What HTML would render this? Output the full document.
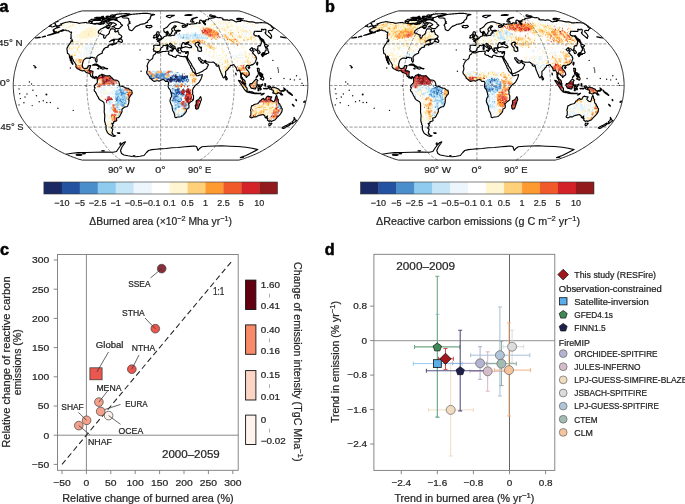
<!DOCTYPE html>
<html><head><meta charset="utf-8"><style>
html,body{margin:0;padding:0;background:#fff;}
svg{display:block;will-change:transform;}
text{font-family:'Liberation Sans',sans-serif;}
</style></head><body>
<svg width="685" height="504" viewBox="0 0 685 504">
<defs>
<clipPath id="landclip"><path d="M56.8,26.1L57.7,25.8L58.7,25.6L59.5,25.4L60.3,25.3L61.6,25.0L61.4,24.5L61.0,24.1L60.7,23.9L61.6,23.7L62.6,23.4L64.4,22.8L65.9,22.3L66.9,22.2L67.9,22.0L68.9,21.8L69.8,21.6L70.2,21.7L70.7,21.9L71.3,21.9L72.0,22.0L72.6,22.1L73.2,22.2L73.7,22.3L74.2,22.4L74.8,22.5L75.4,22.5L76.0,22.5L76.6,22.5L76.9,22.7L77.3,22.8L77.8,22.9L78.3,23.0L78.7,23.2L79.0,23.4L79.9,23.2L80.7,23.0L81.6,23.0L82.5,22.8L83.4,22.7L84.1,22.6L84.7,22.6L85.4,22.5L86.1,22.3L86.4,22.6L86.7,22.9L87.2,23.0L87.7,23.0L88.5,22.9L89.2,22.7L89.6,22.9L90.0,23.1L90.4,23.3L91.0,23.3L91.5,23.4L92.1,23.4L92.5,23.6L92.9,23.8L93.4,23.9L93.9,24.0L94.4,24.1L95.2,24.1L96.0,24.0L97.3,23.5L97.6,23.8L98.0,24.1L98.6,24.2L99.3,24.3L99.9,24.3L100.5,24.3L101.1,24.3L102.5,23.7L103.1,24.1L104.7,23.0L105.0,22.2L105.4,21.4L106.7,21.1L106.8,21.8L106.7,22.6L107.3,22.8L107.8,23.1L107.9,23.7L108.3,23.9L108.8,24.1L110.3,23.0L110.9,22.9L111.6,22.8L112.2,23.2L111.2,24.5L110.3,25.0L109.4,25.5L108.8,25.4L108.2,25.4L107.6,25.3L106.4,26.1L105.2,27.0L104.3,27.4L103.4,27.8L102.2,28.4L100.9,29.0L99.9,29.9L98.8,30.7L98.3,31.7L98.5,33.1L99.3,33.2L100.1,33.3L100.7,33.7L101.3,34.1L101.9,34.4L102.6,34.7L103.4,34.9L104.2,35.0L103.8,35.9L103.5,36.8L104.0,38.1L105.0,38.1L105.6,37.2L106.0,36.3L106.3,35.4L107.3,34.9L108.3,34.3L109.4,32.8L109.4,31.5L110.1,30.3L110.7,28.9L111.5,28.8L112.3,28.8L113.0,28.9L113.8,29.0L114.4,29.7L115.4,29.9L115.0,30.7L114.7,31.5L115.2,31.8L115.7,32.1L117.0,31.3L118.2,30.4L117.9,31.7L118.3,32.3L118.8,32.8L118.9,34.1L119.4,34.5L120.0,34.8L120.5,35.1L121.1,35.4L121.8,36.3L121.6,37.6L120.1,38.2L119.1,38.7L118.0,39.2L117.3,39.2L116.6,39.2L115.9,39.2L115.0,39.3L114.2,39.4L113.3,39.4L112.5,39.8L111.6,40.1L110.6,40.9L109.6,41.7L110.7,41.1L111.9,40.5L112.6,40.4L113.4,40.3L114.1,40.1L114.5,40.5L113.8,41.2L113.7,42.1L114.3,43.0L115.1,43.2L116.0,43.4L116.9,42.6L116.8,43.2L115.9,43.6L115.1,43.9L114.3,44.2L113.5,44.4L111.9,45.2L113.3,43.7L112.6,43.8L111.8,43.9L110.9,44.4L109.6,44.9L108.6,45.2L107.9,46.2L108.3,46.9L107.8,47.1L106.6,47.4L105.1,47.8L104.7,48.5L103.9,49.4L103.5,49.0L103.4,50.1L102.5,51.1L102.1,51.7L102.4,52.9L101.5,53.4L100.2,54.1L99.0,54.8L97.8,55.6L96.9,56.6L96.7,57.7L96.9,59.2L97.1,60.7L96.8,61.9L96.2,62.2L96.0,61.5L95.6,61.0L95.2,59.8L95.4,58.7L94.8,57.8L94.2,57.7L93.3,57.9L92.7,57.4L91.5,57.3L90.3,57.6L90.3,58.5L89.3,58.6L88.2,58.1L86.8,58.0L85.8,58.4L84.4,59.3L83.4,60.5L83.1,61.6L82.6,63.3L82.4,64.2L82.3,65.1L82.5,66.3L83.0,67.7L84.0,68.4L84.8,68.7L86.0,68.3L86.8,68.3L87.7,67.5L88.0,66.1L89.6,65.6L90.8,65.5L90.3,67.0L89.9,68.4L89.3,69.6L89.1,70.7L89.7,70.9L90.6,70.8L91.4,70.8L92.5,71.2L93.1,71.7L92.7,73.5L92.6,74.4L92.4,75.3L92.9,76.2L93.7,77.2L94.5,77.3L95.5,76.7L96.2,76.6L97.1,77.5L97.5,77.9L97.0,78.7L96.6,77.8L95.7,77.3L95.0,77.9L95.2,78.7L94.5,78.4L93.9,77.9L92.9,78.0L92.4,77.5L91.6,76.6L90.7,76.3L90.6,75.3L90.0,74.1L89.4,73.4L88.7,73.3L87.7,73.0L86.4,72.6L85.6,72.0L84.7,70.8L83.7,70.5L82.4,71.1L81.1,70.5L79.9,70.1L78.6,69.3L77.5,68.7L76.4,67.8L75.8,66.7L76.1,65.5L75.9,64.6L75.3,63.6L74.6,62.3L73.7,61.4L73.3,60.1L72.7,59.0L72.2,58.1L72.0,56.6L70.9,56.1L70.6,57.1L71.2,58.3L71.4,59.9L72.0,61.0L72.1,61.9L72.3,62.8L73.1,64.0L72.5,64.3L72.1,63.3L71.2,62.6L71.4,61.4L70.6,60.7L70.1,59.9L70.5,59.2L69.6,57.8L69.4,56.3L69.3,55.3L68.9,54.2L68.3,53.8L67.4,53.5L67.4,52.6L67.2,51.4L67.2,50.5L67.0,50.1L67.0,48.8L67.0,48.1L67.8,46.9L68.1,45.9L69.3,44.4L70.3,42.9L70.9,41.8L71.0,40.9L72.1,41.0L72.1,41.7L72.6,40.3L72.0,39.6L71.7,39.0L71.2,38.8L70.6,38.5L71.2,37.4L71.0,36.3L71.1,35.4L70.9,34.7L71.2,33.7L71.6,32.1L70.9,32.2L70.2,32.2L69.7,31.7L69.3,31.4L68.8,31.0L68.1,30.7L67.3,30.7L66.5,30.7L66.2,30.4L65.9,30.0L65.1,30.1L64.3,30.3L62.7,30.9L61.7,31.1L60.8,31.4L61.9,30.2L63.3,29.7L62.2,30.1L61.2,30.4L59.1,31.5L57.9,32.3L56.8,32.7L55.8,33.1L53.5,34.0L51.8,34.5L50.1,34.9L48.5,35.3L47.4,35.5L49.2,34.8L51.0,34.2L52.2,33.8L53.3,33.4L55.2,32.6L56.6,31.8L55.8,31.7L55.0,31.8L54.3,31.9L53.4,31.8L54.5,30.9L53.9,30.8L53.2,30.7L53.1,30.2L53.8,29.4L55.4,28.5L56.4,28.0L57.2,27.9L57.9,27.8L59.8,27.0L58.7,27.0L58.1,27.0L57.6,27.0L56.7,26.9L56.6,26.4ZM97.5,77.9L98.6,76.7L99.1,75.7L100.2,75.1L101.2,74.9L102.0,74.1L102.6,74.6L102.1,75.3L102.3,76.2L102.7,76.7L102.8,75.5L103.6,74.8L104.0,74.9L105.0,75.7L106.4,75.7L107.2,75.9L108.0,76.1L108.8,75.8L109.7,75.6L110.2,76.1L110.8,76.7L111.2,77.6L112.0,77.9L113.0,79.0L114.0,79.9L114.8,80.0L115.6,80.0L116.8,80.3L118.1,81.1L118.7,81.6L119.2,83.2L119.6,84.6L119.2,85.5L120.5,86.0L121.1,86.2L122.5,86.4L123.9,87.0L125.0,87.6L125.8,87.9L126.6,88.2L127.4,88.2L128.2,88.3L129.5,89.4L130.7,90.1L131.7,90.3L131.9,91.4L132.2,92.4L132.0,93.8L131.4,94.6L130.4,95.7L129.7,97.1L129.0,98.0L129.0,99.1L129.0,100.3L128.9,102.0L128.6,103.5L128.2,104.5L127.7,105.9L127.0,106.7L126.0,106.8L124.8,107.1L123.8,107.7L122.7,108.4L121.9,109.6L122.0,110.5L122.1,111.4L121.6,112.5L121.1,113.7L120.3,114.9L119.8,116.2L119.1,117.0L118.5,117.7L117.3,117.8L116.2,118.2L116.6,119.3L116.8,120.6L115.8,121.3L114.9,121.4L113.9,121.6L113.4,122.0L113.8,123.0L112.9,123.5L111.8,123.4L112.6,124.6L113.2,125.1L112.5,125.7L112.6,126.9L111.8,127.2L111.4,128.1L112.9,129.3L112.5,130.2L112.3,131.6L111.9,132.5L112.7,133.6L112.1,133.8L113.2,134.7L114.1,135.3L114.9,135.6L115.7,135.8L115.1,136.1L114.5,136.3L113.9,136.4L113.2,136.2L112.4,136.0L111.5,135.6L110.6,135.1L109.2,134.2L107.6,132.9L107.1,131.8L106.6,130.7L106.2,129.8L105.9,128.9L106.2,128.0L105.9,126.6L106.2,125.7L105.3,124.3L105.4,123.4L104.8,122.0L104.6,121.1L104.5,120.2L104.6,118.8L104.7,117.4L104.8,116.0L104.7,114.6L104.5,113.7L104.3,112.8L104.2,111.9L104.2,110.9L104.3,110.0L104.3,109.1L104.3,108.2L104.2,107.2L104.3,106.3L104.3,105.4L104.2,104.5L104.1,103.5L103.8,102.4L102.8,101.5L101.5,100.8L100.7,100.3L99.8,99.7L98.7,98.5L98.4,97.3L97.5,96.1L96.8,94.8L96.4,93.8L95.9,92.9L95.3,91.8L94.4,91.1L94.1,89.7L94.7,88.7L95.1,87.8L94.4,87.2L94.4,86.2L94.8,85.3L95.1,84.7L95.9,84.3L96.3,83.6L97.1,82.9L97.4,82.0L97.3,80.9L97.3,79.5L97.0,78.7ZM146.9,66.1L147.6,64.7L147.8,63.5L148.6,62.4L149.0,61.4L150.1,60.3L151.1,59.6L152.3,58.7L152.8,57.9L153.0,56.8L153.3,55.4L154.3,54.5L155.3,53.9L155.8,52.7L156.1,52.4L156.5,52.3L157.5,52.9L158.2,53.0L159.0,53.0L159.8,52.7L160.6,52.4L161.7,51.7L162.5,51.6L163.2,51.5L164.0,51.5L164.8,51.5L165.5,51.4L166.3,51.3L167.0,51.1L167.8,51.0L168.4,51.2L169.0,51.3L168.6,51.7L168.9,52.7L168.3,53.8L168.7,54.2L169.3,54.8L170.3,55.2L171.3,55.4L172.2,55.6L172.7,56.4L173.5,56.6L174.3,56.8L175.5,57.5L176.2,56.8L176.2,55.9L177.3,55.2L178.5,55.3L179.7,55.9L180.2,56.3L181.2,56.4L182.1,56.5L183.3,56.8L184.4,56.4L185.6,56.6L186.8,56.7L187.3,56.5L187.7,58.2L187.4,59.6L187.0,59.7L187.7,61.0L188.4,62.4L188.9,63.3L189.3,64.2L189.8,65.1L190.5,66.1L190.6,67.0L190.7,67.9L191.7,68.8L192.0,69.8L192.3,70.7L192.8,71.3L193.8,72.3L194.9,73.5L195.7,73.9L195.8,74.8L196.8,75.8L198.0,75.6L198.8,75.4L199.6,75.1L200.4,75.0L201.2,74.9L202.3,74.6L202.1,75.9L201.7,77.2L201.3,78.1L201.0,79.0L200.2,80.4L199.4,81.8L198.2,83.2L197.4,83.8L196.5,84.4L195.7,85.2L194.9,86.0L194.1,87.2L193.4,88.0L193.0,89.0L192.7,89.9L192.4,91.1L192.8,92.0L192.6,93.4L192.9,94.8L193.5,95.7L193.5,97.1L193.5,98.0L193.5,98.9L193.3,99.8L192.1,101.0L191.2,101.5L190.4,102.0L189.5,103.1L188.5,103.8L188.9,104.9L189.0,106.0L188.9,107.7L188.0,108.4L186.8,109.1L186.6,110.0L186.3,111.4L185.8,112.3L184.9,113.3L184.0,114.4L182.7,115.6L181.5,116.5L180.5,116.8L179.1,117.0L178.0,117.0L177.0,117.3L176.0,117.7L175.1,117.2L174.8,117.0L174.8,115.8L174.6,114.6L174.1,113.3L173.6,112.0L172.7,110.5L172.5,109.6L172.3,108.6L172.2,107.7L172.1,106.8L172.0,105.9L171.2,104.5L170.8,103.5L170.4,102.6L170.0,101.2L170.1,100.3L170.4,98.9L170.9,97.5L171.6,96.6L171.7,95.7L171.3,94.3L171.2,93.4L170.9,92.4L170.6,91.5L170.5,90.9L170.2,89.9L169.5,89.0L168.7,88.1L168.2,86.9L168.1,85.5L168.3,84.6L168.6,83.2L168.6,82.3L168.1,81.8L167.5,81.3L166.7,81.3L165.5,81.5L164.6,80.4L164.2,79.7L163.0,79.6L162.2,79.7L161.4,79.9L160.6,80.4L159.7,80.9L158.9,81.1L158.1,80.8L156.9,80.7L155.6,81.0L154.4,81.4L153.6,81.1L152.8,80.5L152.0,79.8L151.2,79.1L150.3,78.6L149.8,77.9L149.7,76.9L148.7,75.9L148.3,75.3L147.9,74.6L146.9,73.9L146.9,73.0L146.5,71.9L146.9,71.2L147.2,70.5L147.5,69.3L147.7,68.4L147.3,67.5L147.5,67.0L147.1,66.1ZM200.6,96.6L201.1,98.0L201.3,98.9L201.4,99.8L200.7,101.2L200.3,102.6L199.8,104.0L199.4,105.2L199.0,106.3L198.7,107.2L198.4,108.2L198.0,108.6L197.2,108.9L196.3,109.1L195.6,108.4L195.5,107.2L195.4,106.3L195.3,105.4L195.9,104.5L196.3,103.1L196.2,102.2L196.1,101.2L196.5,100.5L197.8,100.1L198.6,99.4L199.5,98.3L200.2,97.1ZM156.2,52.2L155.7,51.5L154.9,51.1L153.7,51.3L153.9,50.1L153.3,49.6L153.8,48.3L154.0,47.1L153.6,45.8L154.6,45.1L155.4,45.2L156.1,45.2L156.9,45.3L157.6,45.4L158.5,45.4L159.4,45.4L159.7,44.4L159.7,43.0L159.0,41.9L158.0,41.5L157.3,41.2L157.2,40.7L158.4,40.5L159.5,40.6L159.3,39.7L159.8,40.0L160.7,39.9L161.6,39.2L162.3,38.4L163.0,38.2L163.4,37.7L163.9,36.8L164.7,36.4L165.4,36.3L166.5,35.9L166.4,35.0L166.0,33.7L166.3,33.2L166.9,32.9L167.6,32.7L167.5,33.7L167.7,34.1L167.4,35.0L168.0,35.7L168.8,35.7L169.5,35.5L170.2,35.9L170.9,35.7L171.5,35.6L172.5,35.2L173.2,35.2L173.9,35.5L174.6,35.1L174.9,34.7L174.7,33.4L175.0,33.0L175.6,32.7L176.5,33.2L176.8,32.6L176.1,32.0L176.0,31.4L176.7,31.2L177.3,31.0L178.1,31.1L178.9,31.1L179.6,30.9L180.4,30.7L179.1,30.3L178.1,30.3L177.5,30.4L176.9,30.5L176.2,30.7L175.6,30.8L175.2,30.4L174.4,30.0L174.4,29.2L174.0,28.4L174.8,27.8L175.5,27.0L176.3,26.5L176.2,26.1L175.3,25.9L174.4,25.9L173.9,26.3L173.8,27.0L173.2,27.6L172.5,28.0L171.9,28.5L171.7,29.4L171.7,30.0L172.6,30.5L172.9,31.0L172.4,31.5L171.7,32.0L171.6,32.8L171.3,33.7L170.6,34.1L170.2,34.7L169.3,34.7L169.0,33.9L168.8,33.4L168.3,32.6L168.0,32.0L167.6,31.3L167.3,31.5L166.8,31.6L166.1,32.2L165.2,32.4L164.3,32.0L164.0,31.3L163.8,30.3L163.8,29.4L163.9,28.6L165.0,28.3L165.9,27.8L166.8,27.2L167.7,26.5L168.2,25.7L168.9,24.9L169.5,24.1L170.1,23.7L170.9,23.1L171.7,22.7L172.3,22.5L172.9,22.4L173.4,22.3L174.0,22.1L174.5,22.0L175.1,21.8L175.7,21.8L176.2,21.8L177.1,21.9L178.1,22.1L178.7,22.3L179.7,22.7L180.4,23.0L181.2,23.2L182.0,23.4L182.8,23.6L183.6,23.9L184.3,24.1L185.0,24.4L185.7,25.1L185.1,25.6L184.2,25.7L183.6,25.6L182.9,25.5L182.1,25.7L182.2,26.5L182.5,27.2L183.5,27.4L184.2,27.5L184.3,27.0L185.2,26.9L185.9,27.0L186.3,25.5L187.4,25.6L187.4,24.9L186.8,23.9L187.8,23.7L188.5,24.1L189.2,24.2L189.8,24.4L190.6,24.1L191.3,24.0L192.0,23.8L193.0,24.0L193.5,23.9L194.1,23.7L194.6,23.6L195.1,23.5L196.2,23.7L196.5,23.4L196.4,22.7L197.4,22.8L198.1,23.0L198.8,23.1L199.5,23.2L200.1,23.4L200.1,22.9L199.6,22.1L199.6,21.6L199.7,20.8L199.9,20.3L200.6,20.1L201.7,20.5L202.4,21.2L202.4,21.8L203.2,22.3L203.7,23.4L204.7,24.0L205.0,24.9L205.5,24.5L205.4,23.7L204.8,23.2L203.8,22.2L202.9,21.6L203.2,20.9L203.9,21.1L204.9,21.7L205.6,21.4L204.6,20.9L205.1,20.8L205.7,20.8L205.8,19.9L206.5,19.8L207.1,19.7L207.6,19.7L208.2,19.7L208.7,19.7L208.7,19.2L208.4,18.7L209.1,18.5L209.7,18.4L210.1,18.3L210.6,18.2L211.0,18.1L211.5,18.1L212.1,18.1L212.6,18.0L213.0,18.0L213.5,17.9L213.9,17.8L214.3,17.7L214.6,17.5L214.9,17.3L215.2,17.1L215.5,16.9L216.2,17.1L216.9,17.2L218.3,17.7L218.9,17.7L219.5,17.6L220.1,17.6L221.0,17.8L221.8,18.0L222.9,18.6L223.0,19.2L222.6,19.6L223.3,19.7L224.0,19.9L224.7,19.8L225.4,19.8L226.0,19.8L226.6,19.9L227.2,19.9L228.0,20.1L228.7,20.2L229.5,20.4L229.9,20.1L230.2,19.9L230.8,19.9L231.4,19.9L232.0,19.9L232.9,20.2L233.8,20.5L234.3,21.1L235.6,21.7L236.8,22.0L236.9,21.3L237.9,21.4L238.7,21.4L239.4,21.4L240.1,21.4L240.8,21.4L240.3,20.8L240.7,20.5L241.4,20.5L242.2,20.5L243.1,20.7L244.0,20.8L244.8,20.9L245.6,21.0L246.3,21.1L247.9,21.5L249.3,21.9L249.9,21.8L250.6,21.8L251.2,21.8L251.8,21.9L252.5,21.9L253.4,22.1L254.3,22.3L255.6,22.9L256.1,22.8L256.7,22.8L257.5,22.8L258.3,22.9L258.9,22.8L259.5,22.7L260.1,22.6L260.7,22.5L261.5,22.6L262.4,22.7L263.0,22.7L263.7,22.7L264.3,22.7L265.3,22.9L266.3,23.0L267.8,23.4L269.3,24.4L270.8,25.4L272.2,26.4L272.0,26.9L271.2,26.8L274.1,28.2L273.8,28.6L273.4,28.8L273.0,29.0L272.6,29.2L272.4,29.5L272.2,29.9L272.1,30.3L272.0,30.7L270.9,30.5L269.8,30.3L269.4,30.5L269.0,30.7L268.3,30.9L268.4,31.5L268.7,32.4L270.0,33.3L270.5,34.0L271.2,35.0L271.5,35.9L271.7,36.8L271.1,37.2L271.0,38.5L269.6,37.2L268.0,35.9L266.4,34.6L265.4,33.4L265.1,32.6L265.9,32.2L265.8,31.3L265.9,30.5L266.1,29.9L265.2,29.2L264.5,29.3L263.8,29.4L263.8,29.9L262.0,29.2L261.4,29.4L261.8,30.7L261.7,31.1L261.1,31.5L260.0,31.4L259.1,31.3L258.2,31.3L257.6,31.3L257.0,31.4L255.8,31.2L255.3,31.3L254.7,31.4L254.2,31.9L254.3,32.6L253.9,33.3L253.7,33.8L254.2,35.0L255.9,36.1L256.5,35.7L258.1,36.3L259.2,37.4L260.0,39.0L260.7,39.9L261.4,40.8L261.2,41.9L261.4,43.0L261.0,43.9L260.6,45.0L260.1,45.9L258.8,45.6L258.1,46.1L257.8,46.4L257.9,47.6L258.0,48.1L257.6,48.7L257.0,49.2L258.0,49.9L259.0,50.8L259.8,51.7L260.2,52.8L259.7,53.1L259.1,53.5L258.4,53.7L257.9,52.8L257.6,51.7L257.3,50.8L256.6,50.5L255.8,50.3L255.4,49.6L254.5,48.7L253.8,48.7L253.1,49.2L252.6,49.6L252.4,48.9L252.5,48.1L251.8,47.7L251.3,48.2L250.8,48.7L250.3,49.3L249.8,49.6L250.6,50.4L251.5,51.1L252.4,50.6L253.3,50.8L254.1,50.9L253.3,51.6L252.9,52.3L252.5,53.1L253.6,53.8L254.5,55.0L255.7,56.2L256.1,57.0L255.9,57.6L256.5,57.8L256.5,59.0L256.2,59.6L255.9,60.4L255.6,61.4L255.3,62.2L254.8,62.8L254.0,63.6L253.2,64.4L252.0,64.9L251.4,64.7L250.7,65.3L249.6,65.7L249.1,66.4L248.6,65.6L247.5,65.4L246.7,65.6L246.3,66.4L245.8,67.2L245.7,67.9L246.2,68.7L246.6,69.4L247.5,70.4L248.2,71.2L248.8,72.1L249.3,73.3L249.4,74.7L248.9,75.3L247.8,75.9L247.4,76.4L246.3,77.5L246.0,76.8L246.1,76.1L245.6,75.9L244.8,75.7L244.3,74.9L243.7,74.2L242.6,73.8L242.5,73.1L241.7,73.1L241.7,74.1L241.3,75.9L241.5,77.0L242.4,77.8L242.6,78.8L243.2,79.1L244.0,79.8L244.7,80.5L245.1,81.5L245.2,82.9L245.8,84.1L245.2,84.3L244.4,83.6L243.4,82.8L243.0,81.9L242.5,80.9L242.4,79.6L241.9,79.2L240.9,77.9L240.7,77.2L240.8,75.8L240.6,74.4L240.7,73.3L240.2,72.1L239.7,70.9L239.4,70.1L238.5,70.1L237.8,70.9L237.3,70.7L236.8,70.3L236.7,69.0L236.2,67.9L235.7,67.1L235.1,66.5L234.5,65.8L234.0,64.9L233.5,64.6L233.0,64.7L232.5,65.2L231.9,65.4L231.2,65.4L230.3,65.6L230.2,66.4L229.9,67.1L229.0,67.6L228.3,68.6L227.4,69.8L227.0,70.2L226.3,70.9L225.6,71.4L225.6,73.0L225.8,73.9L225.5,75.1L225.5,76.0L225.0,76.0L224.8,76.7L224.3,77.4L223.8,78.0L223.3,77.6L222.7,76.7L222.2,75.3L221.8,74.4L221.3,73.5L220.8,72.1L220.3,70.9L219.8,69.8L219.4,68.4L219.1,67.5L219.0,66.5L218.8,65.6L218.4,65.0L217.9,66.1L217.1,66.3L216.3,65.6L215.8,64.9L216.5,64.5L216.8,64.2L215.4,63.9L215.1,63.5L214.3,62.8L213.9,62.5L213.5,62.0L212.7,62.1L211.9,62.2L210.9,62.2L209.9,62.2L209.5,62.3L208.7,62.1L207.9,62.0L207.1,61.9L206.3,61.7L205.7,60.6L205.1,60.3L204.6,60.9L203.8,61.0L203.0,60.7L202.1,60.1L201.3,59.7L200.6,58.8L200.0,57.7L199.4,57.7L198.9,57.7L198.3,57.8L198.6,58.9L199.2,60.0L199.8,60.5L200.4,61.3L200.7,62.0L201.0,62.6L201.3,61.4L201.6,61.5L201.7,62.8L202.4,63.1L203.6,63.1L204.3,62.4L205.1,61.6L205.3,61.3L205.5,62.5L206.2,63.4L207.3,63.7L208.4,64.7L208.1,65.7L207.5,66.5L207.0,67.5L207.0,68.0L206.1,68.9L205.1,69.5L204.2,69.9L202.8,71.1L201.9,71.5L201.1,71.9L200.3,72.3L199.1,72.9L198.3,73.2L197.5,73.5L196.7,73.8L195.9,73.8L195.7,73.0L195.2,71.8L195.1,70.9L194.9,70.0L194.3,69.0L193.7,68.1L193.1,67.2L192.3,66.3L191.8,65.3L191.6,64.4L191.0,63.3L190.4,62.6L189.9,61.6L189.3,60.7L188.6,59.8L188.0,59.3L188.0,58.2L187.7,58.7L187.6,59.6L187.1,59.1L186.2,57.9L185.9,57.3L185.8,56.6L186.8,56.7L187.3,56.5L187.6,55.8L187.8,55.1L188.1,54.1L188.3,53.5L188.2,52.7L188.3,52.2L188.1,51.5L187.8,51.6L187.1,51.5L186.6,51.9L185.9,52.1L185.1,51.7L184.3,51.5L183.9,51.9L183.2,52.0L182.4,51.6L181.6,51.4L181.4,50.8L181.2,50.1L180.7,49.9L180.8,49.2L180.4,49.0L180.4,48.3L180.9,48.1L181.6,48.1L182.3,47.9L182.7,47.8L182.3,47.5L183.0,47.5L183.8,47.4L184.8,46.9L185.9,46.7L187.1,47.0L187.9,47.3L189.1,47.7L190.2,47.6L191.3,47.6L191.7,47.0L191.4,46.2L190.6,45.7L189.3,44.9L188.5,44.4L188.1,43.9L187.7,44.1L187.4,43.8L187.9,43.1L188.5,42.4L188.9,42.0L188.0,41.9L187.3,42.4L186.2,42.8L186.0,43.3L186.5,43.7L187.3,43.6L186.7,43.9L185.9,44.4L185.2,44.4L184.6,43.8L185.0,43.1L184.2,42.9L183.5,42.6L182.9,42.6L182.6,43.2L182.2,43.7L182.3,44.1L181.7,44.4L181.7,45.1L181.3,45.6L181.3,46.2L181.5,46.8L182.2,47.3L181.6,47.6L180.8,47.7L180.3,48.0L179.7,47.7L178.9,47.7L178.4,48.1L178.9,48.4L178.1,48.6L177.8,48.1L177.6,48.5L178.1,49.3L177.7,49.5L178.4,50.1L178.9,50.4L178.1,50.8L178.2,51.7L177.8,51.8L177.3,51.5L177.0,50.8L176.6,50.5L176.7,50.0L176.3,49.6L175.8,48.9L175.5,48.3L175.1,47.8L175.1,46.9L174.5,46.3L173.5,45.9L172.8,45.4L172.2,45.0L171.7,44.5L171.1,43.9L170.6,43.4L169.9,43.3L169.6,43.8L169.7,44.4L170.0,44.9L170.6,45.4L171.2,46.2L172.0,46.8L172.6,46.8L173.5,47.6L174.5,48.4L174.3,48.7L173.3,48.1L173.1,48.9L173.5,49.4L173.2,50.0L172.7,50.4L172.5,50.2L172.6,49.2L172.3,48.4L171.8,48.2L171.2,47.8L170.7,47.4L170.0,47.1L169.4,46.6L168.8,46.1L168.3,45.8L168.1,44.9L167.3,44.6L166.8,44.7L166.1,45.0L165.4,45.7L164.5,45.5L163.9,45.3L163.1,45.5L162.9,46.3L162.9,46.8L162.1,47.3L161.3,47.6L160.9,48.2L160.4,49.0L160.7,49.6L160.2,50.1L160.0,50.7L159.4,51.1L158.9,51.6L157.9,51.6L157.1,51.6L156.6,51.9ZM122.3,16.6L122.9,16.5L123.4,16.5L124.0,16.4L124.6,16.4L125.2,16.2L125.9,16.1L126.5,15.9L127.8,15.4L128.7,15.1L129.6,14.8L130.2,14.7L130.8,14.5L131.4,14.4L132.0,14.2L132.6,14.2L133.1,14.2L133.6,14.1L134.1,14.1L134.6,14.1L135.1,14.0L135.7,14.0L136.2,13.9L136.7,13.9L137.2,13.8L137.7,13.8L138.3,13.7L138.8,13.7L139.3,13.6L139.8,13.6L140.3,13.6L140.8,13.5L141.3,13.5L141.8,13.5L142.3,13.4L142.8,13.4L143.3,13.4L143.8,13.4L144.3,13.4L144.7,13.4L145.2,13.4L145.7,13.4L146.2,13.4L146.6,13.4L147.1,13.4L147.6,13.4L148.1,13.5L148.5,13.5L149.0,13.6L149.4,13.7L149.9,13.7L150.4,13.8L150.7,14.2L151.2,14.2L151.7,14.3L152.2,14.3L152.7,14.3L153.1,14.3L153.6,14.4L154.1,14.5L154.6,14.6L154.0,14.8L153.4,15.0L152.8,15.1L152.2,15.3L151.5,15.6L150.8,15.9L150.7,17.1L150.0,17.8L150.4,18.8L149.4,19.4L148.4,20.3L147.3,21.4L147.7,22.2L147.1,22.4L146.4,22.6L145.6,23.1L144.7,23.7L144.0,23.8L143.3,23.9L142.5,24.1L141.9,24.1L141.3,24.2L140.6,24.3L139.9,24.7L139.2,25.1L138.3,25.5L137.4,25.9L136.7,26.1L136.0,26.4L135.2,27.1L134.2,28.2L133.2,29.4L132.3,30.3L131.5,30.7L130.6,30.3L130.1,30.1L129.5,29.9L128.8,29.0L128.8,27.8L128.7,27.0L128.4,26.1L127.8,25.3L128.1,24.3L129.1,23.7L130.3,23.2L129.5,22.9L129.0,22.2L130.0,21.8L129.6,21.6L129.1,21.4L128.9,20.7L128.8,19.9L128.6,19.2L128.6,18.5L128.0,18.3L127.4,18.1L126.9,18.1L126.4,18.0L125.9,18.0L125.4,18.0L124.8,18.0L124.2,18.0L123.8,18.0L123.3,17.9L122.9,17.8L122.4,17.4L122.1,17.1ZM53.3,23.4L54.2,23.3L55.0,23.1L55.2,23.4L55.4,23.7L55.3,24.1L55.3,24.5L55.6,24.7L55.9,24.9L56.1,25.3L56.3,25.7L54.8,26.1L53.1,26.7L52.0,27.0L51.5,26.7L51.2,26.5L50.9,26.3L50.2,26.1L48.9,26.4L50.3,25.4L51.8,24.4ZM122.6,25.3L121.1,26.5L120.1,27.6L119.1,28.6L118.5,28.6L117.8,28.6L117.2,28.6L116.6,28.5L116.0,28.4L115.4,28.4L114.9,27.9L114.5,27.4L114.0,27.0L113.3,27.0L112.5,27.0L111.8,27.0L112.7,26.5L113.6,26.1L114.6,25.7L115.6,25.3L116.4,24.5L115.9,24.1L115.4,23.7L114.9,23.5L114.5,23.2L114.1,23.0L113.4,22.9L112.7,22.8L112.2,22.7L111.7,22.7L111.1,22.6L110.6,22.6L110.1,22.4L109.6,22.3L109.1,22.2L108.8,21.8L108.6,21.4L109.7,20.5L110.7,20.1L111.7,19.8L112.3,19.8L112.9,19.7L113.5,19.7L114.0,19.7L114.6,19.7L115.1,19.8L115.7,19.8L116.0,20.0L116.4,20.3L116.8,20.5L117.2,20.7L117.6,20.9L118.0,21.2L118.4,21.4L118.8,21.7L119.2,21.9L119.6,22.2L120.1,22.6L120.6,23.0L120.6,24.0L121.1,24.2L121.6,24.5L122.0,24.7ZM92.0,21.8L92.6,21.1L94.3,20.3L94.8,20.3L95.3,20.4L95.8,20.4L96.4,20.5L97.0,20.4L97.6,20.4L98.2,20.4L98.7,20.4L99.3,20.3L99.9,20.3L100.5,20.3L101.0,20.7L101.3,21.1L101.7,21.4L101.3,22.4L100.2,22.8L99.1,23.2L98.4,23.2L97.6,23.2L96.9,23.3L96.2,23.4L95.5,23.5L94.9,23.6L94.2,23.6L93.6,23.7L92.9,23.7L92.6,23.4L92.2,23.0L91.9,22.7L91.6,22.4ZM88.6,21.2L90.5,19.9L91.5,19.3L92.3,19.3L93.1,19.2L93.6,19.2L94.1,19.3L94.7,19.3L95.2,19.3L95.4,19.6L95.6,19.9L94.6,20.2L93.7,20.4L92.7,20.7L91.7,21.1L90.7,21.4L89.8,21.5L89.0,21.7ZM112.1,17.8L112.6,17.8L113.1,17.8L113.6,17.9L114.1,17.9L114.7,17.9L115.2,17.8L115.8,17.8L116.4,17.8L117.0,17.6L117.7,17.5L118.3,17.4L119.2,17.1L120.1,16.7L121.5,16.1L122.3,15.9L123.1,15.7L123.8,15.5L124.4,15.4L125.0,15.3L125.7,15.2L126.3,15.1L126.9,15.0L127.5,14.8L128.2,14.7L128.8,14.5L129.4,14.4L130.1,14.2L129.8,14.0L129.4,13.8L129.0,13.8L128.5,13.8L128.1,13.7L127.6,13.7L127.2,13.7L126.8,13.6L126.3,13.6L125.8,13.6L125.3,13.6L124.8,13.7L124.3,13.7L123.8,13.7L123.3,13.7L122.8,13.7L122.3,13.7L121.8,13.8L121.2,13.8L120.7,13.8L120.2,13.9L119.6,13.9L119.1,13.9L118.5,14.1L117.8,14.2L117.2,14.3L116.6,14.4L115.9,14.5L114.9,14.8L113.9,15.1L114.3,15.3L114.8,15.4L115.2,15.6L115.7,15.7L114.7,16.4L113.8,16.6L112.8,16.9ZM109.6,19.1L110.2,19.1L110.7,19.1L111.2,19.2L111.7,19.2L112.3,19.2L112.8,19.2L113.4,19.2L113.9,19.2L114.6,19.2L115.3,19.2L115.9,19.1L117.1,18.5L116.7,18.2L116.3,17.9L115.7,17.9L115.2,17.9L114.7,17.9L114.2,17.8L113.6,17.8L113.1,17.8L112.6,17.8L112.1,17.8L111.1,18.0L110.2,18.3ZM109.7,17.1L110.3,17.0L110.9,16.9L111.6,16.8L112.2,16.7L113.6,15.7L113.7,15.1L113.3,15.0L112.9,14.9L112.6,14.8L111.6,15.1L110.7,15.4L110.7,16.1L109.7,16.4L108.8,16.7L109.2,16.9ZM96.6,18.5L97.0,18.5L97.5,18.6L97.9,18.7L98.4,18.8L98.8,18.8L99.4,18.8L100.0,18.8L100.6,18.8L101.2,18.8L101.7,18.7L102.3,18.7L102.9,18.7L104.1,18.1L104.0,17.8L103.9,17.4L103.5,17.3L103.1,17.2L102.7,17.2L102.3,17.1L101.6,17.1L101.0,17.2L100.4,17.3L99.7,17.3L99.1,17.4L98.4,17.5L97.7,17.6L97.0,17.8ZM102.4,19.6L102.9,19.6L103.4,19.7L103.9,19.7L104.4,19.8L104.9,19.9L105.4,19.9L106.0,19.9L106.7,19.8L107.3,19.7L108.5,18.8L108.4,18.3L108.3,17.8L107.7,17.9L107.0,17.9L106.4,18.0L105.7,18.1L104.9,18.4L104.1,18.6L103.3,18.8ZM102.0,21.1L102.5,21.3L103.0,21.5L103.5,21.7L104.3,21.4L105.2,21.1L106.0,19.9L105.5,19.7L104.9,19.6L104.1,19.8L103.3,20.1L102.5,20.3ZM105.7,21.1L106.5,21.1L107.2,21.1L108.1,20.9L108.9,20.7L109.8,19.7L109.3,19.6L108.7,19.4L107.8,19.7L106.8,19.9ZM106.2,27.4L106.9,27.5L107.6,27.7L108.3,27.6L109.0,27.5L109.7,27.4L110.1,26.1L109.6,25.9L109.0,25.6L108.0,25.9L107.1,26.1L106.2,27.0ZM117.8,41.6L118.7,40.3L119.9,39.0L121.2,38.0L121.1,39.4L122.1,39.9L122.5,40.8L122.2,42.1L121.6,42.5L120.7,42.1L120.1,41.7L119.4,41.6L118.7,41.6ZM92.5,65.2L93.3,64.6L94.2,64.4L95.0,64.1L95.8,64.1L96.6,64.1L97.4,64.5L98.1,64.9L98.8,65.4L99.6,65.9L100.9,66.8L100.3,67.1L99.5,67.1L98.6,67.1L98.2,66.4L97.6,65.6L96.8,65.4L96.1,65.1L94.9,64.9L93.7,65.1ZM100.6,68.5L101.9,67.1L102.7,67.1L103.5,67.1L104.2,67.4L105.0,67.7L105.4,68.4L104.1,68.7L102.9,69.1L101.7,68.8ZM97.4,68.5L98.2,68.6L99.0,68.7L98.6,69.0L97.6,68.8ZM106.4,68.4L107.7,68.5L107.5,68.8L106.4,68.8ZM145.7,26.1L146.4,25.8L147.1,25.4L147.8,25.5L148.5,25.5L149.2,25.6L150.0,25.5L150.8,25.3L151.6,25.7L152.1,26.5L151.3,27.1L150.6,27.4L149.9,27.6L149.2,27.9L148.6,27.7L147.9,27.6L147.3,27.5L146.3,27.5L146.8,27.0L146.3,26.5ZM156.5,39.4L157.3,39.3L158.1,39.2L159.0,39.0L159.8,38.8L160.7,38.6L161.5,38.4L161.7,37.0L160.8,36.4L160.4,35.8L159.7,35.2L159.2,34.2L158.8,34.0L159.3,32.8L158.6,31.9L157.9,31.9L157.2,31.9L156.7,32.8L156.8,33.9L156.4,33.5L157.2,34.5L157.1,35.2L158.2,35.1L158.5,36.0L158.4,36.5L157.4,36.5L157.6,37.4L156.8,37.8L157.6,38.0L158.3,38.2L157.6,38.4ZM156.4,37.6L156.3,36.0L156.7,35.4L156.3,34.8L155.4,34.7L154.7,35.4L153.7,35.7L153.8,36.5L154.1,37.1L153.3,37.7L153.9,38.1L154.9,37.8L155.6,37.7ZM166.3,16.4L167.0,15.7L167.6,15.6L168.2,15.5L168.7,15.4L169.2,15.4L169.7,15.3L170.3,15.2L170.9,15.2L171.5,15.2L172.1,15.2L172.7,15.2L173.2,15.3L173.7,15.3L174.3,15.4L173.8,15.6L173.4,15.9L172.9,16.0L172.3,16.2L171.7,16.3L171.3,16.7L170.9,17.0L170.4,17.3L170.0,17.7L169.4,17.6L168.8,17.4L168.3,17.2L167.7,17.0L167.0,16.7ZM190.6,21.4L191.7,22.0L192.3,22.1L192.9,22.1L193.5,22.1L194.1,22.1L192.4,20.7L192.7,19.6L193.1,19.2L193.5,18.8L193.9,18.5L194.4,18.3L194.8,18.2L195.2,18.0L195.7,17.9L196.1,17.8L196.5,17.6L197.0,17.5L197.4,17.4L196.6,17.4L196.1,17.5L195.6,17.6L195.1,17.8L194.6,17.9L194.1,18.0L193.6,18.1L193.2,18.2L192.7,18.4L192.3,18.5L192.0,18.8L191.6,19.2L191.3,19.6L190.9,20.3ZM209.9,16.1L209.8,15.6L209.7,15.1L210.1,15.0L210.5,14.8L211.4,15.0L212.2,15.3L213.0,15.5L213.9,15.7L215.6,16.4L215.0,16.5L214.5,16.5L214.0,16.6L213.5,16.6L212.9,16.6L212.4,16.6L211.9,16.6L210.9,16.3ZM184.9,15.3L185.3,15.2L185.7,15.0L186.1,14.9L186.5,14.8L187.0,14.7L187.5,14.7L187.9,14.6L188.4,14.6L188.8,14.5L189.3,14.5L189.8,14.5L190.4,14.6L190.9,14.7L191.5,14.7L192.0,14.8L191.7,15.0L191.3,15.1L191.0,15.3L190.5,15.3L190.0,15.3L189.5,15.4L189.0,15.4L188.5,15.4L188.0,15.4L187.5,15.4L187.0,15.4L186.4,15.4L185.9,15.3L185.4,15.3ZM236.6,19.2L236.8,19.0L236.9,18.7L237.1,18.5L237.6,18.4L238.1,18.3L238.7,18.3L239.4,18.4L240.2,18.4L241.0,18.5L241.7,18.6L242.6,18.7L243.5,18.8L242.9,18.9L242.4,19.0L241.9,19.1L241.5,19.2L241.2,19.3L240.8,19.4L240.5,19.6L240.1,19.7L239.5,19.7L238.9,19.6L238.2,19.6L237.4,19.4ZM56.0,21.8L57.0,21.6L58.1,21.4L56.8,21.8ZM264.1,43.0L264.8,42.6L264.1,41.7L263.3,40.8L262.5,39.9L263.9,40.3L262.5,39.2L261.0,38.1L260.1,37.0L259.2,35.9L258.5,35.6L259.4,36.8L260.3,38.1L261.0,39.0L261.7,39.9L262.3,40.8L263.2,41.9ZM265.3,47.1L265.9,46.9L266.6,46.8L267.4,46.7L267.9,46.1L268.3,45.5L267.2,44.9L265.7,44.2L264.3,43.6L264.9,44.9L264.6,45.6ZM261.9,54.0L262.1,53.4L262.9,52.7L263.9,52.6L264.8,52.6L265.1,51.0L266.1,50.4L266.1,49.5L266.1,48.5L265.4,47.3L266.4,47.2L267.9,49.0L267.8,50.2L268.4,51.4L268.9,52.5L268.4,53.1L267.8,53.5L266.4,53.5L266.1,54.5L265.2,54.2L265.1,53.6L264.2,53.7L263.4,53.8L262.7,54.0L262.1,54.1ZM261.3,54.5L262.1,54.1L263.2,55.3L263.1,56.5L262.4,56.6L261.9,55.4L261.4,55.0ZM263.5,54.7L264.2,54.4L264.9,54.0L264.8,54.8L264.0,55.2ZM256.6,64.2L256.7,63.3L256.9,62.3L257.7,62.4L257.7,63.3L257.6,64.2L257.3,65.2ZM248.0,67.7L249.4,66.9L249.8,67.4L248.9,68.7ZM225.6,76.4L226.0,76.4L226.6,77.5L227.3,78.6L226.9,79.8L226.0,79.9L225.8,79.0L225.7,78.1ZM257.2,68.4L258.0,68.3L259.0,68.4L259.4,69.8L259.2,70.5L259.0,71.2L259.2,72.3L259.9,72.5L260.6,72.7L261.4,73.5L261.3,73.9L260.7,73.5L260.0,73.0L259.4,72.6L258.6,72.7L258.3,72.1L257.8,71.7L257.4,70.4L257.8,70.0ZM260.1,79.0L261.3,78.3L261.7,77.6L262.8,76.5L263.3,77.5L263.8,78.6L263.5,79.9L262.7,80.1L261.8,79.5L261.0,79.3ZM256.1,77.7L257.0,76.8L257.8,75.8L257.9,75.0L257.4,75.7L256.3,77.0ZM258.2,73.0L259.2,73.3L259.1,74.1L258.4,73.9ZM259.7,74.5L260.7,74.9L260.4,75.8L259.8,75.7ZM260.3,75.5L261.1,75.5L261.0,77.0L260.3,76.5ZM260.9,75.1L261.5,75.2L261.2,76.6ZM261.6,73.9L262.7,74.1L262.7,75.2L261.9,75.0ZM261.7,74.9L262.4,75.1L262.5,76.2L262.1,76.2L261.7,75.5ZM261.4,76.2L262.0,76.2L261.8,76.6L261.4,76.5ZM249.7,84.1L250.2,83.6L251.4,83.8L252.2,83.2L253.0,82.5L254.1,81.2L255.3,79.9L256.1,79.0L257.0,79.8L257.9,80.6L257.0,81.3L257.0,82.4L257.0,83.5L256.9,84.6L257.9,84.7L256.7,86.0L256.3,86.9L255.8,87.8L255.4,89.0L254.2,88.9L253.0,88.5L252.1,88.4L251.3,88.3L250.6,87.1L249.7,85.5ZM238.4,80.3L239.3,80.5L240.2,80.7L241.3,81.9L242.3,83.2L243.2,83.8L244.0,84.4L244.8,85.0L245.6,86.4L246.4,87.4L247.2,88.3L247.1,89.6L247.0,90.9L245.9,91.0L245.0,90.1L244.2,89.2L243.5,88.0L242.8,86.9L242.2,86.0L241.6,85.0L240.9,84.1L240.3,83.2L239.7,82.2L239.0,81.3ZM246.4,91.8L247.5,91.1L249.0,91.3L249.9,91.6L250.8,91.9L251.6,91.9L252.5,91.9L254.0,92.7L253.8,93.5L252.9,93.4L251.9,93.2L251.1,93.0L250.3,92.8L249.5,92.6L248.5,92.5L247.5,92.3ZM254.4,93.1L255.2,93.1L256.0,93.1L256.8,93.1L257.6,93.2L257.6,93.7L256.8,93.7L255.9,93.7L255.1,93.7L254.3,93.6ZM258.2,93.4L259.1,93.3L260.0,93.2L260.9,93.1L260.8,93.5L260.0,93.6L259.2,93.7L258.4,93.7ZM261.1,95.0L262.5,93.8L263.4,93.5L264.3,93.3L263.7,93.8L262.8,94.4L261.9,94.9ZM258.0,90.6L258.9,90.7L259.0,89.4L259.0,88.2L259.7,88.2L260.7,89.9L261.3,89.2L260.6,88.2L259.9,87.2L261.4,86.4L260.5,86.6L259.5,86.7L258.9,85.0L260.1,85.0L261.2,85.0L262.7,84.1L262.4,85.1L261.6,85.1L260.8,85.1L260.0,85.0L258.7,84.9L258.5,86.0L258.1,87.0L257.8,88.1L258.3,88.7L258.1,89.7ZM264.8,83.6L265.7,84.1L265.3,85.0L265.9,86.2L264.9,86.0L264.9,84.6ZM265.2,88.3L266.4,88.4L267.5,88.6L267.2,89.0L266.2,88.9L265.2,88.8ZM267.7,86.7L269.0,85.9L270.4,86.3L270.9,87.4L271.4,88.6L272.2,87.7L273.0,86.9L274.0,87.2L274.9,87.6L275.9,87.9L276.8,88.3L277.8,88.7L278.7,89.1L279.8,90.6L281.3,91.1L281.1,92.0L280.9,92.9L281.8,94.0L282.7,95.0L281.9,95.0L281.1,94.9L280.4,94.0L279.6,93.1L278.8,92.9L278.0,92.6L277.1,93.8L276.3,93.9L275.5,93.9L274.7,93.5L273.9,93.0L273.1,93.3L272.8,92.4L273.6,91.5L273.1,90.3L272.2,89.9L271.3,89.6L270.5,89.3L269.7,89.1L268.5,88.1L269.8,87.5L268.5,87.4ZM281.9,90.6L282.7,90.4L283.5,90.1L284.8,89.4L285.0,90.1L283.9,91.1L283.1,91.1L282.2,91.2ZM251.5,105.9L252.1,105.7L253.1,105.2L254.1,104.6L255.1,104.3L256.2,104.0L257.0,103.8L257.9,103.5L259.2,102.2L259.5,101.0L260.4,100.8L261.3,99.8L262.3,98.9L263.4,98.3L264.2,99.4L265.5,99.3L266.1,98.0L266.6,97.0L267.9,96.1L268.7,96.4L269.5,96.6L270.3,96.8L271.8,96.8L271.4,97.7L270.4,99.2L271.4,100.3L272.1,100.9L272.8,101.5L274.2,101.6L275.1,99.8L275.3,98.7L275.6,97.5L276.1,96.1L276.6,95.4L277.2,97.1L277.2,98.6L278.3,99.4L278.2,100.8L278.3,101.8L278.4,102.9L279.1,103.5L279.9,104.2L280.1,105.1L280.3,106.0L281.2,106.4L281.1,107.5L281.7,108.2L282.3,108.9L282.1,110.2L281.9,111.6L281.1,112.9L280.4,114.2L278.8,115.8L277.4,117.2L276.3,118.5L275.3,119.7L274.3,120.1L273.4,120.5L271.4,121.6L270.5,120.8L269.0,121.4L268.5,121.0L267.9,120.6L267.3,119.9L267.8,118.6L266.9,118.3L267.3,117.2L266.5,118.1L266.0,118.2L266.8,117.1L267.6,116.0L265.4,117.7L265.1,117.4L264.8,115.8L264.0,115.2L263.1,114.6L262.2,114.8L261.3,114.9L260.4,115.1L259.6,115.3L258.7,115.6L257.8,115.8L256.2,116.9L255.3,116.9L254.4,116.9L253.5,116.9L252.5,117.4L251.5,118.0L250.7,117.6L250.0,117.2L249.8,116.5L250.8,115.1L250.9,114.2L250.9,113.3L251.0,111.9L250.8,110.9L250.5,110.0L251.2,108.6L251.0,107.7L251.5,106.8ZM269.2,123.1L270.1,123.2L271.0,123.3L271.9,123.3L271.1,124.3L270.4,125.2L269.1,125.8L268.8,124.5ZM294.0,117.4L294.9,118.3L294.8,119.7L295.4,119.9L296.0,120.2L296.7,120.4L295.3,121.8L294.2,122.1L292.4,123.7L291.5,123.7L292.5,122.7L292.1,121.8L293.5,120.6L294.1,119.3L294.1,118.3ZM290.5,122.9L291.2,123.6L289.3,125.2L288.2,126.0L286.5,126.6L285.0,127.9L283.3,128.5L282.6,128.2L281.9,128.0L283.2,126.9L285.0,126.0L286.1,125.5L287.3,125.0L288.9,123.9ZM170.0,50.3L170.8,50.2L171.6,50.1L172.4,50.1L172.1,51.6L171.1,51.1L170.0,50.6ZM166.7,47.5L167.9,47.6L167.8,49.3L166.9,49.5L166.8,48.5ZM166.9,45.9L167.6,45.8L167.7,47.2L167.1,47.1ZM178.6,52.7L179.7,52.8L180.8,52.8L180.6,53.1L179.7,53.0L178.7,52.9ZM185.5,53.1L186.0,52.8L187.2,52.5L186.7,53.2L185.7,53.5ZM117.4,132.7L118.2,132.7L119.0,132.7L119.7,132.7L119.7,133.5L119.0,133.5L118.3,133.5ZM263.6,88.4L264.6,88.6L264.1,89.0ZM45.5,36.5L44.5,36.7L43.4,36.8L42.1,37.1L42.9,36.7L44.1,36.4L45.3,36.1ZM40.3,37.5L39.3,37.6L38.3,37.7L37.3,37.9L36.3,38.0L35.3,37.9L36.4,37.7L37.5,37.6L38.3,37.4L39.1,37.3L39.9,37.2ZM280.5,36.9L282.0,37.3L282.9,37.4L283.9,37.6L284.9,37.7L286.2,38.0L285.3,37.8L284.4,37.6L283.5,37.4L282.2,37.1L281.0,36.8ZM57.1,32.9L58.0,32.8L58.8,32.7L59.1,32.1L57.9,32.3ZM35.2,66.8L36.0,67.5L35.1,68.0L35.0,67.3ZM33.7,65.5L34.2,65.8L35.0,66.2L34.5,65.9ZM303.7,101.7L304.8,101.4L304.4,102.3L303.6,102.2ZM292.3,104.2L293.3,104.9L294.2,106.1L293.7,106.1L292.5,104.9ZM295.8,99.4L296.4,99.8L296.6,100.8L296.0,100.5ZM288.3,92.0L289.3,92.4L290.3,92.9L291.0,93.6L291.7,94.3L290.9,94.5L290.1,94.1L289.4,93.6L288.0,92.4ZM290.8,94.0L291.6,94.5L292.5,95.0L292.3,95.5L291.3,94.8ZM283.6,87.9L284.8,88.7L285.8,89.9L285.3,89.8L284.4,88.8ZM286.9,90.2L287.8,91.2L287.6,91.8L287.0,91.1ZM95.6,19.2L96.2,19.2L96.7,19.2L97.2,19.2L97.8,19.3L98.3,19.3L99.0,19.2L99.6,19.1L100.2,19.1L100.9,19.0L101.5,18.9L102.2,18.8L103.1,18.3L102.7,18.1L102.3,17.9L101.9,17.7L101.4,17.7L100.8,17.8L100.2,17.8L99.6,17.9L99.0,17.9L98.1,18.0L97.3,18.2L96.5,18.3ZM105.3,18.5L105.8,18.5L106.4,18.5L106.9,18.5L107.9,18.1L107.7,17.6L107.0,17.7L106.3,17.8ZM107.4,19.1L107.9,19.1L108.5,19.1L109.0,19.1L109.5,18.5L108.9,18.5L108.2,18.5ZM94.6,17.9L95.1,18.0L95.5,18.0L96.0,18.1L96.6,18.0L97.3,17.9L98.0,17.9L98.6,17.8L98.6,17.2L97.9,17.3L97.2,17.3L96.5,17.3L95.6,17.6ZM100.9,23.5L101.4,23.6L102.0,23.7L102.5,23.7L103.7,23.2L103.1,22.7L102.5,22.8L101.8,22.9ZM114.8,20.2L115.3,20.3L115.7,20.4L116.2,20.5L116.9,20.4L117.6,20.2L117.2,20.0L116.8,19.8L116.0,19.8L115.3,19.9ZM106.1,16.6L106.5,16.7L106.9,16.7L107.4,16.8L108.6,16.3L108.3,16.2L107.9,16.0L106.7,16.2ZM108.9,16.9L109.6,16.8L110.3,16.8L111.0,16.4L110.6,16.3L110.2,16.2ZM107.1,28.4L107.8,28.5L108.6,28.6L109.2,28.1L108.6,28.0L108.0,27.9ZM101.5,16.9L102.0,16.9L102.5,16.9L103.1,16.9L103.4,16.3L102.6,16.4L101.8,16.5ZM235.7,73.0L236.1,73.9L236.0,74.9L235.7,73.9ZM66.7,154.6L67.2,154.6L67.7,154.6L68.2,154.6L68.7,154.6L69.2,154.5L69.7,154.5L70.2,154.5L70.6,154.5L71.1,154.5L71.6,154.5L72.2,154.5L72.7,154.5L73.3,154.5L73.8,154.5L74.4,154.5L74.9,154.6L75.5,154.6L76.0,154.6L76.6,154.6L77.1,154.6L77.5,154.5L77.9,154.5L78.3,154.4L78.7,154.3L79.1,154.3L79.3,154.1L79.6,154.0L79.9,153.9L80.1,153.7L80.4,153.6L80.7,153.4L81.0,153.3L81.3,153.2L81.6,153.0L81.9,152.9L82.2,152.8L82.6,152.7L82.9,152.5L83.3,152.4L83.7,152.3L84.0,152.2L84.4,152.1L84.8,152.0L85.2,151.9L85.6,151.8L86.1,151.7L86.5,151.7L87.0,151.6L87.4,151.5L87.9,151.4L88.4,151.4L88.9,151.3L89.4,151.3L89.9,151.3L90.4,151.2L91.0,151.2L91.6,151.2L92.1,151.3L92.7,151.3L93.3,151.3L93.9,151.3L94.6,151.4L95.2,151.5L95.8,151.5L96.5,151.6L97.1,151.6L97.7,151.7L98.3,151.7L98.9,151.8L99.5,151.8L100.0,151.7L100.5,151.7L100.9,151.6L101.4,151.5L101.9,151.4L102.3,151.3L102.7,151.2L103.2,151.1L103.6,151.0L104.1,150.8L104.6,150.8L105.1,150.7L105.6,150.7L106.1,150.6L106.6,150.5L107.2,150.5L107.7,150.5L108.3,150.5L108.9,150.5L109.4,150.5L110.1,150.6L110.7,150.7L111.3,150.8L112.0,150.8L112.6,150.9L113.2,150.9L113.8,151.0L114.4,151.0L114.9,151.0L115.5,151.1L116.0,151.0L116.5,150.9L117.0,150.8L117.5,150.7L117.8,150.3L118.1,149.9L118.4,149.6L118.7,149.2L119.0,148.8L119.4,148.4L119.6,147.8L119.9,147.3L120.1,146.1L120.4,145.5L120.7,144.9L121.2,144.5L121.8,144.0L122.4,143.7L123.0,143.4L123.5,143.1L124.7,143.5L124.2,143.9L123.8,144.3L123.4,144.8L123.0,145.3L122.7,145.9L122.4,146.5L122.6,147.3L122.7,148.0L123.6,148.8L124.5,149.6L125.2,150.3L125.9,151.1L126.4,152.2L127.2,152.5L128.0,152.9L128.7,153.1L129.4,153.3L130.1,153.5L130.7,153.7L131.4,153.9L132.0,154.0L132.6,154.1L133.1,154.1L133.7,154.2L134.3,154.3L134.8,154.3L135.4,154.3L135.9,154.4L136.4,154.4L137.0,154.4L137.5,154.4L138.0,154.4L138.5,154.3L139.0,154.3L139.5,154.3L140.0,154.2L140.5,154.1L141.0,154.1L141.5,154.0L142.0,153.9L142.4,153.7L142.9,153.5L143.3,153.3L143.8,153.1L144.3,152.9L144.7,152.7L145.2,152.5L145.7,152.3L146.2,152.1L146.7,152.0L147.2,151.8L147.7,151.6L148.3,151.4L148.8,151.3L149.3,151.1L149.8,150.9L150.4,150.7L150.9,150.5L151.4,150.4L152.0,150.2L152.5,150.0L153.1,149.8L153.6,149.6L154.2,149.4L154.8,149.3L155.3,149.2L155.9,149.0L156.5,149.0L157.1,148.9L157.6,148.9L158.2,148.9L158.8,148.8L159.4,148.7L160.0,148.6L160.6,148.4L161.1,148.4L161.7,148.4L162.3,148.4L162.9,148.4L163.5,148.4L164.1,148.4L164.7,148.4L165.3,148.4L165.8,148.4L166.4,148.4L167.0,148.5L167.6,148.5L168.2,148.5L168.8,148.5L169.3,148.6L169.9,148.5L170.5,148.5L171.1,148.5L171.7,148.5L172.3,148.4L172.9,148.5L173.5,148.5L174.1,148.5L174.6,148.5L175.2,148.6L175.8,148.5L176.4,148.4L177.0,148.3L177.7,148.2L178.3,148.1L178.9,148.1L179.5,148.1L180.1,148.0L180.7,148.0L181.3,148.0L181.9,147.9L182.5,147.8L183.1,147.8L183.7,147.7L184.3,147.6L185.0,147.5L185.7,147.3L186.3,147.1L187.0,146.9L187.7,146.7L188.4,146.5L189.0,146.4L189.7,146.2L190.4,146.1L191.0,145.9L191.7,145.9L192.3,145.8L192.9,145.8L193.6,145.7L194.2,145.7L194.8,145.8L195.3,145.9L195.9,146.0L196.4,146.1L197.0,146.2L197.6,146.3L198.1,146.4L198.7,146.4L199.3,146.5L199.8,146.5L200.3,146.8L200.8,147.0L201.2,147.3L201.6,147.6L202.0,148.0L202.4,148.2L202.9,148.4L203.6,148.2L204.3,148.0L204.9,148.0L205.6,147.9L206.2,147.9L207.0,147.5L207.9,147.2L208.7,146.9L209.4,146.7L210.2,146.5L210.9,146.3L211.6,146.1L212.4,145.9L213.0,145.9L213.7,145.8L214.3,145.8L215.0,145.7L215.6,145.7L216.2,145.7L216.9,145.6L217.5,145.6L218.1,145.6L218.7,145.6L219.4,145.6L220.0,145.6L220.6,145.5L221.2,145.5L221.9,145.5L222.5,145.5L223.1,145.5L223.7,145.5L224.4,145.4L225.0,145.4L225.6,145.4L226.2,145.4L226.8,145.4L227.5,145.4L228.1,145.4L228.6,145.5L229.1,145.6L229.6,145.7L230.2,145.8L230.7,145.9L231.3,145.9L231.9,145.9L232.5,145.9L233.1,145.9L233.7,145.9L234.4,145.9L235.0,145.8L235.7,145.8L236.4,145.7L237.0,145.7L237.7,145.6L238.4,145.6L239.0,145.5L239.7,145.5L240.3,145.4L241.0,145.4L241.6,145.4L242.2,145.4L242.8,145.4L243.4,145.4L243.9,145.5L244.4,145.6L244.9,145.7L245.4,145.8L245.9,145.9L246.4,146.0L246.9,146.1L247.4,146.2L247.8,146.4L248.3,146.5L248.7,146.6L249.1,146.8L249.5,146.9L249.9,147.1L250.3,147.3L250.8,147.3L251.3,147.4L251.8,147.5L252.3,147.6L252.8,147.6L253.2,147.8L253.6,147.9L254.0,148.0L254.4,148.1L254.9,148.3L255.2,148.4L255.6,148.6L255.9,148.7L256.3,148.9L256.7,149.0L257.0,149.2L257.3,149.3L257.7,149.5L258.0,149.6L258.3,149.8L257.4,150.7L256.2,151.1L255.0,151.4L253.8,151.8L252.6,152.2L251.3,152.5L250.1,152.9L248.5,153.9L248.9,154.0L249.2,154.1L249.6,154.2L249.9,154.3L250.3,154.3L250.8,154.4L251.2,154.4L251.7,154.4L252.1,154.5L252.5,154.5L253.0,154.5L253.5,154.6L253.9,154.6L254.4,154.6L252.8,155.3L251.2,155.9L249.6,156.6L248.1,157.2L246.6,157.7L245.1,158.2L243.8,158.7L242.4,159.1L241.2,159.5L240.0,159.8L238.9,160.1L238.5,160.1L238.1,160.1L237.6,160.1L237.2,160.1L236.8,160.1L236.3,160.1L235.9,160.1L235.5,160.1L235.0,160.1L234.6,160.1L234.2,160.1L233.7,160.1L233.3,160.1L232.8,160.1L232.4,160.1L232.0,160.1L231.5,160.1L231.1,160.1L230.7,160.1L230.2,160.1L229.8,160.1L229.4,160.1L228.9,160.1L228.5,160.1L228.1,160.1L227.6,160.1L227.2,160.1L226.7,160.1L226.3,160.1L225.9,160.1L225.4,160.1L225.0,160.1L224.6,160.1L224.1,160.1L223.7,160.1L223.3,160.1L222.8,160.1L222.4,160.1L222.0,160.1L221.5,160.1L221.1,160.1L220.7,160.1L220.2,160.1L219.8,160.1L219.3,160.1L218.9,160.1L218.5,160.1L218.0,160.1L217.6,160.1L217.2,160.1L216.7,160.1L216.3,160.1L215.9,160.1L215.4,160.1L215.0,160.1L214.6,160.1L214.1,160.1L213.7,160.1L213.2,160.1L212.8,160.1L212.4,160.1L211.9,160.1L211.5,160.1L211.1,160.1L210.6,160.1L210.2,160.1L209.8,160.1L209.3,160.1L208.9,160.1L208.5,160.1L208.0,160.1L207.6,160.1L207.2,160.1L206.7,160.1L206.3,160.1L205.8,160.1L205.4,160.1L205.0,160.1L204.5,160.1L204.1,160.1L203.7,160.1L203.2,160.1L202.8,160.1L202.4,160.1L201.9,160.1L201.5,160.1L201.1,160.1L200.6,160.1L200.2,160.1L199.7,160.1L199.3,160.1L198.9,160.1L198.4,160.1L198.0,160.1L197.6,160.1L197.1,160.1L196.7,160.1L196.3,160.1L195.8,160.1L195.4,160.1L195.0,160.1L194.5,160.1L194.1,160.1L193.6,160.1L193.2,160.1L192.8,160.1L192.3,160.1L191.9,160.1L191.5,160.1L191.0,160.1L190.6,160.1L190.2,160.1L189.7,160.1L189.3,160.1L188.9,160.1L188.4,160.1L188.0,160.1L187.6,160.1L187.1,160.1L186.7,160.1L186.2,160.1L185.8,160.1L185.4,160.1L184.9,160.1L184.5,160.1L184.1,160.1L183.6,160.1L183.2,160.1L182.8,160.1L182.3,160.1L181.9,160.1L181.5,160.1L181.0,160.1L180.6,160.1L180.1,160.1L179.7,160.1L179.3,160.1L178.8,160.1L178.4,160.1L178.0,160.1L177.5,160.1L177.1,160.1L176.7,160.1L176.2,160.1L175.8,160.1L175.4,160.1L174.9,160.1L174.5,160.1L174.1,160.1L173.6,160.1L173.2,160.1L172.7,160.1L172.3,160.1L171.9,160.1L171.4,160.1L171.0,160.1L170.6,160.1L170.1,160.1L169.7,160.1L169.3,160.1L168.8,160.1L168.4,160.1L168.0,160.1L167.5,160.1L167.1,160.1L166.6,160.1L166.2,160.1L165.8,160.1L165.3,160.1L164.9,160.1L164.5,160.1L164.0,160.1L163.6,160.1L163.2,160.1L162.7,160.1L162.3,160.1L161.9,160.1L161.4,160.1L161.0,160.1L160.6,160.1L160.1,160.1L159.7,160.1L159.2,160.1L158.8,160.1L158.4,160.1L157.9,160.1L157.5,160.1L157.1,160.1L156.6,160.1L156.2,160.1L155.8,160.1L155.3,160.1L154.9,160.1L154.5,160.1L154.0,160.1L153.6,160.1L153.1,160.1L152.7,160.1L152.3,160.1L151.8,160.1L151.4,160.1L151.0,160.1L150.5,160.1L150.1,160.1L149.7,160.1L149.2,160.1L148.8,160.1L148.4,160.1L147.9,160.1L147.5,160.1L147.0,160.1L146.6,160.1L146.2,160.1L145.7,160.1L145.3,160.1L144.9,160.1L144.4,160.1L144.0,160.1L143.6,160.1L143.1,160.1L142.7,160.1L142.3,160.1L141.8,160.1L141.4,160.1L141.0,160.1L140.5,160.1L140.1,160.1L139.6,160.1L139.2,160.1L138.8,160.1L138.3,160.1L137.9,160.1L137.5,160.1L137.0,160.1L136.6,160.1L136.2,160.1L135.7,160.1L135.3,160.1L134.9,160.1L134.4,160.1L134.0,160.1L133.5,160.1L133.1,160.1L132.7,160.1L132.2,160.1L131.8,160.1L131.4,160.1L130.9,160.1L130.5,160.1L130.1,160.1L129.6,160.1L129.2,160.1L128.8,160.1L128.3,160.1L127.9,160.1L127.5,160.1L127.0,160.1L126.6,160.1L126.1,160.1L125.7,160.1L125.3,160.1L124.8,160.1L124.4,160.1L124.0,160.1L123.5,160.1L123.1,160.1L122.7,160.1L122.2,160.1L121.8,160.1L121.4,160.1L120.9,160.1L120.5,160.1L120.0,160.1L119.6,160.1L119.2,160.1L118.7,160.1L118.3,160.1L117.9,160.1L117.4,160.1L117.0,160.1L116.6,160.1L116.1,160.1L115.7,160.1L115.3,160.1L114.8,160.1L114.4,160.1L113.9,160.1L113.5,160.1L113.1,160.1L112.6,160.1L112.2,160.1L111.8,160.1L111.3,160.1L110.9,160.1L110.5,160.1L110.0,160.1L109.6,160.1L109.2,160.1L108.7,160.1L108.3,160.1L107.9,160.1L107.4,160.1L107.0,160.1L106.5,160.1L106.1,160.1L105.7,160.1L105.2,160.1L104.8,160.1L104.4,160.1L103.9,160.1L103.5,160.1L103.1,160.1L102.6,160.1L102.2,160.1L101.8,160.1L101.3,160.1L100.9,160.1L100.4,160.1L100.0,160.1L99.6,160.1L99.1,160.1L98.7,160.1L98.3,160.1L97.8,160.1L97.4,160.1L97.0,160.1L96.5,160.1L96.1,160.1L95.7,160.1L95.2,160.1L94.8,160.1L94.4,160.1L93.9,160.1L93.5,160.1L93.0,160.1L92.6,160.1L92.2,160.1L91.7,160.1L91.3,160.1L90.9,160.1L90.4,160.1L90.0,160.1L89.6,160.1L89.1,160.1L88.7,160.1L88.3,160.1L87.8,160.1L87.4,160.1L86.9,160.1L86.5,160.1L86.1,160.1L85.6,160.1L85.2,160.1L84.8,160.1L84.3,160.1L83.9,160.1L83.5,160.1L83.0,160.1L82.6,160.1L82.2,160.1L81.1,159.8L79.9,159.5L78.7,159.1L77.3,158.7L76.0,158.2L74.5,157.7L73.0,157.2L71.5,156.6L69.9,155.9L68.3,155.3Z"/></clipPath>
<path id="landfill" d="M56.8,26.1L57.7,25.8L58.7,25.6L59.5,25.4L60.3,25.3L61.6,25.0L61.4,24.5L61.0,24.1L60.7,23.9L61.6,23.7L62.6,23.4L64.4,22.8L65.9,22.3L66.9,22.2L67.9,22.0L68.9,21.8L69.8,21.6L70.2,21.7L70.7,21.9L71.3,21.9L72.0,22.0L72.6,22.1L73.2,22.2L73.7,22.3L74.2,22.4L74.8,22.5L75.4,22.5L76.0,22.5L76.6,22.5L76.9,22.7L77.3,22.8L77.8,22.9L78.3,23.0L78.7,23.2L79.0,23.4L79.9,23.2L80.7,23.0L81.6,23.0L82.5,22.8L83.4,22.7L84.1,22.6L84.7,22.6L85.4,22.5L86.1,22.3L86.4,22.6L86.7,22.9L87.2,23.0L87.7,23.0L88.5,22.9L89.2,22.7L89.6,22.9L90.0,23.1L90.4,23.3L91.0,23.3L91.5,23.4L92.1,23.4L92.5,23.6L92.9,23.8L93.4,23.9L93.9,24.0L94.4,24.1L95.2,24.1L96.0,24.0L97.3,23.5L97.6,23.8L98.0,24.1L98.6,24.2L99.3,24.3L99.9,24.3L100.5,24.3L101.1,24.3L102.5,23.7L103.1,24.1L104.7,23.0L105.0,22.2L105.4,21.4L106.7,21.1L106.8,21.8L106.7,22.6L107.3,22.8L107.8,23.1L107.9,23.7L108.3,23.9L108.8,24.1L110.3,23.0L110.9,22.9L111.6,22.8L112.2,23.2L111.2,24.5L110.3,25.0L109.4,25.5L108.8,25.4L108.2,25.4L107.6,25.3L106.4,26.1L105.2,27.0L104.3,27.4L103.4,27.8L102.2,28.4L100.9,29.0L99.9,29.9L98.8,30.7L98.3,31.7L98.5,33.1L99.3,33.2L100.1,33.3L100.7,33.7L101.3,34.1L101.9,34.4L102.6,34.7L103.4,34.9L104.2,35.0L103.8,35.9L103.5,36.8L104.0,38.1L105.0,38.1L105.6,37.2L106.0,36.3L106.3,35.4L107.3,34.9L108.3,34.3L109.4,32.8L109.4,31.5L110.1,30.3L110.7,28.9L111.5,28.8L112.3,28.8L113.0,28.9L113.8,29.0L114.4,29.7L115.4,29.9L115.0,30.7L114.7,31.5L115.2,31.8L115.7,32.1L117.0,31.3L118.2,30.4L117.9,31.7L118.3,32.3L118.8,32.8L118.9,34.1L119.4,34.5L120.0,34.8L120.5,35.1L121.1,35.4L121.8,36.3L121.6,37.6L120.1,38.2L119.1,38.7L118.0,39.2L117.3,39.2L116.6,39.2L115.9,39.2L115.0,39.3L114.2,39.4L113.3,39.4L112.5,39.8L111.6,40.1L110.6,40.9L109.6,41.7L110.7,41.1L111.9,40.5L112.6,40.4L113.4,40.3L114.1,40.1L114.5,40.5L113.8,41.2L113.7,42.1L114.3,43.0L115.1,43.2L116.0,43.4L116.9,42.6L116.8,43.2L115.9,43.6L115.1,43.9L114.3,44.2L113.5,44.4L111.9,45.2L113.3,43.7L112.6,43.8L111.8,43.9L110.9,44.4L109.6,44.9L108.6,45.2L107.9,46.2L108.3,46.9L107.8,47.1L106.6,47.4L105.1,47.8L104.7,48.5L103.9,49.4L103.5,49.0L103.4,50.1L102.5,51.1L102.1,51.7L102.4,52.9L101.5,53.4L100.2,54.1L99.0,54.8L97.8,55.6L96.9,56.6L96.7,57.7L96.9,59.2L97.1,60.7L96.8,61.9L96.2,62.2L96.0,61.5L95.6,61.0L95.2,59.8L95.4,58.7L94.8,57.8L94.2,57.7L93.3,57.9L92.7,57.4L91.5,57.3L90.3,57.6L90.3,58.5L89.3,58.6L88.2,58.1L86.8,58.0L85.8,58.4L84.4,59.3L83.4,60.5L83.1,61.6L82.6,63.3L82.4,64.2L82.3,65.1L82.5,66.3L83.0,67.7L84.0,68.4L84.8,68.7L86.0,68.3L86.8,68.3L87.7,67.5L88.0,66.1L89.6,65.6L90.8,65.5L90.3,67.0L89.9,68.4L89.3,69.6L89.1,70.7L89.7,70.9L90.6,70.8L91.4,70.8L92.5,71.2L93.1,71.7L92.7,73.5L92.6,74.4L92.4,75.3L92.9,76.2L93.7,77.2L94.5,77.3L95.5,76.7L96.2,76.6L97.1,77.5L97.5,77.9L97.0,78.7L96.6,77.8L95.7,77.3L95.0,77.9L95.2,78.7L94.5,78.4L93.9,77.9L92.9,78.0L92.4,77.5L91.6,76.6L90.7,76.3L90.6,75.3L90.0,74.1L89.4,73.4L88.7,73.3L87.7,73.0L86.4,72.6L85.6,72.0L84.7,70.8L83.7,70.5L82.4,71.1L81.1,70.5L79.9,70.1L78.6,69.3L77.5,68.7L76.4,67.8L75.8,66.7L76.1,65.5L75.9,64.6L75.3,63.6L74.6,62.3L73.7,61.4L73.3,60.1L72.7,59.0L72.2,58.1L72.0,56.6L70.9,56.1L70.6,57.1L71.2,58.3L71.4,59.9L72.0,61.0L72.1,61.9L72.3,62.8L73.1,64.0L72.5,64.3L72.1,63.3L71.2,62.6L71.4,61.4L70.6,60.7L70.1,59.9L70.5,59.2L69.6,57.8L69.4,56.3L69.3,55.3L68.9,54.2L68.3,53.8L67.4,53.5L67.4,52.6L67.2,51.4L67.2,50.5L67.0,50.1L67.0,48.8L67.0,48.1L67.8,46.9L68.1,45.9L69.3,44.4L70.3,42.9L70.9,41.8L71.0,40.9L72.1,41.0L72.1,41.7L72.6,40.3L72.0,39.6L71.7,39.0L71.2,38.8L70.6,38.5L71.2,37.4L71.0,36.3L71.1,35.4L70.9,34.7L71.2,33.7L71.6,32.1L70.9,32.2L70.2,32.2L69.7,31.7L69.3,31.4L68.8,31.0L68.1,30.7L67.3,30.7L66.5,30.7L66.2,30.4L65.9,30.0L65.1,30.1L64.3,30.3L62.7,30.9L61.7,31.1L60.8,31.4L61.9,30.2L63.3,29.7L62.2,30.1L61.2,30.4L59.1,31.5L57.9,32.3L56.8,32.7L55.8,33.1L53.5,34.0L51.8,34.5L50.1,34.9L48.5,35.3L47.4,35.5L49.2,34.8L51.0,34.2L52.2,33.8L53.3,33.4L55.2,32.6L56.6,31.8L55.8,31.7L55.0,31.8L54.3,31.9L53.4,31.8L54.5,30.9L53.9,30.8L53.2,30.7L53.1,30.2L53.8,29.4L55.4,28.5L56.4,28.0L57.2,27.9L57.9,27.8L59.8,27.0L58.7,27.0L58.1,27.0L57.6,27.0L56.7,26.9L56.6,26.4ZM97.5,77.9L98.6,76.7L99.1,75.7L100.2,75.1L101.2,74.9L102.0,74.1L102.6,74.6L102.1,75.3L102.3,76.2L102.7,76.7L102.8,75.5L103.6,74.8L104.0,74.9L105.0,75.7L106.4,75.7L107.2,75.9L108.0,76.1L108.8,75.8L109.7,75.6L110.2,76.1L110.8,76.7L111.2,77.6L112.0,77.9L113.0,79.0L114.0,79.9L114.8,80.0L115.6,80.0L116.8,80.3L118.1,81.1L118.7,81.6L119.2,83.2L119.6,84.6L119.2,85.5L120.5,86.0L121.1,86.2L122.5,86.4L123.9,87.0L125.0,87.6L125.8,87.9L126.6,88.2L127.4,88.2L128.2,88.3L129.5,89.4L130.7,90.1L131.7,90.3L131.9,91.4L132.2,92.4L132.0,93.8L131.4,94.6L130.4,95.7L129.7,97.1L129.0,98.0L129.0,99.1L129.0,100.3L128.9,102.0L128.6,103.5L128.2,104.5L127.7,105.9L127.0,106.7L126.0,106.8L124.8,107.1L123.8,107.7L122.7,108.4L121.9,109.6L122.0,110.5L122.1,111.4L121.6,112.5L121.1,113.7L120.3,114.9L119.8,116.2L119.1,117.0L118.5,117.7L117.3,117.8L116.2,118.2L116.6,119.3L116.8,120.6L115.8,121.3L114.9,121.4L113.9,121.6L113.4,122.0L113.8,123.0L112.9,123.5L111.8,123.4L112.6,124.6L113.2,125.1L112.5,125.7L112.6,126.9L111.8,127.2L111.4,128.1L112.9,129.3L112.5,130.2L112.3,131.6L111.9,132.5L112.7,133.6L112.1,133.8L113.2,134.7L114.1,135.3L114.9,135.6L115.7,135.8L115.1,136.1L114.5,136.3L113.9,136.4L113.2,136.2L112.4,136.0L111.5,135.6L110.6,135.1L109.2,134.2L107.6,132.9L107.1,131.8L106.6,130.7L106.2,129.8L105.9,128.9L106.2,128.0L105.9,126.6L106.2,125.7L105.3,124.3L105.4,123.4L104.8,122.0L104.6,121.1L104.5,120.2L104.6,118.8L104.7,117.4L104.8,116.0L104.7,114.6L104.5,113.7L104.3,112.8L104.2,111.9L104.2,110.9L104.3,110.0L104.3,109.1L104.3,108.2L104.2,107.2L104.3,106.3L104.3,105.4L104.2,104.5L104.1,103.5L103.8,102.4L102.8,101.5L101.5,100.8L100.7,100.3L99.8,99.7L98.7,98.5L98.4,97.3L97.5,96.1L96.8,94.8L96.4,93.8L95.9,92.9L95.3,91.8L94.4,91.1L94.1,89.7L94.7,88.7L95.1,87.8L94.4,87.2L94.4,86.2L94.8,85.3L95.1,84.7L95.9,84.3L96.3,83.6L97.1,82.9L97.4,82.0L97.3,80.9L97.3,79.5L97.0,78.7ZM146.9,66.1L147.6,64.7L147.8,63.5L148.6,62.4L149.0,61.4L150.1,60.3L151.1,59.6L152.3,58.7L152.8,57.9L153.0,56.8L153.3,55.4L154.3,54.5L155.3,53.9L155.8,52.7L156.1,52.4L156.5,52.3L157.5,52.9L158.2,53.0L159.0,53.0L159.8,52.7L160.6,52.4L161.7,51.7L162.5,51.6L163.2,51.5L164.0,51.5L164.8,51.5L165.5,51.4L166.3,51.3L167.0,51.1L167.8,51.0L168.4,51.2L169.0,51.3L168.6,51.7L168.9,52.7L168.3,53.8L168.7,54.2L169.3,54.8L170.3,55.2L171.3,55.4L172.2,55.6L172.7,56.4L173.5,56.6L174.3,56.8L175.5,57.5L176.2,56.8L176.2,55.9L177.3,55.2L178.5,55.3L179.7,55.9L180.2,56.3L181.2,56.4L182.1,56.5L183.3,56.8L184.4,56.4L185.6,56.6L186.8,56.7L187.3,56.5L187.7,58.2L187.4,59.6L187.0,59.7L187.7,61.0L188.4,62.4L188.9,63.3L189.3,64.2L189.8,65.1L190.5,66.1L190.6,67.0L190.7,67.9L191.7,68.8L192.0,69.8L192.3,70.7L192.8,71.3L193.8,72.3L194.9,73.5L195.7,73.9L195.8,74.8L196.8,75.8L198.0,75.6L198.8,75.4L199.6,75.1L200.4,75.0L201.2,74.9L202.3,74.6L202.1,75.9L201.7,77.2L201.3,78.1L201.0,79.0L200.2,80.4L199.4,81.8L198.2,83.2L197.4,83.8L196.5,84.4L195.7,85.2L194.9,86.0L194.1,87.2L193.4,88.0L193.0,89.0L192.7,89.9L192.4,91.1L192.8,92.0L192.6,93.4L192.9,94.8L193.5,95.7L193.5,97.1L193.5,98.0L193.5,98.9L193.3,99.8L192.1,101.0L191.2,101.5L190.4,102.0L189.5,103.1L188.5,103.8L188.9,104.9L189.0,106.0L188.9,107.7L188.0,108.4L186.8,109.1L186.6,110.0L186.3,111.4L185.8,112.3L184.9,113.3L184.0,114.4L182.7,115.6L181.5,116.5L180.5,116.8L179.1,117.0L178.0,117.0L177.0,117.3L176.0,117.7L175.1,117.2L174.8,117.0L174.8,115.8L174.6,114.6L174.1,113.3L173.6,112.0L172.7,110.5L172.5,109.6L172.3,108.6L172.2,107.7L172.1,106.8L172.0,105.9L171.2,104.5L170.8,103.5L170.4,102.6L170.0,101.2L170.1,100.3L170.4,98.9L170.9,97.5L171.6,96.6L171.7,95.7L171.3,94.3L171.2,93.4L170.9,92.4L170.6,91.5L170.5,90.9L170.2,89.9L169.5,89.0L168.7,88.1L168.2,86.9L168.1,85.5L168.3,84.6L168.6,83.2L168.6,82.3L168.1,81.8L167.5,81.3L166.7,81.3L165.5,81.5L164.6,80.4L164.2,79.7L163.0,79.6L162.2,79.7L161.4,79.9L160.6,80.4L159.7,80.9L158.9,81.1L158.1,80.8L156.9,80.7L155.6,81.0L154.4,81.4L153.6,81.1L152.8,80.5L152.0,79.8L151.2,79.1L150.3,78.6L149.8,77.9L149.7,76.9L148.7,75.9L148.3,75.3L147.9,74.6L146.9,73.9L146.9,73.0L146.5,71.9L146.9,71.2L147.2,70.5L147.5,69.3L147.7,68.4L147.3,67.5L147.5,67.0L147.1,66.1ZM200.6,96.6L201.1,98.0L201.3,98.9L201.4,99.8L200.7,101.2L200.3,102.6L199.8,104.0L199.4,105.2L199.0,106.3L198.7,107.2L198.4,108.2L198.0,108.6L197.2,108.9L196.3,109.1L195.6,108.4L195.5,107.2L195.4,106.3L195.3,105.4L195.9,104.5L196.3,103.1L196.2,102.2L196.1,101.2L196.5,100.5L197.8,100.1L198.6,99.4L199.5,98.3L200.2,97.1ZM156.2,52.2L155.7,51.5L154.9,51.1L153.7,51.3L153.9,50.1L153.3,49.6L153.8,48.3L154.0,47.1L153.6,45.8L154.6,45.1L155.4,45.2L156.1,45.2L156.9,45.3L157.6,45.4L158.5,45.4L159.4,45.4L159.7,44.4L159.7,43.0L159.0,41.9L158.0,41.5L157.3,41.2L157.2,40.7L158.4,40.5L159.5,40.6L159.3,39.7L159.8,40.0L160.7,39.9L161.6,39.2L162.3,38.4L163.0,38.2L163.4,37.7L163.9,36.8L164.7,36.4L165.4,36.3L166.5,35.9L166.4,35.0L166.0,33.7L166.3,33.2L166.9,32.9L167.6,32.7L167.5,33.7L167.7,34.1L167.4,35.0L168.0,35.7L168.8,35.7L169.5,35.5L170.2,35.9L170.9,35.7L171.5,35.6L172.5,35.2L173.2,35.2L173.9,35.5L174.6,35.1L174.9,34.7L174.7,33.4L175.0,33.0L175.6,32.7L176.5,33.2L176.8,32.6L176.1,32.0L176.0,31.4L176.7,31.2L177.3,31.0L178.1,31.1L178.9,31.1L179.6,30.9L180.4,30.7L179.1,30.3L178.1,30.3L177.5,30.4L176.9,30.5L176.2,30.7L175.6,30.8L175.2,30.4L174.4,30.0L174.4,29.2L174.0,28.4L174.8,27.8L175.5,27.0L176.3,26.5L176.2,26.1L175.3,25.9L174.4,25.9L173.9,26.3L173.8,27.0L173.2,27.6L172.5,28.0L171.9,28.5L171.7,29.4L171.7,30.0L172.6,30.5L172.9,31.0L172.4,31.5L171.7,32.0L171.6,32.8L171.3,33.7L170.6,34.1L170.2,34.7L169.3,34.7L169.0,33.9L168.8,33.4L168.3,32.6L168.0,32.0L167.6,31.3L167.3,31.5L166.8,31.6L166.1,32.2L165.2,32.4L164.3,32.0L164.0,31.3L163.8,30.3L163.8,29.4L163.9,28.6L165.0,28.3L165.9,27.8L166.8,27.2L167.7,26.5L168.2,25.7L168.9,24.9L169.5,24.1L170.1,23.7L170.9,23.1L171.7,22.7L172.3,22.5L172.9,22.4L173.4,22.3L174.0,22.1L174.5,22.0L175.1,21.8L175.7,21.8L176.2,21.8L177.1,21.9L178.1,22.1L178.7,22.3L179.7,22.7L180.4,23.0L181.2,23.2L182.0,23.4L182.8,23.6L183.6,23.9L184.3,24.1L185.0,24.4L185.7,25.1L185.1,25.6L184.2,25.7L183.6,25.6L182.9,25.5L182.1,25.7L182.2,26.5L182.5,27.2L183.5,27.4L184.2,27.5L184.3,27.0L185.2,26.9L185.9,27.0L186.3,25.5L187.4,25.6L187.4,24.9L186.8,23.9L187.8,23.7L188.5,24.1L189.2,24.2L189.8,24.4L190.6,24.1L191.3,24.0L192.0,23.8L193.0,24.0L193.5,23.9L194.1,23.7L194.6,23.6L195.1,23.5L196.2,23.7L196.5,23.4L196.4,22.7L197.4,22.8L198.1,23.0L198.8,23.1L199.5,23.2L200.1,23.4L200.1,22.9L199.6,22.1L199.6,21.6L199.7,20.8L199.9,20.3L200.6,20.1L201.7,20.5L202.4,21.2L202.4,21.8L203.2,22.3L203.7,23.4L204.7,24.0L205.0,24.9L205.5,24.5L205.4,23.7L204.8,23.2L203.8,22.2L202.9,21.6L203.2,20.9L203.9,21.1L204.9,21.7L205.6,21.4L204.6,20.9L205.1,20.8L205.7,20.8L205.8,19.9L206.5,19.8L207.1,19.7L207.6,19.7L208.2,19.7L208.7,19.7L208.7,19.2L208.4,18.7L209.1,18.5L209.7,18.4L210.1,18.3L210.6,18.2L211.0,18.1L211.5,18.1L212.1,18.1L212.6,18.0L213.0,18.0L213.5,17.9L213.9,17.8L214.3,17.7L214.6,17.5L214.9,17.3L215.2,17.1L215.5,16.9L216.2,17.1L216.9,17.2L218.3,17.7L218.9,17.7L219.5,17.6L220.1,17.6L221.0,17.8L221.8,18.0L222.9,18.6L223.0,19.2L222.6,19.6L223.3,19.7L224.0,19.9L224.7,19.8L225.4,19.8L226.0,19.8L226.6,19.9L227.2,19.9L228.0,20.1L228.7,20.2L229.5,20.4L229.9,20.1L230.2,19.9L230.8,19.9L231.4,19.9L232.0,19.9L232.9,20.2L233.8,20.5L234.3,21.1L235.6,21.7L236.8,22.0L236.9,21.3L237.9,21.4L238.7,21.4L239.4,21.4L240.1,21.4L240.8,21.4L240.3,20.8L240.7,20.5L241.4,20.5L242.2,20.5L243.1,20.7L244.0,20.8L244.8,20.9L245.6,21.0L246.3,21.1L247.9,21.5L249.3,21.9L249.9,21.8L250.6,21.8L251.2,21.8L251.8,21.9L252.5,21.9L253.4,22.1L254.3,22.3L255.6,22.9L256.1,22.8L256.7,22.8L257.5,22.8L258.3,22.9L258.9,22.8L259.5,22.7L260.1,22.6L260.7,22.5L261.5,22.6L262.4,22.7L263.0,22.7L263.7,22.7L264.3,22.7L265.3,22.9L266.3,23.0L267.8,23.4L269.3,24.4L270.8,25.4L272.2,26.4L272.0,26.9L271.2,26.8L274.1,28.2L273.8,28.6L273.4,28.8L273.0,29.0L272.6,29.2L272.4,29.5L272.2,29.9L272.1,30.3L272.0,30.7L270.9,30.5L269.8,30.3L269.4,30.5L269.0,30.7L268.3,30.9L268.4,31.5L268.7,32.4L270.0,33.3L270.5,34.0L271.2,35.0L271.5,35.9L271.7,36.8L271.1,37.2L271.0,38.5L269.6,37.2L268.0,35.9L266.4,34.6L265.4,33.4L265.1,32.6L265.9,32.2L265.8,31.3L265.9,30.5L266.1,29.9L265.2,29.2L264.5,29.3L263.8,29.4L263.8,29.9L262.0,29.2L261.4,29.4L261.8,30.7L261.7,31.1L261.1,31.5L260.0,31.4L259.1,31.3L258.2,31.3L257.6,31.3L257.0,31.4L255.8,31.2L255.3,31.3L254.7,31.4L254.2,31.9L254.3,32.6L253.9,33.3L253.7,33.8L254.2,35.0L255.9,36.1L256.5,35.7L258.1,36.3L259.2,37.4L260.0,39.0L260.7,39.9L261.4,40.8L261.2,41.9L261.4,43.0L261.0,43.9L260.6,45.0L260.1,45.9L258.8,45.6L258.1,46.1L257.8,46.4L257.9,47.6L258.0,48.1L257.6,48.7L257.0,49.2L258.0,49.9L259.0,50.8L259.8,51.7L260.2,52.8L259.7,53.1L259.1,53.5L258.4,53.7L257.9,52.8L257.6,51.7L257.3,50.8L256.6,50.5L255.8,50.3L255.4,49.6L254.5,48.7L253.8,48.7L253.1,49.2L252.6,49.6L252.4,48.9L252.5,48.1L251.8,47.7L251.3,48.2L250.8,48.7L250.3,49.3L249.8,49.6L250.6,50.4L251.5,51.1L252.4,50.6L253.3,50.8L254.1,50.9L253.3,51.6L252.9,52.3L252.5,53.1L253.6,53.8L254.5,55.0L255.7,56.2L256.1,57.0L255.9,57.6L256.5,57.8L256.5,59.0L256.2,59.6L255.9,60.4L255.6,61.4L255.3,62.2L254.8,62.8L254.0,63.6L253.2,64.4L252.0,64.9L251.4,64.7L250.7,65.3L249.6,65.7L249.1,66.4L248.6,65.6L247.5,65.4L246.7,65.6L246.3,66.4L245.8,67.2L245.7,67.9L246.2,68.7L246.6,69.4L247.5,70.4L248.2,71.2L248.8,72.1L249.3,73.3L249.4,74.7L248.9,75.3L247.8,75.9L247.4,76.4L246.3,77.5L246.0,76.8L246.1,76.1L245.6,75.9L244.8,75.7L244.3,74.9L243.7,74.2L242.6,73.8L242.5,73.1L241.7,73.1L241.7,74.1L241.3,75.9L241.5,77.0L242.4,77.8L242.6,78.8L243.2,79.1L244.0,79.8L244.7,80.5L245.1,81.5L245.2,82.9L245.8,84.1L245.2,84.3L244.4,83.6L243.4,82.8L243.0,81.9L242.5,80.9L242.4,79.6L241.9,79.2L240.9,77.9L240.7,77.2L240.8,75.8L240.6,74.4L240.7,73.3L240.2,72.1L239.7,70.9L239.4,70.1L238.5,70.1L237.8,70.9L237.3,70.7L236.8,70.3L236.7,69.0L236.2,67.9L235.7,67.1L235.1,66.5L234.5,65.8L234.0,64.9L233.5,64.6L233.0,64.7L232.5,65.2L231.9,65.4L231.2,65.4L230.3,65.6L230.2,66.4L229.9,67.1L229.0,67.6L228.3,68.6L227.4,69.8L227.0,70.2L226.3,70.9L225.6,71.4L225.6,73.0L225.8,73.9L225.5,75.1L225.5,76.0L225.0,76.0L224.8,76.7L224.3,77.4L223.8,78.0L223.3,77.6L222.7,76.7L222.2,75.3L221.8,74.4L221.3,73.5L220.8,72.1L220.3,70.9L219.8,69.8L219.4,68.4L219.1,67.5L219.0,66.5L218.8,65.6L218.4,65.0L217.9,66.1L217.1,66.3L216.3,65.6L215.8,64.9L216.5,64.5L216.8,64.2L215.4,63.9L215.1,63.5L214.3,62.8L213.9,62.5L213.5,62.0L212.7,62.1L211.9,62.2L210.9,62.2L209.9,62.2L209.5,62.3L208.7,62.1L207.9,62.0L207.1,61.9L206.3,61.7L205.7,60.6L205.1,60.3L204.6,60.9L203.8,61.0L203.0,60.7L202.1,60.1L201.3,59.7L200.6,58.8L200.0,57.7L199.4,57.7L198.9,57.7L198.3,57.8L198.6,58.9L199.2,60.0L199.8,60.5L200.4,61.3L200.7,62.0L201.0,62.6L201.3,61.4L201.6,61.5L201.7,62.8L202.4,63.1L203.6,63.1L204.3,62.4L205.1,61.6L205.3,61.3L205.5,62.5L206.2,63.4L207.3,63.7L208.4,64.7L208.1,65.7L207.5,66.5L207.0,67.5L207.0,68.0L206.1,68.9L205.1,69.5L204.2,69.9L202.8,71.1L201.9,71.5L201.1,71.9L200.3,72.3L199.1,72.9L198.3,73.2L197.5,73.5L196.7,73.8L195.9,73.8L195.7,73.0L195.2,71.8L195.1,70.9L194.9,70.0L194.3,69.0L193.7,68.1L193.1,67.2L192.3,66.3L191.8,65.3L191.6,64.4L191.0,63.3L190.4,62.6L189.9,61.6L189.3,60.7L188.6,59.8L188.0,59.3L188.0,58.2L187.7,58.7L187.6,59.6L187.1,59.1L186.2,57.9L185.9,57.3L185.8,56.6L186.8,56.7L187.3,56.5L187.6,55.8L187.8,55.1L188.1,54.1L188.3,53.5L188.2,52.7L188.3,52.2L188.1,51.5L187.8,51.6L187.1,51.5L186.6,51.9L185.9,52.1L185.1,51.7L184.3,51.5L183.9,51.9L183.2,52.0L182.4,51.6L181.6,51.4L181.4,50.8L181.2,50.1L180.7,49.9L180.8,49.2L180.4,49.0L180.4,48.3L180.9,48.1L181.6,48.1L182.3,47.9L182.7,47.8L182.3,47.5L183.0,47.5L183.8,47.4L184.8,46.9L185.9,46.7L187.1,47.0L187.9,47.3L189.1,47.7L190.2,47.6L191.3,47.6L191.7,47.0L191.4,46.2L190.6,45.7L189.3,44.9L188.5,44.4L188.1,43.9L187.7,44.1L187.4,43.8L187.9,43.1L188.5,42.4L188.9,42.0L188.0,41.9L187.3,42.4L186.2,42.8L186.0,43.3L186.5,43.7L187.3,43.6L186.7,43.9L185.9,44.4L185.2,44.4L184.6,43.8L185.0,43.1L184.2,42.9L183.5,42.6L182.9,42.6L182.6,43.2L182.2,43.7L182.3,44.1L181.7,44.4L181.7,45.1L181.3,45.6L181.3,46.2L181.5,46.8L182.2,47.3L181.6,47.6L180.8,47.7L180.3,48.0L179.7,47.7L178.9,47.7L178.4,48.1L178.9,48.4L178.1,48.6L177.8,48.1L177.6,48.5L178.1,49.3L177.7,49.5L178.4,50.1L178.9,50.4L178.1,50.8L178.2,51.7L177.8,51.8L177.3,51.5L177.0,50.8L176.6,50.5L176.7,50.0L176.3,49.6L175.8,48.9L175.5,48.3L175.1,47.8L175.1,46.9L174.5,46.3L173.5,45.9L172.8,45.4L172.2,45.0L171.7,44.5L171.1,43.9L170.6,43.4L169.9,43.3L169.6,43.8L169.7,44.4L170.0,44.9L170.6,45.4L171.2,46.2L172.0,46.8L172.6,46.8L173.5,47.6L174.5,48.4L174.3,48.7L173.3,48.1L173.1,48.9L173.5,49.4L173.2,50.0L172.7,50.4L172.5,50.2L172.6,49.2L172.3,48.4L171.8,48.2L171.2,47.8L170.7,47.4L170.0,47.1L169.4,46.6L168.8,46.1L168.3,45.8L168.1,44.9L167.3,44.6L166.8,44.7L166.1,45.0L165.4,45.7L164.5,45.5L163.9,45.3L163.1,45.5L162.9,46.3L162.9,46.8L162.1,47.3L161.3,47.6L160.9,48.2L160.4,49.0L160.7,49.6L160.2,50.1L160.0,50.7L159.4,51.1L158.9,51.6L157.9,51.6L157.1,51.6L156.6,51.9ZM122.3,16.6L122.9,16.5L123.4,16.5L124.0,16.4L124.6,16.4L125.2,16.2L125.9,16.1L126.5,15.9L127.8,15.4L128.7,15.1L129.6,14.8L130.2,14.7L130.8,14.5L131.4,14.4L132.0,14.2L132.6,14.2L133.1,14.2L133.6,14.1L134.1,14.1L134.6,14.1L135.1,14.0L135.7,14.0L136.2,13.9L136.7,13.9L137.2,13.8L137.7,13.8L138.3,13.7L138.8,13.7L139.3,13.6L139.8,13.6L140.3,13.6L140.8,13.5L141.3,13.5L141.8,13.5L142.3,13.4L142.8,13.4L143.3,13.4L143.8,13.4L144.3,13.4L144.7,13.4L145.2,13.4L145.7,13.4L146.2,13.4L146.6,13.4L147.1,13.4L147.6,13.4L148.1,13.5L148.5,13.5L149.0,13.6L149.4,13.7L149.9,13.7L150.4,13.8L150.7,14.2L151.2,14.2L151.7,14.3L152.2,14.3L152.7,14.3L153.1,14.3L153.6,14.4L154.1,14.5L154.6,14.6L154.0,14.8L153.4,15.0L152.8,15.1L152.2,15.3L151.5,15.6L150.8,15.9L150.7,17.1L150.0,17.8L150.4,18.8L149.4,19.4L148.4,20.3L147.3,21.4L147.7,22.2L147.1,22.4L146.4,22.6L145.6,23.1L144.7,23.7L144.0,23.8L143.3,23.9L142.5,24.1L141.9,24.1L141.3,24.2L140.6,24.3L139.9,24.7L139.2,25.1L138.3,25.5L137.4,25.9L136.7,26.1L136.0,26.4L135.2,27.1L134.2,28.2L133.2,29.4L132.3,30.3L131.5,30.7L130.6,30.3L130.1,30.1L129.5,29.9L128.8,29.0L128.8,27.8L128.7,27.0L128.4,26.1L127.8,25.3L128.1,24.3L129.1,23.7L130.3,23.2L129.5,22.9L129.0,22.2L130.0,21.8L129.6,21.6L129.1,21.4L128.9,20.7L128.8,19.9L128.6,19.2L128.6,18.5L128.0,18.3L127.4,18.1L126.9,18.1L126.4,18.0L125.9,18.0L125.4,18.0L124.8,18.0L124.2,18.0L123.8,18.0L123.3,17.9L122.9,17.8L122.4,17.4L122.1,17.1ZM53.3,23.4L54.2,23.3L55.0,23.1L55.2,23.4L55.4,23.7L55.3,24.1L55.3,24.5L55.6,24.7L55.9,24.9L56.1,25.3L56.3,25.7L54.8,26.1L53.1,26.7L52.0,27.0L51.5,26.7L51.2,26.5L50.9,26.3L50.2,26.1L48.9,26.4L50.3,25.4L51.8,24.4ZM122.6,25.3L121.1,26.5L120.1,27.6L119.1,28.6L118.5,28.6L117.8,28.6L117.2,28.6L116.6,28.5L116.0,28.4L115.4,28.4L114.9,27.9L114.5,27.4L114.0,27.0L113.3,27.0L112.5,27.0L111.8,27.0L112.7,26.5L113.6,26.1L114.6,25.7L115.6,25.3L116.4,24.5L115.9,24.1L115.4,23.7L114.9,23.5L114.5,23.2L114.1,23.0L113.4,22.9L112.7,22.8L112.2,22.7L111.7,22.7L111.1,22.6L110.6,22.6L110.1,22.4L109.6,22.3L109.1,22.2L108.8,21.8L108.6,21.4L109.7,20.5L110.7,20.1L111.7,19.8L112.3,19.8L112.9,19.7L113.5,19.7L114.0,19.7L114.6,19.7L115.1,19.8L115.7,19.8L116.0,20.0L116.4,20.3L116.8,20.5L117.2,20.7L117.6,20.9L118.0,21.2L118.4,21.4L118.8,21.7L119.2,21.9L119.6,22.2L120.1,22.6L120.6,23.0L120.6,24.0L121.1,24.2L121.6,24.5L122.0,24.7ZM92.0,21.8L92.6,21.1L94.3,20.3L94.8,20.3L95.3,20.4L95.8,20.4L96.4,20.5L97.0,20.4L97.6,20.4L98.2,20.4L98.7,20.4L99.3,20.3L99.9,20.3L100.5,20.3L101.0,20.7L101.3,21.1L101.7,21.4L101.3,22.4L100.2,22.8L99.1,23.2L98.4,23.2L97.6,23.2L96.9,23.3L96.2,23.4L95.5,23.5L94.9,23.6L94.2,23.6L93.6,23.7L92.9,23.7L92.6,23.4L92.2,23.0L91.9,22.7L91.6,22.4ZM88.6,21.2L90.5,19.9L91.5,19.3L92.3,19.3L93.1,19.2L93.6,19.2L94.1,19.3L94.7,19.3L95.2,19.3L95.4,19.6L95.6,19.9L94.6,20.2L93.7,20.4L92.7,20.7L91.7,21.1L90.7,21.4L89.8,21.5L89.0,21.7ZM112.1,17.8L112.6,17.8L113.1,17.8L113.6,17.9L114.1,17.9L114.7,17.9L115.2,17.8L115.8,17.8L116.4,17.8L117.0,17.6L117.7,17.5L118.3,17.4L119.2,17.1L120.1,16.7L121.5,16.1L122.3,15.9L123.1,15.7L123.8,15.5L124.4,15.4L125.0,15.3L125.7,15.2L126.3,15.1L126.9,15.0L127.5,14.8L128.2,14.7L128.8,14.5L129.4,14.4L130.1,14.2L129.8,14.0L129.4,13.8L129.0,13.8L128.5,13.8L128.1,13.7L127.6,13.7L127.2,13.7L126.8,13.6L126.3,13.6L125.8,13.6L125.3,13.6L124.8,13.7L124.3,13.7L123.8,13.7L123.3,13.7L122.8,13.7L122.3,13.7L121.8,13.8L121.2,13.8L120.7,13.8L120.2,13.9L119.6,13.9L119.1,13.9L118.5,14.1L117.8,14.2L117.2,14.3L116.6,14.4L115.9,14.5L114.9,14.8L113.9,15.1L114.3,15.3L114.8,15.4L115.2,15.6L115.7,15.7L114.7,16.4L113.8,16.6L112.8,16.9ZM109.6,19.1L110.2,19.1L110.7,19.1L111.2,19.2L111.7,19.2L112.3,19.2L112.8,19.2L113.4,19.2L113.9,19.2L114.6,19.2L115.3,19.2L115.9,19.1L117.1,18.5L116.7,18.2L116.3,17.9L115.7,17.9L115.2,17.9L114.7,17.9L114.2,17.8L113.6,17.8L113.1,17.8L112.6,17.8L112.1,17.8L111.1,18.0L110.2,18.3ZM109.7,17.1L110.3,17.0L110.9,16.9L111.6,16.8L112.2,16.7L113.6,15.7L113.7,15.1L113.3,15.0L112.9,14.9L112.6,14.8L111.6,15.1L110.7,15.4L110.7,16.1L109.7,16.4L108.8,16.7L109.2,16.9ZM96.6,18.5L97.0,18.5L97.5,18.6L97.9,18.7L98.4,18.8L98.8,18.8L99.4,18.8L100.0,18.8L100.6,18.8L101.2,18.8L101.7,18.7L102.3,18.7L102.9,18.7L104.1,18.1L104.0,17.8L103.9,17.4L103.5,17.3L103.1,17.2L102.7,17.2L102.3,17.1L101.6,17.1L101.0,17.2L100.4,17.3L99.7,17.3L99.1,17.4L98.4,17.5L97.7,17.6L97.0,17.8ZM102.4,19.6L102.9,19.6L103.4,19.7L103.9,19.7L104.4,19.8L104.9,19.9L105.4,19.9L106.0,19.9L106.7,19.8L107.3,19.7L108.5,18.8L108.4,18.3L108.3,17.8L107.7,17.9L107.0,17.9L106.4,18.0L105.7,18.1L104.9,18.4L104.1,18.6L103.3,18.8ZM102.0,21.1L102.5,21.3L103.0,21.5L103.5,21.7L104.3,21.4L105.2,21.1L106.0,19.9L105.5,19.7L104.9,19.6L104.1,19.8L103.3,20.1L102.5,20.3ZM105.7,21.1L106.5,21.1L107.2,21.1L108.1,20.9L108.9,20.7L109.8,19.7L109.3,19.6L108.7,19.4L107.8,19.7L106.8,19.9ZM106.2,27.4L106.9,27.5L107.6,27.7L108.3,27.6L109.0,27.5L109.7,27.4L110.1,26.1L109.6,25.9L109.0,25.6L108.0,25.9L107.1,26.1L106.2,27.0ZM117.8,41.6L118.7,40.3L119.9,39.0L121.2,38.0L121.1,39.4L122.1,39.9L122.5,40.8L122.2,42.1L121.6,42.5L120.7,42.1L120.1,41.7L119.4,41.6L118.7,41.6ZM92.5,65.2L93.3,64.6L94.2,64.4L95.0,64.1L95.8,64.1L96.6,64.1L97.4,64.5L98.1,64.9L98.8,65.4L99.6,65.9L100.9,66.8L100.3,67.1L99.5,67.1L98.6,67.1L98.2,66.4L97.6,65.6L96.8,65.4L96.1,65.1L94.9,64.9L93.7,65.1ZM100.6,68.5L101.9,67.1L102.7,67.1L103.5,67.1L104.2,67.4L105.0,67.7L105.4,68.4L104.1,68.7L102.9,69.1L101.7,68.8ZM97.4,68.5L98.2,68.6L99.0,68.7L98.6,69.0L97.6,68.8ZM106.4,68.4L107.7,68.5L107.5,68.8L106.4,68.8ZM145.7,26.1L146.4,25.8L147.1,25.4L147.8,25.5L148.5,25.5L149.2,25.6L150.0,25.5L150.8,25.3L151.6,25.7L152.1,26.5L151.3,27.1L150.6,27.4L149.9,27.6L149.2,27.9L148.6,27.7L147.9,27.6L147.3,27.5L146.3,27.5L146.8,27.0L146.3,26.5ZM156.5,39.4L157.3,39.3L158.1,39.2L159.0,39.0L159.8,38.8L160.7,38.6L161.5,38.4L161.7,37.0L160.8,36.4L160.4,35.8L159.7,35.2L159.2,34.2L158.8,34.0L159.3,32.8L158.6,31.9L157.9,31.9L157.2,31.9L156.7,32.8L156.8,33.9L156.4,33.5L157.2,34.5L157.1,35.2L158.2,35.1L158.5,36.0L158.4,36.5L157.4,36.5L157.6,37.4L156.8,37.8L157.6,38.0L158.3,38.2L157.6,38.4ZM156.4,37.6L156.3,36.0L156.7,35.4L156.3,34.8L155.4,34.7L154.7,35.4L153.7,35.7L153.8,36.5L154.1,37.1L153.3,37.7L153.9,38.1L154.9,37.8L155.6,37.7ZM166.3,16.4L167.0,15.7L167.6,15.6L168.2,15.5L168.7,15.4L169.2,15.4L169.7,15.3L170.3,15.2L170.9,15.2L171.5,15.2L172.1,15.2L172.7,15.2L173.2,15.3L173.7,15.3L174.3,15.4L173.8,15.6L173.4,15.9L172.9,16.0L172.3,16.2L171.7,16.3L171.3,16.7L170.9,17.0L170.4,17.3L170.0,17.7L169.4,17.6L168.8,17.4L168.3,17.2L167.7,17.0L167.0,16.7ZM190.6,21.4L191.7,22.0L192.3,22.1L192.9,22.1L193.5,22.1L194.1,22.1L192.4,20.7L192.7,19.6L193.1,19.2L193.5,18.8L193.9,18.5L194.4,18.3L194.8,18.2L195.2,18.0L195.7,17.9L196.1,17.8L196.5,17.6L197.0,17.5L197.4,17.4L196.6,17.4L196.1,17.5L195.6,17.6L195.1,17.8L194.6,17.9L194.1,18.0L193.6,18.1L193.2,18.2L192.7,18.4L192.3,18.5L192.0,18.8L191.6,19.2L191.3,19.6L190.9,20.3ZM209.9,16.1L209.8,15.6L209.7,15.1L210.1,15.0L210.5,14.8L211.4,15.0L212.2,15.3L213.0,15.5L213.9,15.7L215.6,16.4L215.0,16.5L214.5,16.5L214.0,16.6L213.5,16.6L212.9,16.6L212.4,16.6L211.9,16.6L210.9,16.3ZM184.9,15.3L185.3,15.2L185.7,15.0L186.1,14.9L186.5,14.8L187.0,14.7L187.5,14.7L187.9,14.6L188.4,14.6L188.8,14.5L189.3,14.5L189.8,14.5L190.4,14.6L190.9,14.7L191.5,14.7L192.0,14.8L191.7,15.0L191.3,15.1L191.0,15.3L190.5,15.3L190.0,15.3L189.5,15.4L189.0,15.4L188.5,15.4L188.0,15.4L187.5,15.4L187.0,15.4L186.4,15.4L185.9,15.3L185.4,15.3ZM236.6,19.2L236.8,19.0L236.9,18.7L237.1,18.5L237.6,18.4L238.1,18.3L238.7,18.3L239.4,18.4L240.2,18.4L241.0,18.5L241.7,18.6L242.6,18.7L243.5,18.8L242.9,18.9L242.4,19.0L241.9,19.1L241.5,19.2L241.2,19.3L240.8,19.4L240.5,19.6L240.1,19.7L239.5,19.7L238.9,19.6L238.2,19.6L237.4,19.4ZM56.0,21.8L57.0,21.6L58.1,21.4L56.8,21.8ZM264.1,43.0L264.8,42.6L264.1,41.7L263.3,40.8L262.5,39.9L263.9,40.3L262.5,39.2L261.0,38.1L260.1,37.0L259.2,35.9L258.5,35.6L259.4,36.8L260.3,38.1L261.0,39.0L261.7,39.9L262.3,40.8L263.2,41.9ZM265.3,47.1L265.9,46.9L266.6,46.8L267.4,46.7L267.9,46.1L268.3,45.5L267.2,44.9L265.7,44.2L264.3,43.6L264.9,44.9L264.6,45.6ZM261.9,54.0L262.1,53.4L262.9,52.7L263.9,52.6L264.8,52.6L265.1,51.0L266.1,50.4L266.1,49.5L266.1,48.5L265.4,47.3L266.4,47.2L267.9,49.0L267.8,50.2L268.4,51.4L268.9,52.5L268.4,53.1L267.8,53.5L266.4,53.5L266.1,54.5L265.2,54.2L265.1,53.6L264.2,53.7L263.4,53.8L262.7,54.0L262.1,54.1ZM261.3,54.5L262.1,54.1L263.2,55.3L263.1,56.5L262.4,56.6L261.9,55.4L261.4,55.0ZM263.5,54.7L264.2,54.4L264.9,54.0L264.8,54.8L264.0,55.2ZM256.6,64.2L256.7,63.3L256.9,62.3L257.7,62.4L257.7,63.3L257.6,64.2L257.3,65.2ZM248.0,67.7L249.4,66.9L249.8,67.4L248.9,68.7ZM225.6,76.4L226.0,76.4L226.6,77.5L227.3,78.6L226.9,79.8L226.0,79.9L225.8,79.0L225.7,78.1ZM257.2,68.4L258.0,68.3L259.0,68.4L259.4,69.8L259.2,70.5L259.0,71.2L259.2,72.3L259.9,72.5L260.6,72.7L261.4,73.5L261.3,73.9L260.7,73.5L260.0,73.0L259.4,72.6L258.6,72.7L258.3,72.1L257.8,71.7L257.4,70.4L257.8,70.0ZM260.1,79.0L261.3,78.3L261.7,77.6L262.8,76.5L263.3,77.5L263.8,78.6L263.5,79.9L262.7,80.1L261.8,79.5L261.0,79.3ZM256.1,77.7L257.0,76.8L257.8,75.8L257.9,75.0L257.4,75.7L256.3,77.0ZM258.2,73.0L259.2,73.3L259.1,74.1L258.4,73.9ZM259.7,74.5L260.7,74.9L260.4,75.8L259.8,75.7ZM260.3,75.5L261.1,75.5L261.0,77.0L260.3,76.5ZM260.9,75.1L261.5,75.2L261.2,76.6ZM261.6,73.9L262.7,74.1L262.7,75.2L261.9,75.0ZM261.7,74.9L262.4,75.1L262.5,76.2L262.1,76.2L261.7,75.5ZM261.4,76.2L262.0,76.2L261.8,76.6L261.4,76.5ZM249.7,84.1L250.2,83.6L251.4,83.8L252.2,83.2L253.0,82.5L254.1,81.2L255.3,79.9L256.1,79.0L257.0,79.8L257.9,80.6L257.0,81.3L257.0,82.4L257.0,83.5L256.9,84.6L257.9,84.7L256.7,86.0L256.3,86.9L255.8,87.8L255.4,89.0L254.2,88.9L253.0,88.5L252.1,88.4L251.3,88.3L250.6,87.1L249.7,85.5ZM238.4,80.3L239.3,80.5L240.2,80.7L241.3,81.9L242.3,83.2L243.2,83.8L244.0,84.4L244.8,85.0L245.6,86.4L246.4,87.4L247.2,88.3L247.1,89.6L247.0,90.9L245.9,91.0L245.0,90.1L244.2,89.2L243.5,88.0L242.8,86.9L242.2,86.0L241.6,85.0L240.9,84.1L240.3,83.2L239.7,82.2L239.0,81.3ZM246.4,91.8L247.5,91.1L249.0,91.3L249.9,91.6L250.8,91.9L251.6,91.9L252.5,91.9L254.0,92.7L253.8,93.5L252.9,93.4L251.9,93.2L251.1,93.0L250.3,92.8L249.5,92.6L248.5,92.5L247.5,92.3ZM254.4,93.1L255.2,93.1L256.0,93.1L256.8,93.1L257.6,93.2L257.6,93.7L256.8,93.7L255.9,93.7L255.1,93.7L254.3,93.6ZM258.2,93.4L259.1,93.3L260.0,93.2L260.9,93.1L260.8,93.5L260.0,93.6L259.2,93.7L258.4,93.7ZM261.1,95.0L262.5,93.8L263.4,93.5L264.3,93.3L263.7,93.8L262.8,94.4L261.9,94.9ZM258.0,90.6L258.9,90.7L259.0,89.4L259.0,88.2L259.7,88.2L260.7,89.9L261.3,89.2L260.6,88.2L259.9,87.2L261.4,86.4L260.5,86.6L259.5,86.7L258.9,85.0L260.1,85.0L261.2,85.0L262.7,84.1L262.4,85.1L261.6,85.1L260.8,85.1L260.0,85.0L258.7,84.9L258.5,86.0L258.1,87.0L257.8,88.1L258.3,88.7L258.1,89.7ZM264.8,83.6L265.7,84.1L265.3,85.0L265.9,86.2L264.9,86.0L264.9,84.6ZM265.2,88.3L266.4,88.4L267.5,88.6L267.2,89.0L266.2,88.9L265.2,88.8ZM267.7,86.7L269.0,85.9L270.4,86.3L270.9,87.4L271.4,88.6L272.2,87.7L273.0,86.9L274.0,87.2L274.9,87.6L275.9,87.9L276.8,88.3L277.8,88.7L278.7,89.1L279.8,90.6L281.3,91.1L281.1,92.0L280.9,92.9L281.8,94.0L282.7,95.0L281.9,95.0L281.1,94.9L280.4,94.0L279.6,93.1L278.8,92.9L278.0,92.6L277.1,93.8L276.3,93.9L275.5,93.9L274.7,93.5L273.9,93.0L273.1,93.3L272.8,92.4L273.6,91.5L273.1,90.3L272.2,89.9L271.3,89.6L270.5,89.3L269.7,89.1L268.5,88.1L269.8,87.5L268.5,87.4ZM281.9,90.6L282.7,90.4L283.5,90.1L284.8,89.4L285.0,90.1L283.9,91.1L283.1,91.1L282.2,91.2ZM251.5,105.9L252.1,105.7L253.1,105.2L254.1,104.6L255.1,104.3L256.2,104.0L257.0,103.8L257.9,103.5L259.2,102.2L259.5,101.0L260.4,100.8L261.3,99.8L262.3,98.9L263.4,98.3L264.2,99.4L265.5,99.3L266.1,98.0L266.6,97.0L267.9,96.1L268.7,96.4L269.5,96.6L270.3,96.8L271.8,96.8L271.4,97.7L270.4,99.2L271.4,100.3L272.1,100.9L272.8,101.5L274.2,101.6L275.1,99.8L275.3,98.7L275.6,97.5L276.1,96.1L276.6,95.4L277.2,97.1L277.2,98.6L278.3,99.4L278.2,100.8L278.3,101.8L278.4,102.9L279.1,103.5L279.9,104.2L280.1,105.1L280.3,106.0L281.2,106.4L281.1,107.5L281.7,108.2L282.3,108.9L282.1,110.2L281.9,111.6L281.1,112.9L280.4,114.2L278.8,115.8L277.4,117.2L276.3,118.5L275.3,119.7L274.3,120.1L273.4,120.5L271.4,121.6L270.5,120.8L269.0,121.4L268.5,121.0L267.9,120.6L267.3,119.9L267.8,118.6L266.9,118.3L267.3,117.2L266.5,118.1L266.0,118.2L266.8,117.1L267.6,116.0L265.4,117.7L265.1,117.4L264.8,115.8L264.0,115.2L263.1,114.6L262.2,114.8L261.3,114.9L260.4,115.1L259.6,115.3L258.7,115.6L257.8,115.8L256.2,116.9L255.3,116.9L254.4,116.9L253.5,116.9L252.5,117.4L251.5,118.0L250.7,117.6L250.0,117.2L249.8,116.5L250.8,115.1L250.9,114.2L250.9,113.3L251.0,111.9L250.8,110.9L250.5,110.0L251.2,108.6L251.0,107.7L251.5,106.8ZM269.2,123.1L270.1,123.2L271.0,123.3L271.9,123.3L271.1,124.3L270.4,125.2L269.1,125.8L268.8,124.5ZM294.0,117.4L294.9,118.3L294.8,119.7L295.4,119.9L296.0,120.2L296.7,120.4L295.3,121.8L294.2,122.1L292.4,123.7L291.5,123.7L292.5,122.7L292.1,121.8L293.5,120.6L294.1,119.3L294.1,118.3ZM290.5,122.9L291.2,123.6L289.3,125.2L288.2,126.0L286.5,126.6L285.0,127.9L283.3,128.5L282.6,128.2L281.9,128.0L283.2,126.9L285.0,126.0L286.1,125.5L287.3,125.0L288.9,123.9ZM170.0,50.3L170.8,50.2L171.6,50.1L172.4,50.1L172.1,51.6L171.1,51.1L170.0,50.6ZM166.7,47.5L167.9,47.6L167.8,49.3L166.9,49.5L166.8,48.5ZM166.9,45.9L167.6,45.8L167.7,47.2L167.1,47.1ZM178.6,52.7L179.7,52.8L180.8,52.8L180.6,53.1L179.7,53.0L178.7,52.9ZM185.5,53.1L186.0,52.8L187.2,52.5L186.7,53.2L185.7,53.5ZM117.4,132.7L118.2,132.7L119.0,132.7L119.7,132.7L119.7,133.5L119.0,133.5L118.3,133.5ZM263.6,88.4L264.6,88.6L264.1,89.0ZM45.5,36.5L44.5,36.7L43.4,36.8L42.1,37.1L42.9,36.7L44.1,36.4L45.3,36.1ZM40.3,37.5L39.3,37.6L38.3,37.7L37.3,37.9L36.3,38.0L35.3,37.9L36.4,37.7L37.5,37.6L38.3,37.4L39.1,37.3L39.9,37.2ZM280.5,36.9L282.0,37.3L282.9,37.4L283.9,37.6L284.9,37.7L286.2,38.0L285.3,37.8L284.4,37.6L283.5,37.4L282.2,37.1L281.0,36.8ZM57.1,32.9L58.0,32.8L58.8,32.7L59.1,32.1L57.9,32.3ZM35.2,66.8L36.0,67.5L35.1,68.0L35.0,67.3ZM33.7,65.5L34.2,65.8L35.0,66.2L34.5,65.9ZM303.7,101.7L304.8,101.4L304.4,102.3L303.6,102.2ZM292.3,104.2L293.3,104.9L294.2,106.1L293.7,106.1L292.5,104.9ZM295.8,99.4L296.4,99.8L296.6,100.8L296.0,100.5ZM288.3,92.0L289.3,92.4L290.3,92.9L291.0,93.6L291.7,94.3L290.9,94.5L290.1,94.1L289.4,93.6L288.0,92.4ZM290.8,94.0L291.6,94.5L292.5,95.0L292.3,95.5L291.3,94.8ZM283.6,87.9L284.8,88.7L285.8,89.9L285.3,89.8L284.4,88.8ZM286.9,90.2L287.8,91.2L287.6,91.8L287.0,91.1ZM95.6,19.2L96.2,19.2L96.7,19.2L97.2,19.2L97.8,19.3L98.3,19.3L99.0,19.2L99.6,19.1L100.2,19.1L100.9,19.0L101.5,18.9L102.2,18.8L103.1,18.3L102.7,18.1L102.3,17.9L101.9,17.7L101.4,17.7L100.8,17.8L100.2,17.8L99.6,17.9L99.0,17.9L98.1,18.0L97.3,18.2L96.5,18.3ZM105.3,18.5L105.8,18.5L106.4,18.5L106.9,18.5L107.9,18.1L107.7,17.6L107.0,17.7L106.3,17.8ZM107.4,19.1L107.9,19.1L108.5,19.1L109.0,19.1L109.5,18.5L108.9,18.5L108.2,18.5ZM94.6,17.9L95.1,18.0L95.5,18.0L96.0,18.1L96.6,18.0L97.3,17.9L98.0,17.9L98.6,17.8L98.6,17.2L97.9,17.3L97.2,17.3L96.5,17.3L95.6,17.6ZM100.9,23.5L101.4,23.6L102.0,23.7L102.5,23.7L103.7,23.2L103.1,22.7L102.5,22.8L101.8,22.9ZM114.8,20.2L115.3,20.3L115.7,20.4L116.2,20.5L116.9,20.4L117.6,20.2L117.2,20.0L116.8,19.8L116.0,19.8L115.3,19.9ZM106.1,16.6L106.5,16.7L106.9,16.7L107.4,16.8L108.6,16.3L108.3,16.2L107.9,16.0L106.7,16.2ZM108.9,16.9L109.6,16.8L110.3,16.8L111.0,16.4L110.6,16.3L110.2,16.2ZM107.1,28.4L107.8,28.5L108.6,28.6L109.2,28.1L108.6,28.0L108.0,27.9ZM101.5,16.9L102.0,16.9L102.5,16.9L103.1,16.9L103.4,16.3L102.6,16.4L101.8,16.5ZM235.7,73.0L236.1,73.9L236.0,74.9L235.7,73.9ZM66.7,154.6L67.2,154.6L67.7,154.6L68.2,154.6L68.7,154.6L69.2,154.5L69.7,154.5L70.2,154.5L70.6,154.5L71.1,154.5L71.6,154.5L72.2,154.5L72.7,154.5L73.3,154.5L73.8,154.5L74.4,154.5L74.9,154.6L75.5,154.6L76.0,154.6L76.6,154.6L77.1,154.6L77.5,154.5L77.9,154.5L78.3,154.4L78.7,154.3L79.1,154.3L79.3,154.1L79.6,154.0L79.9,153.9L80.1,153.7L80.4,153.6L80.7,153.4L81.0,153.3L81.3,153.2L81.6,153.0L81.9,152.9L82.2,152.8L82.6,152.7L82.9,152.5L83.3,152.4L83.7,152.3L84.0,152.2L84.4,152.1L84.8,152.0L85.2,151.9L85.6,151.8L86.1,151.7L86.5,151.7L87.0,151.6L87.4,151.5L87.9,151.4L88.4,151.4L88.9,151.3L89.4,151.3L89.9,151.3L90.4,151.2L91.0,151.2L91.6,151.2L92.1,151.3L92.7,151.3L93.3,151.3L93.9,151.3L94.6,151.4L95.2,151.5L95.8,151.5L96.5,151.6L97.1,151.6L97.7,151.7L98.3,151.7L98.9,151.8L99.5,151.8L100.0,151.7L100.5,151.7L100.9,151.6L101.4,151.5L101.9,151.4L102.3,151.3L102.7,151.2L103.2,151.1L103.6,151.0L104.1,150.8L104.6,150.8L105.1,150.7L105.6,150.7L106.1,150.6L106.6,150.5L107.2,150.5L107.7,150.5L108.3,150.5L108.9,150.5L109.4,150.5L110.1,150.6L110.7,150.7L111.3,150.8L112.0,150.8L112.6,150.9L113.2,150.9L113.8,151.0L114.4,151.0L114.9,151.0L115.5,151.1L116.0,151.0L116.5,150.9L117.0,150.8L117.5,150.7L117.8,150.3L118.1,149.9L118.4,149.6L118.7,149.2L119.0,148.8L119.4,148.4L119.6,147.8L119.9,147.3L120.1,146.1L120.4,145.5L120.7,144.9L121.2,144.5L121.8,144.0L122.4,143.7L123.0,143.4L123.5,143.1L124.7,143.5L124.2,143.9L123.8,144.3L123.4,144.8L123.0,145.3L122.7,145.9L122.4,146.5L122.6,147.3L122.7,148.0L123.6,148.8L124.5,149.6L125.2,150.3L125.9,151.1L126.4,152.2L127.2,152.5L128.0,152.9L128.7,153.1L129.4,153.3L130.1,153.5L130.7,153.7L131.4,153.9L132.0,154.0L132.6,154.1L133.1,154.1L133.7,154.2L134.3,154.3L134.8,154.3L135.4,154.3L135.9,154.4L136.4,154.4L137.0,154.4L137.5,154.4L138.0,154.4L138.5,154.3L139.0,154.3L139.5,154.3L140.0,154.2L140.5,154.1L141.0,154.1L141.5,154.0L142.0,153.9L142.4,153.7L142.9,153.5L143.3,153.3L143.8,153.1L144.3,152.9L144.7,152.7L145.2,152.5L145.7,152.3L146.2,152.1L146.7,152.0L147.2,151.8L147.7,151.6L148.3,151.4L148.8,151.3L149.3,151.1L149.8,150.9L150.4,150.7L150.9,150.5L151.4,150.4L152.0,150.2L152.5,150.0L153.1,149.8L153.6,149.6L154.2,149.4L154.8,149.3L155.3,149.2L155.9,149.0L156.5,149.0L157.1,148.9L157.6,148.9L158.2,148.9L158.8,148.8L159.4,148.7L160.0,148.6L160.6,148.4L161.1,148.4L161.7,148.4L162.3,148.4L162.9,148.4L163.5,148.4L164.1,148.4L164.7,148.4L165.3,148.4L165.8,148.4L166.4,148.4L167.0,148.5L167.6,148.5L168.2,148.5L168.8,148.5L169.3,148.6L169.9,148.5L170.5,148.5L171.1,148.5L171.7,148.5L172.3,148.4L172.9,148.5L173.5,148.5L174.1,148.5L174.6,148.5L175.2,148.6L175.8,148.5L176.4,148.4L177.0,148.3L177.7,148.2L178.3,148.1L178.9,148.1L179.5,148.1L180.1,148.0L180.7,148.0L181.3,148.0L181.9,147.9L182.5,147.8L183.1,147.8L183.7,147.7L184.3,147.6L185.0,147.5L185.7,147.3L186.3,147.1L187.0,146.9L187.7,146.7L188.4,146.5L189.0,146.4L189.7,146.2L190.4,146.1L191.0,145.9L191.7,145.9L192.3,145.8L192.9,145.8L193.6,145.7L194.2,145.7L194.8,145.8L195.3,145.9L195.9,146.0L196.4,146.1L197.0,146.2L197.6,146.3L198.1,146.4L198.7,146.4L199.3,146.5L199.8,146.5L200.3,146.8L200.8,147.0L201.2,147.3L201.6,147.6L202.0,148.0L202.4,148.2L202.9,148.4L203.6,148.2L204.3,148.0L204.9,148.0L205.6,147.9L206.2,147.9L207.0,147.5L207.9,147.2L208.7,146.9L209.4,146.7L210.2,146.5L210.9,146.3L211.6,146.1L212.4,145.9L213.0,145.9L213.7,145.8L214.3,145.8L215.0,145.7L215.6,145.7L216.2,145.7L216.9,145.6L217.5,145.6L218.1,145.6L218.7,145.6L219.4,145.6L220.0,145.6L220.6,145.5L221.2,145.5L221.9,145.5L222.5,145.5L223.1,145.5L223.7,145.5L224.4,145.4L225.0,145.4L225.6,145.4L226.2,145.4L226.8,145.4L227.5,145.4L228.1,145.4L228.6,145.5L229.1,145.6L229.6,145.7L230.2,145.8L230.7,145.9L231.3,145.9L231.9,145.9L232.5,145.9L233.1,145.9L233.7,145.9L234.4,145.9L235.0,145.8L235.7,145.8L236.4,145.7L237.0,145.7L237.7,145.6L238.4,145.6L239.0,145.5L239.7,145.5L240.3,145.4L241.0,145.4L241.6,145.4L242.2,145.4L242.8,145.4L243.4,145.4L243.9,145.5L244.4,145.6L244.9,145.7L245.4,145.8L245.9,145.9L246.4,146.0L246.9,146.1L247.4,146.2L247.8,146.4L248.3,146.5L248.7,146.6L249.1,146.8L249.5,146.9L249.9,147.1L250.3,147.3L250.8,147.3L251.3,147.4L251.8,147.5L252.3,147.6L252.8,147.6L253.2,147.8L253.6,147.9L254.0,148.0L254.4,148.1L254.9,148.3L255.2,148.4L255.6,148.6L255.9,148.7L256.3,148.9L256.7,149.0L257.0,149.2L257.3,149.3L257.7,149.5L258.0,149.6L258.3,149.8L257.4,150.7L256.2,151.1L255.0,151.4L253.8,151.8L252.6,152.2L251.3,152.5L250.1,152.9L248.5,153.9L248.9,154.0L249.2,154.1L249.6,154.2L249.9,154.3L250.3,154.3L250.8,154.4L251.2,154.4L251.7,154.4L252.1,154.5L252.5,154.5L253.0,154.5L253.5,154.6L253.9,154.6L254.4,154.6L252.8,155.3L251.2,155.9L249.6,156.6L248.1,157.2L246.6,157.7L245.1,158.2L243.8,158.7L242.4,159.1L241.2,159.5L240.0,159.8L238.9,160.1L238.5,160.1L238.1,160.1L237.6,160.1L237.2,160.1L236.8,160.1L236.3,160.1L235.9,160.1L235.5,160.1L235.0,160.1L234.6,160.1L234.2,160.1L233.7,160.1L233.3,160.1L232.8,160.1L232.4,160.1L232.0,160.1L231.5,160.1L231.1,160.1L230.7,160.1L230.2,160.1L229.8,160.1L229.4,160.1L228.9,160.1L228.5,160.1L228.1,160.1L227.6,160.1L227.2,160.1L226.7,160.1L226.3,160.1L225.9,160.1L225.4,160.1L225.0,160.1L224.6,160.1L224.1,160.1L223.7,160.1L223.3,160.1L222.8,160.1L222.4,160.1L222.0,160.1L221.5,160.1L221.1,160.1L220.7,160.1L220.2,160.1L219.8,160.1L219.3,160.1L218.9,160.1L218.5,160.1L218.0,160.1L217.6,160.1L217.2,160.1L216.7,160.1L216.3,160.1L215.9,160.1L215.4,160.1L215.0,160.1L214.6,160.1L214.1,160.1L213.7,160.1L213.2,160.1L212.8,160.1L212.4,160.1L211.9,160.1L211.5,160.1L211.1,160.1L210.6,160.1L210.2,160.1L209.8,160.1L209.3,160.1L208.9,160.1L208.5,160.1L208.0,160.1L207.6,160.1L207.2,160.1L206.7,160.1L206.3,160.1L205.8,160.1L205.4,160.1L205.0,160.1L204.5,160.1L204.1,160.1L203.7,160.1L203.2,160.1L202.8,160.1L202.4,160.1L201.9,160.1L201.5,160.1L201.1,160.1L200.6,160.1L200.2,160.1L199.7,160.1L199.3,160.1L198.9,160.1L198.4,160.1L198.0,160.1L197.6,160.1L197.1,160.1L196.7,160.1L196.3,160.1L195.8,160.1L195.4,160.1L195.0,160.1L194.5,160.1L194.1,160.1L193.6,160.1L193.2,160.1L192.8,160.1L192.3,160.1L191.9,160.1L191.5,160.1L191.0,160.1L190.6,160.1L190.2,160.1L189.7,160.1L189.3,160.1L188.9,160.1L188.4,160.1L188.0,160.1L187.6,160.1L187.1,160.1L186.7,160.1L186.2,160.1L185.8,160.1L185.4,160.1L184.9,160.1L184.5,160.1L184.1,160.1L183.6,160.1L183.2,160.1L182.8,160.1L182.3,160.1L181.9,160.1L181.5,160.1L181.0,160.1L180.6,160.1L180.1,160.1L179.7,160.1L179.3,160.1L178.8,160.1L178.4,160.1L178.0,160.1L177.5,160.1L177.1,160.1L176.7,160.1L176.2,160.1L175.8,160.1L175.4,160.1L174.9,160.1L174.5,160.1L174.1,160.1L173.6,160.1L173.2,160.1L172.7,160.1L172.3,160.1L171.9,160.1L171.4,160.1L171.0,160.1L170.6,160.1L170.1,160.1L169.7,160.1L169.3,160.1L168.8,160.1L168.4,160.1L168.0,160.1L167.5,160.1L167.1,160.1L166.6,160.1L166.2,160.1L165.8,160.1L165.3,160.1L164.9,160.1L164.5,160.1L164.0,160.1L163.6,160.1L163.2,160.1L162.7,160.1L162.3,160.1L161.9,160.1L161.4,160.1L161.0,160.1L160.6,160.1L160.1,160.1L159.7,160.1L159.2,160.1L158.8,160.1L158.4,160.1L157.9,160.1L157.5,160.1L157.1,160.1L156.6,160.1L156.2,160.1L155.8,160.1L155.3,160.1L154.9,160.1L154.5,160.1L154.0,160.1L153.6,160.1L153.1,160.1L152.7,160.1L152.3,160.1L151.8,160.1L151.4,160.1L151.0,160.1L150.5,160.1L150.1,160.1L149.7,160.1L149.2,160.1L148.8,160.1L148.4,160.1L147.9,160.1L147.5,160.1L147.0,160.1L146.6,160.1L146.2,160.1L145.7,160.1L145.3,160.1L144.9,160.1L144.4,160.1L144.0,160.1L143.6,160.1L143.1,160.1L142.7,160.1L142.3,160.1L141.8,160.1L141.4,160.1L141.0,160.1L140.5,160.1L140.1,160.1L139.6,160.1L139.2,160.1L138.8,160.1L138.3,160.1L137.9,160.1L137.5,160.1L137.0,160.1L136.6,160.1L136.2,160.1L135.7,160.1L135.3,160.1L134.9,160.1L134.4,160.1L134.0,160.1L133.5,160.1L133.1,160.1L132.7,160.1L132.2,160.1L131.8,160.1L131.4,160.1L130.9,160.1L130.5,160.1L130.1,160.1L129.6,160.1L129.2,160.1L128.8,160.1L128.3,160.1L127.9,160.1L127.5,160.1L127.0,160.1L126.6,160.1L126.1,160.1L125.7,160.1L125.3,160.1L124.8,160.1L124.4,160.1L124.0,160.1L123.5,160.1L123.1,160.1L122.7,160.1L122.2,160.1L121.8,160.1L121.4,160.1L120.9,160.1L120.5,160.1L120.0,160.1L119.6,160.1L119.2,160.1L118.7,160.1L118.3,160.1L117.9,160.1L117.4,160.1L117.0,160.1L116.6,160.1L116.1,160.1L115.7,160.1L115.3,160.1L114.8,160.1L114.4,160.1L113.9,160.1L113.5,160.1L113.1,160.1L112.6,160.1L112.2,160.1L111.8,160.1L111.3,160.1L110.9,160.1L110.5,160.1L110.0,160.1L109.6,160.1L109.2,160.1L108.7,160.1L108.3,160.1L107.9,160.1L107.4,160.1L107.0,160.1L106.5,160.1L106.1,160.1L105.7,160.1L105.2,160.1L104.8,160.1L104.4,160.1L103.9,160.1L103.5,160.1L103.1,160.1L102.6,160.1L102.2,160.1L101.8,160.1L101.3,160.1L100.9,160.1L100.4,160.1L100.0,160.1L99.6,160.1L99.1,160.1L98.7,160.1L98.3,160.1L97.8,160.1L97.4,160.1L97.0,160.1L96.5,160.1L96.1,160.1L95.7,160.1L95.2,160.1L94.8,160.1L94.4,160.1L93.9,160.1L93.5,160.1L93.0,160.1L92.6,160.1L92.2,160.1L91.7,160.1L91.3,160.1L90.9,160.1L90.4,160.1L90.0,160.1L89.6,160.1L89.1,160.1L88.7,160.1L88.3,160.1L87.8,160.1L87.4,160.1L86.9,160.1L86.5,160.1L86.1,160.1L85.6,160.1L85.2,160.1L84.8,160.1L84.3,160.1L83.9,160.1L83.5,160.1L83.0,160.1L82.6,160.1L82.2,160.1L81.1,159.8L79.9,159.5L78.7,159.1L77.3,158.7L76.0,158.2L74.5,157.7L73.0,157.2L71.5,156.6L69.9,155.9L68.3,155.3Z" fill="#ffffff"/>
<path id="coast" d="M56.8,26.1L57.7,25.8L58.7,25.6L59.5,25.4L60.3,25.3L61.6,25.0L61.4,24.5L61.0,24.1L60.7,23.9L61.6,23.7L62.6,23.4L64.4,22.8L65.9,22.3L66.9,22.2L67.9,22.0L68.9,21.8L69.8,21.6L70.2,21.7L70.7,21.9L71.3,21.9L72.0,22.0L72.6,22.1L73.2,22.2L73.7,22.3L74.2,22.4L74.8,22.5L75.4,22.5L76.0,22.5L76.6,22.5L76.9,22.7L77.3,22.8L77.8,22.9L78.3,23.0L78.7,23.2L79.0,23.4L79.9,23.2L80.7,23.0L81.6,23.0L82.5,22.8L83.4,22.7L84.1,22.6L84.7,22.6L85.4,22.5L86.1,22.3L86.4,22.6L86.7,22.9L87.2,23.0L87.7,23.0L88.5,22.9L89.2,22.7L89.6,22.9L90.0,23.1L90.4,23.3L91.0,23.3L91.5,23.4L92.1,23.4L92.5,23.6L92.9,23.8L93.4,23.9L93.9,24.0L94.4,24.1L95.2,24.1L96.0,24.0L97.3,23.5L97.6,23.8L98.0,24.1L98.6,24.2L99.3,24.3L99.9,24.3L100.5,24.3L101.1,24.3L102.5,23.7L103.1,24.1L104.7,23.0L105.0,22.2L105.4,21.4L106.7,21.1L106.8,21.8L106.7,22.6L107.3,22.8L107.8,23.1L107.9,23.7L108.3,23.9L108.8,24.1L110.3,23.0L110.9,22.9L111.6,22.8L112.2,23.2L111.2,24.5L110.3,25.0L109.4,25.5L108.8,25.4L108.2,25.4L107.6,25.3L106.4,26.1L105.2,27.0L104.3,27.4L103.4,27.8L102.2,28.4L100.9,29.0L99.9,29.9L98.8,30.7L98.3,31.7L98.5,33.1L99.3,33.2L100.1,33.3L100.7,33.7L101.3,34.1L101.9,34.4L102.6,34.7L103.4,34.9L104.2,35.0L103.8,35.9L103.5,36.8L104.0,38.1L105.0,38.1L105.6,37.2L106.0,36.3L106.3,35.4L107.3,34.9L108.3,34.3L109.4,32.8L109.4,31.5L110.1,30.3L110.7,28.9L111.5,28.8L112.3,28.8L113.0,28.9L113.8,29.0L114.4,29.7L115.4,29.9L115.0,30.7L114.7,31.5L115.2,31.8L115.7,32.1L117.0,31.3L118.2,30.4L117.9,31.7L118.3,32.3L118.8,32.8L118.9,34.1L119.4,34.5L120.0,34.8L120.5,35.1L121.1,35.4L121.8,36.3L121.6,37.6L120.1,38.2L119.1,38.7L118.0,39.2L117.3,39.2L116.6,39.2L115.9,39.2L115.0,39.3L114.2,39.4L113.3,39.4L112.5,39.8L111.6,40.1L110.6,40.9L109.6,41.7L110.7,41.1L111.9,40.5L112.6,40.4L113.4,40.3L114.1,40.1L114.5,40.5L113.8,41.2L113.7,42.1L114.3,43.0L115.1,43.2L116.0,43.4L116.9,42.6L116.8,43.2L115.9,43.6L115.1,43.9L114.3,44.2L113.5,44.4L111.9,45.2L113.3,43.7L112.6,43.8L111.8,43.9L110.9,44.4L109.6,44.9L108.6,45.2L107.9,46.2L108.3,46.9L107.8,47.1L106.6,47.4L105.1,47.8L104.7,48.5L103.9,49.4L103.5,49.0L103.4,50.1L102.5,51.1L102.1,51.7L102.4,52.9L101.5,53.4L100.2,54.1L99.0,54.8L97.8,55.6L96.9,56.6L96.7,57.7L96.9,59.2L97.1,60.7L96.8,61.9L96.2,62.2L96.0,61.5L95.6,61.0L95.2,59.8L95.4,58.7L94.8,57.8L94.2,57.7L93.3,57.9L92.7,57.4L91.5,57.3L90.3,57.6L90.3,58.5L89.3,58.6L88.2,58.1L86.8,58.0L85.8,58.4L84.4,59.3L83.4,60.5L83.1,61.6L82.6,63.3L82.4,64.2L82.3,65.1L82.5,66.3L83.0,67.7L84.0,68.4L84.8,68.7L86.0,68.3L86.8,68.3L87.7,67.5L88.0,66.1L89.6,65.6L90.8,65.5L90.3,67.0L89.9,68.4L89.3,69.6L89.1,70.7L89.7,70.9L90.6,70.8L91.4,70.8L92.5,71.2L93.1,71.7L92.7,73.5L92.6,74.4L92.4,75.3L92.9,76.2L93.7,77.2L94.5,77.3L95.5,76.7L96.2,76.6L97.1,77.5L97.5,77.9L97.0,78.7L96.6,77.8L95.7,77.3L95.0,77.9L95.2,78.7L94.5,78.4L93.9,77.9L92.9,78.0L92.4,77.5L91.6,76.6L90.7,76.3L90.6,75.3L90.0,74.1L89.4,73.4L88.7,73.3L87.7,73.0L86.4,72.6L85.6,72.0L84.7,70.8L83.7,70.5L82.4,71.1L81.1,70.5L79.9,70.1L78.6,69.3L77.5,68.7L76.4,67.8L75.8,66.7L76.1,65.5L75.9,64.6L75.3,63.6L74.6,62.3L73.7,61.4L73.3,60.1L72.7,59.0L72.2,58.1L72.0,56.6L70.9,56.1L70.6,57.1L71.2,58.3L71.4,59.9L72.0,61.0L72.1,61.9L72.3,62.8L73.1,64.0L72.5,64.3L72.1,63.3L71.2,62.6L71.4,61.4L70.6,60.7L70.1,59.9L70.5,59.2L69.6,57.8L69.4,56.3L69.3,55.3L68.9,54.2L68.3,53.8L67.4,53.5L67.4,52.6L67.2,51.4L67.2,50.5L67.0,50.1L67.0,48.8L67.0,48.1L67.8,46.9L68.1,45.9L69.3,44.4L70.3,42.9L70.9,41.8L71.0,40.9L72.1,41.0L72.1,41.7L72.6,40.3L72.0,39.6L71.7,39.0L71.2,38.8L70.6,38.5L71.2,37.4L71.0,36.3L71.1,35.4L70.9,34.7L71.2,33.7L71.6,32.1L70.9,32.2L70.2,32.2L69.7,31.7L69.3,31.4L68.8,31.0L68.1,30.7L67.3,30.7L66.5,30.7L66.2,30.4L65.9,30.0L65.1,30.1L64.3,30.3L62.7,30.9L61.7,31.1L60.8,31.4L61.9,30.2L63.3,29.7L62.2,30.1L61.2,30.4L59.1,31.5L57.9,32.3L56.8,32.7L55.8,33.1L53.5,34.0L51.8,34.5L50.1,34.9L48.5,35.3L47.4,35.5L49.2,34.8L51.0,34.2L52.2,33.8L53.3,33.4L55.2,32.6L56.6,31.8L55.8,31.7L55.0,31.8L54.3,31.9L53.4,31.8L54.5,30.9L53.9,30.8L53.2,30.7L53.1,30.2L53.8,29.4L55.4,28.5L56.4,28.0L57.2,27.9L57.9,27.8L59.8,27.0L58.7,27.0L58.1,27.0L57.6,27.0L56.7,26.9L56.6,26.4ZM97.5,77.9L98.6,76.7L99.1,75.7L100.2,75.1L101.2,74.9L102.0,74.1L102.6,74.6L102.1,75.3L102.3,76.2L102.7,76.7L102.8,75.5L103.6,74.8L104.0,74.9L105.0,75.7L106.4,75.7L107.2,75.9L108.0,76.1L108.8,75.8L109.7,75.6L110.2,76.1L110.8,76.7L111.2,77.6L112.0,77.9L113.0,79.0L114.0,79.9L114.8,80.0L115.6,80.0L116.8,80.3L118.1,81.1L118.7,81.6L119.2,83.2L119.6,84.6L119.2,85.5L120.5,86.0L121.1,86.2L122.5,86.4L123.9,87.0L125.0,87.6L125.8,87.9L126.6,88.2L127.4,88.2L128.2,88.3L129.5,89.4L130.7,90.1L131.7,90.3L131.9,91.4L132.2,92.4L132.0,93.8L131.4,94.6L130.4,95.7L129.7,97.1L129.0,98.0L129.0,99.1L129.0,100.3L128.9,102.0L128.6,103.5L128.2,104.5L127.7,105.9L127.0,106.7L126.0,106.8L124.8,107.1L123.8,107.7L122.7,108.4L121.9,109.6L122.0,110.5L122.1,111.4L121.6,112.5L121.1,113.7L120.3,114.9L119.8,116.2L119.1,117.0L118.5,117.7L117.3,117.8L116.2,118.2L116.6,119.3L116.8,120.6L115.8,121.3L114.9,121.4L113.9,121.6L113.4,122.0L113.8,123.0L112.9,123.5L111.8,123.4L112.6,124.6L113.2,125.1L112.5,125.7L112.6,126.9L111.8,127.2L111.4,128.1L112.9,129.3L112.5,130.2L112.3,131.6L111.9,132.5L112.7,133.6L112.1,133.8L113.2,134.7L114.1,135.3L114.9,135.6L115.7,135.8L115.1,136.1L114.5,136.3L113.9,136.4L113.2,136.2L112.4,136.0L111.5,135.6L110.6,135.1L109.2,134.2L107.6,132.9L107.1,131.8L106.6,130.7L106.2,129.8L105.9,128.9L106.2,128.0L105.9,126.6L106.2,125.7L105.3,124.3L105.4,123.4L104.8,122.0L104.6,121.1L104.5,120.2L104.6,118.8L104.7,117.4L104.8,116.0L104.7,114.6L104.5,113.7L104.3,112.8L104.2,111.9L104.2,110.9L104.3,110.0L104.3,109.1L104.3,108.2L104.2,107.2L104.3,106.3L104.3,105.4L104.2,104.5L104.1,103.5L103.8,102.4L102.8,101.5L101.5,100.8L100.7,100.3L99.8,99.7L98.7,98.5L98.4,97.3L97.5,96.1L96.8,94.8L96.4,93.8L95.9,92.9L95.3,91.8L94.4,91.1L94.1,89.7L94.7,88.7L95.1,87.8L94.4,87.2L94.4,86.2L94.8,85.3L95.1,84.7L95.9,84.3L96.3,83.6L97.1,82.9L97.4,82.0L97.3,80.9L97.3,79.5L97.0,78.7ZM146.9,66.1L147.6,64.7L147.8,63.5L148.6,62.4L149.0,61.4L150.1,60.3L151.1,59.6L152.3,58.7L152.8,57.9L153.0,56.8L153.3,55.4L154.3,54.5L155.3,53.9L155.8,52.7L156.1,52.4L156.5,52.3L157.5,52.9L158.2,53.0L159.0,53.0L159.8,52.7L160.6,52.4L161.7,51.7L162.5,51.6L163.2,51.5L164.0,51.5L164.8,51.5L165.5,51.4L166.3,51.3L167.0,51.1L167.8,51.0L168.4,51.2L169.0,51.3L168.6,51.7L168.9,52.7L168.3,53.8L168.7,54.2L169.3,54.8L170.3,55.2L171.3,55.4L172.2,55.6L172.7,56.4L173.5,56.6L174.3,56.8L175.5,57.5L176.2,56.8L176.2,55.9L177.3,55.2L178.5,55.3L179.7,55.9L180.2,56.3L181.2,56.4L182.1,56.5L183.3,56.8L184.4,56.4L185.6,56.6L186.8,56.7L187.3,56.5L187.7,58.2L187.4,59.6L187.0,59.7L187.7,61.0L188.4,62.4L188.9,63.3L189.3,64.2L189.8,65.1L190.5,66.1L190.6,67.0L190.7,67.9L191.7,68.8L192.0,69.8L192.3,70.7L192.8,71.3L193.8,72.3L194.9,73.5L195.7,73.9L195.8,74.8L196.8,75.8L198.0,75.6L198.8,75.4L199.6,75.1L200.4,75.0L201.2,74.9L202.3,74.6L202.1,75.9L201.7,77.2L201.3,78.1L201.0,79.0L200.2,80.4L199.4,81.8L198.2,83.2L197.4,83.8L196.5,84.4L195.7,85.2L194.9,86.0L194.1,87.2L193.4,88.0L193.0,89.0L192.7,89.9L192.4,91.1L192.8,92.0L192.6,93.4L192.9,94.8L193.5,95.7L193.5,97.1L193.5,98.0L193.5,98.9L193.3,99.8L192.1,101.0L191.2,101.5L190.4,102.0L189.5,103.1L188.5,103.8L188.9,104.9L189.0,106.0L188.9,107.7L188.0,108.4L186.8,109.1L186.6,110.0L186.3,111.4L185.8,112.3L184.9,113.3L184.0,114.4L182.7,115.6L181.5,116.5L180.5,116.8L179.1,117.0L178.0,117.0L177.0,117.3L176.0,117.7L175.1,117.2L174.8,117.0L174.8,115.8L174.6,114.6L174.1,113.3L173.6,112.0L172.7,110.5L172.5,109.6L172.3,108.6L172.2,107.7L172.1,106.8L172.0,105.9L171.2,104.5L170.8,103.5L170.4,102.6L170.0,101.2L170.1,100.3L170.4,98.9L170.9,97.5L171.6,96.6L171.7,95.7L171.3,94.3L171.2,93.4L170.9,92.4L170.6,91.5L170.5,90.9L170.2,89.9L169.5,89.0L168.7,88.1L168.2,86.9L168.1,85.5L168.3,84.6L168.6,83.2L168.6,82.3L168.1,81.8L167.5,81.3L166.7,81.3L165.5,81.5L164.6,80.4L164.2,79.7L163.0,79.6L162.2,79.7L161.4,79.9L160.6,80.4L159.7,80.9L158.9,81.1L158.1,80.8L156.9,80.7L155.6,81.0L154.4,81.4L153.6,81.1L152.8,80.5L152.0,79.8L151.2,79.1L150.3,78.6L149.8,77.9L149.7,76.9L148.7,75.9L148.3,75.3L147.9,74.6L146.9,73.9L146.9,73.0L146.5,71.9L146.9,71.2L147.2,70.5L147.5,69.3L147.7,68.4L147.3,67.5L147.5,67.0L147.1,66.1ZM200.6,96.6L201.1,98.0L201.3,98.9L201.4,99.8L200.7,101.2L200.3,102.6L199.8,104.0L199.4,105.2L199.0,106.3L198.7,107.2L198.4,108.2L198.0,108.6L197.2,108.9L196.3,109.1L195.6,108.4L195.5,107.2L195.4,106.3L195.3,105.4L195.9,104.5L196.3,103.1L196.2,102.2L196.1,101.2L196.5,100.5L197.8,100.1L198.6,99.4L199.5,98.3L200.2,97.1ZM156.2,52.2L155.7,51.5L154.9,51.1L153.7,51.3L153.9,50.1L153.3,49.6L153.8,48.3L154.0,47.1L153.6,45.8L154.6,45.1L155.4,45.2L156.1,45.2L156.9,45.3L157.6,45.4L158.5,45.4L159.4,45.4L159.7,44.4L159.7,43.0L159.0,41.9L158.0,41.5L157.3,41.2L157.2,40.7L158.4,40.5L159.5,40.6L159.3,39.7L159.8,40.0L160.7,39.9L161.6,39.2L162.3,38.4L163.0,38.2L163.4,37.7L163.9,36.8L164.7,36.4L165.4,36.3L166.5,35.9L166.4,35.0L166.0,33.7L166.3,33.2L166.9,32.9L167.6,32.7L167.5,33.7L167.7,34.1L167.4,35.0L168.0,35.7L168.8,35.7L169.5,35.5L170.2,35.9L170.9,35.7L171.5,35.6L172.5,35.2L173.2,35.2L173.9,35.5L174.6,35.1L174.9,34.7L174.7,33.4L175.0,33.0L175.6,32.7L176.5,33.2L176.8,32.6L176.1,32.0L176.0,31.4L176.7,31.2L177.3,31.0L178.1,31.1L178.9,31.1L179.6,30.9L180.4,30.7L179.1,30.3L178.1,30.3L177.5,30.4L176.9,30.5L176.2,30.7L175.6,30.8L175.2,30.4L174.4,30.0L174.4,29.2L174.0,28.4L174.8,27.8L175.5,27.0L176.3,26.5L176.2,26.1L175.3,25.9L174.4,25.9L173.9,26.3L173.8,27.0L173.2,27.6L172.5,28.0L171.9,28.5L171.7,29.4L171.7,30.0L172.6,30.5L172.9,31.0L172.4,31.5L171.7,32.0L171.6,32.8L171.3,33.7L170.6,34.1L170.2,34.7L169.3,34.7L169.0,33.9L168.8,33.4L168.3,32.6L168.0,32.0L167.6,31.3L167.3,31.5L166.8,31.6L166.1,32.2L165.2,32.4L164.3,32.0L164.0,31.3L163.8,30.3L163.8,29.4L163.9,28.6L165.0,28.3L165.9,27.8L166.8,27.2L167.7,26.5L168.2,25.7L168.9,24.9L169.5,24.1L170.1,23.7L170.9,23.1L171.7,22.7L172.3,22.5L172.9,22.4L173.4,22.3L174.0,22.1L174.5,22.0L175.1,21.8L175.7,21.8L176.2,21.8L177.1,21.9L178.1,22.1L178.7,22.3L179.7,22.7L180.4,23.0L181.2,23.2L182.0,23.4L182.8,23.6L183.6,23.9L184.3,24.1L185.0,24.4L185.7,25.1L185.1,25.6L184.2,25.7L183.6,25.6L182.9,25.5L182.1,25.7L182.2,26.5L182.5,27.2L183.5,27.4L184.2,27.5L184.3,27.0L185.2,26.9L185.9,27.0L186.3,25.5L187.4,25.6L187.4,24.9L186.8,23.9L187.8,23.7L188.5,24.1L189.2,24.2L189.8,24.4L190.6,24.1L191.3,24.0L192.0,23.8L193.0,24.0L193.5,23.9L194.1,23.7L194.6,23.6L195.1,23.5L196.2,23.7L196.5,23.4L196.4,22.7L197.4,22.8L198.1,23.0L198.8,23.1L199.5,23.2L200.1,23.4L200.1,22.9L199.6,22.1L199.6,21.6L199.7,20.8L199.9,20.3L200.6,20.1L201.7,20.5L202.4,21.2L202.4,21.8L203.2,22.3L203.7,23.4L204.7,24.0L205.0,24.9L205.5,24.5L205.4,23.7L204.8,23.2L203.8,22.2L202.9,21.6L203.2,20.9L203.9,21.1L204.9,21.7L205.6,21.4L204.6,20.9L205.1,20.8L205.7,20.8L205.8,19.9L206.5,19.8L207.1,19.7L207.6,19.7L208.2,19.7L208.7,19.7L208.7,19.2L208.4,18.7L209.1,18.5L209.7,18.4L210.1,18.3L210.6,18.2L211.0,18.1L211.5,18.1L212.1,18.1L212.6,18.0L213.0,18.0L213.5,17.9L213.9,17.8L214.3,17.7L214.6,17.5L214.9,17.3L215.2,17.1L215.5,16.9L216.2,17.1L216.9,17.2L218.3,17.7L218.9,17.7L219.5,17.6L220.1,17.6L221.0,17.8L221.8,18.0L222.9,18.6L223.0,19.2L222.6,19.6L223.3,19.7L224.0,19.9L224.7,19.8L225.4,19.8L226.0,19.8L226.6,19.9L227.2,19.9L228.0,20.1L228.7,20.2L229.5,20.4L229.9,20.1L230.2,19.9L230.8,19.9L231.4,19.9L232.0,19.9L232.9,20.2L233.8,20.5L234.3,21.1L235.6,21.7L236.8,22.0L236.9,21.3L237.9,21.4L238.7,21.4L239.4,21.4L240.1,21.4L240.8,21.4L240.3,20.8L240.7,20.5L241.4,20.5L242.2,20.5L243.1,20.7L244.0,20.8L244.8,20.9L245.6,21.0L246.3,21.1L247.9,21.5L249.3,21.9L249.9,21.8L250.6,21.8L251.2,21.8L251.8,21.9L252.5,21.9L253.4,22.1L254.3,22.3L255.6,22.9L256.1,22.8L256.7,22.8L257.5,22.8L258.3,22.9L258.9,22.8L259.5,22.7L260.1,22.6L260.7,22.5L261.5,22.6L262.4,22.7L263.0,22.7L263.7,22.7L264.3,22.7L265.3,22.9L266.3,23.0L267.8,23.4L269.3,24.4L270.8,25.4L272.2,26.4L272.0,26.9L271.2,26.8L274.1,28.2L273.8,28.6L273.4,28.8L273.0,29.0L272.6,29.2L272.4,29.5L272.2,29.9L272.1,30.3L272.0,30.7L270.9,30.5L269.8,30.3L269.4,30.5L269.0,30.7L268.3,30.9L268.4,31.5L268.7,32.4L270.0,33.3L270.5,34.0L271.2,35.0L271.5,35.9L271.7,36.8L271.1,37.2L271.0,38.5L269.6,37.2L268.0,35.9L266.4,34.6L265.4,33.4L265.1,32.6L265.9,32.2L265.8,31.3L265.9,30.5L266.1,29.9L265.2,29.2L264.5,29.3L263.8,29.4L263.8,29.9L262.0,29.2L261.4,29.4L261.8,30.7L261.7,31.1L261.1,31.5L260.0,31.4L259.1,31.3L258.2,31.3L257.6,31.3L257.0,31.4L255.8,31.2L255.3,31.3L254.7,31.4L254.2,31.9L254.3,32.6L253.9,33.3L253.7,33.8L254.2,35.0L255.9,36.1L256.5,35.7L258.1,36.3L259.2,37.4L260.0,39.0L260.7,39.9L261.4,40.8L261.2,41.9L261.4,43.0L261.0,43.9L260.6,45.0L260.1,45.9L258.8,45.6L258.1,46.1L257.8,46.4L257.9,47.6L258.0,48.1L257.6,48.7L257.0,49.2L258.0,49.9L259.0,50.8L259.8,51.7L260.2,52.8L259.7,53.1L259.1,53.5L258.4,53.7L257.9,52.8L257.6,51.7L257.3,50.8L256.6,50.5L255.8,50.3L255.4,49.6L254.5,48.7L253.8,48.7L253.1,49.2L252.6,49.6L252.4,48.9L252.5,48.1L251.8,47.7L251.3,48.2L250.8,48.7L250.3,49.3L249.8,49.6L250.6,50.4L251.5,51.1L252.4,50.6L253.3,50.8L254.1,50.9L253.3,51.6L252.9,52.3L252.5,53.1L253.6,53.8L254.5,55.0L255.7,56.2L256.1,57.0L255.9,57.6L256.5,57.8L256.5,59.0L256.2,59.6L255.9,60.4L255.6,61.4L255.3,62.2L254.8,62.8L254.0,63.6L253.2,64.4L252.0,64.9L251.4,64.7L250.7,65.3L249.6,65.7L249.1,66.4L248.6,65.6L247.5,65.4L246.7,65.6L246.3,66.4L245.8,67.2L245.7,67.9L246.2,68.7L246.6,69.4L247.5,70.4L248.2,71.2L248.8,72.1L249.3,73.3L249.4,74.7L248.9,75.3L247.8,75.9L247.4,76.4L246.3,77.5L246.0,76.8L246.1,76.1L245.6,75.9L244.8,75.7L244.3,74.9L243.7,74.2L242.6,73.8L242.5,73.1L241.7,73.1L241.7,74.1L241.3,75.9L241.5,77.0L242.4,77.8L242.6,78.8L243.2,79.1L244.0,79.8L244.7,80.5L245.1,81.5L245.2,82.9L245.8,84.1L245.2,84.3L244.4,83.6L243.4,82.8L243.0,81.9L242.5,80.9L242.4,79.6L241.9,79.2L240.9,77.9L240.7,77.2L240.8,75.8L240.6,74.4L240.7,73.3L240.2,72.1L239.7,70.9L239.4,70.1L238.5,70.1L237.8,70.9L237.3,70.7L236.8,70.3L236.7,69.0L236.2,67.9L235.7,67.1L235.1,66.5L234.5,65.8L234.0,64.9L233.5,64.6L233.0,64.7L232.5,65.2L231.9,65.4L231.2,65.4L230.3,65.6L230.2,66.4L229.9,67.1L229.0,67.6L228.3,68.6L227.4,69.8L227.0,70.2L226.3,70.9L225.6,71.4L225.6,73.0L225.8,73.9L225.5,75.1L225.5,76.0L225.0,76.0L224.8,76.7L224.3,77.4L223.8,78.0L223.3,77.6L222.7,76.7L222.2,75.3L221.8,74.4L221.3,73.5L220.8,72.1L220.3,70.9L219.8,69.8L219.4,68.4L219.1,67.5L219.0,66.5L218.8,65.6L218.4,65.0L217.9,66.1L217.1,66.3L216.3,65.6L215.8,64.9L216.5,64.5L216.8,64.2L215.4,63.9L215.1,63.5L214.3,62.8L213.9,62.5L213.5,62.0L212.7,62.1L211.9,62.2L210.9,62.2L209.9,62.2L209.5,62.3L208.7,62.1L207.9,62.0L207.1,61.9L206.3,61.7L205.7,60.6L205.1,60.3L204.6,60.9L203.8,61.0L203.0,60.7L202.1,60.1L201.3,59.7L200.6,58.8L200.0,57.7L199.4,57.7L198.9,57.7L198.3,57.8L198.6,58.9L199.2,60.0L199.8,60.5L200.4,61.3L200.7,62.0L201.0,62.6L201.3,61.4L201.6,61.5L201.7,62.8L202.4,63.1L203.6,63.1L204.3,62.4L205.1,61.6L205.3,61.3L205.5,62.5L206.2,63.4L207.3,63.7L208.4,64.7L208.1,65.7L207.5,66.5L207.0,67.5L207.0,68.0L206.1,68.9L205.1,69.5L204.2,69.9L202.8,71.1L201.9,71.5L201.1,71.9L200.3,72.3L199.1,72.9L198.3,73.2L197.5,73.5L196.7,73.8L195.9,73.8L195.7,73.0L195.2,71.8L195.1,70.9L194.9,70.0L194.3,69.0L193.7,68.1L193.1,67.2L192.3,66.3L191.8,65.3L191.6,64.4L191.0,63.3L190.4,62.6L189.9,61.6L189.3,60.7L188.6,59.8L188.0,59.3L188.0,58.2L187.7,58.7L187.6,59.6L187.1,59.1L186.2,57.9L185.9,57.3L185.8,56.6L186.8,56.7L187.3,56.5L187.6,55.8L187.8,55.1L188.1,54.1L188.3,53.5L188.2,52.7L188.3,52.2L188.1,51.5L187.8,51.6L187.1,51.5L186.6,51.9L185.9,52.1L185.1,51.7L184.3,51.5L183.9,51.9L183.2,52.0L182.4,51.6L181.6,51.4L181.4,50.8L181.2,50.1L180.7,49.9L180.8,49.2L180.4,49.0L180.4,48.3L180.9,48.1L181.6,48.1L182.3,47.9L182.7,47.8L182.3,47.5L183.0,47.5L183.8,47.4L184.8,46.9L185.9,46.7L187.1,47.0L187.9,47.3L189.1,47.7L190.2,47.6L191.3,47.6L191.7,47.0L191.4,46.2L190.6,45.7L189.3,44.9L188.5,44.4L188.1,43.9L187.7,44.1L187.4,43.8L187.9,43.1L188.5,42.4L188.9,42.0L188.0,41.9L187.3,42.4L186.2,42.8L186.0,43.3L186.5,43.7L187.3,43.6L186.7,43.9L185.9,44.4L185.2,44.4L184.6,43.8L185.0,43.1L184.2,42.9L183.5,42.6L182.9,42.6L182.6,43.2L182.2,43.7L182.3,44.1L181.7,44.4L181.7,45.1L181.3,45.6L181.3,46.2L181.5,46.8L182.2,47.3L181.6,47.6L180.8,47.7L180.3,48.0L179.7,47.7L178.9,47.7L178.4,48.1L178.9,48.4L178.1,48.6L177.8,48.1L177.6,48.5L178.1,49.3L177.7,49.5L178.4,50.1L178.9,50.4L178.1,50.8L178.2,51.7L177.8,51.8L177.3,51.5L177.0,50.8L176.6,50.5L176.7,50.0L176.3,49.6L175.8,48.9L175.5,48.3L175.1,47.8L175.1,46.9L174.5,46.3L173.5,45.9L172.8,45.4L172.2,45.0L171.7,44.5L171.1,43.9L170.6,43.4L169.9,43.3L169.6,43.8L169.7,44.4L170.0,44.9L170.6,45.4L171.2,46.2L172.0,46.8L172.6,46.8L173.5,47.6L174.5,48.4L174.3,48.7L173.3,48.1L173.1,48.9L173.5,49.4L173.2,50.0L172.7,50.4L172.5,50.2L172.6,49.2L172.3,48.4L171.8,48.2L171.2,47.8L170.7,47.4L170.0,47.1L169.4,46.6L168.8,46.1L168.3,45.8L168.1,44.9L167.3,44.6L166.8,44.7L166.1,45.0L165.4,45.7L164.5,45.5L163.9,45.3L163.1,45.5L162.9,46.3L162.9,46.8L162.1,47.3L161.3,47.6L160.9,48.2L160.4,49.0L160.7,49.6L160.2,50.1L160.0,50.7L159.4,51.1L158.9,51.6L157.9,51.6L157.1,51.6L156.6,51.9ZM122.3,16.6L122.9,16.5L123.4,16.5L124.0,16.4L124.6,16.4L125.2,16.2L125.9,16.1L126.5,15.9L127.8,15.4L128.7,15.1L129.6,14.8L130.2,14.7L130.8,14.5L131.4,14.4L132.0,14.2L132.6,14.2L133.1,14.2L133.6,14.1L134.1,14.1L134.6,14.1L135.1,14.0L135.7,14.0L136.2,13.9L136.7,13.9L137.2,13.8L137.7,13.8L138.3,13.7L138.8,13.7L139.3,13.6L139.8,13.6L140.3,13.6L140.8,13.5L141.3,13.5L141.8,13.5L142.3,13.4L142.8,13.4L143.3,13.4L143.8,13.4L144.3,13.4L144.7,13.4L145.2,13.4L145.7,13.4L146.2,13.4L146.6,13.4L147.1,13.4L147.6,13.4L148.1,13.5L148.5,13.5L149.0,13.6L149.4,13.7L149.9,13.7L150.4,13.8L150.7,14.2L151.2,14.2L151.7,14.3L152.2,14.3L152.7,14.3L153.1,14.3L153.6,14.4L154.1,14.5L154.6,14.6L154.0,14.8L153.4,15.0L152.8,15.1L152.2,15.3L151.5,15.6L150.8,15.9L150.7,17.1L150.0,17.8L150.4,18.8L149.4,19.4L148.4,20.3L147.3,21.4L147.7,22.2L147.1,22.4L146.4,22.6L145.6,23.1L144.7,23.7L144.0,23.8L143.3,23.9L142.5,24.1L141.9,24.1L141.3,24.2L140.6,24.3L139.9,24.7L139.2,25.1L138.3,25.5L137.4,25.9L136.7,26.1L136.0,26.4L135.2,27.1L134.2,28.2L133.2,29.4L132.3,30.3L131.5,30.7L130.6,30.3L130.1,30.1L129.5,29.9L128.8,29.0L128.8,27.8L128.7,27.0L128.4,26.1L127.8,25.3L128.1,24.3L129.1,23.7L130.3,23.2L129.5,22.9L129.0,22.2L130.0,21.8L129.6,21.6L129.1,21.4L128.9,20.7L128.8,19.9L128.6,19.2L128.6,18.5L128.0,18.3L127.4,18.1L126.9,18.1L126.4,18.0L125.9,18.0L125.4,18.0L124.8,18.0L124.2,18.0L123.8,18.0L123.3,17.9L122.9,17.8L122.4,17.4L122.1,17.1ZM122.6,25.3L121.1,26.5L120.1,27.6L119.1,28.6L118.5,28.6L117.8,28.6L117.2,28.6L116.6,28.5L116.0,28.4L115.4,28.4L114.9,27.9L114.5,27.4L114.0,27.0L113.3,27.0L112.5,27.0L111.8,27.0L112.7,26.5L113.6,26.1L114.6,25.7L115.6,25.3L116.4,24.5L115.9,24.1L115.4,23.7L114.9,23.5L114.5,23.2L114.1,23.0L113.4,22.9L112.7,22.8L112.2,22.7L111.7,22.7L111.1,22.6L110.6,22.6L110.1,22.4L109.6,22.3L109.1,22.2L108.8,21.8L108.6,21.4L109.7,20.5L110.7,20.1L111.7,19.8L112.3,19.8L112.9,19.7L113.5,19.7L114.0,19.7L114.6,19.7L115.1,19.8L115.7,19.8L116.0,20.0L116.4,20.3L116.8,20.5L117.2,20.7L117.6,20.9L118.0,21.2L118.4,21.4L118.8,21.7L119.2,21.9L119.6,22.2L120.1,22.6L120.6,23.0L120.6,24.0L121.1,24.2L121.6,24.5L122.0,24.7ZM92.0,21.8L92.6,21.1L94.3,20.3L94.8,20.3L95.3,20.4L95.8,20.4L96.4,20.5L97.0,20.4L97.6,20.4L98.2,20.4L98.7,20.4L99.3,20.3L99.9,20.3L100.5,20.3L101.0,20.7L101.3,21.1L101.7,21.4L101.3,22.4L100.2,22.8L99.1,23.2L98.4,23.2L97.6,23.2L96.9,23.3L96.2,23.4L95.5,23.5L94.9,23.6L94.2,23.6L93.6,23.7L92.9,23.7L92.6,23.4L92.2,23.0L91.9,22.7L91.6,22.4ZM88.6,21.2L90.5,19.9L91.5,19.3L92.3,19.3L93.1,19.2L93.6,19.2L94.1,19.3L94.7,19.3L95.2,19.3L95.4,19.6L95.6,19.9L94.6,20.2L93.7,20.4L92.7,20.7L91.7,21.1L90.7,21.4L89.8,21.5L89.0,21.7ZM112.1,17.8L112.6,17.8L113.1,17.8L113.6,17.9L114.1,17.9L114.7,17.9L115.2,17.8L115.8,17.8L116.4,17.8L117.0,17.6L117.7,17.5L118.3,17.4L119.2,17.1L120.1,16.7L121.5,16.1L122.3,15.9L123.1,15.7L123.8,15.5L124.4,15.4L125.0,15.3L125.7,15.2L126.3,15.1L126.9,15.0L127.5,14.8L128.2,14.7L128.8,14.5L129.4,14.4L130.1,14.2L129.8,14.0L129.4,13.8L129.0,13.8L128.5,13.8L128.1,13.7L127.6,13.7L127.2,13.7L126.8,13.6L126.3,13.6L125.8,13.6L125.3,13.6L124.8,13.7L124.3,13.7L123.8,13.7L123.3,13.7L122.8,13.7L122.3,13.7L121.8,13.8L121.2,13.8L120.7,13.8L120.2,13.9L119.6,13.9L119.1,13.9L118.5,14.1L117.8,14.2L117.2,14.3L116.6,14.4L115.9,14.5L114.9,14.8L113.9,15.1L114.3,15.3L114.8,15.4L115.2,15.6L115.7,15.7L114.7,16.4L113.8,16.6L112.8,16.9ZM109.6,19.1L110.2,19.1L110.7,19.1L111.2,19.2L111.7,19.2L112.3,19.2L112.8,19.2L113.4,19.2L113.9,19.2L114.6,19.2L115.3,19.2L115.9,19.1L117.1,18.5L116.7,18.2L116.3,17.9L115.7,17.9L115.2,17.9L114.7,17.9L114.2,17.8L113.6,17.8L113.1,17.8L112.6,17.8L112.1,17.8L111.1,18.0L110.2,18.3ZM109.7,17.1L110.3,17.0L110.9,16.9L111.6,16.8L112.2,16.7L113.6,15.7L113.7,15.1L113.3,15.0L112.9,14.9L112.6,14.8L111.6,15.1L110.7,15.4L110.7,16.1L109.7,16.4L108.8,16.7L109.2,16.9ZM96.6,18.5L97.0,18.5L97.5,18.6L97.9,18.7L98.4,18.8L98.8,18.8L99.4,18.8L100.0,18.8L100.6,18.8L101.2,18.8L101.7,18.7L102.3,18.7L102.9,18.7L104.1,18.1L104.0,17.8L103.9,17.4L103.5,17.3L103.1,17.2L102.7,17.2L102.3,17.1L101.6,17.1L101.0,17.2L100.4,17.3L99.7,17.3L99.1,17.4L98.4,17.5L97.7,17.6L97.0,17.8ZM102.4,19.6L102.9,19.6L103.4,19.7L103.9,19.7L104.4,19.8L104.9,19.9L105.4,19.9L106.0,19.9L106.7,19.8L107.3,19.7L108.5,18.8L108.4,18.3L108.3,17.8L107.7,17.9L107.0,17.9L106.4,18.0L105.7,18.1L104.9,18.4L104.1,18.6L103.3,18.8ZM102.0,21.1L102.5,21.3L103.0,21.5L103.5,21.7L104.3,21.4L105.2,21.1L106.0,19.9L105.5,19.7L104.9,19.6L104.1,19.8L103.3,20.1L102.5,20.3ZM105.7,21.1L106.5,21.1L107.2,21.1L108.1,20.9L108.9,20.7L109.8,19.7L109.3,19.6L108.7,19.4L107.8,19.7L106.8,19.9ZM106.2,27.4L106.9,27.5L107.6,27.7L108.3,27.6L109.0,27.5L109.7,27.4L110.1,26.1L109.6,25.9L109.0,25.6L108.0,25.9L107.1,26.1L106.2,27.0ZM117.8,41.6L118.7,40.3L119.9,39.0L121.2,38.0L121.1,39.4L122.1,39.9L122.5,40.8L122.2,42.1L121.6,42.5L120.7,42.1L120.1,41.7L119.4,41.6L118.7,41.6ZM92.5,65.2L93.3,64.6L94.2,64.4L95.0,64.1L95.8,64.1L96.6,64.1L97.4,64.5L98.1,64.9L98.8,65.4L99.6,65.9L100.9,66.8L100.3,67.1L99.5,67.1L98.6,67.1L98.2,66.4L97.6,65.6L96.8,65.4L96.1,65.1L94.9,64.9L93.7,65.1ZM100.6,68.5L101.9,67.1L102.7,67.1L103.5,67.1L104.2,67.4L105.0,67.7L105.4,68.4L104.1,68.7L102.9,69.1L101.7,68.8ZM97.4,68.5L98.2,68.6L99.0,68.7L98.6,69.0L97.6,68.8ZM106.4,68.4L107.7,68.5L107.5,68.8L106.4,68.8ZM145.7,26.1L146.4,25.8L147.1,25.4L147.8,25.5L148.5,25.5L149.2,25.6L150.0,25.5L150.8,25.3L151.6,25.7L152.1,26.5L151.3,27.1L150.6,27.4L149.9,27.6L149.2,27.9L148.6,27.7L147.9,27.6L147.3,27.5L146.3,27.5L146.8,27.0L146.3,26.5ZM156.5,39.4L157.3,39.3L158.1,39.2L159.0,39.0L159.8,38.8L160.7,38.6L161.5,38.4L161.7,37.0L160.8,36.4L160.4,35.8L159.7,35.2L159.2,34.2L158.8,34.0L159.3,32.8L158.6,31.9L157.9,31.9L157.2,31.9L156.7,32.8L156.8,33.9L156.4,33.5L157.2,34.5L157.1,35.2L158.2,35.1L158.5,36.0L158.4,36.5L157.4,36.5L157.6,37.4L156.8,37.8L157.6,38.0L158.3,38.2L157.6,38.4ZM156.4,37.6L156.3,36.0L156.7,35.4L156.3,34.8L155.4,34.7L154.7,35.4L153.7,35.7L153.8,36.5L154.1,37.1L153.3,37.7L153.9,38.1L154.9,37.8L155.6,37.7ZM166.3,16.4L167.0,15.7L167.6,15.6L168.2,15.5L168.7,15.4L169.2,15.4L169.7,15.3L170.3,15.2L170.9,15.2L171.5,15.2L172.1,15.2L172.7,15.2L173.2,15.3L173.7,15.3L174.3,15.4L173.8,15.6L173.4,15.9L172.9,16.0L172.3,16.2L171.7,16.3L171.3,16.7L170.9,17.0L170.4,17.3L170.0,17.7L169.4,17.6L168.8,17.4L168.3,17.2L167.7,17.0L167.0,16.7ZM190.6,21.4L191.7,22.0L192.3,22.1L192.9,22.1L193.5,22.1L194.1,22.1L192.4,20.7L192.7,19.6L193.1,19.2L193.5,18.8L193.9,18.5L194.4,18.3L194.8,18.2L195.2,18.0L195.7,17.9L196.1,17.8L196.5,17.6L197.0,17.5L197.4,17.4L196.6,17.4L196.1,17.5L195.6,17.6L195.1,17.8L194.6,17.9L194.1,18.0L193.6,18.1L193.2,18.2L192.7,18.4L192.3,18.5L192.0,18.8L191.6,19.2L191.3,19.6L190.9,20.3ZM209.9,16.1L209.8,15.6L209.7,15.1L210.1,15.0L210.5,14.8L211.4,15.0L212.2,15.3L213.0,15.5L213.9,15.7L215.6,16.4L215.0,16.5L214.5,16.5L214.0,16.6L213.5,16.6L212.9,16.6L212.4,16.6L211.9,16.6L210.9,16.3ZM184.9,15.3L185.3,15.2L185.7,15.0L186.1,14.9L186.5,14.8L187.0,14.7L187.5,14.7L187.9,14.6L188.4,14.6L188.8,14.5L189.3,14.5L189.8,14.5L190.4,14.6L190.9,14.7L191.5,14.7L192.0,14.8L191.7,15.0L191.3,15.1L191.0,15.3L190.5,15.3L190.0,15.3L189.5,15.4L189.0,15.4L188.5,15.4L188.0,15.4L187.5,15.4L187.0,15.4L186.4,15.4L185.9,15.3L185.4,15.3ZM236.6,19.2L236.8,19.0L236.9,18.7L237.1,18.5L237.6,18.4L238.1,18.3L238.7,18.3L239.4,18.4L240.2,18.4L241.0,18.5L241.7,18.6L242.6,18.7L243.5,18.8L242.9,18.9L242.4,19.0L241.9,19.1L241.5,19.2L241.2,19.3L240.8,19.4L240.5,19.6L240.1,19.7L239.5,19.7L238.9,19.6L238.2,19.6L237.4,19.4ZM56.0,21.8L57.0,21.6L58.1,21.4L56.8,21.8ZM264.1,43.0L264.8,42.6L264.1,41.7L263.3,40.8L262.5,39.9L263.9,40.3L262.5,39.2L261.0,38.1L260.1,37.0L259.2,35.9L258.5,35.6L259.4,36.8L260.3,38.1L261.0,39.0L261.7,39.9L262.3,40.8L263.2,41.9ZM265.3,47.1L265.9,46.9L266.6,46.8L267.4,46.7L267.9,46.1L268.3,45.5L267.2,44.9L265.7,44.2L264.3,43.6L264.9,44.9L264.6,45.6ZM261.9,54.0L262.1,53.4L262.9,52.7L263.9,52.6L264.8,52.6L265.1,51.0L266.1,50.4L266.1,49.5L266.1,48.5L265.4,47.3L266.4,47.2L267.9,49.0L267.8,50.2L268.4,51.4L268.9,52.5L268.4,53.1L267.8,53.5L266.4,53.5L266.1,54.5L265.2,54.2L265.1,53.6L264.2,53.7L263.4,53.8L262.7,54.0L262.1,54.1ZM261.3,54.5L262.1,54.1L263.2,55.3L263.1,56.5L262.4,56.6L261.9,55.4L261.4,55.0ZM263.5,54.7L264.2,54.4L264.9,54.0L264.8,54.8L264.0,55.2ZM256.6,64.2L256.7,63.3L256.9,62.3L257.7,62.4L257.7,63.3L257.6,64.2L257.3,65.2ZM248.0,67.7L249.4,66.9L249.8,67.4L248.9,68.7ZM225.6,76.4L226.0,76.4L226.6,77.5L227.3,78.6L226.9,79.8L226.0,79.9L225.8,79.0L225.7,78.1ZM257.2,68.4L258.0,68.3L259.0,68.4L259.4,69.8L259.2,70.5L259.0,71.2L259.2,72.3L259.9,72.5L260.6,72.7L261.4,73.5L261.3,73.9L260.7,73.5L260.0,73.0L259.4,72.6L258.6,72.7L258.3,72.1L257.8,71.7L257.4,70.4L257.8,70.0ZM260.1,79.0L261.3,78.3L261.7,77.6L262.8,76.5L263.3,77.5L263.8,78.6L263.5,79.9L262.7,80.1L261.8,79.5L261.0,79.3ZM256.1,77.7L257.0,76.8L257.8,75.8L257.9,75.0L257.4,75.7L256.3,77.0ZM258.2,73.0L259.2,73.3L259.1,74.1L258.4,73.9ZM259.7,74.5L260.7,74.9L260.4,75.8L259.8,75.7ZM260.3,75.5L261.1,75.5L261.0,77.0L260.3,76.5ZM260.9,75.1L261.5,75.2L261.2,76.6ZM261.6,73.9L262.7,74.1L262.7,75.2L261.9,75.0ZM261.7,74.9L262.4,75.1L262.5,76.2L262.1,76.2L261.7,75.5ZM261.4,76.2L262.0,76.2L261.8,76.6L261.4,76.5ZM249.7,84.1L250.2,83.6L251.4,83.8L252.2,83.2L253.0,82.5L254.1,81.2L255.3,79.9L256.1,79.0L257.0,79.8L257.9,80.6L257.0,81.3L257.0,82.4L257.0,83.5L256.9,84.6L257.9,84.7L256.7,86.0L256.3,86.9L255.8,87.8L255.4,89.0L254.2,88.9L253.0,88.5L252.1,88.4L251.3,88.3L250.6,87.1L249.7,85.5ZM238.4,80.3L239.3,80.5L240.2,80.7L241.3,81.9L242.3,83.2L243.2,83.8L244.0,84.4L244.8,85.0L245.6,86.4L246.4,87.4L247.2,88.3L247.1,89.6L247.0,90.9L245.9,91.0L245.0,90.1L244.2,89.2L243.5,88.0L242.8,86.9L242.2,86.0L241.6,85.0L240.9,84.1L240.3,83.2L239.7,82.2L239.0,81.3ZM246.4,91.8L247.5,91.1L249.0,91.3L249.9,91.6L250.8,91.9L251.6,91.9L252.5,91.9L254.0,92.7L253.8,93.5L252.9,93.4L251.9,93.2L251.1,93.0L250.3,92.8L249.5,92.6L248.5,92.5L247.5,92.3ZM254.4,93.1L255.2,93.1L256.0,93.1L256.8,93.1L257.6,93.2L257.6,93.7L256.8,93.7L255.9,93.7L255.1,93.7L254.3,93.6ZM258.2,93.4L259.1,93.3L260.0,93.2L260.9,93.1L260.8,93.5L260.0,93.6L259.2,93.7L258.4,93.7ZM261.1,95.0L262.5,93.8L263.4,93.5L264.3,93.3L263.7,93.8L262.8,94.4L261.9,94.9ZM258.0,90.6L258.9,90.7L259.0,89.4L259.0,88.2L259.7,88.2L260.7,89.9L261.3,89.2L260.6,88.2L259.9,87.2L261.4,86.4L260.5,86.6L259.5,86.7L258.9,85.0L260.1,85.0L261.2,85.0L262.7,84.1L262.4,85.1L261.6,85.1L260.8,85.1L260.0,85.0L258.7,84.9L258.5,86.0L258.1,87.0L257.8,88.1L258.3,88.7L258.1,89.7ZM264.8,83.6L265.7,84.1L265.3,85.0L265.9,86.2L264.9,86.0L264.9,84.6ZM265.2,88.3L266.4,88.4L267.5,88.6L267.2,89.0L266.2,88.9L265.2,88.8ZM267.7,86.7L269.0,85.9L270.4,86.3L270.9,87.4L271.4,88.6L272.2,87.7L273.0,86.9L274.0,87.2L274.9,87.6L275.9,87.9L276.8,88.3L277.8,88.7L278.7,89.1L279.8,90.6L281.3,91.1L281.1,92.0L280.9,92.9L281.8,94.0L282.7,95.0L281.9,95.0L281.1,94.9L280.4,94.0L279.6,93.1L278.8,92.9L278.0,92.6L277.1,93.8L276.3,93.9L275.5,93.9L274.7,93.5L273.9,93.0L273.1,93.3L272.8,92.4L273.6,91.5L273.1,90.3L272.2,89.9L271.3,89.6L270.5,89.3L269.7,89.1L268.5,88.1L269.8,87.5L268.5,87.4ZM281.9,90.6L282.7,90.4L283.5,90.1L284.8,89.4L285.0,90.1L283.9,91.1L283.1,91.1L282.2,91.2ZM251.5,105.9L252.1,105.7L253.1,105.2L254.1,104.6L255.1,104.3L256.2,104.0L257.0,103.8L257.9,103.5L259.2,102.2L259.5,101.0L260.4,100.8L261.3,99.8L262.3,98.9L263.4,98.3L264.2,99.4L265.5,99.3L266.1,98.0L266.6,97.0L267.9,96.1L268.7,96.4L269.5,96.6L270.3,96.8L271.8,96.8L271.4,97.7L270.4,99.2L271.4,100.3L272.1,100.9L272.8,101.5L274.2,101.6L275.1,99.8L275.3,98.7L275.6,97.5L276.1,96.1L276.6,95.4L277.2,97.1L277.2,98.6L278.3,99.4L278.2,100.8L278.3,101.8L278.4,102.9L279.1,103.5L279.9,104.2L280.1,105.1L280.3,106.0L281.2,106.4L281.1,107.5L281.7,108.2L282.3,108.9L282.1,110.2L281.9,111.6L281.1,112.9L280.4,114.2L278.8,115.8L277.4,117.2L276.3,118.5L275.3,119.7L274.3,120.1L273.4,120.5L271.4,121.6L270.5,120.8L269.0,121.4L268.5,121.0L267.9,120.6L267.3,119.9L267.8,118.6L266.9,118.3L267.3,117.2L266.5,118.1L266.0,118.2L266.8,117.1L267.6,116.0L265.4,117.7L265.1,117.4L264.8,115.8L264.0,115.2L263.1,114.6L262.2,114.8L261.3,114.9L260.4,115.1L259.6,115.3L258.7,115.6L257.8,115.8L256.2,116.9L255.3,116.9L254.4,116.9L253.5,116.9L252.5,117.4L251.5,118.0L250.7,117.6L250.0,117.2L249.8,116.5L250.8,115.1L250.9,114.2L250.9,113.3L251.0,111.9L250.8,110.9L250.5,110.0L251.2,108.6L251.0,107.7L251.5,106.8ZM269.2,123.1L270.1,123.2L271.0,123.3L271.9,123.3L271.1,124.3L270.4,125.2L269.1,125.8L268.8,124.5ZM294.0,117.4L294.9,118.3L294.8,119.7L295.4,119.9L296.0,120.2L296.7,120.4L295.3,121.8L294.2,122.1L292.4,123.7L291.5,123.7L292.5,122.7L292.1,121.8L293.5,120.6L294.1,119.3L294.1,118.3ZM290.5,122.9L291.2,123.6L289.3,125.2L288.2,126.0L286.5,126.6L285.0,127.9L283.3,128.5L282.6,128.2L281.9,128.0L283.2,126.9L285.0,126.0L286.1,125.5L287.3,125.0L288.9,123.9ZM170.0,50.3L170.8,50.2L171.6,50.1L172.4,50.1L172.1,51.6L171.1,51.1L170.0,50.6ZM166.7,47.5L167.9,47.6L167.8,49.3L166.9,49.5L166.8,48.5ZM166.9,45.9L167.6,45.8L167.7,47.2L167.1,47.1ZM178.6,52.7L179.7,52.8L180.8,52.8L180.6,53.1L179.7,53.0L178.7,52.9ZM185.5,53.1L186.0,52.8L187.2,52.5L186.7,53.2L185.7,53.5ZM117.4,132.7L118.2,132.7L119.0,132.7L119.7,132.7L119.7,133.5L119.0,133.5L118.3,133.5ZM263.6,88.4L264.6,88.6L264.1,89.0ZM45.5,36.5L44.5,36.7L43.4,36.8L42.1,37.1L42.9,36.7L44.1,36.4L45.3,36.1ZM40.3,37.5L39.3,37.6L38.3,37.7L37.3,37.9L36.3,38.0L35.3,37.9L36.4,37.7L37.5,37.6L38.3,37.4L39.1,37.3L39.9,37.2ZM280.5,36.9L282.0,37.3L282.9,37.4L283.9,37.6L284.9,37.7L286.2,38.0L285.3,37.8L284.4,37.6L283.5,37.4L282.2,37.1L281.0,36.8ZM57.1,32.9L58.0,32.8L58.8,32.7L59.1,32.1L57.9,32.3ZM35.2,66.8L36.0,67.5L35.1,68.0L35.0,67.3ZM33.7,65.5L34.2,65.8L35.0,66.2L34.5,65.9ZM303.7,101.7L304.8,101.4L304.4,102.3L303.6,102.2ZM292.3,104.2L293.3,104.9L294.2,106.1L293.7,106.1L292.5,104.9ZM295.8,99.4L296.4,99.8L296.6,100.8L296.0,100.5ZM288.3,92.0L289.3,92.4L290.3,92.9L291.0,93.6L291.7,94.3L290.9,94.5L290.1,94.1L289.4,93.6L288.0,92.4ZM290.8,94.0L291.6,94.5L292.5,95.0L292.3,95.5L291.3,94.8ZM283.6,87.9L284.8,88.7L285.8,89.9L285.3,89.8L284.4,88.8ZM286.9,90.2L287.8,91.2L287.6,91.8L287.0,91.1ZM95.6,19.2L96.2,19.2L96.7,19.2L97.2,19.2L97.8,19.3L98.3,19.3L99.0,19.2L99.6,19.1L100.2,19.1L100.9,19.0L101.5,18.9L102.2,18.8L103.1,18.3L102.7,18.1L102.3,17.9L101.9,17.7L101.4,17.7L100.8,17.8L100.2,17.8L99.6,17.9L99.0,17.9L98.1,18.0L97.3,18.2L96.5,18.3ZM105.3,18.5L105.8,18.5L106.4,18.5L106.9,18.5L107.9,18.1L107.7,17.6L107.0,17.7L106.3,17.8ZM107.4,19.1L107.9,19.1L108.5,19.1L109.0,19.1L109.5,18.5L108.9,18.5L108.2,18.5ZM94.6,17.9L95.1,18.0L95.5,18.0L96.0,18.1L96.6,18.0L97.3,17.9L98.0,17.9L98.6,17.8L98.6,17.2L97.9,17.3L97.2,17.3L96.5,17.3L95.6,17.6ZM100.9,23.5L101.4,23.6L102.0,23.7L102.5,23.7L103.7,23.2L103.1,22.7L102.5,22.8L101.8,22.9ZM114.8,20.2L115.3,20.3L115.7,20.4L116.2,20.5L116.9,20.4L117.6,20.2L117.2,20.0L116.8,19.8L116.0,19.8L115.3,19.9ZM106.1,16.6L106.5,16.7L106.9,16.7L107.4,16.8L108.6,16.3L108.3,16.2L107.9,16.0L106.7,16.2ZM108.9,16.9L109.6,16.8L110.3,16.8L111.0,16.4L110.6,16.3L110.2,16.2ZM107.1,28.4L107.8,28.5L108.6,28.6L109.2,28.1L108.6,28.0L108.0,27.9ZM101.5,16.9L102.0,16.9L102.5,16.9L103.1,16.9L103.4,16.3L102.6,16.4L101.8,16.5ZM235.7,73.0L236.1,73.9L236.0,74.9L235.7,73.9ZM53.3,23.4L54.2,23.3L55.0,23.1L55.2,23.4L55.4,23.7L55.3,24.1L55.3,24.5L55.6,24.7L55.9,24.9L56.1,25.3L56.3,25.7L54.8,26.1L53.1,26.7L52.0,27.0L51.5,26.7L51.2,26.5L50.9,26.3L50.2,26.1L48.9,26.4L50.3,25.4L51.8,24.4M195.1,44.4L195.3,43.5L196.2,42.6L197.0,42.4L197.9,42.1L199.0,42.4L199.6,43.7L198.9,44.0L198.2,44.4L198.6,45.6L199.9,46.7L200.3,48.0L201.1,47.8L201.3,47.1L201.3,48.3L201.3,49.4L201.7,51.0L200.9,51.2L200.0,51.5L199.0,51.1L197.9,50.7L197.8,49.6L197.7,48.5L197.8,48.0L196.8,46.9L195.8,45.8Z" fill="none" stroke="#000" stroke-width="1.15" stroke-linejoin="round"/>
</defs>
<rect width="685" height="504" fill="#fff"/>

<text x="-0.5" y="11.5" font-size="16.2" font-weight="bold" fill="#000" stroke="#000" stroke-width="0.5">a</text>
<text x="324.9" y="11.5" font-size="16.2" font-weight="bold" fill="#000" stroke="#000" stroke-width="0.5">b</text>
<text x="0.0" y="254.6" font-size="16.2" font-weight="bold" fill="#000" stroke="#000" stroke-width="0.5">c</text>
<text x="324.8" y="254.5" font-size="16.2" font-weight="bold" fill="#000" stroke="#000" stroke-width="0.5">d</text>
<g transform="translate(0,0)"><use href="#landfill"/><g clip-path="url(#landclip)"><path d="M171.7 100.4H172.7M175.8 95.8H176.8M170.7 93.5H171.8M178.9 93.5H179.9M176.9 91.2H177.9M171.8 88.9H172.8M169.7 81.9H171.8M175.9 81.9H176.9M177.9 81.9H178.9M166.7 80.8H167.7M168.7 80.8H172.8M173.8 80.8H174.8M175.9 80.8H180.0M166.7 79.6H175.9M176.9 79.6H179.9M159.5 78.4H160.6M167.7 78.4H168.7M169.7 78.4H172.8M173.8 78.4H174.8M175.9 78.4H176.9M177.9 78.4H178.9M181.0 78.4H185.0M169.7 77.3H171.8M174.8 77.3H177.9M182.0 77.3H183.0M184.0 77.3H185.0M186.0 77.3H188.1M155.5 76.1H156.5M173.8 76.1H177.9M181.9 76.1H188.0M156.5 75.0H157.5M172.8 75.0H173.8M174.8 75.0H175.8M181.9 75.0H182.9M164.6 73.8H165.6" stroke="#1b2a63" stroke-width="1.29"/><path d="M268.4 120.1H269.4M184.4 108.5H186.4M280.0 108.5H281.0M123.5 106.2H124.5M121.4 105.0H122.4M177.7 101.6H180.7M116.1 100.4H117.1M172.7 100.4H173.7M174.7 100.4H175.7M176.7 100.4H177.7M172.7 99.3H173.7M174.7 99.3H175.7M180.8 99.3H181.8M172.7 98.1H174.8M179.8 98.1H180.8M173.8 96.9H177.8M174.8 95.8H175.8M176.8 95.8H177.8M181.9 95.8H182.9M173.8 94.6H174.8M175.8 94.6H176.8M177.9 94.6H178.9M180.9 94.6H181.9M171.8 93.5H174.8M175.8 93.5H177.9M180.9 93.5H182.0M120.8 92.3H121.8M126.9 92.3H127.9M170.8 92.3H172.8M175.9 92.3H181.0M174.8 91.2H175.9M177.9 91.2H179.9M120.7 90.0H121.7M174.9 90.0H178.9M176.9 88.9H180.0M174.9 81.9H175.9M178.9 81.9H181.0M182.0 81.9H183.0M187.1 81.9H188.1M165.7 80.8H166.7M172.8 80.8H173.8M180.0 80.8H183.0M186.1 80.8H187.1M165.7 79.6H166.7M175.9 79.6H176.9M179.9 79.6H182.0M183.0 79.6H184.0M186.1 79.6H187.1M150.3 78.4H154.4M161.6 78.4H162.6M168.7 78.4H169.7M174.8 78.4H175.9M176.9 78.4H177.9M178.9 78.4H179.9M185.0 78.4H186.1M153.4 77.3H154.4M155.5 77.3H159.5M162.6 77.3H163.6M171.8 77.3H172.8M179.9 77.3H182.0M183.0 77.3H184.0M185.0 77.3H186.0M150.4 76.1H152.4M156.5 76.1H157.5M171.7 76.1H173.8M177.9 76.1H181.9M151.4 75.0H152.4M154.4 75.0H155.5M157.5 75.0H158.5M159.5 75.0H160.6M166.7 75.0H167.7M175.8 75.0H176.8M152.4 73.8H153.4M157.5 73.8H158.5M167.7 73.8H168.7" stroke="#2353a0" stroke-width="1.29"/><path d="M181.0 115.4H182.0M174.3 113.1H175.3M184.2 112.0H185.2M276.9 112.0H277.9M174.4 110.8H175.4M118.9 109.7H119.8M175.4 109.7H176.4M172.5 108.5H173.5M174.5 108.5H176.5M116.6 107.4H117.6M177.5 107.4H179.5M184.5 107.4H185.5M278.3 107.4H279.3M121.5 106.2H123.5M177.6 106.2H180.6M181.6 106.2H182.6M185.6 106.2H186.6M278.6 106.2H279.6M116.4 105.0H117.4M122.4 105.0H124.5M174.6 105.0H176.6M180.6 105.0H182.6M184.6 105.0H187.6M121.4 103.9H122.4M123.4 103.9H126.4M176.6 103.9H178.6M179.6 103.9H180.6M184.7 103.9H186.7M118.3 102.7H119.3M121.3 102.7H123.3M124.3 102.7H125.3M173.6 102.7H174.6M178.7 102.7H179.7M184.7 102.7H185.7M276.4 102.7H277.4M120.2 101.6H122.2M125.2 101.6H126.2M174.7 101.6H175.7M176.7 101.6H177.7M117.1 100.4H118.1M119.1 100.4H121.1M125.2 100.4H126.2M173.7 100.4H174.7M175.7 100.4H176.7M177.7 100.4H178.7M180.8 100.4H181.8M116.0 99.3H118.0M120.0 99.3H121.0M122.1 99.3H124.1M173.7 99.3H174.7M175.7 99.3H176.8M177.8 99.3H178.8M114.9 98.1H117.9M174.8 98.1H175.8M180.8 98.1H181.9M116.9 96.9H118.9M124.0 96.9H125.0M172.7 96.9H173.8M177.8 96.9H178.8M117.8 95.8H118.8M120.9 95.8H121.9M173.8 95.8H174.8M115.7 94.6H116.8M120.8 94.6H122.9M174.8 94.6H175.8M179.9 94.6H180.9M181.9 94.6H183.0M184.0 94.6H185.0M116.7 93.5H117.7M120.8 93.5H125.9M174.8 93.5H175.8M177.9 93.5H178.9M179.9 93.5H180.9M119.7 92.3H120.8M121.8 92.3H123.8M125.9 92.3H126.9M174.8 92.3H175.9M115.6 91.2H116.7M119.7 91.2H121.8M122.8 91.2H123.8M175.9 91.2H176.9M179.9 91.2H181.0M118.7 90.0H120.7M173.8 90.0H174.9M184.0 90.0H185.1M119.7 88.9H120.7M172.8 88.9H173.8M183.0 88.9H184.1M116.6 87.7H117.6M119.7 87.7H120.7M118.6 86.5H119.6M170.8 85.4H171.8M185.1 84.2H186.1M183.0 81.9H184.1M174.8 80.8H175.9M183.0 80.8H186.1M188.1 80.8H189.1M182.0 79.6H183.0M184.0 79.6H185.0M187.1 79.6H189.1M154.4 78.4H155.4M157.5 78.4H159.5M160.6 78.4H161.6M162.6 78.4H167.7M172.8 78.4H173.8M179.9 78.4H181.0M187.1 78.4H188.1M149.3 77.3H152.4M154.4 77.3H155.5M159.5 77.3H161.6M163.6 77.3H165.6M177.9 77.3H179.9M149.4 76.1H150.4M154.4 76.1H155.5M158.5 76.1H164.6M170.7 76.1H171.7M150.4 75.0H151.4M155.5 75.0H156.5M158.5 75.0H159.5M160.6 75.0H165.6M178.9 75.0H179.9M147.3 73.8H148.4M155.5 73.8H157.5M160.6 73.8H164.6M181.9 73.8H182.9M183.9 73.8H184.9M155.5 72.7H156.5M161.6 72.7H162.6M171.7 72.7H172.7M176.8 72.7H177.8M170.7 71.5H171.7M183.4 38.2H184.3M197.5 38.2H198.3M182.3 37.1H184.1M195.0 36.0H195.9M196.4 34.9H197.2M179.1 33.8H180.0" stroke="#4a8fcc" stroke-width="1.29"/><path d="M117.7 115.4H118.7M178.1 115.4H179.1M174.2 114.3H175.2M177.2 114.3H178.2M183.1 114.3H184.0M272.1 114.3H273.1M178.2 113.1H179.2M183.1 113.1H185.1M276.5 113.1H277.5M173.4 112.0H174.4M185.2 112.0H186.2M117.0 110.8H118.0M117.9 109.7H118.9M119.8 109.7H120.8M174.4 109.7H175.4M110.8 108.5H111.8M116.7 108.5H117.7M173.5 108.5H174.5M279.0 108.5H280.0M110.6 107.4H111.6M115.6 107.4H116.6M117.6 107.4H118.6M174.5 107.4H177.5M179.5 107.4H180.5M186.5 107.4H187.5M275.3 107.4H276.3M116.5 106.2H118.5M174.6 106.2H175.6M176.6 106.2H177.6M182.6 106.2H183.6M277.6 106.2H278.6M279.6 106.2H280.6M114.4 105.0H116.4M119.4 105.0H121.4M176.6 105.0H179.6M277.9 105.0H279.9M109.3 103.9H110.3M115.3 103.9H121.4M122.4 103.9H123.4M178.6 103.9H179.6M109.2 102.7H110.2M117.2 102.7H118.3M120.3 102.7H121.3M123.3 102.7H124.3M125.3 102.7H126.3M174.6 102.7H178.7M185.7 102.7H186.7M109.1 101.6H110.1M115.1 101.6H120.2M122.2 101.6H124.2M126.2 101.6H127.2M171.7 101.6H174.7M175.7 101.6H176.7M118.1 100.4H119.1M121.1 100.4H125.2M178.7 100.4H180.8M115.0 99.3H116.0M118.0 99.3H120.0M121.0 99.3H122.1M124.1 99.3H127.1M176.8 99.3H177.8M178.8 99.3H180.8M117.9 98.1H127.1M175.8 98.1H179.8M106.7 96.9H107.7M114.8 96.9H115.8M118.9 96.9H119.9M121.9 96.9H124.0M125.0 96.9H127.0M178.8 96.9H179.9M115.8 95.8H117.8M119.9 95.8H120.9M121.9 95.8H124.9M171.7 95.8H173.8M177.8 95.8H178.9M180.9 95.8H181.9M182.9 95.8H185.0M114.7 94.6H115.7M116.8 94.6H120.8M122.9 94.6H126.9M171.8 94.6H173.8M176.8 94.6H177.9M178.9 94.6H179.9M114.7 93.5H116.7M117.7 93.5H120.8M184.0 93.5H185.0M115.7 92.3H117.7M118.7 92.3H119.7M124.8 92.3H125.9M172.8 92.3H173.8M116.7 91.2H118.7M121.8 91.2H122.8M123.8 91.2H124.8M125.8 91.2H127.9M171.8 91.2H172.8M173.8 91.2H174.8M117.6 90.0H118.7M121.7 90.0H124.8M171.8 90.0H173.8M121.7 88.9H122.7M123.8 88.9H124.8M173.8 88.9H174.9M176.9 87.7H179.0M171.8 86.5H172.8M179.0 86.5H180.0M167.7 85.4H168.7M177.9 85.4H179.0M186.1 85.4H187.1M173.8 84.2H175.9M177.9 84.2H179.0M175.9 83.1H176.9M185.0 79.6H186.1M186.1 78.4H187.1M161.6 77.3H162.6M168.7 77.3H169.7M172.8 77.3H174.8M157.5 76.1H158.5M164.6 76.1H165.6M149.4 75.0H150.4M165.6 75.0H166.7M158.5 73.8H160.6M173.8 73.8H174.8M147.4 72.7H148.4M151.4 72.7H152.4M163.6 72.7H164.6M168.7 72.7H170.7M175.8 72.7H176.8M177.8 72.7H178.8M146.4 71.5H148.4M152.4 71.5H153.5M155.5 71.5H156.5M164.6 71.5H165.6M171.7 71.5H172.7M181.6 38.2H183.4M186.0 38.2H186.9M187.8 38.2H189.6M195.7 38.2H196.6M198.3 38.2H199.2M201.9 38.2H202.7M206.3 38.2H208.0M181.4 37.1H182.3M185.8 37.1H188.4M192.8 37.1H193.6M196.2 37.1H198.0M198.9 37.1H199.7M205.0 37.1H205.8M206.7 37.1H207.6M183.0 36.0H183.8M189.9 36.0H190.7M194.2 36.0H195.0M201.1 36.0H201.9M203.7 36.0H204.5M176.8 34.9H177.6M178.5 34.9H179.3M182.7 34.9H183.6M185.3 34.9H187.0M193.8 34.9H196.4M197.2 34.9H198.1M198.9 34.9H199.8M187.6 33.8H188.4M193.5 33.8H194.3M195.2 33.8H196.0M194.8 32.7H195.6" stroke="#8ecbee" stroke-width="1.29"/><path d="M273.2 120.1H274.1M176.1 116.6H177.0M178.0 116.6H179.0M118.7 115.4H119.6M179.1 115.4H181.0M117.5 114.3H119.5M178.2 114.3H180.1M181.1 114.3H183.1M117.3 113.1H119.3M182.2 113.1H183.1M174.4 112.0H175.3M279.9 112.0H280.9M120.0 110.8H122.0M104.0 109.7H105.0M116.9 109.7H117.9M182.4 109.7H183.4M111.8 108.5H112.8M115.7 108.5H116.7M117.7 108.5H118.7M178.5 108.5H179.5M181.5 108.5H182.5M114.6 107.4H115.6M118.6 107.4H119.6M180.5 107.4H181.5M279.3 107.4H281.3M114.5 106.2H116.5M118.5 106.2H119.5M175.6 106.2H176.6M275.6 106.2H276.6M109.4 105.0H110.4M118.4 105.0H119.4M173.6 105.0H174.6M276.9 105.0H277.9M107.3 103.9H108.3M110.3 103.9H111.3M173.6 103.9H175.6M108.2 102.7H109.2M110.2 102.7H113.2M119.3 102.7H120.3M108.1 101.6H109.1M110.1 101.6H111.1M124.2 101.6H125.2M109.0 100.4H112.0M112.8 96.9H113.8M119.9 96.9H121.9M179.9 96.9H180.9M118.8 95.8H119.9M124.9 95.8H127.0M178.9 95.8H180.9M108.6 94.6H109.6M111.6 93.5H112.6M101.4 92.3H102.4M111.6 92.3H112.6M117.7 92.3H118.7M173.8 92.3H174.8M185.0 92.3H186.1M113.6 91.2H114.6M118.7 91.2H119.7M172.8 91.2H173.8M103.3 90.0H104.4M113.6 90.0H114.6M101.3 88.9H102.3M122.7 88.9H123.8M111.5 87.7H112.5M169.8 87.7H170.8M173.8 87.7H175.9M169.8 86.5H170.8M172.8 86.5H174.9M171.8 85.4H172.8M173.8 85.4H174.9M184.1 85.4H185.1M168.7 84.2H169.8M172.8 84.2H173.8M175.9 84.2H177.9M179.0 84.2H180.0M184.1 84.2H185.1M176.9 83.1H177.9M184.1 83.1H185.1M178.8 73.8H179.8M153.5 72.7H154.5M162.6 72.7H163.6M164.6 72.7H165.6M170.7 72.7H171.7M174.7 72.7H175.8M150.4 71.5H151.4M153.5 71.5H155.5M156.5 71.5H157.5M162.6 71.5H164.6M219.3 62.3H220.3M244.1 62.3H245.1M85.9 57.6H86.9M87.9 57.6H88.9M239.4 55.3H240.4M88.6 51.9H89.6M86.2 50.7H87.1M89.0 50.7H90.0M86.1 48.4H87.1M88.9 48.4H89.9M84.7 47.3H85.7M91.3 47.3H92.2M88.6 45.0H89.5M185.4 39.3H188.9M189.8 39.3H190.7M191.6 39.3H192.5M205.8 39.3H206.7M223.5 39.3H224.4M178.1 38.2H179.0M179.9 38.2H180.8M184.3 38.2H186.0M186.9 38.2H187.8M189.6 38.2H190.4M191.3 38.2H195.7M196.6 38.2H197.5M199.2 38.2H201.9M202.7 38.2H206.3M178.8 37.1H181.4M184.1 37.1H185.8M189.3 37.1H191.0M191.9 37.1H192.8M193.6 37.1H194.5M195.4 37.1H196.2M198.0 37.1H198.9M199.7 37.1H204.1M244.1 37.1H245.0M177.8 36.0H178.7M179.5 36.0H182.1M183.8 36.0H184.7M185.6 36.0H189.9M190.7 36.0H194.2M195.9 36.0H200.2M202.8 36.0H203.7M204.5 36.0H206.2M180.2 34.9H181.0M183.6 34.9H185.3M187.0 34.9H187.9M188.7 34.9H193.8M199.8 34.9H200.7M201.5 34.9H202.4M185.9 33.8H186.7M200.2 33.8H201.1M233.2 33.8H234.0M245.8 33.8H246.7M191.4 32.7H192.3" stroke="#c6e6f7" stroke-width="1.29"/><path d="M111.8 129.2H112.7M109.6 128.1H110.5M287.2 125.8H288.1M288.1 124.7H289.0M269.3 123.5H270.2M104.9 122.4H105.8M106.8 122.4H107.7M109.3 121.2H110.2M105.2 120.1H108.0M294.2 120.1H295.1M104.9 118.9H105.8M294.0 118.9H294.9M106.5 117.8H107.5M293.7 117.8H294.7M106.3 116.6H107.2M108.2 116.6H109.2M175.1 116.6H176.1M179.0 116.6H179.9M175.2 115.4H176.1M105.8 114.3H106.7M119.5 114.3H120.4M180.1 114.3H181.1M273.1 114.3H274.0M112.4 113.1H113.4M176.3 113.1H178.2M179.2 113.1H180.2M271.6 113.1H272.5M109.3 112.0H113.2M121.1 112.0H122.1M176.3 112.0H177.3M182.2 112.0H183.2M104.1 110.8H105.1M109.1 110.8H113.1M118.0 110.8H119.0M172.4 110.8H174.4M175.4 110.8H176.4M177.4 110.8H178.4M105.0 109.7H106.0M108.9 109.7H111.9M172.5 109.7H173.5M177.4 109.7H180.4M181.4 109.7H182.4M103.8 108.5H105.8M108.8 108.5H109.8M177.5 108.5H178.5M273.0 108.5H274.0M278.0 108.5H279.0M173.5 107.4H174.5M187.5 107.4H188.5M172.6 106.2H173.6M180.6 106.2H181.6M274.6 106.2H275.6M108.4 105.0H109.4M127.5 105.0H128.5M172.6 105.0H173.6M179.6 105.0H180.6M108.3 103.9H109.3M172.6 103.9H173.6M175.6 103.9H176.6M186.7 103.9H187.7M107.2 102.7H108.2M172.6 102.7H173.6M179.7 102.7H180.7M262.3 102.7H263.3M277.4 102.7H278.4M103.0 101.6H104.0M107.1 101.6H108.1M111.1 101.6H112.1M184.8 101.6H185.8M112.0 100.4H113.0M126.2 100.4H127.2M101.7 98.1H102.7M97.5 95.8H98.5M108.7 95.8H109.7M111.7 95.8H112.7M101.5 94.6H102.5M103.5 94.6H108.6M109.6 94.6H110.7M111.7 94.6H113.7M281.7 94.6H282.7M100.4 93.5H101.4M106.5 93.5H108.6M109.6 93.5H111.6M125.9 93.5H126.9M185.0 93.5H186.0M263.5 93.5H264.5M98.3 92.3H101.4M107.5 92.3H111.6M112.6 92.3H114.6M247.3 92.3H248.3M98.3 91.2H99.3M100.3 91.2H103.4M111.5 91.2H113.6M124.8 91.2H125.8M127.9 91.2H128.9M282.0 91.2H283.1M96.2 90.0H97.2M98.2 90.0H99.3M101.3 90.0H103.3M104.4 90.0H105.4M112.5 90.0H113.6M114.6 90.0H115.6M185.1 90.0H186.1M273.9 90.0H275.0M97.2 88.9H99.2M102.3 88.9H105.4M114.6 88.9H116.6M184.1 88.9H185.1M275.0 88.9H276.0M100.2 87.7H105.3M109.4 87.7H111.5M112.5 87.7H116.6M168.7 87.7H169.8M170.8 87.7H171.8M187.1 87.7H188.2M268.9 87.7H271.0M103.3 86.5H105.3M106.3 86.5H107.4M108.4 86.5H109.4M111.5 86.5H112.5M167.7 86.5H169.8M170.8 86.5H171.8M269.0 86.5H270.0M105.3 85.4H106.3M107.4 85.4H108.4M109.4 85.4H112.5M116.6 85.4H118.6M172.8 85.4H173.8M185.1 85.4H186.1M117.6 84.2H118.6M170.8 84.2H171.8M183.0 84.2H184.1M174.9 83.1H175.9M177.9 83.1H179.0M191.2 81.9H192.2M191.2 80.8H192.2M159.5 79.6H161.6M92.3 77.3H93.3M193.2 77.3H194.2M194.1 76.1H195.2M198.2 76.1H199.2M176.8 75.0H178.9M223.6 75.0H224.6M166.6 73.8H167.7M171.7 73.8H172.7M177.8 73.8H178.8M180.9 73.8H181.9M152.4 72.7H153.5M172.7 72.7H174.7M185.9 72.7H186.9M240.7 72.7H241.7M161.6 71.5H162.6M165.6 71.5H166.6M224.1 69.2H225.1M258.4 69.2H259.4M223.0 68.0H224.0M93.5 64.6H95.5M222.6 64.6H223.6M226.6 64.6H227.6M229.6 64.6H230.6M244.6 64.6H245.6M79.7 63.4H80.7M221.4 63.4H223.4M235.4 63.4H236.4M240.4 63.4H241.4M242.4 63.4H244.4M220.3 62.3H221.2M222.2 62.3H223.2M230.2 62.3H232.2M235.2 62.3H236.2M243.1 62.3H244.1M245.1 62.3H246.1M252.1 62.3H255.1M215.1 61.1H216.1M218.1 61.1H219.1M235.0 61.1H235.9M251.8 61.1H252.8M253.8 61.1H254.8M220.9 59.9H221.9M228.8 59.9H229.8M235.7 59.9H236.7M243.6 59.9H244.6M250.5 59.9H251.5M254.5 59.9H255.5M217.7 58.8H218.7M220.7 58.8H221.6M222.6 58.8H223.6M235.4 58.8H236.4M239.4 58.8H241.4M242.3 58.8H243.3M246.3 58.8H247.3M251.2 58.8H252.2M254.2 58.8H255.1M84.0 57.6H85.0M86.9 57.6H87.9M208.6 57.6H209.6M217.5 57.6H218.5M225.3 57.6H226.3M228.3 57.6H232.2M235.2 57.6H238.1M239.1 57.6H243.0M251.8 57.6H252.8M77.5 56.5H78.4M82.3 56.5H84.3M85.3 56.5H86.3M87.2 56.5H90.2M92.1 56.5H93.1M208.4 56.5H210.4M216.3 56.5H217.2M230.9 56.5H233.9M234.8 56.5H237.8M71.0 55.3H72.0M80.7 55.3H81.7M83.7 55.3H85.6M86.6 55.3H87.6M91.5 55.3H92.4M192.7 55.3H193.6M197.5 55.3H198.5M207.3 55.3H210.2M216.0 55.3H217.0M219.9 55.3H220.9M231.6 55.3H233.5M234.5 55.3H237.4M248.1 55.3H249.1M80.2 54.2H81.1M83.1 54.2H84.0M86.0 54.2H88.9M164.4 54.2H166.4M187.7 54.2H188.6M197.4 54.2H199.3M215.8 54.2H216.7M238.0 54.2H239.0M241.9 54.2H243.9M68.0 53.0H69.0M72.8 53.0H73.8M75.7 53.0H76.7M79.6 53.0H81.5M83.4 53.0H84.4M85.4 53.0H93.1M95.0 53.0H96.0M96.9 53.0H97.9M100.8 53.0H101.8M158.6 53.0H160.6M197.2 53.0H199.1M239.6 53.0H241.5M248.3 53.0H249.2M251.1 53.0H252.1M70.4 51.9H72.3M81.0 51.9H81.9M85.8 51.9H86.7M89.6 51.9H90.6M185.5 51.9H186.4M188.4 51.9H189.3M197.0 51.9H198.9M203.7 51.9H204.7M67.1 50.7H69.0M70.9 50.7H71.9M72.8 50.7H73.8M84.3 50.7H86.2M90.0 50.7H91.9M92.9 50.7H93.8M99.5 50.7H100.5M196.8 50.7H197.7M198.7 50.7H199.6M69.5 49.5H70.5M75.2 49.5H76.2M83.8 49.5H84.7M85.7 49.5H87.6M90.4 49.5H92.3M95.1 49.5H96.1M188.0 49.5H189.0M229.8 49.5H230.7M75.8 48.4H76.7M83.3 48.4H86.1M87.1 48.4H88.0M89.9 48.4H91.8M167.1 48.4H168.1M171.9 48.4H172.8M206.7 48.4H207.7M215.2 48.4H216.1M235.0 48.4H235.9M86.6 47.3H91.3M92.2 47.3H94.1M96.9 47.3H98.8M160.6 47.3H161.5M170.8 47.3H171.8M175.5 47.3H176.5M200.8 47.3H201.7M205.5 47.3H206.4M233.6 47.3H235.4M77.8 46.1H78.8M86.2 46.1H89.0M89.9 46.1H91.8M93.6 46.1H95.5M102.9 46.1H103.8M196.8 46.1H197.7M206.1 46.1H207.0M219.1 46.1H220.0M234.0 46.1H234.9M242.3 46.1H243.3M265.6 46.1H267.4M78.4 45.0H79.3M85.8 45.0H86.7M89.5 45.0H94.1M95.0 45.0H95.9M100.6 45.0H101.5M106.1 45.0H107.0M172.5 45.0H173.5M197.5 45.0H198.4M201.2 45.0H202.1M209.5 45.0H210.4M212.2 45.0H213.2M218.7 45.0H220.5M227.0 45.0H227.9M235.3 45.0H237.1M241.8 45.0H243.6M244.5 45.0H245.5M92.8 43.8H93.7M106.5 43.8H112.0M185.3 43.8H186.2M204.5 43.8H206.4M210.9 43.8H211.8M214.6 43.8H215.5M218.3 43.8H219.2M224.7 43.8H226.5M242.1 43.8H243.0M257.7 43.8H258.6M87.8 42.7H88.7M92.4 42.7H93.3M104.2 42.7H105.1M209.6 42.7H210.6M213.3 42.7H214.2M217.8 42.7H218.7M224.2 42.7H226.0M256.9 42.7H257.8M108.2 41.6H109.1M211.1 41.6H212.9M216.5 41.6H218.3M221.0 41.6H221.9M239.0 41.6H239.9M240.8 41.6H241.7M243.5 41.6H244.4M245.3 41.6H247.1M77.3 40.4H79.1M94.3 40.4H95.2M106.0 40.4H106.9M113.1 40.4H114.0M169.5 40.4H171.3M174.9 40.4H175.8M210.7 40.4H212.4M216.9 40.4H218.7M237.5 40.4H238.4M244.6 40.4H247.3M253.6 40.4H254.5M86.9 39.3H87.8M96.7 39.3H97.6M103.8 39.3H104.7M165.9 39.3H166.8M169.4 39.3H171.2M177.4 39.3H180.1M190.7 39.3H191.6M201.4 39.3H202.2M210.2 39.3H211.1M217.3 39.3H218.2M236.8 39.3H237.7M71.8 38.2H72.6M113.1 38.2H114.0M159.7 38.2H160.6M163.2 38.2H164.9M171.1 38.2H172.0M175.5 38.2H176.4M190.4 38.2H191.3M221.2 38.2H222.1M231.7 38.2H232.6M236.1 38.2H237.0M237.9 38.2H240.5M248.5 38.2H249.3M70.9 37.1H75.2M94.4 37.1H95.2M108.3 37.1H109.2M117.0 37.1H117.9M167.5 37.1H168.4M173.6 37.1H174.5M177.1 37.1H178.0M188.4 37.1H189.3M191.0 37.1H191.9M194.5 37.1H195.4M204.1 37.1H205.0M216.3 37.1H217.1M220.6 37.1H221.5M227.6 37.1H228.5M247.6 37.1H248.5M71.8 36.0H73.5M170.9 36.0H171.8M182.1 36.0H183.0M184.7 36.0H185.6M200.2 36.0H201.1M201.9 36.0H202.8M206.2 36.0H207.1M216.6 36.0H217.4M234.7 36.0H235.6M236.4 36.0H238.1M248.5 36.0H249.3M251.9 36.0H252.8M76.9 34.9H78.6M181.0 34.9H181.9M187.9 34.9H188.7M198.1 34.9H198.9M203.2 34.9H204.1M228.0 34.9H229.7M235.6 34.9H239.0M242.5 34.9H243.3M245.0 34.9H245.9M247.6 34.9H248.4M249.3 34.9H250.1M252.7 34.9H254.4M112.4 33.8H113.3M190.9 33.8H193.5M196.0 33.8H196.9M224.7 33.8H225.6M227.2 33.8H228.1M244.1 33.8H245.0M247.5 33.8H248.3M249.2 33.8H250.0M190.6 32.7H191.4M192.3 32.7H193.1M195.6 32.7H197.3M198.1 32.7H199.0M243.2 32.7H244.0M245.7 32.7H246.5M248.2 32.7H249.9M250.7 32.7H251.6M252.4 32.7H253.2M74.7 31.7H75.5M164.7 31.7H165.5M197.7 31.7H198.5M238.1 31.7H239.8M250.5 31.7H251.4M74.9 30.6H75.7M114.0 30.6H114.9M187.5 30.6H188.3M256.8 30.6H257.6M260.1 30.6H260.9M84.0 29.5H84.8M98.5 29.5H99.3M179.9 29.5H180.7M225.9 29.5H226.7M230.7 29.5H232.3M233.1 29.5H233.9M243.6 29.5H244.4M56.2 28.5H57.0M57.8 28.5H58.6M59.4 28.5H60.2M85.7 28.5H86.5M179.7 28.5H180.5M185.2 28.5H186.0M190.8 28.5H191.6M229.0 28.5H229.8M246.5 28.5H247.3M63.8 27.5H64.6M74.8 27.5H75.6M81.1 27.5H81.9M204.6 27.5H205.4M212.4 27.5H214.0M214.8 27.5H215.6M219.5 27.5H220.3M221.1 27.5H221.9M243.1 27.5H243.9M244.7 27.5H245.5M246.3 27.5H247.0M264.3 27.5H265.1M67.4 26.4H68.2M104.7 26.4H105.4M186.2 26.4H186.9M209.4 26.4H210.2M214.1 26.4H214.9M216.4 26.4H217.2M218.0 26.4H218.8M219.5 26.4H220.3M223.4 26.4H224.2M235.8 26.4H236.6M241.3 26.4H242.0M243.6 26.4H245.1M246.7 26.4H247.5M263.0 26.4H263.8M59.5 25.4H60.2M64.1 25.4H64.8M66.4 25.4H67.1M105.4 25.4H106.2M205.0 25.4H205.7M206.5 25.4H207.3M225.6 25.4H226.4M236.4 25.4H237.1M242.5 25.4H244.0M76.7 24.4H77.5M103.9 24.4H104.7M105.4 24.4H106.9M196.8 24.4H199.1M203.6 24.4H204.4M207.4 24.4H208.1M218.7 24.4H219.5M224.8 24.4H225.5M62.2 23.4H63.0M83.1 23.4H83.8M174.0 23.4H174.7M197.0 23.4H197.8M205.2 23.4H206.0M216.4 23.4H217.2M217.9 23.4H218.6M85.0 22.5H85.7M200.2 22.5H200.9M209.0 22.5H209.7M211.9 22.5H212.7M217.8 22.5H218.5M229.5 22.5H231.0M236.9 22.5H237.6M94.0 21.5H95.5M98.4 21.5H99.8M117.9 21.5H118.6M199.6 21.5H201.0M214.0 21.5H214.8M227.8 21.5H228.5M229.2 21.5H230.0" stroke="#eef6fd" stroke-width="1.29"/><path d="M110.4 134.8H111.3M109.1 133.7H111.7M108.6 132.6H111.2M107.2 131.5H110.8M107.7 130.3H109.5M106.3 129.2H107.2M107.7 128.1H108.7M107.3 126.9H109.2M111.0 126.9H112.8M109.7 125.8H111.6M108.4 124.7H110.3M111.2 124.7H112.1M105.3 123.5H106.2M107.1 123.5H108.1M109.0 123.5H109.9M107.7 122.4H108.7M109.6 122.4H110.6M111.5 122.4H113.4M107.4 121.2H108.3M113.1 121.2H114.0M108.7 118.9H109.7M115.4 118.9H116.4M268.0 118.9H269.0M107.5 117.8H109.4M107.2 116.6H108.2M116.0 116.6H117.9M267.2 116.6H268.2M105.0 115.4H106.0M107.0 115.4H107.9M177.1 115.4H178.1M251.1 115.4H252.1M263.8 115.4H264.8M265.8 115.4H269.6M104.8 114.3H105.8M175.2 114.3H176.2M250.6 114.3H252.5M257.4 114.3H258.4M259.4 114.3H260.3M263.3 114.3H264.3M265.2 114.3H266.2M267.2 114.3H268.2M269.1 114.3H271.1M104.6 113.1H105.5M180.2 113.1H182.2M250.9 113.1H251.9M252.9 113.1H254.9M256.8 113.1H257.8M260.8 113.1H261.7M263.7 113.1H265.7M266.6 113.1H267.6M268.6 113.1H269.6M278.4 113.1H280.4M118.1 112.0H119.1M177.3 112.0H178.3M251.3 112.0H254.2M255.2 112.0H256.2M258.2 112.0H259.2M262.1 112.0H263.1M265.1 112.0H267.1M268.0 112.0H270.0M271.0 112.0H273.0M180.3 110.8H183.3M184.3 110.8H185.3M253.6 110.8H254.6M256.5 110.8H258.5M264.5 110.8H267.4M268.4 110.8H269.4M270.4 110.8H271.4M272.4 110.8H273.4M120.8 109.7H121.8M180.4 109.7H181.4M253.9 109.7H255.9M256.8 109.7H258.8M259.8 109.7H260.8M267.8 109.7H272.7M120.7 108.5H122.7M180.5 108.5H181.5M252.1 108.5H254.1M258.1 108.5H263.1M264.1 108.5H265.1M266.1 108.5H267.1M268.1 108.5H269.1M121.6 107.4H123.6M172.5 107.4H173.5M182.5 107.4H183.5M252.4 107.4H254.4M262.4 107.4H263.4M266.4 107.4H267.4M268.4 107.4H269.3M270.3 107.4H271.3M273.3 107.4H274.3M257.6 106.2H258.6M259.6 106.2H260.6M264.6 106.2H267.6M268.6 106.2H274.6M124.5 105.0H126.5M255.8 105.0H256.8M257.8 105.0H258.8M260.8 105.0H261.8M263.8 105.0H264.8M265.8 105.0H266.8M268.8 105.0H272.9M126.4 103.9H127.4M257.0 103.9H258.0M260.0 103.9H261.0M262.0 103.9H263.1M273.1 103.9H274.1M264.3 102.7H265.3M269.3 102.7H270.3M271.3 102.7H272.3M113.1 101.6H115.1M100.9 100.4H101.9M200.0 100.4H201.0M99.8 99.3H101.8M183.8 99.3H184.9M200.1 99.3H201.1M100.7 98.1H101.7M100.6 96.9H103.7M100.5 95.8H102.6M96.4 94.6H97.4M102.4 93.5H105.5M191.1 93.5H192.1M274.7 93.5H275.7M103.4 92.3H105.5M106.5 92.3H107.5M249.3 92.3H251.3M104.4 91.2H105.4M106.4 91.2H107.5M278.0 91.2H279.0M280.0 91.2H281.0M105.4 90.0H106.4M110.5 90.0H111.5M191.2 90.0H192.2M272.9 90.0H273.9M275.0 90.0H277.0M109.4 88.9H110.5M180.0 88.9H181.0M190.2 88.9H191.2M245.4 88.9H246.4M263.8 88.9H264.8M272.0 88.9H273.0M277.1 88.9H278.1M96.1 87.7H99.2M179.0 87.7H181.0M257.7 87.7H258.7M259.7 87.7H260.7M109.4 86.5H110.4M120.7 86.5H121.7M242.4 86.5H243.4M251.6 86.5H252.6M254.6 86.5H255.7M103.3 85.4H104.3M189.2 84.2H190.2M253.6 84.2H254.6M116.6 83.1H117.6M168.7 83.1H169.8M189.2 83.1H190.2M194.3 83.1H195.3M253.6 83.1H254.6M98.2 81.9H99.2M100.3 81.9H101.3M189.2 81.9H190.2M195.3 81.9H196.3M98.2 80.8H100.3M153.4 80.8H154.4M189.1 80.8H190.2M256.6 80.8H257.6M190.2 79.6H192.2M193.2 79.6H194.2M225.9 79.6H226.9M192.2 78.4H193.2M167.7 77.3H168.7M189.1 77.3H193.2M194.2 77.3H195.2M189.1 76.1H190.1M191.1 76.1H193.1M246.1 76.1H247.1M101.6 75.0H102.6M148.3 75.0H149.4M182.9 75.0H185.0M189.0 75.0H190.0M221.6 75.0H222.6M243.9 75.0H245.0M261.2 75.0H262.2M91.5 73.8H92.5M172.7 73.8H173.8M182.9 73.8H183.9M189.0 73.8H190.0M240.8 73.8H241.8M148.4 72.7H149.4M159.5 72.7H160.6M188.9 72.7H192.0M222.4 72.7H225.5M247.8 72.7H248.8M174.7 71.5H175.7M221.3 71.5H225.4M241.6 71.5H242.6M243.6 71.5H245.6M257.8 71.5H258.8M220.2 70.4H222.2M224.2 70.4H225.2M243.4 70.4H244.4M246.5 70.4H247.5M81.9 69.2H83.9M86.9 69.2H87.9M222.1 69.2H223.1M245.3 69.2H246.3M81.0 68.0H82.0M147.5 68.0H148.5M219.9 68.0H220.9M222.0 68.0H223.0M245.1 68.0H246.1M80.2 66.9H81.2M147.5 66.9H148.5M218.8 66.9H220.8M228.9 66.9H229.9M243.9 66.9H245.9M218.7 65.7H219.7M221.7 65.7H222.7M224.7 65.7H225.7M226.7 65.7H230.7M237.7 65.7H238.7M245.7 65.7H246.8M248.8 65.7H249.8M77.5 64.6H78.5M79.5 64.6H80.5M81.5 64.6H82.5M218.6 64.6H219.6M228.6 64.6H229.6M230.6 64.6H231.6M233.6 64.6H234.6M242.6 64.6H243.6M245.6 64.6H246.6M251.6 64.6H252.6M74.8 63.4H78.7M80.7 63.4H82.7M217.4 63.4H219.4M223.4 63.4H229.4M230.4 63.4H231.4M233.4 63.4H234.4M238.4 63.4H239.4M241.4 63.4H242.4M249.3 63.4H251.3M252.3 63.4H253.3M256.3 63.4H257.3M77.0 62.3H78.0M80.9 62.3H81.9M226.2 62.3H227.2M228.2 62.3H229.2M233.2 62.3H234.2M241.1 62.3H243.1M246.1 62.3H247.1M248.1 62.3H249.1M73.2 61.1H75.2M82.2 61.1H83.2M219.1 61.1H221.1M223.1 61.1H225.0M226.0 61.1H227.0M239.9 61.1H240.9M241.9 61.1H242.9M249.8 61.1H250.8M252.8 61.1H253.8M70.6 59.9H71.5M82.4 59.9H83.4M218.9 59.9H219.9M223.8 59.9H225.8M229.8 59.9H230.8M234.7 59.9H235.7M238.7 59.9H239.7M244.6 59.9H245.6M247.6 59.9H248.6M251.5 59.9H252.5M74.8 58.8H79.7M95.5 58.8H96.5M216.7 58.8H217.7M221.6 58.8H222.6M223.6 58.8H224.6M226.6 58.8H227.6M237.4 58.8H238.4M247.3 58.8H249.2M69.3 57.6H70.2M75.2 57.6H76.1M80.1 57.6H81.0M85.0 57.6H85.9M211.6 57.6H214.5M219.4 57.6H221.4M222.4 57.6H223.4M226.3 57.6H227.3M238.1 57.6H239.1M243.0 57.6H244.0M245.0 57.6H247.9M254.8 57.6H255.8M72.6 56.5H74.5M84.3 56.5H85.3M211.4 56.5H212.4M213.3 56.5H214.3M222.1 56.5H223.1M225.1 56.5H227.0M244.6 56.5H245.6M246.6 56.5H247.6M251.5 56.5H252.4M254.4 56.5H255.4M69.1 55.3H71.0M85.6 55.3H86.6M213.1 55.3H215.0M218.0 55.3H219.9M223.8 55.3H224.8M238.4 55.3H239.4M241.3 55.3H243.3M244.2 55.3H246.2M249.1 55.3H250.1M251.1 55.3H253.0M254.0 55.3H255.0M69.5 54.2H75.3M89.8 54.2H90.8M154.7 54.2H155.7M190.6 54.2H191.5M212.9 54.2H213.8M221.6 54.2H222.5M223.5 54.2H224.5M226.4 54.2H227.4M244.8 54.2H246.8M250.6 54.2H251.6M73.8 53.0H75.7M78.6 53.0H79.6M82.5 53.0H83.4M190.4 53.0H191.4M205.8 53.0H206.8M209.7 53.0H210.7M222.2 53.0H223.2M244.4 53.0H246.3M74.3 51.9H76.2M77.1 51.9H80.0M82.9 51.9H83.8M205.6 51.9H206.6M208.5 51.9H210.4M212.3 51.9H215.2M216.2 51.9H217.1M221.9 51.9H223.8M244.0 51.9H246.8M265.1 51.9H266.0M76.6 50.7H78.5M87.1 50.7H88.1M91.9 50.7H92.9M154.8 50.7H158.6M193.9 50.7H195.8M200.6 50.7H202.5M221.6 50.7H223.5M226.3 50.7H227.3M244.5 50.7H245.4M68.6 49.5H69.5M71.4 49.5H73.3M76.2 49.5H77.1M80.9 49.5H81.9M87.6 49.5H88.5M92.3 49.5H94.2M101.8 49.5H102.7M155.8 49.5H159.6M192.8 49.5H194.7M221.2 49.5H223.1M67.3 48.4H69.2M70.1 48.4H74.8M76.7 48.4H78.6M92.7 48.4H93.7M104.0 48.4H105.0M154.9 48.4H158.7M159.6 48.4H160.6M192.6 48.4H194.5M212.4 48.4H214.3M216.1 48.4H217.1M220.8 48.4H222.7M238.7 48.4H239.7M242.5 48.4H243.5M256.6 48.4H257.6M67.9 47.3H71.6M72.6 47.3H75.4M76.3 47.3H78.2M79.1 47.3H80.1M81.9 47.3H82.9M96.0 47.3H96.9M104.4 47.3H105.3M154.9 47.3H155.9M171.8 47.3H172.7M180.2 47.3H182.1M185.8 47.3H187.7M203.6 47.3H204.5M207.3 47.3H209.2M213.9 47.3H214.8M215.8 47.3H216.7M226.1 47.3H227.0M237.3 47.3H238.2M242.0 47.3H243.8M67.6 46.1H71.3M72.2 46.1H74.1M75.0 46.1H76.0M81.5 46.1H84.3M158.7 46.1H160.6M177.3 46.1H178.2M205.2 46.1H206.1M208.0 46.1H208.9M213.5 46.1H214.5M216.3 46.1H217.3M221.9 46.1H222.8M233.1 46.1H234.0M241.4 46.1H242.3M79.3 45.0H82.1M97.8 45.0H98.7M103.3 45.0H104.3M159.6 45.0H160.6M163.3 45.0H165.2M178.1 45.0H179.9M203.9 45.0H204.8M206.7 45.0H208.5M210.4 45.0H211.3M213.2 45.0H214.1M221.5 45.0H223.3M71.7 43.8H72.6M74.4 43.8H76.3M77.2 43.8H78.1M79.9 43.8H80.9M162.4 43.8H163.3M164.2 43.8H169.7M172.5 43.8H174.3M175.2 43.8H176.1M189.9 43.8H190.8M207.3 43.8H209.1M211.8 43.8H213.7M220.1 43.8H221.9M72.4 42.7H74.2M75.1 42.7H76.0M79.6 42.7H80.5M81.5 42.7H83.3M95.1 42.7H96.0M113.3 42.7H114.2M161.5 42.7H162.4M164.2 42.7H167.8M169.6 42.7H170.6M171.5 42.7H174.2M175.1 42.7H176.0M177.8 42.7H178.7M180.6 42.7H181.5M206.0 42.7H206.9M210.6 42.7H211.5M216.9 42.7H217.8M219.6 42.7H220.6M226.9 42.7H227.8M235.1 42.7H236.0M240.6 42.7H241.5M246.0 42.7H246.9M74.0 41.6H81.2M89.3 41.6H91.1M95.6 41.6H96.5M109.1 41.6H110.0M157.8 41.6H159.6M168.7 41.6H169.6M171.4 41.6H172.3M173.2 41.6H175.9M176.8 41.6H177.7M179.5 41.6H180.4M184.9 41.6H186.7M201.1 41.6H202.0M227.3 41.6H229.1M233.6 41.6H235.4M237.2 41.6H239.0M242.6 41.6H243.5M251.7 41.6H254.4M259.8 41.6H260.7M80.0 40.4H80.9M83.6 40.4H84.5M85.4 40.4H87.2M91.7 40.4H92.6M159.7 40.4H160.6M162.3 40.4H163.2M165.0 40.4H165.9M171.3 40.4H172.2M177.5 40.4H178.4M183.8 40.4H187.4M191.0 40.4H192.8M200.8 40.4H201.7M232.1 40.4H233.0M238.4 40.4H239.3M240.2 40.4H241.1M250.9 40.4H251.8M252.7 40.4H253.6M254.5 40.4H256.3M75.4 39.3H76.3M78.9 39.3H79.8M80.7 39.3H81.6M88.7 39.3H89.6M120.6 39.3H121.5M162.3 39.3H163.2M164.1 39.3H165.0M173.0 39.3H173.9M184.5 39.3H185.4M195.1 39.3H196.0M198.7 39.3H199.6M226.2 39.3H227.1M228.0 39.3H228.8M230.6 39.3H231.5M243.9 39.3H245.7M249.3 39.3H251.0M77.0 38.2H77.9M80.6 38.2H87.6M88.5 38.2H89.4M91.1 38.2H92.0M92.9 38.2H93.7M109.6 38.2H110.4M114.0 38.2H114.8M160.6 38.2H161.4M169.3 38.2H171.1M179.0 38.2H179.9M208.0 38.2H208.9M211.5 38.2H212.4M224.7 38.2H225.6M230.0 38.2H231.7M233.5 38.2H234.4M240.5 38.2H244.9M246.7 38.2H247.6M249.3 38.2H250.2M252.8 38.2H254.6M270.4 38.2H271.3M75.2 37.1H76.1M77.0 37.1H89.2M90.0 37.1H92.6M95.2 37.1H96.1M109.2 37.1H110.9M157.9 37.1H159.7M168.4 37.1H169.3M205.8 37.1H206.7M207.6 37.1H208.4M221.5 37.1H222.4M228.5 37.1H229.3M230.2 37.1H231.1M234.6 37.1H235.4M238.0 37.1H238.9M245.0 37.1H245.9M249.4 37.1H250.2M252.0 37.1H252.8M254.6 37.1H256.3M269.4 37.1H271.1M76.1 36.0H76.9M78.7 36.0H94.2M95.0 36.0H96.8M166.6 36.0H167.4M168.3 36.0H169.2M207.1 36.0H208.0M226.1 36.0H226.9M227.8 36.0H230.4M233.8 36.0H234.7M235.6 36.0H236.4M238.1 36.0H239.0M243.3 36.0H245.0M251.1 36.0H251.9M253.7 36.0H255.4M268.3 36.0H271.8M71.8 34.9H72.7M78.6 34.9H88.0M88.9 34.9H95.7M96.6 34.9H98.3M110.2 34.9H111.1M116.2 34.9H117.0M204.1 34.9H204.9M218.6 34.9H219.4M224.5 34.9H225.4M226.2 34.9H228.0M229.7 34.9H230.5M233.9 34.9H235.6M239.0 34.9H239.9M240.8 34.9H241.6M248.4 34.9H249.3M250.1 34.9H252.7M76.1 33.8H77.0M80.4 33.8H87.9M88.8 33.8H99.8M114.1 33.8H115.0M169.0 33.8H170.7M202.8 33.8H203.6M223.0 33.8H224.7M225.6 33.8H226.4M228.1 33.8H229.8M234.8 33.8H235.7M237.4 33.8H239.1M250.0 33.8H252.6M72.9 32.7H73.7M80.4 32.7H96.3M97.1 32.7H98.8M109.6 32.7H110.5M114.6 32.7H116.3M169.7 32.7H171.4M187.3 32.7H188.9M218.2 32.7H219.0M224.8 32.7H225.7M237.4 32.7H238.2M241.5 32.7H242.4M244.9 32.7H245.7M246.5 32.7H247.4M249.9 32.7H250.7M251.6 32.7H252.4M80.5 31.7H81.3M82.1 31.7H90.4M91.2 31.7H93.7M94.5 31.7H96.2M97.0 31.7H97.8M165.5 31.7H166.3M170.5 31.7H172.1M224.1 31.7H224.9M225.8 31.7H226.6M230.7 31.7H231.5M233.2 31.7H234.0M235.7 31.7H236.5M237.3 31.7H238.1M241.5 31.7H242.3M243.9 31.7H246.4M247.2 31.7H248.1M249.7 31.7H250.5M251.4 31.7H252.2M267.9 31.7H268.7M56.1 30.6H58.6M62.6 30.6H63.5M66.7 30.6H67.5M83.9 30.6H96.9M110.8 30.6H111.6M175.2 30.6H176.1M184.2 30.6H185.0M198.9 30.6H199.7M216.0 30.6H216.8M220.1 30.6H220.9M222.6 30.6H225.0M228.3 30.6H229.9M230.7 30.6H232.4M234.8 30.6H235.6M236.4 30.6H237.2M240.5 30.6H241.3M242.1 30.6H245.4M246.2 30.6H247.0M266.6 30.6H267.4M58.2 29.5H59.8M64.6 29.5H65.4M75.9 29.5H76.7M81.5 29.5H82.4M85.6 29.5H95.2M96.1 29.5H98.5M111.4 29.5H112.2M175.1 29.5H177.5M215.4 29.5H216.2M217.8 29.5H219.4M221.8 29.5H224.2M226.7 29.5H228.3M233.9 29.5H234.7M236.3 29.5H239.6M240.4 29.5H241.2M242.0 29.5H242.8M262.9 29.5H263.7M265.4 29.5H266.2M65.8 28.5H67.4M87.3 28.5H92.9M93.7 28.5H95.3M96.8 28.5H97.6M174.9 28.5H177.3M188.4 28.5H189.2M200.4 28.5H201.2M210.7 28.5H211.5M217.1 28.5H219.5M221.1 28.5H221.9M224.3 28.5H225.0M225.8 28.5H227.4M237.0 28.5H238.6M240.2 28.5H241.0M241.8 28.5H243.4M251.3 28.5H252.1M261.7 28.5H263.3M66.2 27.5H70.1M70.9 27.5H71.7M89.8 27.5H91.4M92.1 27.5H92.9M95.3 27.5H96.1M101.6 27.5H102.4M174.7 27.5H175.5M197.5 27.5H199.9M203.8 27.5H204.6M205.4 27.5H206.2M206.9 27.5H210.1M214.0 27.5H214.8M217.9 27.5H218.7M222.7 27.5H223.4M225.0 27.5H226.6M228.2 27.5H229.7M232.1 27.5H232.9M236.0 27.5H238.4M240.0 27.5H240.7M245.5 27.5H246.3M250.2 27.5H251.0M62.0 26.4H62.8M64.3 26.4H65.1M68.2 26.4H72.1M72.9 26.4H73.6M74.4 26.4H75.2M79.1 26.4H79.8M82.9 26.4H83.7M84.5 26.4H85.3M92.3 26.4H93.0M93.8 26.4H94.6M114.8 26.4H115.5M148.9 26.4H150.5M190.8 26.4H192.4M194.7 26.4H195.5M197.8 26.4H199.4M200.1 26.4H200.9M210.2 26.4H212.5M222.6 26.4H223.4M224.2 26.4H225.0M226.5 26.4H227.3M228.1 26.4H233.5M234.3 26.4H235.1M237.4 26.4H238.2M238.9 26.4H241.3M254.5 26.4H256.0M271.5 26.4H272.3M62.5 25.4H64.1M69.4 25.4H72.5M73.2 25.4H74.0M79.4 25.4H80.1M80.9 25.4H81.7M84.7 25.4H86.3M149.8 25.4H150.6M179.7 25.4H180.5M194.2 25.4H195.0M201.9 25.4H202.7M208.8 25.4H209.6M211.1 25.4H216.5M218.8 25.4H219.5M222.6 25.4H223.3M227.2 25.4H227.9M230.2 25.4H232.5M234.8 25.4H235.6M252.4 25.4H253.2M269.3 25.4H270.8M61.6 24.4H62.4M63.1 24.4H64.6M66.9 24.4H67.6M72.2 24.4H73.7M74.4 24.4H75.9M87.3 24.4H88.0M99.4 24.4H100.1M180.9 24.4H182.5M187.0 24.4H187.7M192.3 24.4H194.5M201.3 24.4H202.1M204.4 24.4H205.1M206.6 24.4H207.4M210.4 24.4H211.9M212.7 24.4H213.4M215.7 24.4H216.4M220.2 24.4H221.7M225.5 24.4H227.8M228.5 24.4H229.3M230.8 24.4H232.3M244.4 24.4H245.2M251.2 24.4H252.0M267.8 24.4H269.3M63.7 23.4H64.5M65.2 23.4H66.0M68.2 23.4H69.7M72.7 23.4H73.4M115.1 23.4H115.9M180.7 23.4H182.1M211.2 23.4H211.9M213.4 23.4H215.7M218.6 23.4H221.6M223.1 23.4H223.9M225.3 23.4H228.3M231.3 23.4H232.0M236.5 23.4H237.3M239.5 23.4H240.2M65.9 22.5H66.6M73.9 22.5H74.7M202.4 22.5H203.1M204.6 22.5H205.3M220.7 22.5H221.5M222.9 22.5H223.7M224.4 22.5H225.1M225.9 22.5H226.6M234.7 22.5H236.1M244.2 22.5H245.0M248.6 22.5H249.4M253.8 22.5H254.5M191.6 21.5H192.4M207.5 21.5H208.3M209.0 21.5H209.7M215.5 21.5H216.9M219.1 21.5H219.8M220.6 21.5H222.0M223.4 21.5H224.2M225.6 21.5H226.3M228.5 21.5H229.2M230.7 21.5H231.4M233.6 21.5H235.0M247.3 21.5H248.0" stroke="#fdf5d1" stroke-width="1.29"/><path d="M109.5 130.3H110.4M111.6 125.8H112.5M107.5 124.7H108.4M110.3 124.7H111.2M110.6 122.4H111.5M110.9 120.1H111.9M112.8 120.1H113.8M270.3 120.1H271.3M111.6 118.9H112.6M110.4 117.8H111.3M112.3 117.8H113.3M115.2 117.8H117.1M112.1 116.6H113.0M115.0 116.6H116.0M251.7 116.6H252.7M254.6 116.6H255.6M270.1 116.6H271.1M115.7 115.4H117.7M252.1 115.4H253.1M254.1 115.4H255.0M272.6 115.4H273.5M176.2 114.3H177.2M260.3 114.3H261.3M262.3 114.3H263.3M264.3 114.3H265.2M251.9 113.1H252.9M254.9 113.1H255.8M257.8 113.1H259.8M261.7 113.1H263.7M267.6 113.1H268.6M254.2 112.0H255.2M256.2 112.0H257.2M259.2 112.0H261.1M119.0 110.8H120.0M178.4 110.8H179.4M185.3 110.8H186.3M251.6 110.8H252.6M254.6 110.8H256.5M259.5 110.8H263.5M269.4 110.8H270.4M271.4 110.8H272.4M275.3 110.8H276.3M115.9 109.7H116.9M183.4 109.7H184.4M262.8 109.7H267.8M272.7 109.7H273.7M274.7 109.7H275.7M255.1 108.5H257.1M263.1 108.5H264.1M269.1 108.5H272.1M274.0 108.5H275.0M277.0 108.5H278.0M256.4 107.4H258.4M260.4 107.4H262.4M263.4 107.4H266.4M269.3 107.4H270.3M271.3 107.4H272.3M252.6 106.2H254.6M260.6 106.2H263.6M267.6 106.2H268.6M187.6 105.0H188.6M256.8 105.0H257.8M258.8 105.0H259.8M261.8 105.0H262.8M266.8 105.0H267.8M264.1 103.9H268.1M269.1 103.9H270.1M271.1 103.9H273.1M275.1 103.9H276.1M258.2 102.7H259.2M260.2 102.7H261.3M266.3 102.7H268.3M270.3 102.7H271.3M272.3 102.7H275.4M127.1 98.1H128.1M127.0 96.9H128.0M127.0 95.8H128.0M126.9 93.5H127.9M272.8 92.3H278.9M279.9 92.3H280.9M129.9 91.2H130.9M273.9 91.2H274.9M275.9 91.2H276.9M129.9 90.0H130.9M246.4 90.0H247.4M257.6 90.0H258.6M271.9 90.0H272.9M277.0 90.0H279.0M246.4 88.9H247.4M273.0 88.9H274.0M276.0 88.9H277.1M243.4 87.7H245.4M250.5 87.7H252.6M274.0 87.7H275.1M100.2 86.5H101.2M243.4 86.5H245.4M250.6 86.5H251.6M255.7 86.5H256.7M258.7 86.5H259.8M267.9 86.5H269.0M180.0 85.4H181.0M183.1 85.4H184.1M188.2 85.4H189.2M242.4 85.4H243.4M252.6 85.4H254.7M256.7 85.4H257.7M180.0 84.2H181.0M242.4 84.2H243.4M252.6 84.2H253.6M255.7 84.2H256.7M192.2 83.1H193.3M240.3 83.1H241.3M101.3 81.9H102.3M253.5 81.9H256.6M100.3 80.8H101.3M155.4 80.8H156.5M254.5 80.8H256.6M100.3 79.6H101.3M155.4 79.6H156.5M161.6 79.6H162.6M155.4 78.4H156.5M194.2 78.4H195.2M152.4 77.3H153.4M165.6 77.3H166.7M165.6 76.1H167.7M168.7 76.1H169.7M90.4 75.0H91.4M167.7 75.0H168.7M191.1 75.0H192.1M193.1 75.0H194.1M247.0 75.0H248.0M149.4 73.8H150.4M153.4 73.8H155.5M191.0 73.8H192.0M221.5 73.8H222.5M243.8 73.8H244.8M146.4 72.7H147.4M156.5 72.7H158.5M165.6 72.7H166.6M244.7 72.7H245.7M246.8 72.7H247.8M85.6 71.5H86.6M158.5 71.5H160.6M166.6 71.5H167.6M82.7 70.4H83.7M84.7 70.4H85.8M225.2 70.4H227.3M242.4 70.4H243.4M245.4 70.4H246.5M85.9 69.2H86.9M225.1 69.2H228.1M242.3 69.2H243.3M244.3 69.2H245.3M82.0 68.0H83.0M226.0 68.0H229.0M239.1 68.0H242.1M78.2 66.9H79.2M223.8 66.9H225.8M226.8 66.9H228.9M240.9 66.9H242.9M76.4 65.7H77.4M239.7 65.7H240.7M243.7 65.7H244.7M75.5 64.6H77.5M80.5 64.6H81.5M221.6 64.6H222.6M227.6 64.6H228.6M243.6 64.6H244.6M78.7 63.4H79.7M248.3 63.4H249.3M78.0 62.3H80.0M225.2 62.3H226.2M227.2 62.3H228.2M247.1 62.3H248.1M249.1 62.3H251.1M75.2 61.1H77.2M78.2 61.1H79.2M81.2 61.1H82.2M225.0 61.1H226.0M227.0 61.1H228.0M236.9 61.1H237.9M244.9 61.1H245.9M246.9 61.1H248.8M75.5 59.9H77.5M226.8 59.9H227.8M246.6 59.9H247.6M233.5 58.8H234.5M255.1 58.8H256.1M70.2 57.6H71.2M247.9 57.6H248.9M245.6 56.5H246.6M252.4 56.5H253.4M72.0 55.3H73.0M73.9 55.3H75.9M225.8 55.3H226.7M248.7 54.2H249.7M251.6 54.2H252.6M66.7 49.5H67.6M77.1 49.5H78.1M172.9 49.5H173.8M206.1 49.5H207.0M212.7 49.5H214.6M69.2 48.4H70.1M209.5 48.4H212.4M214.3 48.4H215.2M78.2 47.3H79.1M209.2 47.3H210.2M211.1 47.3H213.9M78.8 46.1H79.7M207.0 46.1H208.0M209.8 46.1H210.7M162.4 45.0H163.3M205.8 45.0H206.7M259.3 45.0H260.2M163.3 43.8H164.2M174.3 43.8H175.2M191.7 43.8H192.6M197.2 43.8H198.1M230.2 43.8H231.1M238.4 43.8H241.2M252.2 43.8H253.1M162.4 42.7H163.3M174.2 42.7H175.1M191.5 42.7H196.0M197.8 42.7H198.7M199.6 42.7H201.5M202.4 42.7H203.3M207.8 42.7H208.7M211.5 42.7H212.4M234.2 42.7H235.1M238.7 42.7H239.6M73.1 41.6H74.0M170.5 41.6H171.4M190.3 41.6H192.1M194.8 41.6H197.5M198.4 41.6H199.3M202.0 41.6H202.9M203.8 41.6H205.7M230.9 41.6H231.8M189.2 40.4H191.0M192.8 40.4H193.7M195.4 40.4H197.2M199.9 40.4H200.8M203.5 40.4H204.4M226.8 40.4H227.6M229.4 40.4H230.3M233.0 40.4H234.8M235.7 40.4H236.6M242.9 40.4H243.8M247.3 40.4H248.2M259.0 40.4H259.9M196.0 39.3H196.9M197.8 39.3H198.7M216.4 39.3H217.3M231.5 39.3H234.2M235.9 39.3H236.8M243.0 39.3H243.9M246.6 39.3H249.3M251.0 39.3H251.9M254.6 39.3H255.5M210.7 38.2H211.5M215.0 38.2H216.8M217.7 38.2H218.6M222.1 38.2H223.0M225.6 38.2H226.5M227.4 38.2H229.1M234.4 38.2H235.3M250.2 38.2H252.0M209.3 37.1H210.2M211.0 37.1H211.9M212.8 37.1H213.7M214.5 37.1H215.4M224.1 37.1H225.0M232.8 37.1H233.7M237.2 37.1H238.0M238.9 37.1H239.8M245.9 37.1H246.7M250.2 37.1H252.0M252.8 37.1H254.6M211.4 36.0H212.3M213.1 36.0H214.0M214.9 36.0H215.7M224.3 36.0H225.2M239.0 36.0H239.9M240.7 36.0H241.6M88.0 34.9H88.9M205.8 34.9H206.6M230.5 34.9H232.2M87.9 33.8H88.8M211.2 33.8H212.0M212.9 33.8H213.7M231.5 33.8H232.3M241.6 33.8H242.4M214.0 32.7H214.8M228.2 32.7H229.0M229.9 32.7H232.4M238.2 32.7H239.0M90.4 31.7H91.2M211.7 31.7H212.6M215.0 31.7H215.9M216.7 31.7H217.5M243.1 31.7H243.9M246.4 31.7H247.2M212.0 30.6H212.8M213.6 30.6H214.4M215.2 30.6H216.0M225.0 30.6H225.8M229.9 30.6H230.7M241.3 30.6H242.1M245.4 30.6H246.2M249.5 30.6H250.3M65.4 29.5H66.2M200.1 29.5H200.9M205.7 29.5H207.3M212.1 29.5H213.8M219.4 29.5H220.2M224.2 29.5H225.0M209.1 28.5H210.7M216.3 28.5H217.1M221.9 28.5H222.7M202.2 27.5H203.8M206.2 27.5H206.9M217.2 27.5H217.9M227.4 27.5H228.2M227.3 26.4H228.1M61.8 25.4H62.5M72.5 25.4H73.2M213.4 24.4H215.7M252.0 24.4H252.7M246.9 23.4H247.7M66.6 22.5H67.3M70.3 22.5H71.0M200.9 22.5H201.7M228.8 22.5H229.5" stroke="#fed27c" stroke-width="1.29"/><path d="M112.6 118.9H113.5M270.9 118.9H271.9M111.3 117.8H112.3M113.3 117.8H114.2M251.2 117.8H252.2M273.4 117.8H275.4M113.0 116.6H114.0M249.7 116.6H250.7M252.7 116.6H254.6M272.0 116.6H273.0M275.0 116.6H275.9M113.8 115.4H114.8M250.2 115.4H251.1M255.0 115.4H256.0M274.5 115.4H275.5M115.5 114.3H116.5M254.5 114.3H256.4M258.4 114.3H259.4M261.3 114.3H262.3M274.0 114.3H277.0M119.3 113.1H121.3M255.8 113.1H256.8M259.8 113.1H260.8M270.6 113.1H271.6M261.1 112.0H262.1M263.1 112.0H264.1M273.0 112.0H274.9M263.5 110.8H264.5M274.3 110.8H275.3M276.3 110.8H278.3M111.9 109.7H113.9M184.4 109.7H186.4M273.7 109.7H274.7M276.7 109.7H277.7M278.7 109.7H279.7M280.7 109.7H281.7M112.8 108.5H113.8M182.5 108.5H183.4M113.6 107.4H114.6M258.4 107.4H260.4M272.3 107.4H273.3M113.5 106.2H114.5M254.6 106.2H255.6M276.6 106.2H277.6M117.4 105.0H118.4M267.8 105.0H268.8M268.1 103.9H269.1M277.1 103.9H278.1M263.3 102.7H264.3M265.3 102.7H266.3M268.3 102.7H269.3M275.4 102.7H276.4M128.3 101.6H129.3M271.6 101.6H272.6M188.9 100.4H189.9M261.7 100.4H262.7M127.1 99.3H128.1M128.1 98.1H129.1M267.1 98.1H268.1M266.2 96.9H267.2M129.0 94.6H130.0M185.0 94.6H186.0M192.1 94.6H193.1M129.0 93.5H132.0M254.3 93.5H255.3M275.7 93.5H277.8M127.9 92.3H128.9M131.0 92.3H132.0M278.9 92.3H279.9M128.9 91.2H129.9M190.2 91.2H191.2M276.9 91.2H278.0M124.8 90.0H126.8M127.9 90.0H128.9M245.3 90.0H246.4M245.4 87.7H246.4M254.6 87.7H255.6M258.7 87.7H259.7M174.9 86.5H175.9M176.9 86.5H179.0M180.0 86.5H181.0M253.6 86.5H254.6M175.9 85.4H176.9M181.0 85.4H182.0M192.3 85.4H193.3M241.4 85.4H242.4M243.4 85.4H245.5M251.6 85.4H252.6M254.7 85.4H256.7M98.2 84.2H100.2M101.2 84.2H102.3M105.3 84.2H108.4M182.0 84.2H183.0M241.3 84.2H242.4M250.5 84.2H251.6M254.6 84.2H255.7M99.2 83.1H100.2M101.3 83.1H102.3M117.6 83.1H118.6M243.4 83.1H245.4M252.6 83.1H253.6M255.6 83.1H256.7M107.4 81.9H108.4M109.5 81.9H110.5M112.5 81.9H113.5M115.6 81.9H116.6M192.2 81.9H193.3M240.3 81.9H241.3M97.2 80.8H98.2M101.3 80.8H102.3M192.2 80.8H195.3M242.3 80.8H243.3M101.3 79.6H102.4M152.4 79.6H153.4M192.2 79.6H193.2M194.2 79.6H196.3M156.5 78.4H157.5M193.2 78.4H194.2M195.2 78.4H196.3M241.1 78.4H242.2M107.6 77.3H108.6M166.7 77.3H167.7M241.1 77.3H242.1M108.6 76.1H109.6M152.4 76.1H154.4M193.1 76.1H194.1M152.4 75.0H154.4M168.7 75.0H169.7M190.0 75.0H191.1M192.1 75.0H193.1M194.1 75.0H195.1M245.0 75.0H246.0M90.5 73.8H91.5M151.4 73.8H152.4M242.8 73.8H243.8M244.8 73.8H245.9M246.9 73.8H248.9M86.5 72.7H88.5M91.6 72.7H92.6M150.4 72.7H151.4M158.5 72.7H159.5M160.6 72.7H161.6M192.0 72.7H193.0M242.7 72.7H244.7M245.7 72.7H246.8M86.6 71.5H88.7M80.7 70.4H82.7M86.8 70.4H87.8M241.4 70.4H242.4M244.4 70.4H245.4M79.9 69.2H81.9M83.9 69.2H85.9M87.9 69.2H88.9M238.2 69.2H242.3M87.1 68.0H88.1M238.1 68.0H239.1M244.1 68.0H245.1M77.2 66.9H78.2M79.2 66.9H80.2M82.2 66.9H83.2M77.4 65.7H79.4M80.4 65.7H81.4M248.6 64.6H249.6M79.2 61.1H81.2M80.4 59.9H82.4M253.8 57.6H254.8M210.2 47.3H211.1M208.9 46.1H209.8M210.7 46.1H211.7M208.5 45.0H209.5M199.9 43.8H200.9M233.8 43.8H234.8M196.0 42.7H197.8M198.7 42.7H199.6M204.2 42.7H205.1M233.3 42.7H234.2M188.5 41.6H189.4M192.1 41.6H194.8M200.2 41.6H201.1M231.8 41.6H233.6M236.3 41.6H237.2M194.5 40.4H195.4M197.2 40.4H199.0M230.3 40.4H232.1M236.6 40.4H237.5M243.8 40.4H244.6M211.1 39.3H212.0M215.5 39.3H216.4M228.8 39.3H230.6M234.2 39.3H235.1M214.2 38.2H215.0M226.5 38.2H227.4M225.9 37.1H227.6M239.8 37.1H240.7M208.0 36.0H209.7M214.0 36.0H214.9M215.7 36.0H216.6M225.2 36.0H226.1M232.1 36.0H233.0M207.5 34.9H208.3M212.6 34.9H213.5M214.3 34.9H216.9M223.7 34.9H224.5M225.4 34.9H226.2M201.9 33.8H202.8M203.6 33.8H204.4M208.7 33.8H210.4M212.0 33.8H212.9M213.7 33.8H215.4M216.3 33.8H217.1M229.8 33.8H231.5M204.8 32.7H206.5M208.1 32.7H209.0M210.6 32.7H213.2M214.8 32.7H218.2M232.4 32.7H233.2M212.6 31.7H214.2M215.9 31.7H216.7M207.9 30.6H208.7M214.4 30.6H215.2M210.5 29.5H211.3M205.1 28.5H205.9M206.7 28.5H207.5M208.3 28.5H209.1" stroke="#fd9a30" stroke-width="1.29"/><path d="M114.0 121.2H115.9M111.9 120.1H112.8M113.8 120.1H116.6M269.4 120.1H270.3M113.5 118.9H115.4M269.6 117.8H270.5M272.5 117.8H273.4M275.4 117.8H276.3M111.1 116.6H112.1M250.7 116.6H251.7M274.0 116.6H275.0M276.9 116.6H277.9M110.9 115.4H113.8M276.5 115.4H277.4M114.6 114.3H115.5M274.5 113.1H276.5M114.2 112.0H118.1M119.1 112.0H121.1M274.9 112.0H276.9M277.9 112.0H278.9M114.0 110.8H117.0M252.6 110.8H253.6M279.3 110.8H280.3M113.9 109.7H115.9M251.9 109.7H252.9M277.7 109.7H278.7M113.8 108.5H114.8M183.4 108.5H184.4M275.0 108.5H276.0M112.6 107.4H113.6M183.5 107.4H184.5M276.3 107.4H277.3M112.5 106.2H113.5M112.4 105.0H113.4M183.6 105.0H184.6M180.6 103.9H181.7M183.7 103.9H184.7M263.1 103.9H264.1M276.1 103.9H277.1M180.7 102.7H182.7M183.7 102.7H184.7M181.7 101.6H182.8M183.8 101.6H184.8M189.8 101.6H190.8M263.5 101.6H265.5M268.5 101.6H271.6M272.6 101.6H273.6M128.2 100.4H129.2M184.8 100.4H185.8M260.6 100.4H261.7M262.7 100.4H263.7M267.7 100.4H268.7M190.9 99.3H191.9M261.8 99.3H263.9M266.9 99.3H267.9M106.8 98.1H107.8M183.9 98.1H184.9M266.1 98.1H267.1M128.0 96.9H130.1M189.0 96.9H191.0M276.4 96.9H277.4M129.0 95.8H130.0M187.0 95.8H188.0M189.0 95.8H190.0M191.1 95.8H192.1M126.9 94.6H128.0M130.0 94.6H131.0M188.0 94.6H189.1M190.1 94.6H192.1M127.9 93.5H129.0M186.0 93.5H188.1M128.9 92.3H131.0M126.8 90.0H127.9M128.9 90.0H129.9M189.2 90.0H191.2M125.8 88.9H127.8M253.6 88.9H255.6M252.6 87.7H253.6M273.0 87.7H274.0M97.1 86.5H99.2M175.9 86.5H176.9M184.1 86.5H185.1M252.6 86.5H253.6M99.2 85.4H100.2M101.2 85.4H102.2M176.9 85.4H177.9M182.0 85.4H183.1M249.5 85.4H251.6M97.1 84.2H98.2M100.2 84.2H101.2M108.4 84.2H110.4M181.0 84.2H182.0M249.5 84.2H250.5M251.6 84.2H252.6M105.3 83.1H110.5M254.6 83.1H255.6M108.4 81.9H109.5M113.5 81.9H114.6M194.3 81.9H195.3M243.3 81.9H245.4M112.5 80.8H114.6M243.3 80.8H244.3M97.3 79.6H99.3M104.4 79.6H105.4M110.5 79.6H111.6M112.6 79.6H113.6M156.5 79.6H157.5M243.2 79.6H244.3M255.5 79.6H256.5M100.4 78.4H101.4M104.4 78.4H108.5M111.6 78.4H112.6M105.5 77.3H107.6M109.6 77.3H110.6M106.6 76.1H108.6M167.7 76.1H168.7M246.0 75.0H247.0M248.0 75.0H249.0M148.4 73.8H149.4M150.4 73.8H151.4M245.9 73.8H246.9M149.4 72.7H150.4M166.6 72.7H167.6M91.7 71.5H92.7M148.4 71.5H150.4M157.5 71.5H158.5M160.6 71.5H161.6M167.6 71.5H170.7M239.5 71.5H240.5M85.8 70.4H86.8M239.4 70.4H241.4M243.3 69.2H244.3M77.0 68.0H81.0M242.1 68.0H244.1M76.2 66.9H77.2M81.2 66.9H82.2M236.9 66.9H237.9M242.9 66.9H243.9M79.4 65.7H80.4M81.4 65.7H82.4M240.7 65.7H241.7M80.0 62.3H80.9M81.9 62.3H82.9M78.5 59.9H80.4M237.1 45.0H238.1M201.5 42.7H202.4M197.5 41.6H198.4M199.3 41.6H200.2M193.7 40.4H194.5M199.0 40.4H199.9M201.7 40.4H202.6M227.1 39.3H228.0M235.1 39.3H235.9M212.4 38.2H213.3M213.7 37.1H214.5M217.1 37.1H218.0M218.9 37.1H220.6M210.6 36.0H211.4M212.3 36.0H213.1M218.3 36.0H219.2M206.6 34.9H207.5M208.3 34.9H210.0M210.9 34.9H212.6M213.5 34.9H214.3M216.9 34.9H218.6M204.4 33.8H205.3M206.1 33.8H207.8M210.4 33.8H211.2M215.4 33.8H216.3M217.1 33.8H218.0M204.0 32.7H204.8M209.0 32.7H210.6M213.2 32.7H214.0M203.5 31.7H207.6M208.4 31.7H211.7M214.2 31.7H215.0M201.3 30.6H202.2M206.2 30.6H207.9M208.7 30.6H212.0M212.8 30.6H213.6M203.3 29.5H205.7M207.3 29.5H209.7M211.3 29.5H212.1M202.8 28.5H203.5M205.9 28.5H206.7M207.5 28.5H208.3" stroke="#f05a2a" stroke-width="1.29"/><path d="M114.2 117.8H115.2M114.0 116.6H115.0M273.0 116.6H274.0M114.8 115.4H115.7M253.1 115.4H254.1M271.6 115.4H272.6M273.5 115.4H274.5M275.5 115.4H276.5M277.4 115.4H278.4M111.6 114.3H112.6M113.6 114.3H114.6M272.5 113.1H274.5M277.5 113.1H278.4M113.1 110.8H114.0M273.4 110.8H274.3M275.7 109.7H276.7M114.8 108.5H115.7M276.0 108.5H277.0M196.5 107.4H197.5M277.3 107.4H278.3M183.6 106.2H185.6M113.4 105.0H114.4M182.6 105.0H183.6M275.9 105.0H276.9M198.7 103.9H199.7M278.1 103.9H279.1M106.2 102.7H107.2M182.7 102.7H183.7M186.7 102.7H187.7M195.8 102.7H198.8M185.8 101.6H186.8M188.8 101.6H189.8M195.9 101.6H196.9M197.9 101.6H199.9M260.5 101.6H261.5M262.5 101.6H263.5M266.5 101.6H267.5M276.6 101.6H277.6M107.0 100.4H109.0M189.9 100.4H190.9M196.9 100.4H199.0M264.7 100.4H265.7M268.7 100.4H269.7M274.8 100.4H275.8M276.8 100.4H277.8M104.8 99.3H105.9M106.9 99.3H108.9M110.9 99.3H112.9M128.1 99.3H129.2M184.9 99.3H185.9M188.9 99.3H189.9M265.9 99.3H266.9M275.0 99.3H276.0M277.0 99.3H278.0M108.8 98.1H111.9M184.9 98.1H185.9M268.1 98.1H271.1M275.2 98.1H277.2M107.7 96.9H108.7M184.9 96.9H187.0M267.2 96.9H269.3M270.3 96.9H271.3M275.3 96.9H276.4M128.0 95.8H129.0M188.0 95.8H189.0M190.0 95.8H191.1M128.0 94.6H129.0M186.0 94.6H188.0M189.1 94.6H190.1M183.0 93.5H184.0M190.1 93.5H191.1M181.0 92.3H185.0M190.1 92.3H191.2M181.0 91.2H183.0M186.1 90.0H187.1M124.8 88.9H125.8M127.8 88.9H128.9M187.1 88.9H188.1M253.6 87.7H254.6M181.0 86.5H182.0M187.1 86.5H188.2M98.2 85.4H99.2M100.2 85.4H101.2M174.9 85.4H175.9M102.3 84.2H105.3M111.5 84.2H112.5M111.5 83.1H112.5M241.3 83.1H242.3M102.3 81.9H103.3M110.5 81.9H111.5M104.4 80.8H105.4M110.5 80.8H111.5M103.4 79.6H104.4M108.5 79.6H109.5M111.6 79.6H112.6M97.3 78.4H100.4M101.4 78.4H103.4M95.3 77.3H97.4M98.4 77.3H99.4M104.5 77.3H105.5M108.6 77.3H109.6M98.4 76.1H100.5M105.6 76.1H106.6M109.6 76.1H110.7M165.6 73.8H166.6M88.5 72.7H89.6M167.6 72.7H168.7M88.7 71.5H91.7M87.8 70.4H88.8M78.8 69.2H79.9M88.9 69.2H89.9M89.1 68.0H90.1M242.7 65.7H243.7M209.7 36.0H210.6M210.0 34.9H210.9M205.3 33.8H206.1M207.8 33.8H208.7M218.0 33.8H218.8M202.3 32.7H203.1M206.5 32.7H208.1M201.8 31.7H202.7M207.6 31.7H208.4M202.2 30.6H203.0M203.8 30.6H206.2M209.7 29.5H210.5" stroke="#d42229" stroke-width="1.29"/><path d="M271.1 116.6H272.0M275.9 116.6H276.9M278.3 110.8H279.3M195.4 108.5H197.4M195.5 107.4H196.5M197.5 107.4H198.5M195.6 106.2H198.6M195.6 105.0H198.7M181.7 103.9H183.7M195.7 103.9H198.7M187.7 102.7H189.8M106.1 101.6H107.1M182.8 101.6H183.8M186.8 101.6H188.8M196.9 101.6H197.9M259.4 101.6H260.5M261.5 101.6H262.5M265.5 101.6H266.5M267.5 101.6H268.5M275.6 101.6H276.6M106.0 100.4H107.0M185.8 100.4H188.9M199.0 100.4H200.0M263.7 100.4H264.7M265.7 100.4H267.7M269.7 100.4H271.8M275.8 100.4H276.8M108.9 99.3H110.9M185.9 99.3H188.9M189.9 99.3H190.9M191.9 99.3H193.0M267.9 99.3H269.9M276.0 99.3H277.0M107.8 98.1H108.8M185.9 98.1H192.0M108.7 96.9H109.8M187.0 96.9H189.0M191.0 96.9H192.0M269.3 96.9H270.3M185.0 95.8H187.0M183.0 94.6H184.0M182.0 93.5H183.0M188.1 93.5H190.1M186.1 92.3H190.1M183.0 91.2H190.2M182.0 90.0H184.0M187.1 90.0H189.2M188.1 88.9H189.2M99.2 86.5H100.2M112.5 84.2H114.5M102.3 83.1H105.3M110.5 83.1H111.5M112.5 83.1H114.5M115.6 83.1H116.6M103.3 81.9H107.4M111.5 81.9H112.5M102.3 80.8H104.4M105.4 80.8H110.5M111.5 80.8H112.5M114.6 80.8H116.6M102.4 79.6H103.4M105.4 79.6H108.5M109.5 79.6H110.5M103.4 78.4H104.4M108.5 78.4H111.6M99.4 77.3H104.5M101.5 76.1H105.6M89.5 73.8H90.5M89.6 72.7H91.6M203.1 32.7H204.0" stroke="#921a1c" stroke-width="1.29"/></g><path d="M28.5,43.9 L292.6,43.9M13.2,85.5 L307.9,85.5M28.5,127.1 L292.6,127.1M160.6,160.1 L160.6,159.5 L160.6,158.8 L160.6,157.8 L160.6,156.8 L160.6,155.6 L160.6,154.3 L160.6,152.9 L160.6,151.4 L160.6,149.9 L160.6,148.4 L160.6,146.9 L160.6,145.3 L160.6,143.6 L160.6,142.0 L160.6,140.3 L160.6,138.6 L160.6,136.9 L160.6,135.1 L160.6,133.4 L160.6,131.6 L160.6,129.8 L160.6,128.0 L160.6,126.1 L160.6,124.3 L160.6,122.5 L160.6,120.6 L160.6,118.8 L160.6,117.0 L160.6,115.1 L160.6,113.3 L160.6,111.4 L160.6,109.6 L160.6,107.7 L160.6,105.9 L160.6,104.0 L160.6,102.2 L160.6,100.3 L160.6,98.5 L160.6,96.6 L160.6,94.8 L160.6,92.9 L160.6,91.1 L160.6,89.2 L160.6,87.4 L160.6,85.5 L160.6,83.6 L160.6,81.8 L160.6,79.9 L160.6,78.1 L160.6,76.2 L160.6,74.4 L160.6,72.5 L160.6,70.7 L160.6,68.8 L160.6,67.0 L160.6,65.1 L160.6,63.3 L160.6,61.4 L160.6,59.6 L160.6,57.7 L160.6,55.9 L160.6,54.0 L160.6,52.2 L160.6,50.4 L160.6,48.5 L160.6,46.7 L160.6,44.9 L160.6,43.0 L160.6,41.2 L160.6,39.4 L160.6,37.6 L160.6,35.9 L160.6,34.1 L160.6,32.4 L160.6,30.7 L160.6,29.0 L160.6,27.4 L160.6,25.7 L160.6,24.1 L160.6,22.6 L160.6,21.1 L160.6,19.6 L160.6,18.1 L160.6,16.7 L160.6,15.4 L160.6,14.2 L160.6,13.2 L160.6,12.2 L160.6,11.5 L160.6,10.9" fill="none" stroke="#888" stroke-width="0.85" stroke-dasharray="3.2 1.5"/><path d="M121.4,160.1 L120.3,159.5 L119.1,158.8 L117.7,157.8 L116.3,156.8 L114.8,155.6 L113.2,154.3 L111.7,152.9 L110.3,151.4 L108.9,149.9 L107.6,148.4 L106.4,146.9 L105.2,145.3 L104.0,143.6 L102.9,142.0 L101.7,140.3 L100.6,138.6 L99.6,136.9 L98.5,135.1 L97.6,133.4 L96.6,131.6 L95.8,129.8 L94.9,128.0 L94.2,126.1 L93.4,124.3 L92.7,122.5 L92.0,120.6 L91.4,118.8 L90.8,117.0 L90.3,115.1 L89.8,113.3 L89.4,111.4 L89.1,109.6 L88.7,107.7 L88.5,105.9 L88.2,104.0 L88.0,102.2 L87.7,100.3 L87.5,98.5 L87.4,96.6 L87.2,94.8 L87.1,92.9 L87.0,91.1 L87.0,89.2 L86.9,87.4 L86.9,85.5 L86.9,83.6 L87.0,81.8 L87.0,79.9 L87.1,78.1 L87.2,76.2 L87.4,74.4 L87.5,72.5 L87.7,70.7 L88.0,68.8 L88.2,67.0 L88.5,65.1 L88.7,63.3 L89.1,61.4 L89.4,59.6 L89.8,57.7 L90.3,55.9 L90.8,54.0 L91.4,52.2 L92.0,50.4 L92.7,48.5 L93.4,46.7 L94.2,44.9 L94.9,43.0 L95.8,41.2 L96.6,39.4 L97.6,37.6 L98.5,35.9 L99.6,34.1 L100.6,32.4 L101.7,30.7 L102.9,29.0 L104.0,27.4 L105.2,25.7 L106.4,24.1 L107.6,22.6 L108.9,21.1 L110.3,19.6 L111.7,18.1 L113.2,16.7 L114.8,15.4 L116.3,14.2 L117.7,13.2 L119.1,12.2 L120.3,11.5 L121.4,10.9M199.7,160.1 L200.8,159.5 L202.0,158.8 L203.4,157.8 L204.8,156.8 L206.3,155.6 L207.9,154.3 L209.4,152.9 L210.8,151.4 L212.2,149.9 L213.5,148.4 L214.7,146.9 L215.9,145.3 L217.1,143.6 L218.2,142.0 L219.4,140.3 L220.5,138.6 L221.5,136.9 L222.6,135.1 L223.5,133.4 L224.5,131.6 L225.3,129.8 L226.2,128.0 L226.9,126.1 L227.7,124.3 L228.4,122.5 L229.1,120.6 L229.7,118.8 L230.3,117.0 L230.8,115.1 L231.3,113.3 L231.7,111.4 L232.0,109.6 L232.4,107.7 L232.6,105.9 L232.9,104.0 L233.1,102.2 L233.4,100.3 L233.6,98.5 L233.7,96.6 L233.9,94.8 L234.0,92.9 L234.1,91.1 L234.1,89.2 L234.2,87.4 L234.2,85.5 L234.2,83.6 L234.1,81.8 L234.1,79.9 L234.0,78.1 L233.9,76.2 L233.7,74.4 L233.6,72.5 L233.4,70.7 L233.1,68.8 L232.9,67.0 L232.6,65.1 L232.4,63.3 L232.0,61.4 L231.7,59.6 L231.3,57.7 L230.8,55.9 L230.3,54.0 L229.7,52.2 L229.1,50.4 L228.4,48.5 L227.7,46.7 L226.9,44.9 L226.2,43.0 L225.3,41.2 L224.5,39.4 L223.5,37.6 L222.6,35.9 L221.5,34.1 L220.5,32.4 L219.4,30.7 L218.2,29.0 L217.1,27.4 L215.9,25.7 L214.7,24.1 L213.5,22.6 L212.2,21.1 L210.8,19.6 L209.4,18.1 L207.9,16.7 L206.3,15.4 L204.8,14.2 L203.4,13.2 L202.0,12.2 L200.8,11.5 L199.7,10.9" fill="none" stroke="#7a7a7a" stroke-width="0.8" stroke-dasharray="3.2 1.5"/><use href="#coast"/><g fill="#111"><circle cx="29.4" cy="82" r="0.7"/><circle cx="31.5" cy="84" r="0.7"/><circle cx="19" cy="88.9" r="0.7"/><circle cx="19.7" cy="93.7" r="0.7"/><circle cx="20.4" cy="98.6" r="0.7"/><circle cx="19" cy="104.9" r="0.7"/><circle cx="23.9" cy="102.8" r="0.7"/><circle cx="32.9" cy="90.3" r="0.7"/><circle cx="36.4" cy="95.8" r="0.7"/><circle cx="46.4" cy="94.4" r="1.0"/><circle cx="39.2" cy="101.7" r="0.7"/><circle cx="43.3" cy="100.7" r="0.7"/><circle cx="46.8" cy="102.5" r="0.7"/><circle cx="50.3" cy="102.5" r="0.7"/><circle cx="32.2" cy="105.6" r="0.7"/><circle cx="57.9" cy="108.3" r="0.7"/><circle cx="73.2" cy="110.4" r="0.7"/><circle cx="70.4" cy="68" r="0.7"/><circle cx="272.9" cy="60.4" r="0.7"/><circle cx="277.8" cy="68" r="0.7"/><circle cx="278.3" cy="70" r="0.7"/><circle cx="278.5" cy="72" r="0.7"/><circle cx="270.8" cy="78.5" r="0.7"/><circle cx="284" cy="78.5" r="0.7"/><circle cx="290.3" cy="79.2" r="0.7"/><circle cx="294.4" cy="79.9" r="0.7"/><circle cx="296.5" cy="75.7" r="0.7"/><circle cx="300" cy="79.2" r="0.7"/><circle cx="302" cy="83.3" r="0.7"/><circle cx="303.5" cy="85.4" r="0.7"/><circle cx="304.9" cy="101.4" r="1.0"/><circle cx="86.1" cy="85.9" r="0.7"/><circle cx="147.2" cy="59.4" r="0.7"/><circle cx="148.6" cy="59.8" r="0.7"/><circle cx="141.1" cy="71.2" r="0.7"/><circle cx="140.0" cy="49.9" r="0.7"/><circle cx="27" cy="94" r="0.7"/><circle cx="25" cy="97" r="0.7"/></g><path d="M66,154.2 L72,153.2 L78,152.6 L86,152.5 L95,152.2 L105,152.0 L113,152.2 L116.5,151.5 L118.5,148.5 L121,145 L123.5,142.5 L125.5,141.8 L124.5,143.5 L122,147 L120.5,150.5 L121.5,153.5 L124,155 L128,155.8 L132,156.5 L136,156.8 L140,156.2 L144,155.5 L146.5,152.5 L148.5,150.5 L152,149.6 L156,149.2 L160,148.9 L166,148.5 L172,147.8 L178,147.5 L185,146.8 L190,146.4 L194,146 L196.5,146.5 L198,150.5 L199.5,148.5 L202,146.8 L208,146.3 L215,146 L222,145.8 L230,146.2 L238,146.5 L246,147.2 L252,148.2 L257.8,149.6 L252,152.5 L246,155.5 L240.3,157.6 L244,157.3" fill="none" stroke="#000" stroke-width="1.15" stroke-linejoin="round"/><g fill="#111"><ellipse cx="79" cy="154.8" rx="3.5" ry="1.3"/><ellipse cx="84" cy="153.6" rx="2" ry="0.9"/><ellipse cx="103" cy="150.8" rx="2" ry="0.9"/><ellipse cx="120.5" cy="143.8" rx="1.2" ry="1.6"/><ellipse cx="134" cy="155.8" rx="1.5" ry="0.8"/></g><path d="M82.2,160.1 L81.1,159.8 L80.0,159.5 L78.8,159.2 L77.6,158.8 L76.3,158.3 L74.9,157.8 L73.5,157.3 L72.0,156.8 L70.6,156.2 L69.0,155.6 L67.5,154.9 L65.9,154.3 L64.4,153.6 L62.9,152.9 L61.4,152.2 L60.0,151.4 L58.6,150.7 L57.3,149.9 L56.0,149.2 L54.7,148.4 L53.5,147.6 L52.2,146.9 L51.0,146.1 L49.8,145.3 L48.6,144.5 L47.5,143.6 L46.3,142.8 L45.2,142.0 L44.0,141.1 L42.9,140.3 L41.8,139.5 L40.7,138.6 L39.6,137.7 L38.6,136.9 L37.6,136.0 L36.5,135.1 L35.5,134.2 L34.6,133.4 L33.6,132.5 L32.7,131.6 L31.8,130.7 L31.0,129.8 L30.1,128.9 L29.3,128.0 L28.5,127.1 L27.8,126.1 L27.0,125.2 L26.2,124.3 L25.5,123.4 L24.8,122.5 L24.1,121.6 L23.5,120.6 L22.9,119.7 L22.3,118.8 L21.7,117.9 L21.1,117.0 L20.6,116.0 L20.1,115.1 L19.6,114.2 L19.1,113.3 L18.7,112.3 L18.3,111.4 L17.9,110.5 L17.6,109.6 L17.2,108.6 L16.9,107.7 L16.6,106.8 L16.4,105.9 L16.1,104.9 L15.9,104.0 L15.6,103.1 L15.4,102.2 L15.2,101.2 L14.9,100.3 L14.7,99.4 L14.5,98.5 L14.4,97.5 L14.2,96.6 L14.1,95.7 L13.9,94.8 L13.8,93.8 L13.7,92.9 L13.6,92.0 L13.5,91.1 L13.5,90.1 L13.4,89.2 L13.3,88.3 L13.3,87.4 L13.3,86.4 L13.2,85.5 L13.3,84.6 L13.3,83.6 L13.3,82.7 L13.4,81.8 L13.5,80.9 L13.5,79.9 L13.6,79.0 L13.7,78.1 L13.8,77.2 L13.9,76.2 L14.1,75.3 L14.2,74.4 L14.4,73.5 L14.5,72.5 L14.7,71.6 L14.9,70.7 L15.2,69.8 L15.4,68.8 L15.6,67.9 L15.9,67.0 L16.1,66.1 L16.4,65.1 L16.6,64.2 L16.9,63.3 L17.2,62.4 L17.6,61.4 L17.9,60.5 L18.3,59.6 L18.7,58.7 L19.1,57.7 L19.6,56.8 L20.1,55.9 L20.6,55.0 L21.1,54.0 L21.7,53.1 L22.3,52.2 L22.9,51.3 L23.5,50.4 L24.1,49.4 L24.8,48.5 L25.5,47.6 L26.2,46.7 L27.0,45.8 L27.8,44.9 L28.5,43.9 L29.3,43.0 L30.1,42.1 L31.0,41.2 L31.8,40.3 L32.7,39.4 L33.6,38.5 L34.6,37.6 L35.5,36.8 L36.5,35.9 L37.6,35.0 L38.6,34.1 L39.6,33.3 L40.7,32.4 L41.8,31.5 L42.9,30.7 L44.0,29.9 L45.2,29.0 L46.3,28.2 L47.5,27.4 L48.6,26.5 L49.8,25.7 L51.0,24.9 L52.2,24.1 L53.5,23.4 L54.7,22.6 L56.0,21.8 L57.3,21.1 L58.6,20.3 L60.0,19.6 L61.4,18.8 L62.9,18.1 L64.4,17.4 L65.9,16.7 L67.5,16.1 L69.0,15.4 L70.6,14.8 L72.0,14.2 L73.5,13.7 L74.9,13.2 L76.3,12.7 L77.6,12.2 L78.8,11.8 L80.0,11.5 L81.1,11.2 L82.2,10.9 L238.9,10.9 L240.0,11.2 L241.1,11.5 L242.3,11.8 L243.5,12.2 L244.8,12.7 L246.2,13.2 L247.6,13.7 L249.1,14.2 L250.5,14.8 L252.1,15.4 L253.6,16.1 L255.2,16.7 L256.7,17.4 L258.2,18.1 L259.7,18.8 L261.1,19.6 L262.5,20.3 L263.8,21.1 L265.1,21.8 L266.4,22.6 L267.6,23.4 L268.9,24.1 L270.1,24.9 L271.3,25.7 L272.5,26.5 L273.6,27.4 L274.8,28.2 L275.9,29.0 L277.1,29.9 L278.2,30.7 L279.3,31.5 L280.4,32.4 L281.5,33.3 L282.5,34.1 L283.5,35.0 L284.6,35.9 L285.6,36.8 L286.5,37.6 L287.5,38.5 L288.4,39.4 L289.3,40.3 L290.1,41.2 L291.0,42.1 L291.8,43.0 L292.6,43.9 L293.3,44.9 L294.1,45.8 L294.9,46.7 L295.6,47.6 L296.3,48.5 L297.0,49.4 L297.6,50.4 L298.2,51.3 L298.8,52.2 L299.4,53.1 L300.0,54.0 L300.5,55.0 L301.0,55.9 L301.5,56.8 L302.0,57.7 L302.4,58.7 L302.8,59.6 L303.2,60.5 L303.5,61.4 L303.9,62.4 L304.2,63.3 L304.5,64.2 L304.7,65.1 L305.0,66.1 L305.2,67.0 L305.5,67.9 L305.7,68.8 L305.9,69.8 L306.2,70.7 L306.4,71.6 L306.6,72.5 L306.7,73.5 L306.9,74.4 L307.0,75.3 L307.2,76.2 L307.3,77.2 L307.4,78.1 L307.5,79.0 L307.6,79.9 L307.6,80.9 L307.7,81.8 L307.8,82.7 L307.8,83.6 L307.8,84.6 L307.9,85.5 L307.8,86.4 L307.8,87.4 L307.8,88.3 L307.7,89.2 L307.6,90.1 L307.6,91.1 L307.5,92.0 L307.4,92.9 L307.3,93.8 L307.2,94.8 L307.0,95.7 L306.9,96.6 L306.7,97.5 L306.6,98.5 L306.4,99.4 L306.2,100.3 L305.9,101.2 L305.7,102.2 L305.5,103.1 L305.2,104.0 L305.0,104.9 L304.7,105.9 L304.5,106.8 L304.2,107.7 L303.9,108.6 L303.5,109.6 L303.2,110.5 L302.8,111.4 L302.4,112.3 L302.0,113.3 L301.5,114.2 L301.0,115.1 L300.5,116.0 L300.0,117.0 L299.4,117.9 L298.8,118.8 L298.2,119.7 L297.6,120.6 L297.0,121.6 L296.3,122.5 L295.6,123.4 L294.9,124.3 L294.1,125.2 L293.3,126.1 L292.6,127.1 L291.8,128.0 L291.0,128.9 L290.1,129.8 L289.3,130.7 L288.4,131.6 L287.5,132.5 L286.5,133.4 L285.6,134.2 L284.6,135.1 L283.5,136.0 L282.5,136.9 L281.5,137.7 L280.4,138.6 L279.3,139.5 L278.2,140.3 L277.1,141.1 L275.9,142.0 L274.8,142.8 L273.6,143.6 L272.5,144.5 L271.3,145.3 L270.1,146.1 L268.9,146.9 L267.6,147.6 L266.4,148.4 L265.1,149.2 L263.8,149.9 L262.5,150.7 L261.1,151.4 L259.7,152.2 L258.2,152.9 L256.7,153.6 L255.2,154.3 L253.6,154.9 L252.1,155.6 L250.5,156.2 L249.1,156.8 L247.6,157.3 L246.2,157.8 L244.8,158.3 L243.5,158.8 L242.3,159.2 L241.1,159.5 L240.0,159.8 L238.9,160.1Z" fill="none" stroke="#222" stroke-width="1"/></g>
<g transform="translate(316.3,0)"><use href="#landfill"/><g clip-path="url(#landclip)"><path d="M126.1 99.3H127.1M120.8 93.5H121.8M120.8 92.3H121.8M116.7 91.2H117.7M121.8 91.2H122.8M123.8 91.2H124.8M171.8 91.2H172.8M120.7 90.0H123.8M172.8 90.0H173.8M175.9 90.0H176.9M170.8 88.9H171.8M172.8 88.9H173.8M174.9 88.9H177.9M183.0 88.9H184.1M118.6 87.7H119.7M120.7 87.7H121.7M179.0 87.7H180.0M184.1 87.7H185.1M167.7 86.5H169.8M180.0 86.5H181.0M184.1 86.5H185.1M175.9 85.4H176.9M171.8 84.2H172.8M174.9 84.2H175.9M173.8 83.1H174.9M172.8 81.9H174.9M173.8 80.8H175.9M176.9 80.8H178.9M175.9 79.6H176.9M177.9 79.6H178.9M174.8 78.4H175.9" stroke="#2353a0" stroke-width="1.29"/><path d="M118.6 107.4H119.6M127.5 105.0H128.5M120.4 103.9H121.4M125.4 103.9H126.4M127.4 103.9H128.4M121.3 102.7H122.3M125.3 102.7H126.3M117.2 101.6H118.2M123.2 101.6H124.2M125.2 100.4H126.2M119.0 99.3H120.0M125.1 99.3H126.1M124.0 98.1H125.0M115.8 96.9H118.9M124.0 96.9H125.0M171.7 96.9H172.7M114.8 95.8H115.8M117.8 95.8H118.8M122.9 95.8H124.9M112.7 94.6H115.7M119.8 94.6H121.9M122.9 94.6H123.9M117.7 93.5H118.8M119.8 93.5H120.8M123.9 93.5H125.9M115.7 92.3H118.7M119.7 92.3H120.8M121.8 92.3H122.8M124.8 92.3H126.9M113.6 91.2H115.6M117.7 91.2H120.7M124.8 91.2H125.8M172.8 91.2H174.8M176.9 91.2H177.9M181.0 91.2H182.0M114.6 90.0H115.6M119.7 90.0H120.7M124.8 90.0H125.8M170.8 90.0H172.8M173.8 90.0H175.9M178.9 90.0H182.0M115.6 88.9H121.7M125.8 88.9H126.8M169.7 88.9H170.8M171.8 88.9H172.8M173.8 88.9H174.9M178.9 88.9H180.0M181.0 88.9H183.0M184.1 88.9H185.1M117.6 87.7H118.6M119.7 87.7H120.7M123.7 87.7H124.8M169.8 87.7H170.8M172.8 87.7H173.8M180.0 87.7H182.0M183.0 87.7H184.1M116.6 86.5H117.6M119.6 86.5H120.7M121.7 86.5H122.7M169.8 86.5H170.8M174.9 86.5H175.9M176.9 86.5H180.0M182.0 86.5H184.1M116.6 85.4H117.6M167.7 85.4H168.7M169.8 85.4H170.8M174.9 85.4H175.9M176.9 85.4H177.9M180.0 85.4H181.0M183.1 85.4H185.1M175.9 84.2H176.9M181.0 84.2H185.1M170.8 83.1H171.8M179.0 83.1H181.0M184.1 83.1H185.1M169.7 81.9H170.8M175.9 81.9H176.9M181.0 81.9H182.0M183.0 81.9H185.1M171.8 80.8H172.8M175.9 80.8H176.9M178.9 80.8H180.0M181.0 80.8H182.0M172.8 79.6H173.8M174.8 79.6H175.9M176.9 79.6H177.9M178.9 79.6H181.0M182.0 79.6H183.0M175.9 78.4H176.9M177.9 78.4H178.9M184.3 38.2H185.2M195.5 34.9H196.4M195.2 33.8H196.0M183.1 32.7H183.9M181.8 30.6H182.6" stroke="#4a8fcc" stroke-width="1.29"/><path d="M115.7 115.4H116.7M117.7 115.4H118.7M116.3 113.1H117.3M272.4 110.8H273.4M120.7 108.5H121.7M120.6 107.4H121.6M172.5 107.4H173.5M118.5 106.2H122.5M125.5 106.2H126.5M172.6 106.2H174.6M120.4 105.0H121.4M126.5 105.0H127.5M173.6 105.0H174.6M175.6 105.0H176.6M119.3 103.9H120.4M121.4 103.9H122.4M124.4 103.9H125.4M126.4 103.9H127.4M171.6 103.9H172.6M120.3 102.7H121.3M124.3 102.7H125.3M126.3 102.7H128.3M177.7 102.7H178.7M122.2 101.6H123.2M124.2 101.6H126.2M127.2 101.6H128.3M175.7 101.6H176.7M177.7 101.6H178.7M118.1 100.4H125.2M126.2 100.4H127.2M172.7 100.4H173.7M121.0 99.3H122.1M124.1 99.3H125.1M127.1 99.3H128.1M116.9 98.1H117.9M119.0 98.1H120.0M125.0 98.1H127.1M98.6 96.9H99.6M114.8 96.9H115.8M118.9 96.9H121.9M125.0 96.9H127.0M103.6 95.8H104.6M112.7 95.8H114.8M115.8 95.8H117.8M119.9 95.8H121.9M126.0 95.8H127.0M105.6 94.6H106.6M116.8 94.6H117.8M118.8 94.6H119.8M121.9 94.6H122.9M124.9 94.6H126.9M172.8 94.6H173.8M175.8 94.6H176.8M106.5 93.5H107.5M113.7 93.5H115.7M116.7 93.5H117.7M118.8 93.5H119.8M121.8 93.5H123.9M170.7 93.5H171.8M110.6 92.3H111.6M113.6 92.3H115.7M118.7 92.3H119.7M122.8 92.3H123.8M173.8 92.3H174.8M177.9 92.3H179.9M111.5 91.2H112.6M115.6 91.2H116.7M120.7 91.2H121.8M122.8 91.2H123.8M170.8 91.2H171.8M175.9 91.2H176.9M177.9 91.2H178.9M179.9 91.2H181.0M103.3 90.0H104.4M113.6 90.0H114.6M115.6 90.0H119.7M123.8 90.0H124.8M125.8 90.0H126.8M176.9 90.0H177.9M109.4 88.9H110.5M114.6 88.9H115.6M121.7 88.9H125.8M180.0 88.9H181.0M105.3 87.7H106.4M121.7 87.7H123.7M168.7 87.7H169.8M170.8 87.7H172.8M173.8 87.7H176.9M177.9 87.7H179.0M182.0 87.7H183.0M111.5 86.5H112.5M120.7 86.5H121.7M170.8 86.5H173.8M181.0 86.5H182.0M115.5 85.4H116.6M118.6 85.4H119.6M171.8 85.4H172.8M173.8 85.4H174.9M179.0 85.4H180.0M168.7 84.2H171.8M180.0 84.2H181.0M168.7 83.1H169.8M171.8 83.1H173.8M174.9 83.1H175.9M181.0 83.1H182.0M183.0 83.1H184.1M171.8 81.9H172.8M174.9 81.9H175.9M177.9 81.9H181.0M169.7 80.8H171.8M172.8 80.8H173.8M180.0 80.8H181.0M182.0 80.8H183.0M170.8 79.6H172.8M173.8 79.6H174.8M179.9 78.4H182.0M161.6 76.1H162.6M153.4 73.8H154.5M159.5 73.8H160.6M95.5 58.8H96.5M94.8 57.6H95.8M88.2 56.5H89.2M90.2 56.5H91.1M92.4 55.3H93.4M92.7 54.2H93.7M97.6 54.2H98.6M191.9 40.4H192.8M187.2 39.3H188.9M181.6 38.2H183.4M181.4 37.1H182.3M184.9 37.1H185.8M197.1 37.1H198.0M176.9 36.0H177.8M183.8 36.0H184.7M182.7 34.9H183.6M177.4 33.8H178.3M184.2 33.8H185.0M189.3 33.8H190.9M193.5 33.8H194.3M188.9 32.7H190.6M193.1 32.7H193.9M182.8 31.7H184.5M189.4 31.7H190.3M191.1 31.7H191.9M187.5 30.6H188.3" stroke="#8ecbee" stroke-width="1.29"/><path d="M115.2 117.8H116.2M251.2 117.8H252.2M252.7 116.6H253.6M252.1 115.4H254.1M116.5 114.3H118.5M251.5 114.3H252.5M253.5 114.3H254.5M256.4 114.3H257.4M258.4 114.3H259.4M115.4 113.1H116.3M117.3 113.1H118.3M257.8 113.1H258.8M270.6 113.1H271.6M119.1 112.0H120.1M174.4 112.0H175.3M255.2 112.0H257.2M274.9 112.0H275.9M273.4 110.8H274.3M275.3 110.8H276.3M117.9 109.7H118.9M119.8 109.7H120.8M264.8 109.7H265.8M266.8 109.7H267.8M275.7 109.7H276.7M114.8 108.5H115.7M121.7 108.5H122.7M172.5 108.5H173.5M254.1 108.5H255.1M257.1 108.5H258.1M268.1 108.5H269.1M117.6 107.4H118.6M119.6 107.4H120.6M121.6 107.4H122.6M123.6 107.4H124.6M173.5 107.4H178.5M251.4 107.4H252.4M258.4 107.4H259.4M262.4 107.4H263.4M265.4 107.4H267.4M275.3 107.4H276.3M116.5 106.2H117.5M174.6 106.2H178.6M179.6 106.2H180.6M260.6 106.2H261.6M264.6 106.2H265.6M267.6 106.2H268.6M119.4 105.0H120.4M121.4 105.0H122.4M124.5 105.0H126.5M171.6 105.0H173.6M259.8 105.0H260.8M263.8 105.0H265.8M269.9 105.0H270.9M170.6 103.9H171.6M174.6 103.9H175.6M176.6 103.9H178.6M258.0 103.9H259.0M260.0 103.9H261.0M262.0 103.9H263.1M119.3 102.7H120.3M170.6 102.7H171.6M172.6 102.7H173.6M175.7 102.7H176.7M116.1 101.6H117.2M118.2 101.6H122.2M126.2 101.6H127.2M169.6 101.6H173.7M176.7 101.6H177.7M178.7 101.6H179.7M117.1 100.4H118.1M169.6 100.4H171.7M118.0 99.3H119.0M120.0 99.3H121.0M172.7 99.3H173.7M177.8 99.3H178.8M117.9 98.1H119.0M121.0 98.1H124.0M170.7 98.1H173.7M174.8 98.1H176.8M268.1 98.1H269.1M121.9 96.9H124.0M172.7 96.9H174.8M177.8 96.9H179.9M98.5 95.8H99.5M107.7 95.8H108.7M118.8 95.8H119.9M121.9 95.8H122.9M124.9 95.8H126.0M171.7 95.8H173.8M177.8 95.8H178.9M98.4 94.6H99.5M106.6 94.6H107.6M111.7 94.6H112.7M115.7 94.6H116.8M117.8 94.6H118.8M123.9 94.6H124.9M171.8 94.6H172.8M174.8 94.6H175.8M176.8 94.6H177.9M107.5 93.5H109.6M112.6 93.5H113.7M115.7 93.5H116.7M125.9 93.5H126.9M171.8 93.5H172.8M174.8 93.5H178.9M99.3 92.3H100.4M108.5 92.3H109.5M112.6 92.3H113.6M123.8 92.3H124.8M170.8 92.3H171.8M175.9 92.3H177.9M179.9 92.3H181.0M98.3 91.2H99.3M100.3 91.2H102.4M110.5 91.2H111.5M112.6 91.2H113.6M125.8 91.2H126.9M174.8 91.2H175.9M178.9 91.2H179.9M182.0 91.2H183.0M101.3 90.0H103.3M104.4 90.0H105.4M109.5 90.0H110.5M111.5 90.0H113.6M177.9 90.0H178.9M182.0 90.0H184.0M100.2 88.9H101.3M102.3 88.9H104.3M108.4 88.9H109.4M110.5 88.9H114.6M126.8 88.9H127.8M177.9 88.9H178.9M101.2 87.7H102.3M103.3 87.7H104.3M106.4 87.7H107.4M108.4 87.7H110.5M111.5 87.7H113.5M176.9 87.7H177.9M102.3 86.5H104.3M106.3 86.5H107.4M108.4 86.5H109.4M110.4 86.5H111.5M173.8 86.5H174.9M185.1 86.5H186.1M107.4 85.4H108.4M170.8 85.4H171.8M172.8 85.4H173.8M181.0 85.4H183.1M172.8 84.2H174.9M179.0 84.2H180.0M169.8 83.1H170.8M177.9 83.1H179.0M182.0 83.1H183.0M170.8 81.9H171.8M176.9 81.9H177.9M182.0 81.9H183.0M168.7 80.8H169.7M173.8 77.3H175.8M178.9 77.3H179.9M152.4 75.0H154.4M158.5 75.0H160.6M162.6 73.8H163.6M223.5 73.8H224.5M146.4 72.7H147.4M150.4 72.7H151.4M156.5 72.7H157.5M222.4 72.7H223.4M156.5 71.5H157.5M221.2 70.4H222.2M220.9 68.0H223.0M224.0 68.0H225.0M226.0 68.0H227.0M224.7 65.7H225.7M227.7 65.7H228.7M219.6 64.6H221.6M226.6 64.6H227.6M233.6 64.6H234.6M247.6 64.6H248.6M217.1 61.1H218.1M222.9 59.9H223.8M217.7 58.8H218.7M223.6 58.8H224.6M92.8 57.6H93.8M222.4 57.6H223.4M92.1 56.5H94.1M223.1 56.5H224.1M91.8 54.2H92.7M96.0 53.0H96.9M216.8 50.7H217.8M81.0 47.3H81.9M191.2 41.6H192.1M182.9 40.4H183.8M190.1 40.4H191.0M183.6 39.3H184.5M185.4 39.3H187.2M188.9 39.3H189.8M183.4 38.2H184.3M185.2 38.2H188.7M180.6 37.1H181.4M183.2 37.1H184.9M185.8 37.1H188.4M237.2 37.1H238.0M184.7 36.0H187.3M190.7 36.0H191.6M192.4 36.0H194.2M175.9 34.9H176.8M177.6 34.9H178.5M183.6 34.9H185.3M190.4 34.9H191.3M192.1 34.9H193.0M193.8 34.9H195.5M183.3 33.8H184.2M185.0 33.8H185.9M187.6 33.8H189.3M192.6 33.8H193.5M194.3 33.8H195.2M177.2 32.7H178.1M182.3 32.7H183.1M183.9 32.7H185.6M187.3 32.7H188.1M190.6 32.7H192.3M176.2 31.7H177.1M177.9 31.7H178.7M188.6 31.7H189.4M190.3 31.7H191.1M188.3 30.6H189.1M189.9 30.6H190.7M181.5 29.5H182.3M187.2 29.5H188.0M174.9 28.5H175.7M182.0 28.5H182.8" stroke="#c6e6f7" stroke-width="1.29"/><path d="M111.8 129.2H112.7M108.3 126.9H110.1M111.9 126.9H112.8M269.3 123.5H272.1M108.7 122.4H109.6M108.0 120.1H110.0M268.4 120.1H269.4M104.9 118.9H105.8M271.9 118.9H272.8M108.5 117.8H109.4M267.6 117.8H268.6M117.9 116.6H119.8M175.1 116.6H176.1M178.0 116.6H180.9M253.6 116.6H254.6M255.6 116.6H256.5M276.9 116.6H277.9M116.7 115.4H117.7M251.1 115.4H252.1M255.0 115.4H256.0M263.8 115.4H265.8M269.6 115.4H272.6M273.5 115.4H274.5M109.7 114.3H110.7M114.6 114.3H115.5M252.5 114.3H253.5M257.4 114.3H258.4M259.4 114.3H260.3M263.3 114.3H266.2M267.2 114.3H270.1M278.0 114.3H278.9M175.3 113.1H178.2M252.9 113.1H257.8M258.8 113.1H259.8M260.8 113.1H261.7M274.5 113.1H275.5M278.4 113.1H279.4M115.2 112.0H116.2M121.1 112.0H122.1M173.4 112.0H174.4M175.3 112.0H176.3M177.3 112.0H179.3M252.3 112.0H253.2M254.2 112.0H255.2M264.1 112.0H265.1M268.0 112.0H269.0M270.0 112.0H272.0M277.9 112.0H278.9M117.0 110.8H119.0M120.0 110.8H121.0M173.4 110.8H174.4M177.4 110.8H179.4M180.3 110.8H182.3M258.5 110.8H259.5M264.5 110.8H266.4M269.4 110.8H270.4M274.3 110.8H275.3M276.3 110.8H277.3M115.9 109.7H116.9M118.9 109.7H119.8M172.5 109.7H174.4M175.4 109.7H176.4M177.4 109.7H178.4M180.4 109.7H182.4M257.8 109.7H258.8M262.8 109.7H264.8M265.8 109.7H266.8M267.8 109.7H268.8M272.7 109.7H274.7M115.7 108.5H116.7M173.5 108.5H178.5M179.5 108.5H180.5M181.5 108.5H182.5M256.1 108.5H257.1M258.1 108.5H261.1M264.1 108.5H267.1M273.0 108.5H275.0M122.6 107.4H123.6M178.5 107.4H181.5M256.4 107.4H257.4M260.4 107.4H261.4M263.4 107.4H265.4M267.4 107.4H268.4M269.3 107.4H271.3M273.3 107.4H274.3M117.5 106.2H118.5M122.5 106.2H125.5M251.6 106.2H253.6M257.6 106.2H260.6M263.6 106.2H264.6M265.6 106.2H266.6M269.6 106.2H271.6M272.6 106.2H275.6M276.6 106.2H277.6M106.4 105.0H108.4M116.4 105.0H118.4M123.4 105.0H124.5M174.6 105.0H175.6M176.6 105.0H179.6M261.8 105.0H263.8M265.8 105.0H266.8M272.9 105.0H274.9M276.9 105.0H277.9M107.3 103.9H108.3M117.3 103.9H119.3M122.4 103.9H124.4M172.6 103.9H173.6M175.6 103.9H176.6M178.6 103.9H179.6M269.1 103.9H270.1M272.1 103.9H275.1M116.2 102.7H119.3M122.3 102.7H123.3M171.6 102.7H172.6M174.6 102.7H175.7M176.7 102.7H177.7M178.7 102.7H179.7M268.3 102.7H269.3M271.3 102.7H272.3M276.4 102.7H277.4M173.7 101.6H174.7M261.5 101.6H262.5M267.5 101.6H268.5M270.5 101.6H271.6M101.9 100.4H102.9M171.7 100.4H172.7M173.7 100.4H174.7M175.7 100.4H178.7M265.7 100.4H267.7M268.7 100.4H269.7M101.8 99.3H102.8M111.9 99.3H112.9M116.0 99.3H118.0M122.1 99.3H124.1M170.7 99.3H172.7M173.7 99.3H177.8M178.8 99.3H179.8M101.7 98.1H102.7M115.9 98.1H116.9M120.0 98.1H121.0M127.1 98.1H128.1M173.7 98.1H174.8M176.8 98.1H179.8M269.1 98.1H271.1M275.2 98.1H276.2M176.8 96.9H177.8M269.3 96.9H270.3M276.4 96.9H277.4M97.5 95.8H98.5M173.8 95.8H177.8M107.6 94.6H108.6M109.6 94.6H110.7M173.8 94.6H174.8M178.9 94.6H179.9M172.8 93.5H174.8M254.3 93.5H255.3M105.5 92.3H106.5M107.5 92.3H108.5M109.5 92.3H110.6M111.6 92.3H112.6M174.8 92.3H175.9M96.2 91.2H97.3M109.5 91.2H110.5M126.9 91.2H127.9M100.3 90.0H101.3M110.5 90.0H111.5M126.8 90.0H127.9M184.0 90.0H185.1M245.3 90.0H246.4M104.3 88.9H106.4M102.3 87.7H103.3M110.5 87.7H111.5M185.1 87.7H186.1M109.4 86.5H110.4M106.3 85.4H107.4M111.5 85.4H112.5M177.9 85.4H179.0M185.1 85.4H186.1M177.9 84.2H179.0M191.2 84.2H192.3M114.5 83.1H115.6M190.2 83.1H191.2M114.6 81.9H115.6M168.7 81.9H169.7M195.3 81.9H196.3M183.0 80.8H184.0M195.3 80.8H196.3M183.0 79.6H184.0M187.1 79.6H188.1M194.2 79.6H196.3M255.5 79.6H256.5M170.8 78.4H171.8M170.7 77.3H173.8M222.7 77.3H224.8M98.4 76.1H99.5M150.4 76.1H151.4M152.4 76.1H153.4M156.5 76.1H157.5M159.5 76.1H160.6M175.8 76.1H176.8M178.9 76.1H179.9M151.4 75.0H152.4M160.6 75.0H162.6M180.9 75.0H182.9M224.6 75.0H225.6M247.0 75.0H248.0M149.4 73.8H151.4M152.4 73.8H153.4M154.5 73.8H156.5M160.6 73.8H161.6M179.8 73.8H183.9M222.5 73.8H223.5M245.9 73.8H247.9M148.4 72.7H149.4M152.4 72.7H155.5M160.6 72.7H161.6M167.6 72.7H168.7M169.7 72.7H170.7M179.8 72.7H182.9M190.0 72.7H191.0M152.4 71.5H153.5M154.5 71.5H156.5M160.6 71.5H161.6M163.6 71.5H164.6M168.7 71.5H169.7M172.7 71.5H174.7M177.8 71.5H178.8M221.3 71.5H223.3M220.2 70.4H221.2M222.2 70.4H223.2M221.1 69.2H223.1M224.1 69.2H226.1M101.2 68.0H102.2M219.9 68.0H220.9M223.0 68.0H224.0M225.0 68.0H226.0M227.0 68.0H228.0M219.8 66.9H221.8M224.8 66.9H227.9M228.9 66.9H229.9M218.7 65.7H219.7M220.7 65.7H221.7M225.7 65.7H227.7M228.7 65.7H229.7M216.6 64.6H219.6M225.6 64.6H226.6M227.6 64.6H228.6M229.6 64.6H230.6M234.6 64.6H236.6M74.8 63.4H75.7M220.4 63.4H222.4M225.4 63.4H226.4M242.4 63.4H243.4M79.0 62.3H80.0M218.3 62.3H219.3M222.2 62.3H223.2M232.2 62.3H233.2M236.2 62.3H238.2M242.1 62.3H243.1M71.3 61.1H72.3M73.2 61.1H74.2M218.1 61.1H219.1M222.1 61.1H223.1M225.0 61.1H226.0M228.0 61.1H231.0M232.0 61.1H233.0M236.9 61.1H237.9M240.9 61.1H241.9M246.9 61.1H247.9M74.5 59.9H75.5M213.0 59.9H214.9M216.9 59.9H217.9M221.9 59.9H222.9M225.8 59.9H226.8M229.8 59.9H230.8M245.6 59.9H246.6M250.5 59.9H251.5M254.5 59.9H255.5M212.8 58.8H214.7M220.7 58.8H223.6M224.6 58.8H225.6M240.4 58.8H242.3M245.3 58.8H246.3M250.2 58.8H252.2M79.1 57.6H80.1M93.8 57.6H94.8M213.6 57.6H214.5M223.4 57.6H226.3M245.0 57.6H245.9M85.3 56.5H88.2M89.2 56.5H90.2M91.1 56.5H92.1M96.0 56.5H97.0M213.3 56.5H214.3M215.3 56.5H216.3M222.1 56.5H223.1M225.1 56.5H226.0M229.0 56.5H230.0M238.8 56.5H239.7M243.6 56.5H244.6M87.6 55.3H88.5M89.5 55.3H92.4M95.3 55.3H96.3M187.8 55.3H188.8M191.7 55.3H193.6M217.0 55.3H218.0M240.4 55.3H241.3M253.0 55.3H254.0M89.8 54.2H90.8M93.7 54.2H95.7M98.6 54.2H100.5M197.4 54.2H198.3M226.4 54.2H227.4M236.1 54.2H239.0M244.8 54.2H245.8M68.0 53.0H69.0M79.6 53.0H80.6M81.5 53.0H82.5M91.2 53.0H92.1M179.8 53.0H180.8M198.1 53.0H200.1M224.2 53.0H225.1M234.8 53.0H237.7M238.6 53.0H239.6M70.4 51.9H71.4M73.3 51.9H74.3M77.1 51.9H78.1M90.6 51.9H91.5M97.3 51.9H98.2M167.3 51.9H168.2M198.9 51.9H200.8M213.3 51.9H214.2M216.2 51.9H218.1M234.4 51.9H235.3M237.3 51.9H240.1M242.0 51.9H243.0M250.7 51.9H253.6M67.1 50.7H68.1M86.2 50.7H87.1M98.6 50.7H99.5M170.1 50.7H171.0M214.9 50.7H216.8M217.8 50.7H218.7M221.6 50.7H222.5M228.2 50.7H229.2M234.0 50.7H235.9M66.7 49.5H67.6M79.0 49.5H80.0M82.8 49.5H83.8M155.8 49.5H156.8M158.7 49.5H160.6M184.2 49.5H185.2M187.1 49.5H189.0M201.3 49.5H202.3M221.2 49.5H222.2M223.1 49.5H224.1M227.9 49.5H228.8M236.4 49.5H237.3M238.3 49.5H239.2M247.8 49.5H248.7M75.8 48.4H76.7M83.3 48.4H84.2M88.0 48.4H88.9M158.7 48.4H160.6M201.1 48.4H202.9M222.7 48.4H224.6M247.2 48.4H248.2M72.6 47.3H73.5M89.4 47.3H90.4M100.6 47.3H102.5M159.6 47.3H160.6M161.5 47.3H162.4M200.8 47.3H201.7M227.0 47.3H229.8M256.0 47.3H257.0M79.7 46.1H80.6M105.7 46.1H107.6M154.0 46.1H155.0M226.5 46.1H228.4M241.4 46.1H242.3M250.7 46.1H251.6M264.7 46.1H267.4M70.1 45.0H72.0M80.3 45.0H81.2M86.7 45.0H87.6M106.1 45.0H107.0M159.6 45.0H160.6M189.2 45.0H190.1M226.1 45.0H227.9M240.8 45.0H241.8M245.5 45.0H246.4M250.1 45.0H251.0M264.8 45.0H266.7M69.9 43.8H70.8M78.1 43.8H79.0M84.5 43.8H86.3M87.3 43.8H88.2M92.8 43.8H93.7M95.5 43.8H96.4M100.1 43.8H101.9M170.6 43.8H171.5M178.9 43.8H180.7M231.1 43.8H232.9M233.8 43.8H234.8M239.3 43.8H241.2M76.0 42.7H76.9M78.7 42.7H79.6M80.5 42.7H82.4M84.2 42.7H86.0M93.3 42.7H94.2M165.1 42.7H166.0M178.7 42.7H180.6M203.3 42.7H204.2M207.8 42.7H208.7M229.6 42.7H231.5M233.3 42.7H234.2M238.7 42.7H239.6M256.9 42.7H257.8M74.0 41.6H74.9M86.6 41.6H87.5M88.4 41.6H89.3M176.8 41.6H177.7M183.1 41.6H184.9M187.6 41.6H188.5M204.7 41.6H205.7M229.1 41.6H230.9M248.0 41.6H248.9M86.3 40.4H87.2M168.6 40.4H169.5M170.4 40.4H172.2M192.8 40.4H193.7M165.0 39.3H165.9M184.5 39.3H185.4M191.6 39.3H193.4M195.1 39.3H196.0M167.6 38.2H168.5M171.1 38.2H172.0M176.4 38.2H177.3M188.7 38.2H189.6M154.5 37.1H155.3M169.3 37.1H170.1M171.0 37.1H171.9M175.4 37.1H176.2M179.7 37.1H180.6M198.0 37.1H198.9M201.5 37.1H202.3M207.6 37.1H208.4M269.4 37.1H270.3M153.7 36.0H155.4M168.3 36.0H169.2M173.5 36.0H175.2M183.0 36.0H183.8M191.6 36.0H192.4M202.8 36.0H204.5M207.1 36.0H208.8M224.3 36.0H225.2M226.9 36.0H227.8M231.2 36.0H232.1M181.9 34.9H182.7M191.3 34.9H192.1M193.0 34.9H193.8M196.4 34.9H197.2M203.2 34.9H204.9M222.0 34.9H224.5M226.2 34.9H227.1M157.2 33.8H158.0M182.5 33.8H183.3M191.8 33.8H192.6M214.6 33.8H216.3M57.9 32.7H58.7M176.4 32.7H177.2M188.1 32.7H188.9M192.3 32.7H193.1M211.5 32.7H212.3M213.2 32.7H214.8M246.5 32.7H247.4M253.2 32.7H254.1M54.9 31.7H56.5M170.5 31.7H171.3M177.1 31.7H177.9M178.7 31.7H180.4M207.6 31.7H210.1M210.9 31.7H211.7M212.6 31.7H213.4M56.9 30.6H58.6M170.3 30.6H171.2M182.6 30.6H183.4M190.7 30.6H191.6M207.1 30.6H207.9M163.8 29.5H165.4M180.7 29.5H181.5M239.6 29.5H240.4M182.8 28.5H183.6M238.6 28.5H239.4M241.8 28.5H242.6M270.4 28.5H272.0M229.0 27.5H229.7M240.0 27.5H242.3M269.1 27.5H271.4M169.1 26.4H169.9M238.9 26.4H240.5M249.0 26.4H250.6M263.8 26.4H264.5M268.4 26.4H269.2M246.3 25.4H248.6M263.2 25.4H263.9M106.9 24.4H107.7M225.5 24.4H226.3M232.3 24.4H233.8M245.2 24.4H246.7M261.8 24.4H262.5M77.1 23.4H77.9M106.9 23.4H107.7M109.9 23.4H110.6M202.3 23.4H203.0M206.7 23.4H207.5M211.9 23.4H212.7M230.6 23.4H232.0M262.6 23.4H263.3M267.1 23.4H267.8M113.6 22.5H115.0M200.9 22.5H202.4M210.5 22.5H211.9M225.9 22.5H227.3M228.8 22.5H232.5M115.0 21.5H117.2M200.3 21.5H201.0M224.2 21.5H225.6M229.2 21.5H230.7" stroke="#eef6fd" stroke-width="1.29"/><path d="M282.6 128.1H283.5M283.5 126.9H284.4M285.3 125.8H288.1M107.1 123.5H108.1M106.8 122.4H107.7M104.6 121.2H107.4M111.2 121.2H113.1M115.0 121.2H115.9M294.4 121.2H295.3M107.1 120.1H108.0M110.0 120.1H111.9M112.8 120.1H113.8M115.7 120.1H116.6M269.4 120.1H270.3M105.8 118.9H108.7M110.6 118.9H111.6M268.0 118.9H269.0M112.3 117.8H114.2M269.6 117.8H270.5M273.4 117.8H274.4M105.3 116.6H106.3M109.2 116.6H111.1M116.0 116.6H116.9M176.1 116.6H177.0M249.7 116.6H251.7M254.6 116.6H255.6M108.9 115.4H112.8M182.0 115.4H183.0M250.2 115.4H251.1M266.7 115.4H267.7M276.5 115.4H278.4M108.7 114.3H109.7M175.2 114.3H176.2M179.1 114.3H181.1M182.1 114.3H183.1M261.3 114.3H262.3M266.2 114.3H267.2M107.5 113.1H108.5M110.4 113.1H111.4M120.3 113.1H121.3M182.2 113.1H183.1M259.8 113.1H260.8M261.7 113.1H262.7M264.7 113.1H265.7M267.6 113.1H268.6M272.5 113.1H274.5M277.5 113.1H278.4M106.3 112.0H110.3M120.1 112.0H121.1M179.3 112.0H180.3M253.2 112.0H254.2M262.1 112.0H263.1M265.1 112.0H268.0M273.0 112.0H274.0M113.1 110.8H114.0M174.4 110.8H175.4M185.3 110.8H186.3M252.6 110.8H255.5M257.5 110.8H258.5M259.5 110.8H260.5M261.5 110.8H262.5M270.4 110.8H272.4M278.3 110.8H280.3M111.9 109.7H112.9M114.9 109.7H115.9M252.9 109.7H254.9M255.9 109.7H256.8M260.8 109.7H261.8M270.7 109.7H271.7M276.7 109.7H278.7M279.7 109.7H280.7M178.5 108.5H179.5M182.5 108.5H183.4M262.1 108.5H264.1M270.1 108.5H271.1M276.0 108.5H278.0M110.6 107.4H111.6M272.3 107.4H273.3M277.3 107.4H278.3M104.5 106.2H105.5M110.5 106.2H111.5M256.6 106.2H257.6M271.6 106.2H272.6M104.4 105.0H105.4M109.4 105.0H110.4M111.4 105.0H112.4M114.4 105.0H115.4M258.8 105.0H259.8M267.8 105.0H268.8M271.9 105.0H272.9M104.3 103.9H105.3M108.3 103.9H109.3M111.3 103.9H112.3M115.3 103.9H116.3M263.1 103.9H264.1M265.1 103.9H266.1M268.1 103.9H269.1M104.2 102.7H105.2M108.2 102.7H109.2M110.2 102.7H113.2M267.3 102.7H268.3M270.3 102.7H271.3M274.3 102.7H275.4M107.1 101.6H109.1M110.1 101.6H111.1M112.1 101.6H113.1M266.5 101.6H267.5M272.6 101.6H273.6M277.6 101.6H278.6M107.0 100.4H110.0M113.0 100.4H114.0M179.8 100.4H180.8M264.7 100.4H265.7M104.8 99.3H105.9M106.9 99.3H107.9M110.9 99.3H111.9M115.0 99.3H116.0M266.9 99.3H268.9M275.0 99.3H277.0M104.8 98.1H106.8M108.8 98.1H109.8M114.9 98.1H115.9M179.8 98.1H180.8M192.0 98.1H193.0M105.7 96.9H107.7M110.8 96.9H111.8M127.0 96.9H128.0M129.1 96.9H130.1M192.0 96.9H193.1M267.2 96.9H268.2M105.6 95.8H107.7M127.0 95.8H129.0M190.0 95.8H191.1M100.5 94.6H103.5M104.5 94.6H105.6M110.7 94.6H111.7M261.4 94.6H262.4M290.9 94.6H291.9M100.4 93.5H101.4M102.4 93.5H103.5M290.0 93.5H291.0M100.4 92.3H101.4M104.4 92.3H105.5M191.2 92.3H192.2M94.2 91.2H96.2M102.4 91.2H104.4M190.2 91.2H191.2M94.1 90.0H97.2M106.4 90.0H107.4M108.5 90.0H109.5M187.1 90.0H188.1M95.1 88.9H96.2M99.2 88.9H100.2M106.4 88.9H107.4M265.8 88.9H266.8M107.4 87.7H108.4M190.2 87.7H191.2M192.3 86.5H194.3M105.3 85.4H106.3M109.4 85.4H111.5M114.5 85.4H115.5M186.1 85.4H187.1M190.2 85.4H191.2M192.3 85.4H193.3M186.1 84.2H187.1M189.2 84.2H190.2M185.1 81.9H186.1M190.2 81.9H191.2M158.5 80.8H159.5M189.1 80.8H190.2M158.5 79.6H159.5M165.7 79.6H167.7M168.7 79.6H169.7M191.2 79.6H193.2M150.3 78.4H152.4M157.5 78.4H158.5M160.6 78.4H161.6M178.9 78.4H179.9M185.0 78.4H186.1M188.1 78.4H189.1M191.2 78.4H192.2M193.2 78.4H194.2M262.6 78.4H263.6M177.9 77.3H178.9M186.0 77.3H187.0M191.1 77.3H193.2M149.4 76.1H150.4M162.6 76.1H163.6M164.6 76.1H167.7M170.7 76.1H172.8M177.9 76.1H178.9M180.9 76.1H181.9M186.0 76.1H187.0M191.1 76.1H193.1M154.4 75.0H156.5M164.6 75.0H166.7M170.7 75.0H173.8M174.8 75.0H175.8M177.8 75.0H178.9M182.9 75.0H183.9M147.3 73.8H148.4M157.5 73.8H158.5M164.6 73.8H168.7M170.7 73.8H171.7M172.7 73.8H177.8M183.9 73.8H184.9M185.9 73.8H188.0M192.0 73.8H193.1M242.8 73.8H243.8M151.4 72.7H152.4M155.5 72.7H156.5M157.5 72.7H158.5M159.5 72.7H160.6M164.6 72.7H167.6M172.7 72.7H174.7M176.8 72.7H179.8M184.9 72.7H185.9M191.0 72.7H192.0M224.4 72.7H225.5M147.4 71.5H148.4M153.5 71.5H154.5M158.5 71.5H159.5M174.7 71.5H176.8M186.9 71.5H187.9M223.3 71.5H224.3M240.5 71.5H241.6M242.6 71.5H243.6M81.7 70.4H82.7M223.2 70.4H224.2M225.2 70.4H226.2M240.4 70.4H241.4M77.0 68.0H78.0M76.2 66.9H80.2M222.8 66.9H223.8M76.4 65.7H79.4M80.4 65.7H82.4M221.7 65.7H222.7M235.7 65.7H237.7M245.7 65.7H246.8M75.5 64.6H79.5M80.5 64.6H81.5M93.5 64.6H96.5M232.6 64.6H233.6M236.6 64.6H237.6M242.6 64.6H243.6M71.8 63.4H72.8M76.7 63.4H77.7M80.7 63.4H81.7M217.4 63.4H218.4M222.4 63.4H224.4M231.4 63.4H232.4M249.3 63.4H250.3M77.0 62.3H79.0M216.3 62.3H218.3M219.3 62.3H221.2M225.2 62.3H228.2M230.2 62.3H231.2M233.2 62.3H234.2M243.1 62.3H244.1M254.1 62.3H255.1M76.2 61.1H77.2M78.2 61.1H80.2M81.2 61.1H82.2M226.0 61.1H227.0M247.9 61.1H249.8M79.5 59.9H80.4M95.3 59.9H97.3M215.9 59.9H216.9M218.9 59.9H219.9M227.8 59.9H229.8M230.8 59.9H231.8M233.7 59.9H234.7M239.7 59.9H240.7M241.6 59.9H242.6M243.6 59.9H244.6M246.6 59.9H247.6M251.5 59.9H252.5M69.9 58.8H70.9M75.8 58.8H76.8M77.8 58.8H79.7M208.8 58.8H210.8M214.7 58.8H216.7M232.5 58.8H233.5M247.3 58.8H248.3M253.2 58.8H254.2M78.1 57.6H79.1M81.0 57.6H82.0M88.9 57.6H89.9M207.7 57.6H210.6M215.5 57.6H217.5M218.5 57.6H220.4M232.2 57.6H233.2M238.1 57.6H239.1M240.1 57.6H242.0M246.9 57.6H247.9M249.9 57.6H251.8M75.5 56.5H78.4M81.4 56.5H83.3M84.3 56.5H85.3M94.1 56.5H95.1M210.4 56.5H211.4M217.2 56.5H219.2M220.2 56.5H221.2M226.0 56.5H227.0M239.7 56.5H241.7M242.7 56.5H243.6M246.6 56.5H247.6M71.0 55.3H73.0M73.9 55.3H78.8M79.8 55.3H80.7M83.7 55.3H84.6M86.6 55.3H87.6M93.4 55.3H94.4M96.3 55.3H97.3M225.8 55.3H226.7M230.6 55.3H231.6M235.5 55.3H236.5M242.3 55.3H244.2M69.5 54.2H70.5M73.4 54.2H74.3M75.3 54.2H78.2M81.1 54.2H82.1M154.7 54.2H155.7M158.6 54.2H159.6M200.3 54.2H201.2M232.2 54.2H234.2M246.8 54.2H248.7M70.0 53.0H70.9M71.9 53.0H72.8M73.8 53.0H76.7M87.3 53.0H88.3M163.4 53.0H164.4M195.2 53.0H196.2M209.7 53.0H210.7M220.3 53.0H221.3M227.1 53.0H229.9M232.8 53.0H234.8M239.6 53.0H240.5M248.3 53.0H249.2M68.5 51.9H69.5M85.8 51.9H86.7M87.7 51.9H88.6M92.5 51.9H93.4M95.4 51.9H96.3M164.4 51.9H166.3M225.7 51.9H227.7M70.0 50.7H70.9M76.6 50.7H78.5M81.4 50.7H82.4M90.9 50.7H91.9M94.8 50.7H95.7M220.6 50.7H221.6M225.4 50.7H227.3M231.1 50.7H232.1M266.4 50.7H267.3M68.6 49.5H69.5M77.1 49.5H79.0M80.9 49.5H82.8M94.2 49.5H96.1M98.9 49.5H99.9M193.7 49.5H196.6M226.0 49.5H226.9M229.8 49.5H231.6M265.8 49.5H267.7M71.0 48.4H72.0M76.7 48.4H78.6M81.4 48.4H82.4M91.8 48.4H94.6M104.0 48.4H105.0M181.3 48.4H183.2M195.4 48.4H196.4M235.9 48.4H236.9M71.6 47.3H72.6M77.3 47.3H78.2M81.9 47.3H84.7M90.4 47.3H91.3M92.2 47.3H95.0M96.0 47.3H96.9M160.6 47.3H161.5M169.9 47.3H172.7M176.5 47.3H177.4M196.1 47.3H197.1M207.3 47.3H208.3M209.2 47.3H210.2M219.5 47.3H220.5M234.5 47.3H236.4M238.2 47.3H239.2M254.1 47.3H256.0M71.3 46.1H72.2M77.8 46.1H78.8M80.6 46.1H81.5M82.5 46.1H84.3M86.2 46.1H87.1M89.9 46.1H90.8M91.8 46.1H93.6M94.6 46.1H95.5M99.2 46.1H100.1M102.9 46.1H105.7M157.8 46.1H159.6M174.5 46.1H175.4M179.1 46.1H180.1M209.8 46.1H211.7M253.5 46.1H255.4M69.2 45.0H70.1M73.8 45.0H74.7M77.5 45.0H78.4M79.3 45.0H80.3M82.1 45.0H83.0M84.0 45.0H84.9M85.8 45.0H86.7M87.6 45.0H92.3M97.8 45.0H98.7M99.6 45.0H100.6M104.3 45.0H105.2M161.5 45.0H163.3M165.2 45.0H166.1M176.2 45.0H178.1M179.0 45.0H179.9M209.5 45.0H210.4M217.8 45.0H218.7M235.3 45.0H236.2M244.5 45.0H245.5M72.6 43.8H74.4M77.2 43.8H78.1M79.9 43.8H80.9M88.2 43.8H90.0M90.9 43.8H91.8M93.7 43.8H94.6M98.3 43.8H100.1M104.7 43.8H105.6M161.5 43.8H164.2M167.0 43.8H167.9M168.8 43.8H169.7M174.3 43.8H175.2M198.1 43.8H199.0M202.7 43.8H204.5M207.3 43.8H210.0M213.7 43.8H214.6M217.3 43.8H218.3M220.1 43.8H221.9M238.4 43.8H239.3M243.0 43.8H244.8M246.7 43.8H247.6M249.4 43.8H250.3M259.5 43.8H260.4M76.9 42.7H77.8M83.3 42.7H84.2M86.9 42.7H91.5M99.6 42.7H101.5M104.2 42.7H106.9M159.6 42.7H163.3M166.9 42.7H167.8M168.7 42.7H169.6M171.5 42.7H172.4M173.3 42.7H176.0M199.6 42.7H200.6M202.4 42.7H203.3M204.2 42.7H205.1M209.6 42.7H210.6M213.3 42.7H214.2M217.8 42.7H218.7M224.2 42.7H226.0M239.6 42.7H240.6M248.7 42.7H249.6M250.6 42.7H252.4M253.3 42.7H254.2M255.1 42.7H256.0M257.8 42.7H258.7M260.6 42.7H261.5M74.9 41.6H75.8M82.1 41.6H84.8M89.3 41.6H91.1M95.6 41.6H96.5M99.2 41.6H103.7M104.6 41.6H106.4M110.9 41.6H111.8M112.7 41.6H113.6M120.9 41.6H122.7M157.8 41.6H160.6M161.5 41.6H162.4M163.3 41.6H164.2M166.0 41.6H169.6M171.4 41.6H176.8M179.5 41.6H181.3M192.1 41.6H193.0M196.6 41.6H197.5M198.4 41.6H200.2M202.9 41.6H204.7M205.7 41.6H206.6M207.5 41.6H208.4M212.0 41.6H216.5M218.3 41.6H219.2M224.6 41.6H225.5M238.1 41.6H239.0M247.1 41.6H248.0M248.9 41.6H250.8M251.7 41.6H252.6M254.4 41.6H256.2M257.1 41.6H258.0M259.8 41.6H261.6M75.6 40.4H77.3M82.7 40.4H84.5M85.4 40.4H86.3M88.1 40.4H89.0M89.9 40.4H95.2M97.9 40.4H101.5M104.2 40.4H107.8M110.4 40.4H111.3M112.2 40.4H114.0M119.4 40.4H120.3M159.7 40.4H160.6M161.4 40.4H164.1M167.7 40.4H168.6M172.2 40.4H174.9M176.7 40.4H177.5M178.4 40.4H180.2M188.3 40.4H189.2M197.2 40.4H198.1M199.0 40.4H199.9M203.5 40.4H204.4M205.3 40.4H206.2M207.1 40.4H208.0M209.8 40.4H211.5M214.2 40.4H215.1M216.0 40.4H216.9M225.0 40.4H225.9M231.2 40.4H232.1M233.0 40.4H234.8M241.1 40.4H242.0M247.3 40.4H249.1M251.8 40.4H252.7M253.6 40.4H254.5M73.6 39.3H75.4M77.2 39.3H78.9M86.0 39.3H86.9M87.8 39.3H88.7M91.4 39.3H93.1M94.0 39.3H94.9M97.6 39.3H99.3M100.2 39.3H101.1M108.2 39.3H111.8M112.7 39.3H115.3M119.7 39.3H121.5M162.3 39.3H163.2M165.9 39.3H166.8M172.1 39.3H175.6M179.2 39.3H180.1M181.8 39.3H183.6M189.8 39.3H191.6M193.4 39.3H194.3M196.9 39.3H199.6M206.7 39.3H207.6M211.1 39.3H212.9M214.7 39.3H216.4M219.1 39.3H220.0M230.6 39.3H232.4M243.9 39.3H244.8M258.1 39.3H259.0M70.9 38.2H71.8M74.4 38.2H76.2M78.8 38.2H80.6M93.7 38.2H96.4M97.3 38.2H98.1M99.9 38.2H103.4M106.1 38.2H108.7M112.2 38.2H114.0M114.8 38.2H118.4M160.6 38.2H161.4M168.5 38.2H169.3M172.9 38.2H173.7M178.1 38.2H179.9M189.6 38.2H193.1M194.0 38.2H194.8M195.7 38.2H196.6M198.3 38.2H199.2M206.3 38.2H207.1M210.7 38.2H211.5M214.2 38.2H215.0M217.7 38.2H219.4M236.1 38.2H237.0M244.1 38.2H244.9M246.7 38.2H248.5M249.3 38.2H250.2M252.0 38.2H253.7M256.4 38.2H257.2M70.9 37.1H71.7M72.6 37.1H73.5M75.2 37.1H76.1M98.7 37.1H100.5M101.3 37.1H102.2M106.6 37.1H107.4M109.2 37.1H110.1M112.7 37.1H113.5M114.4 37.1H117.9M158.8 37.1H161.4M164.0 37.1H165.8M166.6 37.1H168.4M173.6 37.1H174.5M182.3 37.1H183.2M188.4 37.1H190.2M191.9 37.1H193.6M194.5 37.1H197.1M203.2 37.1H205.0M206.7 37.1H207.6M208.4 37.1H209.3M211.0 37.1H212.8M225.9 37.1H226.7M234.6 37.1H235.4M236.3 37.1H237.2M244.1 37.1H247.6M281.6 37.1H282.4M72.6 36.0H73.5M76.1 36.0H77.8M98.5 36.0H99.3M100.2 36.0H101.1M102.8 36.0H103.7M108.0 36.0H110.5M111.4 36.0H112.3M114.9 36.0H118.3M120.9 36.0H121.8M158.8 36.0H160.6M171.8 36.0H172.6M178.7 36.0H181.2M182.1 36.0H183.0M189.9 36.0H190.7M194.2 36.0H197.6M211.4 36.0H212.3M219.2 36.0H220.9M222.6 36.0H223.5M226.1 36.0H226.9M229.5 36.0H230.4M235.6 36.0H236.4M238.1 36.0H239.0M241.6 36.0H243.3M245.0 36.0H245.9M248.5 36.0H249.3M253.7 36.0H255.4M74.4 34.9H76.1M76.9 34.9H78.6M100.8 34.9H101.7M109.4 34.9H110.2M111.1 34.9H112.8M113.6 34.9H117.0M178.5 34.9H180.2M187.0 34.9H187.9M197.2 34.9H198.1M219.4 34.9H220.3M224.5 34.9H226.2M234.8 34.9H235.6M241.6 34.9H242.5M243.3 34.9H244.2M252.7 34.9H254.4M71.1 33.8H71.9M74.4 33.8H76.1M77.8 33.8H78.7M110.7 33.8H111.6M179.1 33.8H180.0M181.7 33.8H182.5M185.9 33.8H186.7M216.3 33.8H217.1M218.0 33.8H218.8M223.0 33.8H226.4M227.2 33.8H228.1M228.9 33.8H229.8M234.0 33.8H234.8M239.9 33.8H240.7M242.4 33.8H243.3M246.7 33.8H247.5M249.2 33.8H250.0M250.9 33.8H251.7M71.2 32.7H77.1M79.6 32.7H82.1M110.5 32.7H113.0M114.6 32.7H115.5M178.1 32.7H182.3M185.6 32.7H187.3M196.5 32.7H197.3M214.8 32.7H215.7M218.2 32.7H219.0M222.3 32.7H224.0M224.8 32.7H225.7M227.3 32.7H228.2M233.2 32.7H234.9M242.4 32.7H243.2M245.7 32.7H246.5M56.5 31.7H57.4M69.7 31.7H70.6M72.2 31.7H74.7M77.2 31.7H78.0M82.1 31.7H83.0M111.0 31.7H113.5M116.8 31.7H117.6M180.4 31.7H181.2M186.1 31.7H187.8M193.6 31.7H194.4M215.9 31.7H217.5M218.3 31.7H219.2M220.0 31.7H220.8M221.6 31.7H223.3M228.2 31.7H231.5M233.2 31.7H234.8M239.8 31.7H240.6M244.8 31.7H245.6M55.3 30.6H56.1M59.4 30.6H61.0M67.5 30.6H70.8M71.6 30.6H73.2M74.1 30.6H76.5M78.1 30.6H81.4M83.9 30.6H84.7M110.8 30.6H111.6M183.4 30.6H185.0M186.7 30.6H187.5M198.9 30.6H199.7M214.4 30.6H216.8M218.5 30.6H221.7M227.5 30.6H229.1M231.5 30.6H232.4M233.2 30.6H235.6M244.6 30.6H245.4M254.4 30.6H255.2M59.0 29.5H62.2M63.0 29.5H64.6M66.2 29.5H67.0M67.8 29.5H71.1M71.9 29.5H74.3M75.1 29.5H76.7M77.5 29.5H78.3M79.9 29.5H84.0M84.8 29.5H85.6M86.4 29.5H87.2M96.9 29.5H98.5M174.3 29.5H175.1M186.3 29.5H187.2M200.9 29.5H201.7M218.6 29.5H220.2M221.0 29.5H222.6M225.9 29.5H228.3M229.1 29.5H229.9M230.7 29.5H232.3M233.9 29.5H235.5M245.2 29.5H246.8M247.6 29.5H248.4M258.9 29.5H259.7M56.2 28.5H57.0M58.6 28.5H62.6M63.4 28.5H65.0M66.6 28.5H69.8M70.6 28.5H71.4M73.8 28.5H76.1M79.3 28.5H80.1M80.9 28.5H88.1M89.7 28.5H90.5M92.9 28.5H96.1M97.6 28.5H98.4M99.2 28.5H100.8M167.7 28.5H169.3M174.1 28.5H174.9M186.8 28.5H187.6M217.9 28.5H218.7M219.5 28.5H225.0M225.8 28.5H226.6M227.4 28.5H233.0M59.1 27.5H59.9M61.5 27.5H62.3M63.1 27.5H63.8M67.0 27.5H67.8M68.6 27.5H70.9M71.7 27.5H73.3M74.1 27.5H76.4M80.4 27.5H83.5M84.3 27.5H88.2M89.0 27.5H92.9M96.1 27.5H96.9M99.2 27.5H100.8M102.4 27.5H103.9M106.3 27.5H107.1M114.2 27.5H115.7M172.3 27.5H173.1M184.1 27.5H184.9M217.9 27.5H221.1M221.9 27.5H224.2M226.6 27.5H227.4M230.5 27.5H232.1M232.9 27.5H233.7M237.6 27.5H238.4M244.7 27.5H246.3M61.2 26.4H64.3M68.2 26.4H69.0M71.3 26.4H72.1M72.9 26.4H78.3M79.8 26.4H82.2M83.7 26.4H86.8M87.6 26.4H88.4M89.1 26.4H92.3M93.0 26.4H93.8M95.4 26.4H97.7M99.2 26.4H104.7M107.0 26.4H108.6M113.2 26.4H115.5M171.4 26.4H173.7M191.6 26.4H192.4M198.6 26.4H199.4M217.2 26.4H218.8M219.5 26.4H224.2M225.0 26.4H225.7M226.5 26.4H227.3M228.1 26.4H228.8M230.4 26.4H232.0M61.8 25.4H62.5M63.3 25.4H64.1M70.2 25.4H71.0M71.7 25.4H74.0M74.8 25.4H76.3M77.1 25.4H78.6M80.9 25.4H81.7M82.4 25.4H84.0M84.7 25.4H86.3M88.6 25.4H90.9M96.2 25.4H98.5M100.1 25.4H101.6M103.9 25.4H105.4M108.5 25.4H109.2M115.4 25.4H116.9M179.7 25.4H181.2M189.7 25.4H190.4M219.5 25.4H220.3M221.0 25.4H221.8M222.6 25.4H223.3M224.1 25.4H225.6M226.4 25.4H227.2M227.9 25.4H230.2M231.8 25.4H232.5M251.7 25.4H254.0M65.4 24.4H66.1M67.6 24.4H69.1M71.4 24.4H73.7M75.9 24.4H77.5M78.2 24.4H82.0M82.7 24.4H86.5M88.0 24.4H91.1M96.3 24.4H97.1M97.9 24.4H98.6M99.4 24.4H101.6M103.9 24.4H105.4M108.4 24.4H109.2M170.4 24.4H171.9M178.7 24.4H180.2M190.0 24.4H190.8M215.7 24.4H217.2M218.0 24.4H219.5M220.2 24.4H221.7M222.5 24.4H223.2M224.8 24.4H225.5M226.3 24.4H227.8M228.5 24.4H229.3M252.0 24.4H254.2M256.5 24.4H258.0M62.2 23.4H63.0M71.9 23.4H72.7M73.4 23.4H74.9M76.4 23.4H77.1M80.1 23.4H81.6M82.3 23.4H83.1M83.8 23.4H88.3M89.8 23.4H92.0M94.3 23.4H95.8M101.0 23.4H101.7M106.2 23.4H106.9M170.2 23.4H171.7M177.7 23.4H179.2M214.9 23.4H215.7M218.6 23.4H219.4M221.6 23.4H223.1M223.9 23.4H224.6M233.5 23.4H234.3M251.4 23.4H252.9M254.4 23.4H255.9M69.5 22.5H70.3M72.5 22.5H74.7M85.0 22.5H86.4M91.6 22.5H92.3M93.0 22.5H93.8M97.4 22.5H98.2M99.6 22.5H101.1M112.8 22.5H113.6M215.6 22.5H217.1M221.5 22.5H222.2M225.1 22.5H225.9M253.0 22.5H254.5M93.3 21.5H94.0M95.5 21.5H96.2M97.7 21.5H99.1M117.9 21.5H118.6M191.6 21.5H192.4M214.8 21.5H216.9M220.6 21.5H221.3M242.2 21.5H243.0M205.4 20.6H206.1" stroke="#fdf5d1" stroke-width="1.29"/><path d="M270.6 121.2H271.6M111.9 120.1H112.8M271.3 120.1H274.1M112.6 118.9H113.5M272.8 118.9H274.8M110.4 117.8H111.3M270.5 117.8H272.5M276.3 117.8H277.3M106.3 116.6H107.2M112.1 116.6H113.0M115.0 116.6H116.0M275.0 116.6H275.9M112.8 115.4H115.7M111.6 114.3H112.6M113.6 114.3H114.6M183.1 114.3H184.0M108.5 113.1H110.4M113.4 113.1H114.4M119.3 113.1H120.3M280.4 113.1H281.4M110.3 112.0H112.2M114.2 112.0H115.2M182.2 112.0H186.2M275.9 112.0H276.9M109.1 110.8H111.1M182.3 110.8H184.3M268.4 110.8H269.4M113.9 109.7H114.9M182.4 109.7H183.4M271.7 109.7H272.7M109.8 108.5H111.8M112.8 108.5H114.8M112.6 107.4H113.6M115.6 107.4H116.6M279.3 107.4H281.3M113.5 106.2H115.5M181.6 106.2H183.6M187.6 106.2H188.6M115.4 105.0H116.4M180.6 105.0H181.6M106.3 103.9H107.3M110.3 103.9H111.3M114.2 102.7H115.2M180.7 102.7H181.7M188.7 102.7H189.8M263.3 102.7H264.3M115.1 101.6H116.1M180.7 101.6H181.7M185.8 101.6H186.8M263.5 101.6H264.5M271.6 101.6H272.6M274.6 101.6H275.6M110.0 100.4H111.0M112.0 100.4H113.0M187.8 100.4H188.9M260.6 100.4H261.7M263.7 100.4H264.7M274.8 100.4H276.8M112.9 99.3H114.0M128.1 99.3H129.2M184.9 99.3H185.9M262.8 99.3H263.9M265.9 99.3H266.9M112.9 98.1H113.9M266.1 98.1H267.1M111.8 96.9H112.8M128.0 96.9H129.1M179.9 96.9H180.9M189.0 95.8H190.0M126.9 94.6H128.0M129.0 94.6H130.0M179.9 94.6H180.9M183.0 94.6H184.0M104.5 93.5H105.5M126.9 93.5H127.9M130.0 93.5H132.0M182.0 93.5H183.0M184.0 93.5H185.0M187.1 93.5H188.1M191.1 93.5H192.1M276.8 93.5H277.8M127.9 92.3H131.0M188.1 92.3H189.1M249.3 92.3H251.3M274.8 92.3H275.8M104.4 91.2H105.4M184.0 91.2H185.1M247.3 91.2H248.3M273.9 91.2H274.9M278.0 91.2H279.0M128.9 90.0H130.9M185.1 90.0H186.1M187.1 88.9H188.1M192.2 88.9H193.3M263.8 88.9H264.8M100.2 87.7H101.2M186.1 87.7H187.1M189.2 87.7H190.2M101.2 86.5H102.3M186.1 86.5H187.1M189.2 86.5H190.2M191.2 86.5H192.3M113.5 85.4H114.5M188.2 85.4H190.2M191.2 85.4H192.3M193.3 85.4H194.3M188.1 81.9H189.2M193.3 81.9H195.3M190.2 80.8H193.2M194.3 80.8H195.3M157.5 79.6H158.5M160.6 79.6H162.6M163.6 79.6H164.6M193.2 79.6H194.2M158.5 78.4H159.5M161.6 78.4H162.6M164.6 78.4H166.7M189.1 78.4H190.1M149.3 77.3H152.4M154.4 77.3H155.5M160.6 77.3H163.6M164.6 77.3H165.6M169.7 77.3H170.7M190.1 77.3H191.1M195.2 77.3H196.2M154.4 76.1H156.5M168.7 76.1H170.7M185.0 76.1H186.0M187.0 76.1H188.0M148.3 75.0H150.4M162.6 75.0H164.6M166.7 75.0H167.7M176.8 75.0H177.8M178.9 75.0H180.9M187.0 75.0H188.0M189.0 75.0H190.0M151.4 73.8H152.4M171.7 73.8H172.7M177.8 73.8H178.8M184.9 73.8H185.9M188.0 73.8H189.0M158.5 72.7H159.5M171.7 72.7H172.7M175.8 72.7H176.8M185.9 72.7H187.9M242.7 72.7H245.7M243.6 71.5H245.6M247.6 71.5H248.6M82.7 70.4H83.7M237.4 70.4H238.4M239.4 70.4H240.4M258.6 70.4H259.6M82.9 69.2H83.9M240.2 69.2H241.2M78.0 68.0H79.0M240.1 68.0H241.1M223.8 66.9H224.8M79.4 65.7H80.4M243.7 65.7H245.7M248.8 65.7H249.8M231.6 64.6H232.6M248.6 64.6H250.6M251.6 64.6H252.6M81.7 63.4H82.7M229.4 63.4H231.4M235.4 63.4H237.4M241.4 63.4H242.4M247.3 63.4H249.3M250.3 63.4H251.3M252.3 63.4H253.3M240.2 62.3H242.1M244.1 62.3H245.1M247.1 62.3H249.1M251.1 62.3H253.1M77.2 61.1H78.2M231.0 61.1H232.0M237.9 61.1H239.9M241.9 61.1H243.9M249.8 61.1H252.8M253.8 61.1H255.8M77.5 59.9H78.5M238.7 59.9H239.7M242.6 59.9H243.6M248.6 59.9H249.6M72.8 58.8H73.8M74.8 58.8H75.8M76.8 58.8H77.8M79.7 58.8H80.7M234.5 58.8H235.4M236.4 58.8H237.4M239.4 58.8H240.4M243.3 58.8H245.3M237.1 57.6H238.1M247.9 57.6H249.9M83.3 56.5H84.3M247.6 56.5H249.5M250.5 56.5H252.4M73.0 55.3H73.9M238.4 55.3H239.4M247.2 55.3H249.1M250.1 55.3H253.0M248.7 54.2H250.6M245.4 53.0H247.3M249.2 53.0H250.2M92.9 50.7H93.8M96.7 50.7H97.6M93.2 49.5H94.2M82.4 48.4H83.3M246.3 48.4H247.2M205.5 47.3H206.4M218.6 47.3H219.5M253.2 47.3H254.1M87.1 46.1H88.0M90.8 46.1H91.8M100.1 46.1H101.1M162.4 46.1H163.3M204.2 46.1H205.2M211.7 46.1H212.6M98.7 45.0H99.6M173.5 45.0H174.4M196.5 45.0H197.5M203.0 45.0H203.9M204.8 45.0H206.7M208.5 45.0H209.5M210.4 45.0H213.2M257.5 45.0H258.4M75.4 43.8H76.3M90.0 43.8H90.9M106.5 43.8H107.4M173.4 43.8H174.3M201.8 43.8H202.7M204.5 43.8H205.4M210.9 43.8H211.8M236.6 43.8H237.5M250.3 43.8H251.2M252.2 43.8H254.0M256.7 43.8H257.7M103.3 42.7H104.2M106.9 42.7H108.7M172.4 42.7H173.3M195.1 42.7H196.0M197.8 42.7H199.6M206.0 42.7H207.8M210.6 42.7H212.4M214.2 42.7H216.0M243.3 42.7H245.1M246.0 42.7H246.9M254.2 42.7H255.1M259.6 42.7H260.6M103.7 41.6H104.6M107.3 41.6H110.9M111.8 41.6H112.7M160.6 41.6H161.5M194.8 41.6H195.7M197.5 41.6H198.4M201.1 41.6H202.0M206.6 41.6H207.5M210.2 41.6H212.0M239.9 41.6H240.8M245.3 41.6H247.1M252.6 41.6H254.4M89.0 40.4H89.9M102.4 40.4H104.2M109.6 40.4H110.4M166.8 40.4H167.7M174.9 40.4H175.8M180.2 40.4H181.1M194.5 40.4H195.4M196.3 40.4H197.2M198.1 40.4H199.0M200.8 40.4H201.7M202.6 40.4H203.5M204.4 40.4H205.3M206.2 40.4H207.1M208.9 40.4H209.8M213.3 40.4H214.2M230.3 40.4H231.2M238.4 40.4H239.3M243.8 40.4H245.5M250.9 40.4H251.8M254.5 40.4H255.4M259.0 40.4H260.8M72.7 39.3H73.6M78.9 39.3H79.8M102.0 39.3H103.8M104.7 39.3H108.2M111.8 39.3H112.7M161.4 39.3H162.3M178.3 39.3H179.2M200.5 39.3H201.4M202.2 39.3H206.7M207.6 39.3H208.4M212.9 39.3H214.7M234.2 39.3H235.1M239.5 39.3H240.4M241.3 39.3H242.2M243.0 39.3H243.9M246.6 39.3H247.5M254.6 39.3H255.5M257.2 39.3H258.1M259.0 39.3H259.9M77.0 38.2H77.9M96.4 38.2H97.3M98.1 38.2H99.0M103.4 38.2H106.1M109.6 38.2H112.2M159.7 38.2H160.6M194.8 38.2H195.7M200.1 38.2H201.0M202.7 38.2H205.4M207.1 38.2H208.0M208.9 38.2H209.8M212.4 38.2H213.3M237.9 38.2H238.8M244.9 38.2H245.8M248.5 38.2H249.3M77.8 37.1H78.7M83.9 37.1H85.7M86.5 37.1H87.4M88.3 37.1H89.2M105.7 37.1H106.6M107.4 37.1H109.2M110.9 37.1H112.7M113.5 37.1H114.4M155.3 37.1H156.2M190.2 37.1H191.0M193.6 37.1H194.5M198.9 37.1H200.6M202.3 37.1H203.2M230.2 37.1H231.1M238.0 37.1H238.9M239.8 37.1H240.7M241.5 37.1H242.4M249.4 37.1H252.8M253.7 37.1H254.6M255.5 37.1H257.2M71.8 36.0H72.6M75.2 36.0H76.1M77.8 36.0H78.7M79.5 36.0H80.4M82.1 36.0H83.0M84.7 36.0H86.4M95.9 36.0H96.8M101.1 36.0H102.8M112.3 36.0H114.9M167.4 36.0H168.3M177.8 36.0H178.7M199.3 36.0H200.2M225.2 36.0H226.1M232.1 36.0H233.0M237.3 36.0H238.1M239.0 36.0H241.6M243.3 36.0H244.2M245.9 36.0H246.8M258.8 36.0H259.7M71.0 34.9H71.8M73.5 34.9H74.4M76.1 34.9H76.9M78.6 34.9H80.3M81.2 34.9H82.1M83.8 34.9H86.3M96.6 34.9H97.4M98.3 34.9H100.0M102.5 34.9H103.4M107.6 34.9H109.4M180.2 34.9H181.0M189.6 34.9H190.4M217.7 34.9H218.6M230.5 34.9H231.4M232.2 34.9H233.1M244.2 34.9H246.7M248.4 34.9H250.1M251.8 34.9H252.7M71.9 33.8H72.8M73.6 33.8H74.4M76.1 33.8H77.0M78.7 33.8H82.0M83.7 33.8H84.6M85.4 33.8H86.3M87.1 33.8H89.6M90.5 33.8H91.3M109.1 33.8H109.9M112.4 33.8H113.3M118.3 33.8H119.2M180.0 33.8H181.7M186.7 33.8H187.6M197.7 33.8H198.5M217.1 33.8H218.0M220.5 33.8H221.3M229.8 33.8H232.3M234.8 33.8H236.5M240.7 33.8H241.6M248.3 33.8H249.2M57.0 32.7H57.9M77.1 32.7H78.7M82.1 32.7H83.7M87.9 32.7H90.4M96.3 32.7H97.1M113.0 32.7H113.8M117.1 32.7H118.0M215.7 32.7H217.3M219.8 32.7H221.5M224.0 32.7H224.8M225.7 32.7H227.3M228.2 32.7H229.0M230.7 32.7H233.2M238.2 32.7H239.0M239.9 32.7H242.4M244.9 32.7H245.7M74.7 31.7H77.2M78.0 31.7H79.6M80.5 31.7H82.1M83.0 31.7H83.8M86.3 31.7H87.1M92.9 31.7H93.7M96.2 31.7H98.6M181.2 31.7H182.8M185.3 31.7H186.1M199.3 31.7H200.2M204.3 31.7H205.1M206.0 31.7H206.8M213.4 31.7H215.0M217.5 31.7H218.3M224.1 31.7H225.8M226.6 31.7H227.4M231.5 31.7H232.4M239.0 31.7H239.8M240.6 31.7H241.5M242.3 31.7H243.1M245.6 31.7H248.1M54.5 30.6H55.3M61.8 30.6H62.6M73.2 30.6H74.1M76.5 30.6H78.1M82.2 30.6H83.9M84.7 30.6H88.7M89.6 30.6H91.2M92.0 30.6H95.3M96.1 30.6H98.5M180.9 30.6H181.8M185.0 30.6H186.7M192.4 30.6H193.2M195.6 30.6H196.5M213.6 30.6H214.4M217.7 30.6H218.5M221.7 30.6H225.0M226.6 30.6H227.5M229.1 30.6H230.7M237.2 30.6H238.1M238.9 30.6H240.5M241.3 30.6H243.8M253.6 30.6H254.4M55.7 29.5H56.6M58.2 29.5H59.0M65.4 29.5H66.2M67.0 29.5H67.8M71.1 29.5H71.9M74.3 29.5H75.1M76.7 29.5H77.5M78.3 29.5H79.1M85.6 29.5H86.4M87.2 29.5H88.8M90.4 29.5H95.2M96.1 29.5H96.9M98.5 29.5H100.1M168.6 29.5H169.4M183.9 29.5H185.5M201.7 29.5H202.5M205.7 29.5H206.5M214.6 29.5H217.0M217.8 29.5H218.6M222.6 29.5H225.9M228.3 29.5H229.1M232.3 29.5H233.1M235.5 29.5H236.3M237.9 29.5H238.7M242.8 29.5H243.6M254.1 29.5H254.9M57.8 28.5H58.6M65.0 28.5H66.6M71.4 28.5H72.2M76.1 28.5H77.7M78.5 28.5H79.3M80.1 28.5H80.9M88.1 28.5H89.7M90.5 28.5H92.9M96.1 28.5H97.6M100.8 28.5H101.6M200.4 28.5H201.2M216.3 28.5H217.9M233.0 28.5H237.0M241.0 28.5H241.8M242.6 28.5H243.4M59.9 27.5H61.5M62.3 27.5H63.1M63.8 27.5H67.0M70.9 27.5H71.7M73.3 27.5H74.1M77.2 27.5H79.6M83.5 27.5H84.3M88.2 27.5H89.0M92.9 27.5H96.1M96.9 27.5H98.4M100.8 27.5H101.6M199.1 27.5H199.9M212.4 27.5H213.2M215.6 27.5H216.4M217.2 27.5H217.9M227.4 27.5H229.0M229.7 27.5H230.5M232.1 27.5H232.9M59.7 26.4H60.4M66.6 26.4H67.4M69.0 26.4H70.5M78.3 26.4H79.1M82.2 26.4H82.9M86.8 26.4H87.6M93.8 26.4H95.4M97.7 26.4H99.2M104.7 26.4H105.4M193.9 26.4H194.7M197.8 26.4H198.6M202.5 26.4H204.0M211.0 26.4H211.8M216.4 26.4H217.2M218.8 26.4H219.5M227.3 26.4H228.1M229.6 26.4H230.4M232.0 26.4H232.7M234.3 26.4H235.1M236.6 26.4H237.4M62.5 25.4H63.3M64.1 25.4H67.1M67.9 25.4H70.2M71.0 25.4H71.7M76.3 25.4H77.1M78.6 25.4H79.4M80.1 25.4H80.9M81.7 25.4H82.4M86.3 25.4H87.0M91.6 25.4H92.4M94.7 25.4H96.2M99.3 25.4H100.1M101.6 25.4H102.3M190.4 25.4H191.9M198.1 25.4H198.8M209.6 25.4H210.3M211.9 25.4H212.6M214.9 25.4H215.7M216.5 25.4H219.5M225.6 25.4H226.4M227.2 25.4H227.9M233.3 25.4H234.1M61.6 24.4H62.4M64.6 24.4H65.4M69.1 24.4H71.4M73.7 24.4H75.2M86.5 24.4H88.0M92.6 24.4H96.3M97.1 24.4H97.9M98.6 24.4H99.4M101.6 24.4H103.1M196.8 24.4H197.6M210.4 24.4H211.2M217.2 24.4H218.0M224.0 24.4H224.8M235.3 24.4H236.1M239.9 24.4H240.6M68.9 23.4H69.7M70.4 23.4H71.2M72.7 23.4H73.4M74.9 23.4H75.6M81.6 23.4H82.3M88.3 23.4H89.8M92.8 23.4H94.3M111.4 23.4H112.1M203.0 23.4H203.7M213.4 23.4H214.2M215.7 23.4H216.4M67.3 22.5H68.1M94.5 22.5H96.0M106.2 22.5H107.0M89.0 21.5H89.7M94.8 21.5H95.5M99.1 21.5H99.8M108.5 21.5H109.2M206.1 21.5H206.8M208.3 21.5H209.0" stroke="#fed27c" stroke-width="1.29"/><path d="M113.5 118.9H114.5M274.8 118.9H275.7M275.4 117.8H276.3M113.0 116.6H115.0M275.5 115.4H276.5M278.4 115.4H279.4M112.6 114.3H113.6M275.0 114.3H276.0M111.4 113.1H113.4M118.3 113.1H119.3M183.1 113.1H184.1M275.5 113.1H277.5M279.9 112.0H281.8M111.1 110.8H113.1M114.0 110.8H116.0M184.3 110.8H185.3M280.3 110.8H282.3M183.4 109.7H184.4M185.4 109.7H186.4M281.7 109.7H282.7M281.0 108.5H282.0M111.6 107.4H112.6M185.5 107.4H186.5M109.5 106.2H110.5M111.5 106.2H112.5M184.6 106.2H185.6M197.6 106.2H198.6M278.6 106.2H280.6M108.4 105.0H109.4M110.4 105.0H111.4M112.4 105.0H114.4M182.6 105.0H187.6M278.9 105.0H279.9M180.6 103.9H186.7M113.2 102.7H114.2M181.7 102.7H182.7M184.7 102.7H185.7M114.1 101.6H115.1M181.7 101.6H185.8M259.4 101.6H261.5M264.5 101.6H265.5M115.1 100.4H116.1M182.8 100.4H183.8M190.9 100.4H191.9M261.7 100.4H263.7M276.8 100.4H277.8M109.9 99.3H110.9M114.0 99.3H115.0M180.8 99.3H181.8M189.9 99.3H190.9M277.0 99.3H278.0M110.8 98.1H112.9M128.1 98.1H129.1M181.9 98.1H183.9M191.0 98.1H192.0M199.1 98.1H200.1M180.9 96.9H181.9M183.9 96.9H184.9M190.0 96.9H191.0M266.2 96.9H267.2M270.3 96.9H271.3M129.0 95.8H130.0M180.9 95.8H181.9M185.0 95.8H186.0M187.0 95.8H189.0M128.0 94.6H129.0M180.9 94.6H183.0M185.0 94.6H186.0M187.0 94.6H192.1M281.7 94.6H282.7M129.0 93.5H130.0M183.0 93.5H184.0M185.0 93.5H186.0M188.1 93.5H189.1M131.0 92.3H132.0M182.0 92.3H183.0M184.0 92.3H185.0M187.1 92.3H188.1M272.8 92.3H274.8M275.8 92.3H276.9M278.9 92.3H280.9M127.9 91.2H132.0M185.1 91.2H186.1M279.0 91.2H280.0M127.9 90.0H128.9M189.2 90.0H191.2M273.9 90.0H275.0M278.0 90.0H279.0M186.1 88.9H187.1M188.1 88.9H190.2M191.2 88.9H192.2M270.9 88.9H272.0M275.0 88.9H276.0M277.1 88.9H278.1M188.2 87.7H189.2M191.2 87.7H192.2M257.7 87.7H259.7M270.0 87.7H271.0M274.0 87.7H275.1M187.1 86.5H189.2M258.7 86.5H259.8M187.1 85.4H188.2M98.2 84.2H99.2M101.2 84.2H102.3M187.1 84.2H188.2M192.3 84.2H193.3M195.3 84.2H196.3M97.2 83.1H98.2M186.1 83.1H190.2M193.3 83.1H196.3M97.2 81.9H98.2M186.1 81.9H187.1M191.2 81.9H193.3M185.1 80.8H189.1M159.5 79.6H160.6M164.6 79.6H165.7M185.0 79.6H186.1M262.6 79.6H263.6M159.5 78.4H160.6M162.6 78.4H164.6M190.1 78.4H191.2M194.2 78.4H195.2M261.5 78.4H262.6M163.6 77.3H164.6M166.7 77.3H167.7M187.0 77.3H190.1M262.5 77.3H263.5M167.7 76.1H168.7M188.0 76.1H189.1M260.3 76.1H261.3M183.9 75.0H185.0M192.1 75.0H193.1M244.8 73.8H245.9M258.1 73.8H259.1M245.7 72.7H246.8M239.5 71.5H240.5M246.6 71.5H247.6M257.8 71.5H258.8M83.7 70.4H84.7M236.4 70.4H237.4M257.6 70.4H258.6M85.9 69.2H86.9M258.4 69.2H259.4M241.1 68.0H243.1M235.9 66.9H236.9M239.9 66.9H240.9M237.7 65.7H238.7M240.7 65.7H241.7M242.7 65.7H243.7M241.6 64.6H242.6M243.6 64.6H244.6M250.6 64.6H251.6M240.4 63.4H241.4M251.3 63.4H252.3M253.3 63.4H254.3M231.2 62.3H232.2M253.1 62.3H254.1M239.9 61.1H240.9M243.9 61.1H244.9M249.6 59.9H250.5M238.4 58.8H239.4M242.3 58.8H243.3M248.3 58.8H249.2M236.1 57.6H237.1M235.8 56.5H236.8M249.5 56.5H250.5M252.4 56.5H253.4M249.1 55.3H250.1M250.6 54.2H251.6M244.0 51.9H244.9M246.8 51.9H247.8M212.0 47.3H213.0M206.7 45.0H207.6M199.9 43.8H201.8M205.4 43.8H207.3M214.6 43.8H215.5M254.9 43.8H255.8M200.6 42.7H201.5M208.7 42.7H209.6M216.9 42.7H217.8M242.4 42.7H243.3M209.3 41.6H210.2M240.8 41.6H243.5M244.4 41.6H245.3M258.0 41.6H258.9M107.8 40.4H109.6M201.7 40.4H202.6M217.8 40.4H218.7M232.1 40.4H233.0M237.5 40.4H238.4M239.3 40.4H241.1M245.5 40.4H246.4M249.1 40.4H250.0M255.4 40.4H258.1M80.7 39.3H81.6M103.8 39.3H104.7M199.6 39.3H200.5M201.4 39.3H202.2M235.9 39.3H236.8M237.7 39.3H238.6M242.2 39.3H243.0M244.8 39.3H245.7M250.1 39.3H251.0M251.9 39.3H252.8M255.5 39.3H256.3M81.4 38.2H84.1M85.0 38.2H86.7M87.6 38.2H88.5M108.7 38.2H109.6M199.2 38.2H200.1M201.9 38.2H202.7M205.4 38.2H206.3M239.7 38.2H244.1M251.1 38.2H252.0M253.7 38.2H255.5M74.4 37.1H75.2M79.6 37.1H82.2M83.1 37.1H83.9M85.7 37.1H86.5M87.4 37.1H88.3M89.2 37.1H90.9M94.4 37.1H95.2M231.1 37.1H231.9M233.7 37.1H234.6M235.4 37.1H236.3M238.9 37.1H239.8M240.7 37.1H241.5M242.4 37.1H243.3M254.6 37.1H255.5M78.7 36.0H79.5M81.2 36.0H82.1M83.0 36.0H84.7M86.4 36.0H88.1M89.0 36.0H90.7M91.6 36.0H92.4M95.0 36.0H95.9M223.5 36.0H224.3M233.8 36.0H234.7M246.8 36.0H248.5M250.2 36.0H251.1M252.8 36.0H253.7M71.8 34.9H73.5M80.3 34.9H81.2M82.1 34.9H83.8M86.3 34.9H89.7M94.9 34.9H96.6M228.8 34.9H229.7M231.4 34.9H232.2M233.1 34.9H234.8M236.5 34.9H238.2M239.0 34.9H241.6M242.5 34.9H243.3M250.1 34.9H251.0M72.8 33.8H73.6M77.0 33.8H77.8M82.0 33.8H82.9M84.6 33.8H85.4M86.3 33.8H87.1M89.6 33.8H90.5M91.3 33.8H92.2M93.0 33.8H93.9M95.5 33.8H98.1M211.2 33.8H212.0M226.4 33.8H227.2M232.3 33.8H234.0M236.5 33.8H239.1M243.3 33.8H244.1M245.8 33.8H246.7M250.0 33.8H250.9M78.7 32.7H79.6M83.7 32.7H87.9M90.4 32.7H92.1M92.9 32.7H96.3M217.3 32.7H218.2M219.0 32.7H219.8M229.9 32.7H230.7M234.9 32.7H237.4M239.0 32.7H239.9M243.2 32.7H244.0M247.4 32.7H248.2M249.1 32.7H249.9M250.7 32.7H251.6M79.6 31.7H80.5M83.8 31.7H86.3M87.1 31.7H92.9M93.7 31.7H96.2M198.5 31.7H199.3M219.2 31.7H220.0M223.3 31.7H224.1M225.8 31.7H226.6M227.4 31.7H228.2M234.8 31.7H239.0M252.2 31.7H253.0M81.4 30.6H82.2M88.7 30.6H89.6M91.2 30.6H92.0M95.3 30.6H96.1M199.7 30.6H200.5M201.3 30.6H203.0M203.8 30.6H204.6M205.4 30.6H207.1M216.8 30.6H217.7M225.0 30.6H226.6M235.6 30.6H236.4M240.5 30.6H241.3M62.2 29.5H63.0M64.6 29.5H65.4M88.8 29.5H90.4M95.2 29.5H96.1M192.0 29.5H194.4M200.1 29.5H200.9M210.5 29.5H211.3M213.8 29.5H214.6M237.1 29.5H237.9M242.0 29.5H242.8M250.8 29.5H251.6M62.6 28.5H63.4M72.2 28.5H73.8M77.7 28.5H78.5M108.0 28.5H108.8M190.8 28.5H191.6M194.8 28.5H195.6M197.2 28.5H198.0M199.6 28.5H200.4M202.0 28.5H203.5M206.7 28.5H207.5M209.9 28.5H210.7M213.9 28.5H216.3M252.1 28.5H252.9M79.6 27.5H80.4M98.4 27.5H99.2M184.9 27.5H185.7M186.5 27.5H187.3M194.4 27.5H195.1M198.3 27.5H199.1M204.6 27.5H205.4M206.2 27.5H208.5M213.2 27.5H215.6M216.4 27.5H217.2M243.1 27.5H243.9M67.4 26.4H68.2M79.1 26.4H79.8M190.8 26.4H191.6M192.4 26.4H193.1M194.7 26.4H196.3M200.1 26.4H200.9M201.7 26.4H202.5M204.0 26.4H204.8M205.6 26.4H206.3M207.9 26.4H211.0M211.8 26.4H216.4M228.8 26.4H229.6M79.4 25.4H80.1M90.9 25.4H91.6M92.4 25.4H94.7M191.9 25.4H194.2M196.5 25.4H198.1M198.8 25.4H199.6M202.7 25.4H203.4M205.0 25.4H205.7M206.5 25.4H208.0M208.8 25.4H209.6M210.3 25.4H211.1M212.6 25.4H214.9M215.7 25.4H216.5M231.0 25.4H231.8M66.1 24.4H67.6M91.1 24.4H92.6M180.2 24.4H180.9M191.5 24.4H194.5M196.1 24.4H196.8M198.3 24.4H199.8M205.1 24.4H210.4M211.2 24.4H211.9M212.7 24.4H213.4M71.2 23.4H71.9M206.0 23.4H206.7M208.2 23.4H209.0M216.4 23.4H217.2M203.9 22.5H204.6M205.3 22.5H206.1" stroke="#fd9a30" stroke-width="1.29"/><path d="M274.4 117.8H275.4M276.0 114.3H277.0M279.4 113.1H280.4M112.2 112.0H114.2M118.1 112.0H119.1M278.9 112.0H279.9M111.8 108.5H112.8M186.4 108.5H187.4M196.4 108.5H197.4M278.0 108.5H281.0M107.6 107.4H108.6M196.5 107.4H198.5M278.3 107.4H279.3M183.6 106.2H184.6M185.6 106.2H187.6M195.6 106.2H197.6M187.6 105.0H188.6M198.7 105.0H199.7M112.3 103.9H115.3M186.7 103.9H187.7M182.7 102.7H183.7M186.7 102.7H188.7M186.8 101.6H188.8M195.9 101.6H197.9M114.0 100.4H115.1M180.8 100.4H182.8M183.8 100.4H185.8M186.8 100.4H187.8M196.9 100.4H198.0M108.9 99.3H109.9M181.8 99.3H184.9M186.9 99.3H187.9M188.9 99.3H189.9M199.0 99.3H200.1M109.8 98.1H110.8M180.8 98.1H181.9M183.9 98.1H185.9M186.9 98.1H187.9M189.0 98.1H190.0M181.9 96.9H183.9M184.9 96.9H185.9M188.0 96.9H190.0M181.9 95.8H183.9M186.0 95.8H187.0M130.0 94.6H131.0M184.0 94.6H185.0M186.0 94.6H187.0M127.9 93.5H129.0M189.1 93.5H190.1M183.0 92.3H184.0M186.1 92.3H187.1M247.3 92.3H249.3M251.3 92.3H253.4M277.9 92.3H278.9M186.1 91.2H187.1M188.1 91.2H190.2M274.9 91.2H278.0M280.0 91.2H281.0M186.1 90.0H187.1M188.1 90.0H189.2M271.9 90.0H273.9M276.0 90.0H277.0M190.2 88.9H191.2M272.0 88.9H273.0M284.2 88.9H285.2M187.1 87.7H188.2M272.0 87.7H274.0M100.2 86.5H101.2M97.1 85.4H99.2M100.2 85.4H101.2M194.3 85.4H195.3M188.2 84.2H189.2M98.2 83.1H101.3M191.2 83.1H193.3M98.2 81.9H99.2M187.1 81.9H188.1M189.2 81.9H190.2M98.2 80.8H100.3M109.5 80.8H110.5M153.4 80.8H156.5M157.5 80.8H158.5M98.3 79.6H100.3M152.4 79.6H153.4M155.4 79.6H157.5M189.1 79.6H190.2M152.4 78.4H155.4M166.7 78.4H167.7M100.4 77.3H101.4M152.4 77.3H153.4M156.5 77.3H160.6M90.3 76.1H91.3M247.1 76.1H248.1M90.4 75.0H92.4M261.2 75.0H262.2M91.5 73.8H92.5M240.8 73.8H241.8M243.8 73.8H244.8M87.5 72.7H89.6M241.7 72.7H242.7M246.8 72.7H247.8M258.9 72.7H259.9M245.6 71.5H246.6M241.4 70.4H242.4M243.4 70.4H247.5M81.9 69.2H82.9M83.9 69.2H84.9M86.9 69.2H87.9M238.2 69.2H240.2M241.2 69.2H242.3M244.3 69.2H246.3M79.0 68.0H80.0M81.0 68.0H82.0M237.1 68.0H240.1M243.1 68.0H245.1M80.2 66.9H83.2M236.9 66.9H237.9M238.9 66.9H239.9M240.9 66.9H244.9M239.7 65.7H240.7M241.7 65.7H242.7M240.6 64.6H241.6M238.4 63.4H239.4M249.1 62.3H251.1M252.8 61.1H253.8M253.5 59.9H254.5M249.2 58.8H250.2M249.1 45.0H250.1M195.4 43.8H196.3M108.7 42.7H109.6M241.5 42.7H242.4M237.2 41.6H238.1M250.8 41.6H251.7M236.6 40.4H237.5M242.9 40.4H243.8M250.0 40.4H250.9M249.3 39.3H250.1M252.8 39.3H254.6M211.5 38.2H212.4M233.5 38.2H234.4M237.0 38.2H237.9M250.2 38.2H251.1M82.2 37.1H83.1M90.9 37.1H91.8M247.6 37.1H249.4M80.4 36.0H81.2M88.1 36.0H89.0M90.7 36.0H91.6M92.4 36.0H94.2M208.8 36.0H209.7M234.7 36.0H235.6M251.1 36.0H251.9M256.2 36.0H257.1M89.7 34.9H91.4M93.1 34.9H94.9M246.7 34.9H247.6M251.0 34.9H251.8M82.9 33.8H83.7M92.2 33.8H93.0M93.9 33.8H95.5M239.1 33.8H239.9M244.1 33.8H245.8M92.1 32.7H92.9M97.1 32.7H98.8M237.4 32.7H238.2M244.0 32.7H244.9M248.2 32.7H249.1M248.1 31.7H248.9M198.1 30.6H198.9M203.0 30.6H203.8M209.5 30.6H211.1M238.1 30.6H238.9M246.2 30.6H247.0M198.4 29.5H200.1M202.5 29.5H204.1M206.5 29.5H208.1M208.9 29.5H209.7M190.0 28.5H190.8M194.0 28.5H194.8M195.6 28.5H197.2M198.0 28.5H198.8M201.2 28.5H202.0M204.3 28.5H205.9M207.5 28.5H209.9M210.7 28.5H211.5M213.1 28.5H213.9M188.9 27.5H189.6M192.8 27.5H193.6M195.1 27.5H198.3M200.6 27.5H202.2M203.8 27.5H204.6M205.4 27.5H206.2M208.5 27.5H212.4M188.5 26.4H189.3M196.3 26.4H197.8M206.3 26.4H207.1M238.2 26.4H238.9M195.0 25.4H195.8M199.6 25.4H202.7M203.4 25.4H205.0M205.7 25.4H206.5M211.1 25.4H211.9M194.5 24.4H196.1M199.8 24.4H201.3M203.6 24.4H205.1M196.3 23.4H197.0M198.5 23.4H199.3M201.5 23.4H202.3" stroke="#f05a2a" stroke-width="1.29"/><path d="M195.4 108.5H196.4M195.5 107.4H196.5M195.6 105.0H196.6M197.7 105.0H198.7M187.7 103.9H188.7M195.7 103.9H197.7M183.7 102.7H184.7M185.7 102.7H186.7M195.8 102.7H196.8M197.8 102.7H198.8M188.8 101.6H189.8M197.9 101.6H199.9M185.8 100.4H186.8M188.9 100.4H190.9M198.0 100.4H199.0M200.0 100.4H201.0M185.9 99.3H186.9M187.9 99.3H188.9M200.1 99.3H201.1M185.9 98.1H186.9M187.9 98.1H189.0M190.0 98.1H191.0M185.9 96.9H188.0M183.9 95.8H185.0M186.0 93.5H187.1M185.0 92.3H186.1M276.9 92.3H277.9M282.0 91.2H283.1M191.2 90.0H192.2M257.6 90.0H258.6M275.0 90.0H276.0M277.0 90.0H278.0M284.2 90.0H285.2M245.4 88.9H246.4M253.6 88.9H255.6M259.7 88.9H260.7M273.0 88.9H274.0M276.0 88.9H277.1M98.2 87.7H100.2M192.2 87.7H193.3M244.4 87.7H246.4M250.5 87.7H251.5M254.6 87.7H255.6M259.7 87.7H260.7M98.2 86.5H100.2M242.4 86.5H245.4M250.6 86.5H252.6M255.7 86.5H256.7M101.2 85.4H102.2M242.4 85.4H244.4M250.6 85.4H251.6M252.6 85.4H253.6M99.2 84.2H101.2M103.3 84.2H104.3M107.4 84.2H109.4M110.4 84.2H111.5M193.3 84.2H194.3M241.3 84.2H243.4M250.5 84.2H252.6M102.3 83.1H103.3M107.4 83.1H109.4M112.5 83.1H113.5M240.3 83.1H241.3M243.4 83.1H244.4M99.2 81.9H102.3M111.5 81.9H113.5M115.6 81.9H116.6M240.3 81.9H241.3M243.3 81.9H244.4M97.2 80.8H98.2M100.3 80.8H101.3M103.4 80.8H104.4M108.5 80.8H109.5M110.5 80.8H112.5M239.2 80.8H240.2M243.3 80.8H244.3M97.3 79.6H98.3M101.3 79.6H102.4M104.4 79.6H105.4M108.5 79.6H111.6M151.4 79.6H152.4M154.4 79.6H155.4M98.3 78.4H100.4M108.5 78.4H112.6M156.5 78.4H157.5M167.7 78.4H168.7M92.3 77.3H93.3M94.3 77.3H96.3M99.4 77.3H100.4M101.4 77.3H103.5M104.5 77.3H105.5M108.6 77.3H110.6M155.5 77.3H156.5M241.1 77.3H242.1M99.5 76.1H106.6M108.6 76.1H110.7M100.6 75.0H101.6M103.6 75.0H104.6M240.9 75.0H241.9M246.0 75.0H247.0M89.5 73.8H90.5M89.6 72.7H92.6M240.7 72.7H241.7M85.6 71.5H88.7M89.7 71.5H90.7M80.7 70.4H81.7M84.7 70.4H87.8M242.4 70.4H243.4M78.8 69.2H80.9M84.9 69.2H85.9M237.2 69.2H238.2M242.3 69.2H244.3M80.0 68.0H81.0M87.1 68.0H89.1M236.0 68.0H237.1M245.1 68.0H246.1M237.9 66.9H238.9M238.7 65.7H239.7M238.6 64.6H240.6M234.5 41.6H235.4M91.8 37.1H92.6M252.8 37.1H253.7M251.9 36.0H252.8M91.4 34.9H93.1M238.2 34.9H239.0M203.5 31.7H204.3M243.1 31.7H244.8M204.6 30.6H205.4M207.9 30.6H208.7M212.0 30.6H212.8M245.4 30.6H246.2M195.2 29.5H196.0M196.8 29.5H198.4M204.1 29.5H205.7M208.1 29.5H208.9M209.7 29.5H210.5M211.3 29.5H213.8M238.7 29.5H239.6M193.2 28.5H194.0M203.5 28.5H204.3M205.9 28.5H206.7M211.5 28.5H213.1M245.8 28.5H246.5M191.2 27.5H192.0M193.6 27.5H194.4M199.9 27.5H200.6M202.2 27.5H203.8M187.7 26.4H188.5M199.4 26.4H200.1M200.9 26.4H201.7M204.8 26.4H205.6M207.1 26.4H207.9M195.8 25.4H196.5M208.0 25.4H208.8M197.6 24.4H198.3M201.3 24.4H202.1M202.9 24.4H203.6M211.9 24.4H212.7M200.0 23.4H200.8M211.2 23.4H211.9M200.2 22.5H200.9M209.0 22.5H209.7" stroke="#d42229" stroke-width="1.29"/><path d="M197.4 108.5H198.4M196.6 105.0H197.7M197.7 103.9H199.7M196.8 102.7H197.8M198.8 102.7H199.8M199.0 100.4H200.0M244.4 88.9H245.4M274.0 88.9H275.0M243.4 87.7H244.4M251.5 87.7H254.6M96.1 86.5H97.1M252.6 86.5H255.7M99.2 85.4H100.2M241.4 85.4H242.4M244.4 85.4H245.5M249.5 85.4H250.6M251.6 85.4H252.6M253.6 85.4H257.7M97.1 84.2H98.2M102.3 84.2H103.3M104.3 84.2H107.4M109.4 84.2H110.4M111.5 84.2H113.5M114.5 84.2H115.6M249.5 84.2H250.5M252.6 84.2H256.7M101.3 83.1H102.3M103.3 83.1H107.4M109.4 83.1H112.5M113.5 83.1H114.5M241.3 83.1H242.3M244.4 83.1H245.4M252.6 83.1H256.7M102.3 81.9H111.5M113.5 81.9H114.6M239.2 81.9H240.3M244.4 81.9H245.4M253.5 81.9H256.6M101.3 80.8H103.4M104.4 80.8H108.5M112.5 80.8H115.6M242.3 80.8H243.3M100.3 79.6H101.3M102.4 79.6H104.4M105.4 79.6H108.5M111.6 79.6H113.6M153.4 79.6H154.4M94.2 78.4H95.3M97.3 78.4H98.3M100.4 78.4H108.5M155.4 78.4H156.5M98.4 77.3H99.4M103.5 77.3H104.5M105.5 77.3H108.6M153.4 77.3H154.4M106.6 76.1H108.6M90.5 73.8H91.5M86.5 72.7H87.5M88.7 71.5H89.7M90.7 71.5H92.7M241.6 71.5H242.6M87.8 70.4H88.8M80.9 69.2H81.9M87.9 69.2H89.9M82.0 68.0H83.0M208.7 30.6H209.5M198.8 28.5H199.6M193.1 26.4H193.9M194.2 25.4H195.0M202.1 24.4H202.9" stroke="#921a1c" stroke-width="1.29"/></g><path d="M28.5,43.9 L292.6,43.9M13.2,85.5 L307.9,85.5M28.5,127.1 L292.6,127.1M160.6,160.1 L160.6,159.5 L160.6,158.8 L160.6,157.8 L160.6,156.8 L160.6,155.6 L160.6,154.3 L160.6,152.9 L160.6,151.4 L160.6,149.9 L160.6,148.4 L160.6,146.9 L160.6,145.3 L160.6,143.6 L160.6,142.0 L160.6,140.3 L160.6,138.6 L160.6,136.9 L160.6,135.1 L160.6,133.4 L160.6,131.6 L160.6,129.8 L160.6,128.0 L160.6,126.1 L160.6,124.3 L160.6,122.5 L160.6,120.6 L160.6,118.8 L160.6,117.0 L160.6,115.1 L160.6,113.3 L160.6,111.4 L160.6,109.6 L160.6,107.7 L160.6,105.9 L160.6,104.0 L160.6,102.2 L160.6,100.3 L160.6,98.5 L160.6,96.6 L160.6,94.8 L160.6,92.9 L160.6,91.1 L160.6,89.2 L160.6,87.4 L160.6,85.5 L160.6,83.6 L160.6,81.8 L160.6,79.9 L160.6,78.1 L160.6,76.2 L160.6,74.4 L160.6,72.5 L160.6,70.7 L160.6,68.8 L160.6,67.0 L160.6,65.1 L160.6,63.3 L160.6,61.4 L160.6,59.6 L160.6,57.7 L160.6,55.9 L160.6,54.0 L160.6,52.2 L160.6,50.4 L160.6,48.5 L160.6,46.7 L160.6,44.9 L160.6,43.0 L160.6,41.2 L160.6,39.4 L160.6,37.6 L160.6,35.9 L160.6,34.1 L160.6,32.4 L160.6,30.7 L160.6,29.0 L160.6,27.4 L160.6,25.7 L160.6,24.1 L160.6,22.6 L160.6,21.1 L160.6,19.6 L160.6,18.1 L160.6,16.7 L160.6,15.4 L160.6,14.2 L160.6,13.2 L160.6,12.2 L160.6,11.5 L160.6,10.9" fill="none" stroke="#888" stroke-width="0.85" stroke-dasharray="3.2 1.5"/><path d="M121.4,160.1 L120.3,159.5 L119.1,158.8 L117.7,157.8 L116.3,156.8 L114.8,155.6 L113.2,154.3 L111.7,152.9 L110.3,151.4 L108.9,149.9 L107.6,148.4 L106.4,146.9 L105.2,145.3 L104.0,143.6 L102.9,142.0 L101.7,140.3 L100.6,138.6 L99.6,136.9 L98.5,135.1 L97.6,133.4 L96.6,131.6 L95.8,129.8 L94.9,128.0 L94.2,126.1 L93.4,124.3 L92.7,122.5 L92.0,120.6 L91.4,118.8 L90.8,117.0 L90.3,115.1 L89.8,113.3 L89.4,111.4 L89.1,109.6 L88.7,107.7 L88.5,105.9 L88.2,104.0 L88.0,102.2 L87.7,100.3 L87.5,98.5 L87.4,96.6 L87.2,94.8 L87.1,92.9 L87.0,91.1 L87.0,89.2 L86.9,87.4 L86.9,85.5 L86.9,83.6 L87.0,81.8 L87.0,79.9 L87.1,78.1 L87.2,76.2 L87.4,74.4 L87.5,72.5 L87.7,70.7 L88.0,68.8 L88.2,67.0 L88.5,65.1 L88.7,63.3 L89.1,61.4 L89.4,59.6 L89.8,57.7 L90.3,55.9 L90.8,54.0 L91.4,52.2 L92.0,50.4 L92.7,48.5 L93.4,46.7 L94.2,44.9 L94.9,43.0 L95.8,41.2 L96.6,39.4 L97.6,37.6 L98.5,35.9 L99.6,34.1 L100.6,32.4 L101.7,30.7 L102.9,29.0 L104.0,27.4 L105.2,25.7 L106.4,24.1 L107.6,22.6 L108.9,21.1 L110.3,19.6 L111.7,18.1 L113.2,16.7 L114.8,15.4 L116.3,14.2 L117.7,13.2 L119.1,12.2 L120.3,11.5 L121.4,10.9M199.7,160.1 L200.8,159.5 L202.0,158.8 L203.4,157.8 L204.8,156.8 L206.3,155.6 L207.9,154.3 L209.4,152.9 L210.8,151.4 L212.2,149.9 L213.5,148.4 L214.7,146.9 L215.9,145.3 L217.1,143.6 L218.2,142.0 L219.4,140.3 L220.5,138.6 L221.5,136.9 L222.6,135.1 L223.5,133.4 L224.5,131.6 L225.3,129.8 L226.2,128.0 L226.9,126.1 L227.7,124.3 L228.4,122.5 L229.1,120.6 L229.7,118.8 L230.3,117.0 L230.8,115.1 L231.3,113.3 L231.7,111.4 L232.0,109.6 L232.4,107.7 L232.6,105.9 L232.9,104.0 L233.1,102.2 L233.4,100.3 L233.6,98.5 L233.7,96.6 L233.9,94.8 L234.0,92.9 L234.1,91.1 L234.1,89.2 L234.2,87.4 L234.2,85.5 L234.2,83.6 L234.1,81.8 L234.1,79.9 L234.0,78.1 L233.9,76.2 L233.7,74.4 L233.6,72.5 L233.4,70.7 L233.1,68.8 L232.9,67.0 L232.6,65.1 L232.4,63.3 L232.0,61.4 L231.7,59.6 L231.3,57.7 L230.8,55.9 L230.3,54.0 L229.7,52.2 L229.1,50.4 L228.4,48.5 L227.7,46.7 L226.9,44.9 L226.2,43.0 L225.3,41.2 L224.5,39.4 L223.5,37.6 L222.6,35.9 L221.5,34.1 L220.5,32.4 L219.4,30.7 L218.2,29.0 L217.1,27.4 L215.9,25.7 L214.7,24.1 L213.5,22.6 L212.2,21.1 L210.8,19.6 L209.4,18.1 L207.9,16.7 L206.3,15.4 L204.8,14.2 L203.4,13.2 L202.0,12.2 L200.8,11.5 L199.7,10.9" fill="none" stroke="#7a7a7a" stroke-width="0.8" stroke-dasharray="3.2 1.5"/><use href="#coast"/><g fill="#111"><circle cx="29.4" cy="82" r="0.7"/><circle cx="31.5" cy="84" r="0.7"/><circle cx="19" cy="88.9" r="0.7"/><circle cx="19.7" cy="93.7" r="0.7"/><circle cx="20.4" cy="98.6" r="0.7"/><circle cx="19" cy="104.9" r="0.7"/><circle cx="23.9" cy="102.8" r="0.7"/><circle cx="32.9" cy="90.3" r="0.7"/><circle cx="36.4" cy="95.8" r="0.7"/><circle cx="46.4" cy="94.4" r="1.0"/><circle cx="39.2" cy="101.7" r="0.7"/><circle cx="43.3" cy="100.7" r="0.7"/><circle cx="46.8" cy="102.5" r="0.7"/><circle cx="50.3" cy="102.5" r="0.7"/><circle cx="32.2" cy="105.6" r="0.7"/><circle cx="57.9" cy="108.3" r="0.7"/><circle cx="73.2" cy="110.4" r="0.7"/><circle cx="70.4" cy="68" r="0.7"/><circle cx="272.9" cy="60.4" r="0.7"/><circle cx="277.8" cy="68" r="0.7"/><circle cx="278.3" cy="70" r="0.7"/><circle cx="278.5" cy="72" r="0.7"/><circle cx="270.8" cy="78.5" r="0.7"/><circle cx="284" cy="78.5" r="0.7"/><circle cx="290.3" cy="79.2" r="0.7"/><circle cx="294.4" cy="79.9" r="0.7"/><circle cx="296.5" cy="75.7" r="0.7"/><circle cx="300" cy="79.2" r="0.7"/><circle cx="302" cy="83.3" r="0.7"/><circle cx="303.5" cy="85.4" r="0.7"/><circle cx="304.9" cy="101.4" r="1.0"/><circle cx="86.1" cy="85.9" r="0.7"/><circle cx="147.2" cy="59.4" r="0.7"/><circle cx="148.6" cy="59.8" r="0.7"/><circle cx="141.1" cy="71.2" r="0.7"/><circle cx="140.0" cy="49.9" r="0.7"/><circle cx="27" cy="94" r="0.7"/><circle cx="25" cy="97" r="0.7"/></g><path d="M66,154.2 L72,153.2 L78,152.6 L86,152.5 L95,152.2 L105,152.0 L113,152.2 L116.5,151.5 L118.5,148.5 L121,145 L123.5,142.5 L125.5,141.8 L124.5,143.5 L122,147 L120.5,150.5 L121.5,153.5 L124,155 L128,155.8 L132,156.5 L136,156.8 L140,156.2 L144,155.5 L146.5,152.5 L148.5,150.5 L152,149.6 L156,149.2 L160,148.9 L166,148.5 L172,147.8 L178,147.5 L185,146.8 L190,146.4 L194,146 L196.5,146.5 L198,150.5 L199.5,148.5 L202,146.8 L208,146.3 L215,146 L222,145.8 L230,146.2 L238,146.5 L246,147.2 L252,148.2 L257.8,149.6 L252,152.5 L246,155.5 L240.3,157.6 L244,157.3" fill="none" stroke="#000" stroke-width="1.15" stroke-linejoin="round"/><g fill="#111"><ellipse cx="79" cy="154.8" rx="3.5" ry="1.3"/><ellipse cx="84" cy="153.6" rx="2" ry="0.9"/><ellipse cx="103" cy="150.8" rx="2" ry="0.9"/><ellipse cx="120.5" cy="143.8" rx="1.2" ry="1.6"/><ellipse cx="134" cy="155.8" rx="1.5" ry="0.8"/></g><path d="M82.2,160.1 L81.1,159.8 L80.0,159.5 L78.8,159.2 L77.6,158.8 L76.3,158.3 L74.9,157.8 L73.5,157.3 L72.0,156.8 L70.6,156.2 L69.0,155.6 L67.5,154.9 L65.9,154.3 L64.4,153.6 L62.9,152.9 L61.4,152.2 L60.0,151.4 L58.6,150.7 L57.3,149.9 L56.0,149.2 L54.7,148.4 L53.5,147.6 L52.2,146.9 L51.0,146.1 L49.8,145.3 L48.6,144.5 L47.5,143.6 L46.3,142.8 L45.2,142.0 L44.0,141.1 L42.9,140.3 L41.8,139.5 L40.7,138.6 L39.6,137.7 L38.6,136.9 L37.6,136.0 L36.5,135.1 L35.5,134.2 L34.6,133.4 L33.6,132.5 L32.7,131.6 L31.8,130.7 L31.0,129.8 L30.1,128.9 L29.3,128.0 L28.5,127.1 L27.8,126.1 L27.0,125.2 L26.2,124.3 L25.5,123.4 L24.8,122.5 L24.1,121.6 L23.5,120.6 L22.9,119.7 L22.3,118.8 L21.7,117.9 L21.1,117.0 L20.6,116.0 L20.1,115.1 L19.6,114.2 L19.1,113.3 L18.7,112.3 L18.3,111.4 L17.9,110.5 L17.6,109.6 L17.2,108.6 L16.9,107.7 L16.6,106.8 L16.4,105.9 L16.1,104.9 L15.9,104.0 L15.6,103.1 L15.4,102.2 L15.2,101.2 L14.9,100.3 L14.7,99.4 L14.5,98.5 L14.4,97.5 L14.2,96.6 L14.1,95.7 L13.9,94.8 L13.8,93.8 L13.7,92.9 L13.6,92.0 L13.5,91.1 L13.5,90.1 L13.4,89.2 L13.3,88.3 L13.3,87.4 L13.3,86.4 L13.2,85.5 L13.3,84.6 L13.3,83.6 L13.3,82.7 L13.4,81.8 L13.5,80.9 L13.5,79.9 L13.6,79.0 L13.7,78.1 L13.8,77.2 L13.9,76.2 L14.1,75.3 L14.2,74.4 L14.4,73.5 L14.5,72.5 L14.7,71.6 L14.9,70.7 L15.2,69.8 L15.4,68.8 L15.6,67.9 L15.9,67.0 L16.1,66.1 L16.4,65.1 L16.6,64.2 L16.9,63.3 L17.2,62.4 L17.6,61.4 L17.9,60.5 L18.3,59.6 L18.7,58.7 L19.1,57.7 L19.6,56.8 L20.1,55.9 L20.6,55.0 L21.1,54.0 L21.7,53.1 L22.3,52.2 L22.9,51.3 L23.5,50.4 L24.1,49.4 L24.8,48.5 L25.5,47.6 L26.2,46.7 L27.0,45.8 L27.8,44.9 L28.5,43.9 L29.3,43.0 L30.1,42.1 L31.0,41.2 L31.8,40.3 L32.7,39.4 L33.6,38.5 L34.6,37.6 L35.5,36.8 L36.5,35.9 L37.6,35.0 L38.6,34.1 L39.6,33.3 L40.7,32.4 L41.8,31.5 L42.9,30.7 L44.0,29.9 L45.2,29.0 L46.3,28.2 L47.5,27.4 L48.6,26.5 L49.8,25.7 L51.0,24.9 L52.2,24.1 L53.5,23.4 L54.7,22.6 L56.0,21.8 L57.3,21.1 L58.6,20.3 L60.0,19.6 L61.4,18.8 L62.9,18.1 L64.4,17.4 L65.9,16.7 L67.5,16.1 L69.0,15.4 L70.6,14.8 L72.0,14.2 L73.5,13.7 L74.9,13.2 L76.3,12.7 L77.6,12.2 L78.8,11.8 L80.0,11.5 L81.1,11.2 L82.2,10.9 L238.9,10.9 L240.0,11.2 L241.1,11.5 L242.3,11.8 L243.5,12.2 L244.8,12.7 L246.2,13.2 L247.6,13.7 L249.1,14.2 L250.5,14.8 L252.1,15.4 L253.6,16.1 L255.2,16.7 L256.7,17.4 L258.2,18.1 L259.7,18.8 L261.1,19.6 L262.5,20.3 L263.8,21.1 L265.1,21.8 L266.4,22.6 L267.6,23.4 L268.9,24.1 L270.1,24.9 L271.3,25.7 L272.5,26.5 L273.6,27.4 L274.8,28.2 L275.9,29.0 L277.1,29.9 L278.2,30.7 L279.3,31.5 L280.4,32.4 L281.5,33.3 L282.5,34.1 L283.5,35.0 L284.6,35.9 L285.6,36.8 L286.5,37.6 L287.5,38.5 L288.4,39.4 L289.3,40.3 L290.1,41.2 L291.0,42.1 L291.8,43.0 L292.6,43.9 L293.3,44.9 L294.1,45.8 L294.9,46.7 L295.6,47.6 L296.3,48.5 L297.0,49.4 L297.6,50.4 L298.2,51.3 L298.8,52.2 L299.4,53.1 L300.0,54.0 L300.5,55.0 L301.0,55.9 L301.5,56.8 L302.0,57.7 L302.4,58.7 L302.8,59.6 L303.2,60.5 L303.5,61.4 L303.9,62.4 L304.2,63.3 L304.5,64.2 L304.7,65.1 L305.0,66.1 L305.2,67.0 L305.5,67.9 L305.7,68.8 L305.9,69.8 L306.2,70.7 L306.4,71.6 L306.6,72.5 L306.7,73.5 L306.9,74.4 L307.0,75.3 L307.2,76.2 L307.3,77.2 L307.4,78.1 L307.5,79.0 L307.6,79.9 L307.6,80.9 L307.7,81.8 L307.8,82.7 L307.8,83.6 L307.8,84.6 L307.9,85.5 L307.8,86.4 L307.8,87.4 L307.8,88.3 L307.7,89.2 L307.6,90.1 L307.6,91.1 L307.5,92.0 L307.4,92.9 L307.3,93.8 L307.2,94.8 L307.0,95.7 L306.9,96.6 L306.7,97.5 L306.6,98.5 L306.4,99.4 L306.2,100.3 L305.9,101.2 L305.7,102.2 L305.5,103.1 L305.2,104.0 L305.0,104.9 L304.7,105.9 L304.5,106.8 L304.2,107.7 L303.9,108.6 L303.5,109.6 L303.2,110.5 L302.8,111.4 L302.4,112.3 L302.0,113.3 L301.5,114.2 L301.0,115.1 L300.5,116.0 L300.0,117.0 L299.4,117.9 L298.8,118.8 L298.2,119.7 L297.6,120.6 L297.0,121.6 L296.3,122.5 L295.6,123.4 L294.9,124.3 L294.1,125.2 L293.3,126.1 L292.6,127.1 L291.8,128.0 L291.0,128.9 L290.1,129.8 L289.3,130.7 L288.4,131.6 L287.5,132.5 L286.5,133.4 L285.6,134.2 L284.6,135.1 L283.5,136.0 L282.5,136.9 L281.5,137.7 L280.4,138.6 L279.3,139.5 L278.2,140.3 L277.1,141.1 L275.9,142.0 L274.8,142.8 L273.6,143.6 L272.5,144.5 L271.3,145.3 L270.1,146.1 L268.9,146.9 L267.6,147.6 L266.4,148.4 L265.1,149.2 L263.8,149.9 L262.5,150.7 L261.1,151.4 L259.7,152.2 L258.2,152.9 L256.7,153.6 L255.2,154.3 L253.6,154.9 L252.1,155.6 L250.5,156.2 L249.1,156.8 L247.6,157.3 L246.2,157.8 L244.8,158.3 L243.5,158.8 L242.3,159.2 L241.1,159.5 L240.0,159.8 L238.9,160.1Z" fill="none" stroke="#222" stroke-width="1"/></g>
<text transform="translate(-1.90,46.10)" font-size="8.8" textLength="24.6" lengthAdjust="spacingAndGlyphs" fill="#262626" stroke="#262626" stroke-width="0.22">45° N</text>
<text transform="translate(-0.30,86.40)" font-size="8.8" textLength="10.4" lengthAdjust="spacingAndGlyphs" fill="#262626" stroke="#262626" stroke-width="0.22">0°</text>
<text transform="translate(0.50,129.80)" font-size="8.8" textLength="23.0" lengthAdjust="spacingAndGlyphs" fill="#262626" stroke="#262626" stroke-width="0.22">45° S</text>
<text transform="translate(107.90,172.80)" font-size="8.8" textLength="26.8" lengthAdjust="spacingAndGlyphs" fill="#262626" stroke="#262626" stroke-width="0.22">90° W</text>
<text transform="translate(155.20,172.80)" font-size="8.8" textLength="10.3" lengthAdjust="spacingAndGlyphs" fill="#262626" stroke="#262626" stroke-width="0.22">0°</text>
<text transform="translate(188.00,172.80)" font-size="8.8" textLength="23.2" lengthAdjust="spacingAndGlyphs" fill="#262626" stroke="#262626" stroke-width="0.22">90° E</text>
<text transform="translate(424.20,172.80)" font-size="8.8" textLength="26.8" lengthAdjust="spacingAndGlyphs" fill="#262626" stroke="#262626" stroke-width="0.22">90° W</text>
<text transform="translate(471.50,172.80)" font-size="8.8" textLength="10.3" lengthAdjust="spacingAndGlyphs" fill="#262626" stroke="#262626" stroke-width="0.22">0°</text>
<text transform="translate(504.30,172.80)" font-size="8.8" textLength="23.2" lengthAdjust="spacingAndGlyphs" fill="#262626" stroke="#262626" stroke-width="0.22">90° E</text>
<g><rect x="43.90" y="182" width="18.25" height="12" fill="#1b2a63"/><rect x="61.85" y="182" width="18.25" height="12" fill="#2353a0"/><rect x="79.80" y="182" width="18.25" height="12" fill="#4a8fcc"/><rect x="97.75" y="182" width="18.25" height="12" fill="#8ecbee"/><rect x="115.70" y="182" width="18.25" height="12" fill="#c6e6f7"/><rect x="133.65" y="182" width="18.25" height="12" fill="#eef6fd"/><rect x="151.60" y="182" width="18.25" height="12" fill="#ffffff"/><rect x="169.55" y="182" width="18.25" height="12" fill="#fff5d0"/><rect x="187.50" y="182" width="18.25" height="12" fill="#fed07a"/><rect x="205.45" y="182" width="18.25" height="12" fill="#fd9a30"/><rect x="223.40" y="182" width="18.25" height="12" fill="#f05a2a"/><rect x="241.35" y="182" width="18.25" height="12" fill="#d42229"/><rect x="259.30" y="182" width="18.25" height="12" fill="#921a1c"/><rect x="43.90" y="182" width="233.35" height="12" fill="none" stroke="#333" stroke-width="0.6"/><text x="61.85" y="205.8" text-anchor="middle" font-size="9" fill="#262626" stroke="#262626" stroke-width="0.22">&#8722;10</text><text x="79.80" y="205.8" text-anchor="middle" font-size="9" fill="#262626" stroke="#262626" stroke-width="0.22">&#8722;5</text><text x="97.75" y="205.8" text-anchor="middle" font-size="9" fill="#262626" stroke="#262626" stroke-width="0.22">&#8722;2.5</text><text x="115.70" y="205.8" text-anchor="middle" font-size="9" fill="#262626" stroke="#262626" stroke-width="0.22">&#8722;1</text><text x="133.65" y="205.8" text-anchor="middle" font-size="9" fill="#262626" stroke="#262626" stroke-width="0.22">&#8722;0.5</text><text x="151.60" y="205.8" text-anchor="middle" font-size="9" fill="#262626" stroke="#262626" stroke-width="0.22">&#8722;0.1</text><text x="169.55" y="205.8" text-anchor="middle" font-size="9" fill="#262626" stroke="#262626" stroke-width="0.22">0.1</text><text x="187.50" y="205.8" text-anchor="middle" font-size="9" fill="#262626" stroke="#262626" stroke-width="0.22">0.5</text><text x="205.45" y="205.8" text-anchor="middle" font-size="9" fill="#262626" stroke="#262626" stroke-width="0.22">1</text><text x="223.40" y="205.8" text-anchor="middle" font-size="9" fill="#262626" stroke="#262626" stroke-width="0.22">2.5</text><text x="241.35" y="205.8" text-anchor="middle" font-size="9" fill="#262626" stroke="#262626" stroke-width="0.22">5</text><text x="259.30" y="205.8" text-anchor="middle" font-size="9" fill="#262626" stroke="#262626" stroke-width="0.22">10</text><text x="89.3" y="225.3" font-size="10.4" fill="#262626" stroke="#262626" stroke-width="0.22" textLength="142.6" lengthAdjust="spacingAndGlyphs">ΔBurned area (×10<tspan dy="-4.2" font-size="7.3">−2</tspan><tspan dy="4.2"> Mha yr</tspan><tspan dy="-4.2" font-size="7.3">−1</tspan><tspan dy="4.2">)</tspan></text></g>
<g><rect x="360.50" y="182" width="18.25" height="12" fill="#1b2a63"/><rect x="378.45" y="182" width="18.25" height="12" fill="#2353a0"/><rect x="396.40" y="182" width="18.25" height="12" fill="#4a8fcc"/><rect x="414.35" y="182" width="18.25" height="12" fill="#8ecbee"/><rect x="432.30" y="182" width="18.25" height="12" fill="#c6e6f7"/><rect x="450.25" y="182" width="18.25" height="12" fill="#eef6fd"/><rect x="468.20" y="182" width="18.25" height="12" fill="#ffffff"/><rect x="486.15" y="182" width="18.25" height="12" fill="#fff5d0"/><rect x="504.10" y="182" width="18.25" height="12" fill="#fed07a"/><rect x="522.05" y="182" width="18.25" height="12" fill="#fd9a30"/><rect x="540.00" y="182" width="18.25" height="12" fill="#f05a2a"/><rect x="557.95" y="182" width="18.25" height="12" fill="#d42229"/><rect x="575.90" y="182" width="18.25" height="12" fill="#921a1c"/><rect x="360.50" y="182" width="233.35" height="12" fill="none" stroke="#333" stroke-width="0.6"/><text x="378.45" y="205.8" text-anchor="middle" font-size="9" fill="#262626" stroke="#262626" stroke-width="0.22">&#8722;10</text><text x="396.40" y="205.8" text-anchor="middle" font-size="9" fill="#262626" stroke="#262626" stroke-width="0.22">&#8722;5</text><text x="414.35" y="205.8" text-anchor="middle" font-size="9" fill="#262626" stroke="#262626" stroke-width="0.22">&#8722;2.5</text><text x="432.30" y="205.8" text-anchor="middle" font-size="9" fill="#262626" stroke="#262626" stroke-width="0.22">&#8722;1</text><text x="450.25" y="205.8" text-anchor="middle" font-size="9" fill="#262626" stroke="#262626" stroke-width="0.22">&#8722;0.5</text><text x="468.20" y="205.8" text-anchor="middle" font-size="9" fill="#262626" stroke="#262626" stroke-width="0.22">&#8722;0.1</text><text x="486.15" y="205.8" text-anchor="middle" font-size="9" fill="#262626" stroke="#262626" stroke-width="0.22">0.1</text><text x="504.10" y="205.8" text-anchor="middle" font-size="9" fill="#262626" stroke="#262626" stroke-width="0.22">0.5</text><text x="522.05" y="205.8" text-anchor="middle" font-size="9" fill="#262626" stroke="#262626" stroke-width="0.22">1</text><text x="540.00" y="205.8" text-anchor="middle" font-size="9" fill="#262626" stroke="#262626" stroke-width="0.22">2.5</text><text x="557.95" y="205.8" text-anchor="middle" font-size="9" fill="#262626" stroke="#262626" stroke-width="0.22">5</text><text x="575.90" y="205.8" text-anchor="middle" font-size="9" fill="#262626" stroke="#262626" stroke-width="0.22">10</text><text x="376" y="225.3" font-size="10.4" fill="#262626" stroke="#262626" stroke-width="0.22" textLength="204" lengthAdjust="spacingAndGlyphs">ΔReactive carbon emissions (g C m<tspan dy="-4.2" font-size="7.3">−2</tspan><tspan dy="4.2"> yr</tspan><tspan dy="-4.2" font-size="7.3">−1</tspan><tspan dy="4.2">)</tspan></text></g>
<g><line x1="86.4" y1="254.5" x2="86.4" y2="470.3" stroke="#7a7a7a" stroke-width="0.9"/><line x1="57.5" y1="435.2" x2="238.2" y2="435.2" stroke="#7a7a7a" stroke-width="0.9"/><line x1="53.7" y1="260.00" x2="57.5" y2="260.00" stroke="#7a7a7a" stroke-width="0.9"/><text transform="translate(49.30,263.30) scale(1.1,1)" font-size="9.4" text-anchor="end" fill="#262626" stroke="#262626" stroke-width="0.22">300</text><line x1="53.7" y1="289.20" x2="57.5" y2="289.20" stroke="#7a7a7a" stroke-width="0.9"/><text transform="translate(49.30,292.50) scale(1.1,1)" font-size="9.4" text-anchor="end" fill="#262626" stroke="#262626" stroke-width="0.22">250</text><line x1="53.7" y1="318.40" x2="57.5" y2="318.40" stroke="#7a7a7a" stroke-width="0.9"/><text transform="translate(49.30,321.70) scale(1.1,1)" font-size="9.4" text-anchor="end" fill="#262626" stroke="#262626" stroke-width="0.22">200</text><line x1="53.7" y1="347.60" x2="57.5" y2="347.60" stroke="#7a7a7a" stroke-width="0.9"/><text transform="translate(49.30,350.90) scale(1.1,1)" font-size="9.4" text-anchor="end" fill="#262626" stroke="#262626" stroke-width="0.22">150</text><line x1="53.7" y1="376.80" x2="57.5" y2="376.80" stroke="#7a7a7a" stroke-width="0.9"/><text transform="translate(49.30,380.10) scale(1.1,1)" font-size="9.4" text-anchor="end" fill="#262626" stroke="#262626" stroke-width="0.22">100</text><line x1="53.7" y1="406.00" x2="57.5" y2="406.00" stroke="#7a7a7a" stroke-width="0.9"/><text transform="translate(49.30,409.30) scale(1.1,1)" font-size="9.4" text-anchor="end" fill="#262626" stroke="#262626" stroke-width="0.22">50</text><line x1="53.7" y1="435.20" x2="57.5" y2="435.20" stroke="#7a7a7a" stroke-width="0.9"/><text transform="translate(49.30,438.50) scale(1.1,1)" font-size="9.4" text-anchor="end" fill="#262626" stroke="#262626" stroke-width="0.22">0</text><line x1="53.7" y1="464.40" x2="57.5" y2="464.40" stroke="#7a7a7a" stroke-width="0.9"/><text transform="translate(49.30,467.70) scale(1.1,1)" font-size="9.4" text-anchor="end" fill="#262626" stroke="#262626" stroke-width="0.22">&#8722;50</text><line x1="62.00" y1="470.3" x2="62.00" y2="474.1" stroke="#7a7a7a" stroke-width="0.9"/><text transform="translate(62.00,485.80) scale(1.1,1)" font-size="9.4" text-anchor="middle" fill="#262626" stroke="#262626" stroke-width="0.22">&#8722;50</text><line x1="86.40" y1="470.3" x2="86.40" y2="474.1" stroke="#7a7a7a" stroke-width="0.9"/><text transform="translate(86.40,485.80) scale(1.1,1)" font-size="9.4" text-anchor="middle" fill="#262626" stroke="#262626" stroke-width="0.22">0</text><line x1="110.80" y1="470.3" x2="110.80" y2="474.1" stroke="#7a7a7a" stroke-width="0.9"/><text transform="translate(110.80,485.80) scale(1.1,1)" font-size="9.4" text-anchor="middle" fill="#262626" stroke="#262626" stroke-width="0.22">50</text><line x1="135.20" y1="470.3" x2="135.20" y2="474.1" stroke="#7a7a7a" stroke-width="0.9"/><text transform="translate(135.20,485.80) scale(1.1,1)" font-size="9.4" text-anchor="middle" fill="#262626" stroke="#262626" stroke-width="0.22">100</text><line x1="159.60" y1="470.3" x2="159.60" y2="474.1" stroke="#7a7a7a" stroke-width="0.9"/><text transform="translate(159.60,485.80) scale(1.1,1)" font-size="9.4" text-anchor="middle" fill="#262626" stroke="#262626" stroke-width="0.22">150</text><line x1="184.00" y1="470.3" x2="184.00" y2="474.1" stroke="#7a7a7a" stroke-width="0.9"/><text transform="translate(184.00,485.80) scale(1.1,1)" font-size="9.4" text-anchor="middle" fill="#262626" stroke="#262626" stroke-width="0.22">200</text><line x1="208.40" y1="470.3" x2="208.40" y2="474.1" stroke="#7a7a7a" stroke-width="0.9"/><text transform="translate(208.40,485.80) scale(1.1,1)" font-size="9.4" text-anchor="middle" fill="#262626" stroke="#262626" stroke-width="0.22">250</text><line x1="232.80" y1="470.3" x2="232.80" y2="474.1" stroke="#7a7a7a" stroke-width="0.9"/><text transform="translate(232.80,485.80) scale(1.1,1)" font-size="9.4" text-anchor="middle" fill="#262626" stroke="#262626" stroke-width="0.22">300</text><rect x="57.5" y="254.5" width="180.70" height="215.80" fill="none" stroke="#7a7a7a" stroke-width="0.9"/><line x1="62.00" y1="464.40" x2="232.80" y2="260.00" stroke="#222" stroke-width="1.05" stroke-dasharray="5.6 3.3"/><text transform="translate(213.00,295.00)" font-size="10.0" textLength="11.4" lengthAdjust="spacingAndGlyphs" fill="#262626" stroke="#262626" stroke-width="0.22">1:1</text><text transform="translate(162.00,458.20)" font-size="10.6" textLength="57.8" lengthAdjust="spacingAndGlyphs" fill="#262626" stroke="#262626" stroke-width="0.22">2000–2059</text><rect x="89.9" y="367.8" width="12.2" height="12" fill="#e8584f" stroke="#333" stroke-width="0.7"/><circle cx="161.7" cy="268.6" r="4.35" fill="#8a2f3a" stroke="#444" stroke-width="0.7"/><circle cx="155.3" cy="328.7" r="4.35" fill="#e8584f" stroke="#444" stroke-width="0.7"/><circle cx="131.8" cy="369.2" r="4.35" fill="#e8584f" stroke="#444" stroke-width="0.7"/><circle cx="98.9" cy="402.1" r="4.35" fill="#f4a08a" stroke="#444" stroke-width="0.7"/><circle cx="100.7" cy="411.4" r="4.35" fill="#f4a08a" stroke="#444" stroke-width="0.7"/><circle cx="108.6" cy="415.6" r="4.35" fill="#fdf1ec" stroke="#444" stroke-width="0.7"/><circle cx="86.6" cy="420.3" r="4.35" fill="#f4a08a" stroke="#444" stroke-width="0.7"/><circle cx="78.8" cy="425.6" r="4.35" fill="#f4a08a" stroke="#444" stroke-width="0.7"/><line x1="150.5" y1="278" x2="161.7" y2="268.6" stroke="#333" stroke-width="0.75"/><line x1="145" y1="318" x2="155.3" y2="328.7" stroke="#333" stroke-width="0.75"/><line x1="108.5" y1="352" x2="97" y2="371.8" stroke="#333" stroke-width="0.75"/><line x1="139" y1="355" x2="131.8" y2="369.2" stroke="#333" stroke-width="0.75"/><line x1="108" y1="390.5" x2="98.9" y2="402.1" stroke="#333" stroke-width="0.75"/><line x1="120.5" y1="404.4" x2="104.6" y2="409.6" stroke="#333" stroke-width="0.75"/><line x1="108.6" y1="415.6" x2="120.5" y2="424.3" stroke="#333" stroke-width="0.75"/><line x1="78.4" y1="412.4" x2="86.6" y2="420.3" stroke="#333" stroke-width="0.75"/><line x1="78.8" y1="425.6" x2="89.8" y2="434.7" stroke="#333" stroke-width="0.75"/><text transform="translate(139.35,287.00)" font-size="8.2" text-anchor="middle" textLength="22.3" lengthAdjust="spacingAndGlyphs" fill="#262626" stroke="#262626" stroke-width="0.22">SSEA</text><text transform="translate(133.40,316.20)" font-size="8.2" text-anchor="middle" textLength="22.8" lengthAdjust="spacingAndGlyphs" fill="#262626" stroke="#262626" stroke-width="0.22">STHA</text><text transform="translate(109.65,348.30)" font-size="8.2" text-anchor="middle" textLength="27.700000000000003" lengthAdjust="spacingAndGlyphs" fill="#262626" stroke="#262626" stroke-width="0.22">Global</text><text transform="translate(143.50,350.70)" font-size="8.2" text-anchor="middle" textLength="23.400000000000002" lengthAdjust="spacingAndGlyphs" fill="#262626" stroke="#262626" stroke-width="0.22">NTHA</text><text transform="translate(108.90,390.90)" font-size="8.2" text-anchor="middle" textLength="25.0" lengthAdjust="spacingAndGlyphs" fill="#262626" stroke="#262626" stroke-width="0.22">MENA</text><text transform="translate(136.40,407.40)" font-size="8.2" text-anchor="middle" textLength="22.400000000000002" lengthAdjust="spacingAndGlyphs" fill="#262626" stroke="#262626" stroke-width="0.22">EURA</text><text transform="translate(130.90,434.10)" font-size="8.2" text-anchor="middle" textLength="24.6" lengthAdjust="spacingAndGlyphs" fill="#262626" stroke="#262626" stroke-width="0.22">OCEA</text><text transform="translate(72.50,410.30)" font-size="8.2" text-anchor="middle" textLength="22.400000000000002" lengthAdjust="spacingAndGlyphs" fill="#262626" stroke="#262626" stroke-width="0.22">SHAF</text><text transform="translate(99.90,444.90)" font-size="8.2" text-anchor="middle" textLength="24.0" lengthAdjust="spacingAndGlyphs" fill="#262626" stroke="#262626" stroke-width="0.22">NHAF</text><text transform="translate(148.00,501.50)" font-size="10.4" text-anchor="middle" textLength="171.5" lengthAdjust="spacingAndGlyphs" fill="#262626" stroke="#262626" stroke-width="0.22">Relative change of burned area (%)</text><text transform="translate(10.20,362.10) rotate(-90)" font-size="10.4" text-anchor="middle" textLength="171.5" lengthAdjust="spacingAndGlyphs" fill="#262626" stroke="#262626" stroke-width="0.22">Relative change of reactive carbon</text><text transform="translate(21.20,362.30) rotate(-90)" font-size="10.4" text-anchor="middle" textLength="66" lengthAdjust="spacingAndGlyphs" fill="#262626" stroke="#262626" stroke-width="0.22">emissions (%)</text><rect x="245.6" y="280.1" width="10.3" height="29.4" fill="#62000f" stroke="#111" stroke-width="0.9"/><text transform="translate(260.80,287.70) scale(1.12,1)" font-size="8.8" fill="#262626" stroke="#262626" stroke-width="0.22">1.60</text><line x1="269.5" y1="293.7" x2="269.5" y2="297.5" stroke="#999" stroke-width="0.8"/><text transform="translate(260.80,309.10) scale(1.12,1)" font-size="8.8" fill="#262626" stroke="#262626" stroke-width="0.22">0.41</text><rect x="245.6" y="324.9" width="10.3" height="29.4" fill="#f78a68" stroke="#111" stroke-width="0.9"/><text transform="translate(260.80,332.50) scale(1.12,1)" font-size="8.8" fill="#262626" stroke="#262626" stroke-width="0.22">0.40</text><line x1="269.5" y1="338.5" x2="269.5" y2="342.3" stroke="#999" stroke-width="0.8"/><text transform="translate(260.80,353.90) scale(1.12,1)" font-size="8.8" fill="#262626" stroke="#262626" stroke-width="0.22">0.16</text><rect x="245.6" y="370.6" width="10.3" height="29.4" fill="#fbd5c6" stroke="#111" stroke-width="0.9"/><text transform="translate(260.80,378.20) scale(1.12,1)" font-size="8.8" fill="#262626" stroke="#262626" stroke-width="0.22">0.15</text><line x1="269.5" y1="384.2" x2="269.5" y2="388.0" stroke="#999" stroke-width="0.8"/><text transform="translate(260.80,399.60) scale(1.12,1)" font-size="8.8" fill="#262626" stroke="#262626" stroke-width="0.22">0.01</text><rect x="245.6" y="415.1" width="10.3" height="29.4" fill="#fff3ee" stroke="#111" stroke-width="0.9"/><text transform="translate(260.80,422.70) scale(1.12,1)" font-size="8.8" fill="#262626" stroke="#262626" stroke-width="0.22">0</text><line x1="269.5" y1="428.7" x2="269.5" y2="432.5" stroke="#999" stroke-width="0.8"/><text transform="translate(260.80,444.10) scale(1.12,1)" font-size="8.8" fill="#262626" stroke="#262626" stroke-width="0.22">&#8722;0.02</text><text transform="translate(293.60,262.00) rotate(90)" font-size="10.4" textLength="199.5" lengthAdjust="spacingAndGlyphs" fill="#262626" stroke="#262626" stroke-width="0.22">Change of emission intensity (TgC Mha<tspan dy="-4" font-size="7.5">&#8722;1</tspan><tspan dy="4">)</tspan></text></g>
<g><line x1="370.09999999999997" y1="306.12" x2="373.9" y2="306.12" stroke="#7a7a7a" stroke-width="0.9"/><text transform="translate(367.00,309.42) scale(1.06,1)" font-size="9.4" text-anchor="end" fill="#262626" stroke="#262626" stroke-width="0.22">0.8</text><line x1="370.09999999999997" y1="340.60" x2="373.9" y2="340.60" stroke="#7a7a7a" stroke-width="0.9"/><text transform="translate(367.00,343.90) scale(1.06,1)" font-size="9.4" text-anchor="end" fill="#262626" stroke="#262626" stroke-width="0.22">0</text><line x1="370.09999999999997" y1="375.08" x2="373.9" y2="375.08" stroke="#7a7a7a" stroke-width="0.9"/><text transform="translate(367.00,378.38) scale(1.06,1)" font-size="9.4" text-anchor="end" fill="#262626" stroke="#262626" stroke-width="0.22">&#8722;0.8</text><line x1="370.09999999999997" y1="409.56" x2="373.9" y2="409.56" stroke="#7a7a7a" stroke-width="0.9"/><text transform="translate(367.00,412.86) scale(1.06,1)" font-size="9.4" text-anchor="end" fill="#262626" stroke="#262626" stroke-width="0.22">&#8722;1.6</text><line x1="370.09999999999997" y1="444.04" x2="373.9" y2="444.04" stroke="#7a7a7a" stroke-width="0.9"/><text transform="translate(367.00,447.34) scale(1.06,1)" font-size="9.4" text-anchor="end" fill="#262626" stroke="#262626" stroke-width="0.22">&#8722;2.4</text><line x1="401.26" y1="470.4" x2="401.26" y2="474.2" stroke="#7a7a7a" stroke-width="0.9"/><text transform="translate(401.26,486.00) scale(1.06,1)" font-size="9.4" text-anchor="middle" fill="#262626" stroke="#262626" stroke-width="0.22">&#8722;2.4</text><line x1="437.34" y1="470.4" x2="437.34" y2="474.2" stroke="#7a7a7a" stroke-width="0.9"/><text transform="translate(437.34,486.00) scale(1.06,1)" font-size="9.4" text-anchor="middle" fill="#262626" stroke="#262626" stroke-width="0.22">&#8722;1.6</text><line x1="473.42" y1="470.4" x2="473.42" y2="474.2" stroke="#7a7a7a" stroke-width="0.9"/><text transform="translate(473.42,486.00) scale(1.06,1)" font-size="9.4" text-anchor="middle" fill="#262626" stroke="#262626" stroke-width="0.22">&#8722;0.8</text><line x1="509.50" y1="470.4" x2="509.50" y2="474.2" stroke="#7a7a7a" stroke-width="0.9"/><text transform="translate(509.50,486.00) scale(1.06,1)" font-size="9.4" text-anchor="middle" fill="#262626" stroke="#262626" stroke-width="0.22">0</text><line x1="545.58" y1="470.4" x2="545.58" y2="474.2" stroke="#7a7a7a" stroke-width="0.9"/><text transform="translate(545.58,486.00) scale(1.06,1)" font-size="9.4" text-anchor="middle" fill="#262626" stroke="#262626" stroke-width="0.22">0.8</text><line x1="373.9" y1="340.60" x2="554.8" y2="340.60" stroke="#a8a8a8" stroke-width="1.3"/><line x1="509.50" y1="254.3" x2="509.50" y2="470.4" stroke="#555" stroke-width="0.9"/><rect x="373.9" y="254.3" width="180.90" height="216.10" fill="none" stroke="#7a7a7a" stroke-width="0.9"/><text transform="translate(396.30,269.60)" font-size="10.6" textLength="58.8" lengthAdjust="spacingAndGlyphs" fill="#262626" stroke="#262626" stroke-width="0.22">2000–2009</text><path d="M428.5,409.9H473.3M428.5,407.9V411.9M473.3,407.9V411.9" stroke="#f3dcc2" stroke-width="1.0" fill="none" opacity="1.0"/><path d="M450.7,362.8V456.0M448.7,362.8H452.7M448.7,456.0H452.7" stroke="#f3dcc2" stroke-width="1.0" fill="none" opacity="1.0"/><path d="M503.1,346.7H523.7M503.1,344.7V348.7M523.7,344.7V348.7" stroke="#dadada" stroke-width="1.0" fill="none" opacity="1.0"/><path d="M512.1,330.1V362.6M510.1,330.1H514.1M510.1,362.6H514.1" stroke="#dadada" stroke-width="1.0" fill="none" opacity="1.0"/><path d="M452.6,363.3H500.0M452.6,361.3V365.3M500.0,361.3V365.3" stroke="#aeaed2" stroke-width="1.0" fill="none" opacity="1.0"/><path d="M480.1,346.7V379.3M478.1,346.7H482.1M478.1,379.3H482.1" stroke="#aeaed2" stroke-width="1.0" fill="none" opacity="1.0"/><path d="M470.0,371.3H505.0M470.0,369.3V373.3M505.0,369.3V373.3" stroke="#d8b4c8" stroke-width="1.0" fill="none" opacity="1.0"/><path d="M487.7,351.8V391.2M485.7,351.8H489.7M485.7,391.2H489.7" stroke="#d8b4c8" stroke-width="1.0" fill="none" opacity="1.0"/><path d="M470.6,355.2H529.8M470.6,353.2V357.2M529.8,353.2V357.2" stroke="#a9bfd6" stroke-width="1.0" fill="none" opacity="1.0"/><path d="M499.9,307.0V396.0M497.9,307.0H501.9M497.9,396.0H501.9" stroke="#a9bfd6" stroke-width="1.0" fill="none" opacity="1.0"/><path d="M486.4,363.7H516.3M486.4,361.7V365.7M516.3,361.7V365.7" stroke="#86a89c" stroke-width="1.0" fill="none" opacity="1.0"/><path d="M501.4,341.2V385.6M499.4,341.2H503.4M499.4,385.6H503.4" stroke="#86a89c" stroke-width="1.0" fill="none" opacity="1.0"/><path d="M494.4,370.1H530.6M494.4,368.1V372.1M530.6,368.1V372.1" stroke="#f2b383" stroke-width="1.0" fill="none" opacity="1.0"/><path d="M509.0,322.9V416.0M507.0,322.9H511.0M507.0,416.0H511.0" stroke="#f2b383" stroke-width="1.0" fill="none" opacity="1.0"/><path d="M413.3,363.6H462.1M413.3,361.6V365.6M462.1,361.6V365.6" stroke="#78bdec" stroke-width="1.0" fill="none" opacity="0.8"/><path d="M437.5,314.3V417.5M435.5,314.3H439.5M435.5,417.5H439.5" stroke="#78bdec" stroke-width="1.0" fill="none" opacity="0.8"/><path d="M414.5,346.9H459.8M414.5,344.9V348.9M459.8,344.9V348.9" stroke="#6fa884" stroke-width="1.1" fill="none" opacity="1.0"/><path d="M437.3,276.3V417.0M435.3,276.3H439.3M435.3,417.0H439.3" stroke="#6fa884" stroke-width="1.1" fill="none" opacity="1.0"/><path d="M426.4,370.7H487.0M426.4,368.7V372.7M487.0,368.7V372.7" stroke="#545482" stroke-width="1.1" fill="none" opacity="1.0"/><path d="M460.2,330.3V410.9M458.2,330.3H462.2M458.2,410.9H462.2" stroke="#545482" stroke-width="1.1" fill="none" opacity="1.0"/><path d="M438.5,358.8H453.4M438.5,356.8V360.8M453.4,356.8V360.8" stroke="#d04a4a" stroke-width="1.0" fill="none" opacity="1.0"/><path d="M445.5,348.5V369.4M443.5,348.5H447.5M443.5,369.4H447.5" stroke="#d04a4a" stroke-width="1.0" fill="none" opacity="1.0"/><circle cx="450.7" cy="409.9" r="4.5" fill="#f1dcc0" stroke="#666" stroke-width="0.7"/><circle cx="512.1" cy="346.7" r="4.5" fill="#dcdcdc" stroke="#666" stroke-width="0.7"/><circle cx="480.1" cy="363.3" r="4.5" fill="#b4b4d2" stroke="#666" stroke-width="0.7"/><circle cx="487.7" cy="371.3" r="4.5" fill="#d4bccb" stroke="#666" stroke-width="0.7"/><circle cx="499.9" cy="355.2" r="4.5" fill="#b0c4d8" stroke="#666" stroke-width="0.7"/><circle cx="501.4" cy="363.7" r="4.5" fill="#a2bcb4" stroke="#666" stroke-width="0.7"/><circle cx="509.0" cy="370.1" r="4.5" fill="#f5c49c" stroke="#666" stroke-width="0.7"/><polygon points="437.30,342.90 441.48,345.94 439.89,350.86 434.71,350.86 433.12,345.94" fill="#3f8a55" stroke="#111" stroke-width="0.7"/><rect x="433.5" y="359.7" width="7.8" height="7.8" fill="#5aaeeb" stroke="#111" stroke-width="0.8"/><polygon points="460.20,366.70 464.38,369.74 462.79,374.66 457.61,374.66 456.02,369.74" fill="#1f1f4f" stroke="#111" stroke-width="0.7"/><polygon points="445.5,353.2 451.1,358.8 445.5,364.4 439.9,358.8" fill="#a3161b" stroke="#111" stroke-width="0.8"/><text transform="translate(464.40,501.50)" font-size="10.4" text-anchor="middle" textLength="140" lengthAdjust="spacingAndGlyphs" fill="#262626" stroke="#262626" stroke-width="0.22">Trend in burned area (% yr<tspan dy="-4" font-size="7.5">&#8722;1</tspan><tspan dy="4">)</tspan></text><text transform="translate(339.20,362.10) rotate(-90)" font-size="10.4" text-anchor="middle" textLength="122" lengthAdjust="spacingAndGlyphs" fill="#262626" stroke="#262626" stroke-width="0.22">Trend in emission (% yr<tspan dy="-4" font-size="7.5">&#8722;1</tspan><tspan dy="4">)</tspan></text><polygon points="563.2,269.3 568.5,274.6 563.2,279.9 557.9000000000001,274.6" fill="#a3161b" stroke="#111" stroke-width="0.8"/><text transform="translate(574.30,278.10)" font-size="9.0" textLength="81.7" lengthAdjust="spacingAndGlyphs" fill="#222" stroke="#222" stroke-width="0.22">This study (RESFire)</text><text transform="translate(558.80,291.80)" font-size="9.0" textLength="102.9" lengthAdjust="spacingAndGlyphs" fill="#222" stroke="#222" stroke-width="0.22">Observation-constrained</text><rect x="559.6" y="297.7" width="7.4" height="7.2" fill="#5aaeeb" stroke="#111" stroke-width="0.8"/><text transform="translate(574.30,304.60)" font-size="9.0" textLength="74.5" lengthAdjust="spacingAndGlyphs" fill="#222" stroke="#222" stroke-width="0.22">Satellite-inversion</text><polygon points="563.20,310.50 567.19,313.40 565.67,318.10 560.73,318.10 559.21,313.40" fill="#3f8a55" stroke="#111" stroke-width="0.7"/><text transform="translate(574.30,317.60)" font-size="9.0" textLength="38.6" lengthAdjust="spacingAndGlyphs" fill="#222" stroke="#222" stroke-width="0.22">GFED4.1s</text><polygon points="563.20,323.40 567.19,326.30 565.67,331.00 560.73,331.00 559.21,326.30" fill="#1f1f4f" stroke="#111" stroke-width="0.7"/><text transform="translate(574.30,330.50)" font-size="9.0" textLength="31.4" lengthAdjust="spacingAndGlyphs" fill="#222" stroke="#222" stroke-width="0.22">FINN1.5</text><text transform="translate(558.80,345.80)" font-size="9.0" textLength="31.0" lengthAdjust="spacingAndGlyphs" fill="#222" stroke="#222" stroke-width="0.22">FireMIP</text><circle cx="563.2" cy="353.60" r="3.9" fill="#b4b4d2" stroke="#666" stroke-width="0.7"/><text transform="translate(574.30,356.90)" font-size="9.0" textLength="83.3" lengthAdjust="spacingAndGlyphs" fill="#222" stroke="#222" stroke-width="0.22">ORCHIDEE-SPITFIRE</text><circle cx="563.2" cy="366.73" r="3.9" fill="#d4bccb" stroke="#666" stroke-width="0.7"/><text transform="translate(574.30,370.03)" font-size="9.0" textLength="66.2" lengthAdjust="spacingAndGlyphs" fill="#222" stroke="#222" stroke-width="0.22">JULES-INFERNO</text><circle cx="563.2" cy="379.86" r="3.9" fill="#f1dcc0" stroke="#666" stroke-width="0.7"/><text transform="translate(574.30,383.16)" font-size="9.0" textLength="113.0" lengthAdjust="spacingAndGlyphs" fill="#222" stroke="#222" stroke-width="0.22">LPJ-GUESS-SIMFIRE-BLAZE</text><circle cx="563.2" cy="392.99" r="3.9" fill="#dcdcdc" stroke="#666" stroke-width="0.7"/><text transform="translate(574.30,396.29)" font-size="9.0" textLength="72.6" lengthAdjust="spacingAndGlyphs" fill="#222" stroke="#222" stroke-width="0.22">JSBACH-SPITFIRE</text><circle cx="563.2" cy="406.12" r="3.9" fill="#b0c4d8" stroke="#666" stroke-width="0.7"/><text transform="translate(574.30,409.42)" font-size="9.0" textLength="84.5" lengthAdjust="spacingAndGlyphs" fill="#222" stroke="#222" stroke-width="0.22">LPJ-GUESS-SPITFIRE</text><circle cx="563.2" cy="419.25" r="3.9" fill="#a2bcb4" stroke="#666" stroke-width="0.7"/><text transform="translate(574.30,422.55)" font-size="9.0" textLength="23.3" lengthAdjust="spacingAndGlyphs" fill="#222" stroke="#222" stroke-width="0.22">CTEM</text><circle cx="563.2" cy="432.38" r="3.9" fill="#f5c49c" stroke="#666" stroke-width="0.7"/><text transform="translate(574.30,435.68)" font-size="9.0" textLength="18.6" lengthAdjust="spacingAndGlyphs" fill="#222" stroke="#222" stroke-width="0.22">CLM</text></g>
</svg></body></html>
